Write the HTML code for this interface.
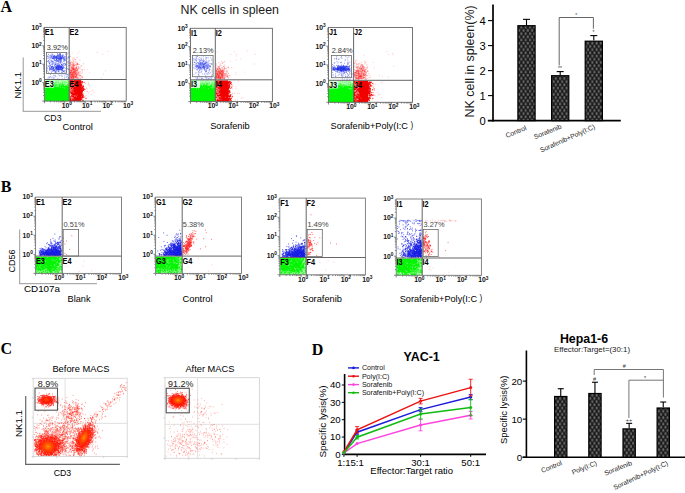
<!DOCTYPE html>
<html><head><meta charset="utf-8"><style>
html,body{margin:0;padding:0;background:#fff;width:685px;height:493px;overflow:hidden}
svg{display:block}
</style></head><body>
<svg width="685" height="493" viewBox="0 0 685 493">
<rect width="685" height="493" fill="#fff"/>
<defs><linearGradient id="gtop" x1="0" y1="0" x2="0" y2="1"><stop offset="0" stop-color="#fff" stop-opacity="0.6"/><stop offset="1" stop-color="#fff" stop-opacity="0"/></linearGradient></defs>
<text x="0.5" y="11.8" font-size="16" text-anchor="start" font-weight="bold" fill="#000" font-family='"Liberation Serif", serif' >A</text>
<text x="0.8" y="191.5" font-size="16" text-anchor="start" font-weight="bold" fill="#000" font-family='"Liberation Serif", serif' >B</text>
<text x="0.6" y="354.1" font-size="16" text-anchor="start" font-weight="bold" fill="#000" font-family='"Liberation Serif", serif' >C</text>
<text x="311.7" y="354.7" font-size="16" text-anchor="start" font-weight="bold" fill="#000" font-family='"Liberation Serif", serif' >D</text>
<text x="180.6" y="14.1" font-size="12.4" text-anchor="start" font-weight="normal" fill="#1a1a1a" font-family='"Liberation Sans", sans-serif' textLength="98.3" lengthAdjust="spacingAndGlyphs" >NK cells in spleen</text>
<line x1="42.2" y1="101.1" x2="44.4" y2="101.1" stroke="#555" stroke-width="0.7" />
<line x1="43.1" y1="95.6" x2="44.4" y2="95.6" stroke="#555" stroke-width="0.7" />
<line x1="43.1" y1="92.3" x2="44.4" y2="92.3" stroke="#555" stroke-width="0.7" />
<line x1="43.1" y1="90" x2="44.4" y2="90" stroke="#555" stroke-width="0.7" />
<line x1="43.1" y1="88.2" x2="44.4" y2="88.2" stroke="#555" stroke-width="0.7" />
<line x1="43.1" y1="86.8" x2="44.4" y2="86.8" stroke="#555" stroke-width="0.7" />
<line x1="43.1" y1="85.5" x2="44.4" y2="85.5" stroke="#555" stroke-width="0.7" />
<line x1="43.1" y1="84.5" x2="44.4" y2="84.5" stroke="#555" stroke-width="0.7" />
<line x1="43.1" y1="83.5" x2="44.4" y2="83.5" stroke="#555" stroke-width="0.7" />
<line x1="42.2" y1="82.7" x2="44.4" y2="82.7" stroke="#555" stroke-width="0.7" />
<line x1="43.1" y1="77.1" x2="44.4" y2="77.1" stroke="#555" stroke-width="0.7" />
<line x1="43.1" y1="73.9" x2="44.4" y2="73.9" stroke="#555" stroke-width="0.7" />
<line x1="43.1" y1="71.6" x2="44.4" y2="71.6" stroke="#555" stroke-width="0.7" />
<line x1="43.1" y1="69.8" x2="44.4" y2="69.8" stroke="#555" stroke-width="0.7" />
<line x1="43.1" y1="68.3" x2="44.4" y2="68.3" stroke="#555" stroke-width="0.7" />
<line x1="43.1" y1="67.1" x2="44.4" y2="67.1" stroke="#555" stroke-width="0.7" />
<line x1="43.1" y1="66" x2="44.4" y2="66" stroke="#555" stroke-width="0.7" />
<line x1="43.1" y1="65.1" x2="44.4" y2="65.1" stroke="#555" stroke-width="0.7" />
<line x1="42.2" y1="64.2" x2="44.4" y2="64.2" stroke="#555" stroke-width="0.7" />
<line x1="43.1" y1="58.7" x2="44.4" y2="58.7" stroke="#555" stroke-width="0.7" />
<line x1="43.1" y1="55.5" x2="44.4" y2="55.5" stroke="#555" stroke-width="0.7" />
<line x1="43.1" y1="53.2" x2="44.4" y2="53.2" stroke="#555" stroke-width="0.7" />
<line x1="43.1" y1="51.4" x2="44.4" y2="51.4" stroke="#555" stroke-width="0.7" />
<line x1="43.1" y1="49.9" x2="44.4" y2="49.9" stroke="#555" stroke-width="0.7" />
<line x1="43.1" y1="48.7" x2="44.4" y2="48.7" stroke="#555" stroke-width="0.7" />
<line x1="43.1" y1="47.6" x2="44.4" y2="47.6" stroke="#555" stroke-width="0.7" />
<line x1="43.1" y1="46.7" x2="44.4" y2="46.7" stroke="#555" stroke-width="0.7" />
<line x1="42.2" y1="45.8" x2="44.4" y2="45.8" stroke="#555" stroke-width="0.7" />
<line x1="43.1" y1="40.3" x2="44.4" y2="40.3" stroke="#555" stroke-width="0.7" />
<line x1="43.1" y1="37" x2="44.4" y2="37" stroke="#555" stroke-width="0.7" />
<line x1="43.1" y1="34.7" x2="44.4" y2="34.7" stroke="#555" stroke-width="0.7" />
<line x1="43.1" y1="32.9" x2="44.4" y2="32.9" stroke="#555" stroke-width="0.7" />
<line x1="43.1" y1="31.5" x2="44.4" y2="31.5" stroke="#555" stroke-width="0.7" />
<line x1="43.1" y1="30.3" x2="44.4" y2="30.3" stroke="#555" stroke-width="0.7" />
<line x1="43.1" y1="29.2" x2="44.4" y2="29.2" stroke="#555" stroke-width="0.7" />
<line x1="43.1" y1="28.2" x2="44.4" y2="28.2" stroke="#555" stroke-width="0.7" />
<line x1="44.4" y1="101.1" x2="44.4" y2="103.3" stroke="#555" stroke-width="0.7" />
<line x1="50.6" y1="101.1" x2="50.6" y2="102.4" stroke="#555" stroke-width="0.7" />
<line x1="54.2" y1="101.1" x2="54.2" y2="102.4" stroke="#555" stroke-width="0.7" />
<line x1="56.7" y1="101.1" x2="56.7" y2="102.4" stroke="#555" stroke-width="0.7" />
<line x1="58.7" y1="101.1" x2="58.7" y2="102.4" stroke="#555" stroke-width="0.7" />
<line x1="60.3" y1="101.1" x2="60.3" y2="102.4" stroke="#555" stroke-width="0.7" />
<line x1="61.7" y1="101.1" x2="61.7" y2="102.4" stroke="#555" stroke-width="0.7" />
<line x1="62.9" y1="101.1" x2="62.9" y2="102.4" stroke="#555" stroke-width="0.7" />
<line x1="63.9" y1="101.1" x2="63.9" y2="102.4" stroke="#555" stroke-width="0.7" />
<line x1="64.8" y1="101.1" x2="64.8" y2="103.3" stroke="#555" stroke-width="0.7" />
<line x1="71" y1="101.1" x2="71" y2="102.4" stroke="#555" stroke-width="0.7" />
<line x1="74.6" y1="101.1" x2="74.6" y2="102.4" stroke="#555" stroke-width="0.7" />
<line x1="77.2" y1="101.1" x2="77.2" y2="102.4" stroke="#555" stroke-width="0.7" />
<line x1="79.1" y1="101.1" x2="79.1" y2="102.4" stroke="#555" stroke-width="0.7" />
<line x1="80.8" y1="101.1" x2="80.8" y2="102.4" stroke="#555" stroke-width="0.7" />
<line x1="82.1" y1="101.1" x2="82.1" y2="102.4" stroke="#555" stroke-width="0.7" />
<line x1="83.3" y1="101.1" x2="83.3" y2="102.4" stroke="#555" stroke-width="0.7" />
<line x1="84.4" y1="101.1" x2="84.4" y2="102.4" stroke="#555" stroke-width="0.7" />
<line x1="85.3" y1="101.1" x2="85.3" y2="103.3" stroke="#555" stroke-width="0.7" />
<line x1="91.5" y1="101.1" x2="91.5" y2="102.4" stroke="#555" stroke-width="0.7" />
<line x1="95.1" y1="101.1" x2="95.1" y2="102.4" stroke="#555" stroke-width="0.7" />
<line x1="97.6" y1="101.1" x2="97.6" y2="102.4" stroke="#555" stroke-width="0.7" />
<line x1="99.6" y1="101.1" x2="99.6" y2="102.4" stroke="#555" stroke-width="0.7" />
<line x1="101.2" y1="101.1" x2="101.2" y2="102.4" stroke="#555" stroke-width="0.7" />
<line x1="102.6" y1="101.1" x2="102.6" y2="102.4" stroke="#555" stroke-width="0.7" />
<line x1="103.8" y1="101.1" x2="103.8" y2="102.4" stroke="#555" stroke-width="0.7" />
<line x1="104.8" y1="101.1" x2="104.8" y2="102.4" stroke="#555" stroke-width="0.7" />
<line x1="105.8" y1="101.1" x2="105.8" y2="103.3" stroke="#555" stroke-width="0.7" />
<line x1="111.9" y1="101.1" x2="111.9" y2="102.4" stroke="#555" stroke-width="0.7" />
<line x1="115.5" y1="101.1" x2="115.5" y2="102.4" stroke="#555" stroke-width="0.7" />
<line x1="118.1" y1="101.1" x2="118.1" y2="102.4" stroke="#555" stroke-width="0.7" />
<line x1="120" y1="101.1" x2="120" y2="102.4" stroke="#555" stroke-width="0.7" />
<line x1="121.7" y1="101.1" x2="121.7" y2="102.4" stroke="#555" stroke-width="0.7" />
<line x1="123" y1="101.1" x2="123" y2="102.4" stroke="#555" stroke-width="0.7" />
<line x1="124.2" y1="101.1" x2="124.2" y2="102.4" stroke="#555" stroke-width="0.7" />
<line x1="125.3" y1="101.1" x2="125.3" y2="102.4" stroke="#555" stroke-width="0.7" />
<text x="41.6" y="84.975" font-size="6.8" text-anchor="end" font-weight="bold" fill="#111" font-family='"Liberation Sans", sans-serif'>10<tspan font-size="4.76" dy="-2.6">0</tspan></text>
<text x="61.64999999999999" y="107.89999999999999" font-size="6.8" font-weight="bold" fill="#111" font-family='"Liberation Sans", sans-serif'>10<tspan font-size="4.76" dy="-2.6">0</tspan></text>
<text x="41.6" y="66.55" font-size="6.8" text-anchor="end" font-weight="bold" fill="#111" font-family='"Liberation Sans", sans-serif'>10<tspan font-size="4.76" dy="-2.6">1</tspan></text>
<text x="82.10000000000001" y="107.89999999999999" font-size="6.8" font-weight="bold" fill="#111" font-family='"Liberation Sans", sans-serif'>10<tspan font-size="4.76" dy="-2.6">1</tspan></text>
<text x="41.6" y="48.125" font-size="6.8" text-anchor="end" font-weight="bold" fill="#111" font-family='"Liberation Sans", sans-serif'>10<tspan font-size="4.76" dy="-2.6">2</tspan></text>
<text x="102.55" y="107.89999999999999" font-size="6.8" font-weight="bold" fill="#111" font-family='"Liberation Sans", sans-serif'>10<tspan font-size="4.76" dy="-2.6">2</tspan></text>
<text x="41.6" y="29.700000000000006" font-size="6.8" text-anchor="end" font-weight="bold" fill="#111" font-family='"Liberation Sans", sans-serif'>10<tspan font-size="4.76" dy="-2.6">3</tspan></text>
<text x="123.00000000000001" y="107.89999999999999" font-size="6.8" font-weight="bold" fill="#111" font-family='"Liberation Sans", sans-serif'>10<tspan font-size="4.76" dy="-2.6">3</tspan></text>
<rect x="44.8" y="80.1" width="24.400000000000006" height="20.999999999999993" fill="#00f800"/>
<rect x="44.8" y="80.1" width="24.400000000000006" height="6" fill="url(#gtop)"/>
<path stroke="#ffffff" stroke-opacity="0.5" stroke-width="0.9" d="M59.6 81.2h.9M66.0 80.9h.9M63.1 82.6h.9M50.2 81.0h.9M52.0 87.5h.9M65.4 84.5h.9M45.0 81.8h.9M64.2 88.0h.9M63.6 83.5h.9M55.9 86.7h.9M52.0 83.2h.9M51.4 83.5h.9M50.9 83.3h.9M55.4 81.0h.9M56.8 85.9h.9M57.9 84.9h.9M63.5 80.8h.9M59.5 81.5h.9M50.0 84.0h.9M48.7 84.4h.9M59.3 82.5h.9M45.9 80.7h.9M45.7 83.3h.9M57.0 82.7h.9M55.9 85.0h.9M66.5 84.9h.9M59.7 81.1h.9M57.0 83.9h.9M56.6 80.6h.9M50.7 83.0h.9M45.2 81.7h.9M49.4 82.5h.9M61.2 80.6h.9M49.6 81.9h.9M53.6 81.6h.9M45.0 85.4h.9M64.4 83.4h.9M48.5 86.3h.9M51.2 82.9h.9M65.6 84.2h.9M56.9 81.7h.9M64.8 85.5h.9M59.9 85.6h.9M62.3 81.3h.9M47.1 82.8h.9M57.6 86.7h.9M56.8 83.1h.9M65.4 80.6h.9M53.4 80.8h.9M59.0 83.2h.9M46.3 82.1h.9M54.0 82.4h.9M52.5 81.1h.9M48.4 84.4h.9M64.1 84.8h.9M53.8 85.2h.9M58.8 81.6h.9M59.1 80.7h.9M59.9 82.1h.9M60.8 82.3h.9M48.4 82.8h.9M55.2 81.6h.9M50.5 81.1h.9M54.4 80.6h.9M47.2 84.7h.9M67.6 82.9h.9M50.0 81.9h.9M60.7 82.5h.9M52.0 85.4h.9M65.4 83.9h.9M60.5 83.9h.9M48.0 81.0h.9M64.8 82.4h.9M67.1 83.3h.9M66.1 83.5h.9M58.3 83.8h.9M48.3 82.1h.9M49.4 85.9h.9M66.7 84.9h.9M57.9 83.6h.9M49.1 82.3h.9M65.7 83.6h.9M60.0 87.1h.9M58.3 85.7h.9M53.7 84.6h.9M54.6 86.5h.9M50.5 83.4h.9M45.8 84.1h.9M65.5 80.6h.9M55.9 83.5h.9M57.8 86.3h.9M52.5 87.9h.9M62.6 81.5h.9M45.5 80.7h.9M53.6 81.4h.9M45.6 80.7h.9M47.8 83.6h.9M67.6 85.8h.9M60.4 81.1h.9M55.0 84.0h.9M57.2 86.3h.9M65.4 82.3h.9M53.0 80.8h.9M58.8 82.0h.9M61.0 84.0h.9M53.3 82.9h.9M57.1 84.0h.9M62.9 83.7h.9M66.3 81.2h.9M48.4 83.3h.9M66.8 81.8h.9M45.0 81.7h.9M62.6 87.6h.9M63.9 85.4h.9M48.1 83.7h.9M54.7 80.9h.9M64.1 80.6h.9"/>
<rect x="44.9" y="80.7" width="9" height="7" fill="#fff" opacity="0.75"/>
<rect x="69.7" y="80.7" width="9" height="7" fill="#fff" opacity="0.2"/>
<rect x="69.60000000000001" y="80.1" width="11.4" height="21.0" fill="#f20000"/>
<path stroke="#f20000" stroke-opacity="1.0" stroke-width="1.0" d="M82.3 100.0h1M80.6 85.1h1M81.1 90.9h1M79.9 90.7h1M79.9 98.9h1M80.3 81.8h1M81.8 87.2h1M79.8 92.8h1M83.6 82.3h1M81.0 85.6h1M83.2 90.1h1M85.5 98.3h1M80.7 95.9h1M82.1 97.2h1M79.9 95.9h1M81.8 94.9h1M81.4 97.7h1M81.8 94.4h1M80.1 95.4h1M79.9 86.9h1M79.9 84.3h1M79.9 95.8h1M81.2 84.3h1M80.8 99.0h1M80.2 92.7h1M81.6 87.5h1M80.7 99.4h1M81.0 84.0h1M81.7 91.1h1M82.0 82.8h1M80.0 99.9h1M79.8 92.3h1M82.1 96.8h1M82.8 86.5h1M82.3 96.7h1M80.6 94.8h1M81.1 93.6h1M80.5 99.6h1M84.3 89.5h1M80.2 89.1h1M79.9 94.6h1M79.9 97.4h1M81.7 87.6h1M80.3 94.1h1M80.1 85.1h1M81.9 91.8h1M80.4 96.1h1M79.8 82.3h1M82.5 95.3h1M80.8 81.3h1M80.5 99.8h1M83.0 90.2h1M82.5 89.0h1M81.5 95.1h1M81.4 91.3h1M81.0 95.3h1M80.0 82.7h1M80.2 92.0h1M80.2 91.9h1M80.2 99.3h1M79.9 81.8h1M82.4 89.9h1M80.8 93.4h1M79.9 91.8h1M80.8 82.5h1M80.9 92.6h1M82.6 85.4h1M80.7 84.8h1M79.9 98.2h1M80.4 84.9h1M81.7 89.9h1M79.9 95.7h1M81.3 94.9h1M80.5 91.8h1M80.2 96.8h1M80.2 90.1h1M80.0 93.2h1M82.6 97.1h1M80.2 94.3h1M81.3 93.6h1M81.3 89.0h1M81.1 91.9h1M80.8 88.8h1M82.5 95.6h1M80.3 88.5h1M80.8 90.1h1M80.1 95.8h1M79.8 90.9h1M81.5 87.6h1M80.6 97.2h1M83.3 88.5h1M80.2 97.6h1M80.2 96.4h1M81.6 89.8h1M80.4 95.0h1M82.0 81.7h1M81.7 88.6h1M82.0 97.9h1M81.4 92.4h1M81.7 91.9h1M82.5 94.0h1M80.3 94.3h1M80.8 92.4h1M83.2 89.2h1M80.1 84.6h1M80.8 86.7h1M82.2 86.7h1M79.9 89.4h1M82.4 100.6h1M81.5 87.9h1M81.4 89.8h1M81.3 88.3h1M80.7 92.4h1M80.3 99.6h1M80.2 98.4h1M80.2 88.4h1M80.3 86.2h1M80.3 98.3h1M79.9 90.7h1M80.2 94.4h1M79.9 82.4h1M80.7 98.0h1M83.1 87.1h1M80.8 90.7h1M79.9 84.9h1M82.7 89.2h1M80.5 97.2h1M83.2 97.2h1M82.3 90.3h1"/>
<path stroke="#fff" stroke-opacity="0.5" stroke-width="0.8" d="M70.6 91.0h.8M73.2 81.3h.8M76.7 95.1h.8M71.0 94.5h.8M72.4 89.2h.8M72.3 97.6h.8M72.4 95.7h.8M70.4 87.5h.8M73.5 82.4h.8M72.1 83.5h.8M73.2 84.5h.8M71.8 86.9h.8M70.7 89.7h.8M71.9 99.1h.8M74.4 86.4h.8M70.7 98.5h.8M69.8 94.2h.8M69.9 97.6h.8M69.9 88.8h.8M72.5 81.0h.8M69.9 96.3h.8M69.8 85.7h.8M72.9 83.7h.8M74.4 96.6h.8M70.0 94.4h.8M71.6 85.1h.8M69.9 86.1h.8M71.2 99.3h.8M71.6 86.2h.8M69.8 94.7h.8M72.3 83.4h.8M71.2 96.9h.8M70.0 83.2h.8M70.3 91.0h.8M70.2 81.6h.8M71.5 91.7h.8M72.1 97.5h.8M70.3 82.6h.8M71.1 86.3h.8M70.3 95.9h.8M69.7 92.8h.8M73.1 87.0h.8M69.9 93.2h.8M73.1 89.8h.8M71.2 97.8h.8M70.4 86.6h.8M74.9 95.8h.8M69.9 93.4h.8M70.1 95.4h.8M70.1 88.3h.8M70.8 95.1h.8M70.6 94.6h.8M72.1 88.5h.8M70.4 81.4h.8M71.1 99.8h.8M69.9 94.9h.8M72.7 84.9h.8M70.3 95.2h.8M70.1 86.4h.8M70.1 90.1h.8M70.8 97.8h.8M71.1 89.7h.8M73.9 86.5h.8M70.9 86.9h.8M70.3 82.4h.8M70.4 85.2h.8M70.7 86.2h.8M71.3 84.3h.8M70.3 82.1h.8M71.3 90.0h.8M70.8 85.1h.8M70.2 95.4h.8M73.5 99.0h.8M71.0 86.3h.8M72.6 92.1h.8M72.2 90.8h.8M70.3 82.4h.8M73.6 83.3h.8M72.1 98.2h.8M70.1 90.2h.8M76.0 96.7h.8M70.6 82.2h.8M73.4 92.6h.8M72.9 97.9h.8M71.3 97.9h.8M72.9 81.0h.8M70.6 91.1h.8M70.4 88.1h.8M74.1 95.8h.8M73.7 82.3h.8"/>
<path stroke="#f44" stroke-opacity="0.5" stroke-width="0.8" d="M84.4 96.6h.8M86.4 91.7h.8M88.7 84.8h.8M93.6 92.3h.8M92.3 90.5h.8M87.7 84.2h.8M88.3 93.0h.8M84.5 96.9h.8M85.0 83.5h.8M87.4 91.6h.8M85.7 95.3h.8M86.7 88.8h.8M89.0 86.2h.8M85.9 88.2h.8M89.8 91.5h.8M90.5 94.4h.8M83.9 91.9h.8M88.1 83.0h.8"/>
<path stroke="#f22" stroke-opacity="0.42" stroke-width="0.9" d="M79.4 60.1h.9M75.4 72.9h.9M75.8 68.7h.9M75.6 74.3h.9M72.7 67.5h.9M74.9 69.1h.9M75.8 77.7h.9M72.2 75.0h.9M72.2 64.2h.9M71.3 74.8h.9M77.7 74.3h.9M74.3 71.7h.9M77.3 69.7h.9M80.3 71.7h.9M73.5 69.6h.9M70.3 70.6h.9M71.6 65.7h.9M73.7 72.7h.9M74.6 71.9h.9M74.4 75.1h.9M73.0 76.0h.9M72.3 75.1h.9M73.1 73.3h.9M71.5 72.2h.9M71.3 71.1h.9M73.3 66.4h.9M80.3 73.2h.9M78.0 68.5h.9M75.9 70.0h.9M71.0 68.9h.9M78.4 73.9h.9M73.2 68.6h.9M72.4 68.3h.9M73.7 59.3h.9M71.9 68.6h.9M73.1 60.9h.9M69.6 72.7h.9M81.4 76.8h.9M73.2 64.9h.9M72.6 68.4h.9M75.9 74.9h.9M69.5 73.0h.9M73.8 73.8h.9M78.8 75.1h.9M71.0 76.7h.9M73.7 69.3h.9M71.6 66.6h.9M78.6 73.3h.9M71.1 72.6h.9M71.5 73.5h.9M75.5 67.8h.9M78.3 72.2h.9M76.0 75.6h.9M71.1 70.0h.9M75.3 68.0h.9M70.2 63.1h.9M72.1 76.2h.9M71.1 66.9h.9M74.7 70.7h.9M74.5 73.1h.9M79.0 76.0h.9M72.7 69.4h.9M70.8 62.0h.9M70.2 66.0h.9M74.9 59.8h.9M71.1 70.9h.9M75.8 70.7h.9M73.0 68.1h.9M74.6 72.6h.9M73.8 72.9h.9M75.6 72.5h.9M73.5 61.7h.9M77.7 72.1h.9M74.9 67.8h.9M74.8 69.7h.9M74.8 74.3h.9M72.8 78.3h.9M72.5 70.0h.9M74.1 78.5h.9M72.4 77.9h.9M73.1 64.8h.9M70.9 74.2h.9M73.7 69.8h.9M71.2 70.7h.9M75.3 62.5h.9M70.9 67.6h.9M73.3 72.8h.9M76.8 78.3h.9M69.9 72.5h.9M71.8 71.8h.9M70.5 68.0h.9M76.1 75.4h.9M71.7 76.6h.9M70.0 72.8h.9M70.0 64.0h.9M71.7 67.8h.9M73.9 74.3h.9M72.7 63.8h.9M76.2 70.8h.9M75.3 68.9h.9M73.1 70.9h.9M70.3 74.7h.9M75.6 76.8h.9M74.2 76.9h.9M77.5 63.8h.9M71.7 72.2h.9M76.7 74.8h.9M71.3 70.7h.9M72.8 78.4h.9M82.1 70.8h.9M76.1 67.4h.9M73.1 76.9h.9M74.5 74.3h.9M77.6 78.5h.9M72.4 58.2h.9M73.5 68.9h.9M73.8 70.2h.9M78.0 67.0h.9M74.5 74.1h.9M69.5 70.0h.9M76.4 66.1h.9M76.1 70.2h.9M74.3 65.6h.9M73.9 74.4h.9M79.7 75.5h.9M70.2 68.7h.9M73.0 77.7h.9M75.0 70.0h.9M76.0 67.4h.9M71.9 74.0h.9M74.5 77.6h.9M72.4 69.1h.9M73.8 74.9h.9M72.9 72.4h.9M73.3 68.7h.9M70.0 72.6h.9M72.6 72.2h.9M75.7 77.3h.9M69.7 78.3h.9M69.7 74.9h.9M77.4 69.3h.9M81.5 69.7h.9M80.5 76.0h.9M72.6 76.4h.9M73.8 75.5h.9M77.1 64.0h.9M73.2 65.9h.9M78.3 64.3h.9M71.0 67.9h.9M76.0 76.5h.9M71.6 72.3h.9M76.6 73.5h.9M75.8 74.0h.9M73.9 69.8h.9M73.6 72.8h.9M71.8 62.7h.9M70.9 74.5h.9M72.7 67.5h.9M77.6 74.1h.9M77.6 72.6h.9M71.2 77.6h.9M69.5 63.4h.9M73.1 69.3h.9M72.1 74.0h.9M76.7 57.4h.9M77.6 68.4h.9M71.9 74.3h.9M75.9 74.7h.9M71.1 74.5h.9M74.6 64.5h.9M71.7 73.1h.9M73.6 71.6h.9M73.5 63.2h.9M71.4 78.2h.9M77.3 77.3h.9M76.5 76.2h.9M77.6 67.0h.9M81.3 65.5h.9M70.5 71.7h.9M76.2 74.6h.9M72.3 78.2h.9M79.9 75.4h.9M79.4 75.3h.9M70.0 65.2h.9M75.7 73.3h.9M76.2 68.7h.9M76.0 65.1h.9M73.2 65.4h.9M75.0 70.0h.9M75.7 61.8h.9M73.1 64.9h.9M77.0 63.1h.9M75.6 75.4h.9M76.8 64.0h.9M72.6 68.9h.9M70.3 78.4h.9M74.7 71.6h.9M70.2 71.0h.9M73.3 66.0h.9M75.1 65.0h.9M77.0 75.0h.9M72.9 74.8h.9M77.1 64.7h.9M73.5 67.0h.9M73.1 76.2h.9M75.4 76.4h.9M77.1 69.1h.9M72.2 76.7h.9M72.5 76.4h.9M72.8 62.3h.9M73.7 71.1h.9M70.2 75.4h.9M77.0 69.5h.9M72.0 60.1h.9M75.0 71.3h.9M70.5 77.5h.9M74.8 59.8h.9M80.5 66.2h.9M71.1 73.8h.9M72.1 66.0h.9M74.9 76.7h.9M73.6 68.7h.9M73.6 57.8h.9M72.6 72.8h.9M74.4 65.7h.9M69.7 62.7h.9M70.0 67.0h.9M79.0 72.0h.9M69.7 72.3h.9M74.4 72.7h.9M73.2 68.3h.9M75.4 70.9h.9M79.5 78.4h.9M74.1 65.5h.9M73.8 71.3h.9M70.0 65.0h.9M75.4 73.7h.9M76.3 68.4h.9M73.2 74.3h.9M79.5 67.6h.9M72.4 65.5h.9M70.6 75.8h.9M72.5 68.7h.9M73.8 70.9h.9M81.9 77.8h.9M77.4 74.7h.9M69.5 74.6h.9M70.3 76.6h.9M72.0 69.5h.9M76.9 70.5h.9M70.5 62.6h.9M71.0 70.3h.9M76.5 64.4h.9M76.4 72.1h.9M72.1 67.2h.9M71.0 64.4h.9M76.0 67.3h.9M71.2 77.4h.9M79.9 78.1h.9M77.5 70.9h.9M76.4 63.9h.9M70.8 69.0h.9M70.1 56.3h.9M78.5 66.8h.9M69.5 71.7h.9M72.5 73.6h.9M72.6 64.1h.9M74.0 68.9h.9M74.4 75.8h.9M72.7 74.3h.9M69.9 73.0h.9M72.8 78.1h.9M70.7 64.8h.9M78.2 78.1h.9M75.2 77.3h.9M75.5 76.1h.9M73.8 67.2h.9M71.9 76.7h.9M71.1 70.9h.9M71.8 74.7h.9M71.7 70.4h.9M72.9 77.7h.9M72.5 69.7h.9M72.1 74.2h.9M73.6 75.6h.9M70.8 71.4h.9M70.0 76.5h.9M74.2 77.2h.9M81.6 77.7h.9M73.3 71.6h.9M69.7 63.0h.9M70.3 73.2h.9M73.4 71.9h.9M73.6 71.3h.9M74.1 73.0h.9M71.3 73.1h.9M71.4 77.1h.9M72.9 72.8h.9M71.3 78.4h.9M70.4 76.4h.9M75.0 74.0h.9M77.0 78.4h.9M71.8 67.3h.9M77.6 77.0h.9M73.1 74.6h.9M70.6 72.6h.9M72.8 77.4h.9M81.8 73.0h.9M75.1 73.3h.9M74.9 77.8h.9M77.2 71.2h.9M71.4 75.7h.9M73.0 78.0h.9M75.3 71.8h.9M72.5 73.3h.9M71.4 75.6h.9M73.5 63.7h.9M72.6 76.4h.9M72.4 75.5h.9M70.2 75.3h.9M70.2 78.2h.9M71.6 74.6h.9M76.1 78.0h.9M78.7 64.5h.9M74.9 77.8h.9M72.9 68.9h.9M71.2 77.4h.9M69.9 75.0h.9M72.1 69.0h.9M71.4 78.4h.9M73.0 77.6h.9M83.1 63.8h.9M78.1 73.0h.9M74.1 76.6h.9M71.2 76.2h.9M70.0 77.5h.9M75.9 77.7h.9M75.0 76.4h.9M70.3 70.2h.9M76.3 72.6h.9M70.4 77.3h.9M71.5 78.3h.9M70.0 76.6h.9M71.6 75.2h.9M76.7 73.3h.9M73.6 70.8h.9M75.4 71.7h.9M72.6 68.4h.9M70.0 73.3h.9M81.6 76.1h.9M69.5 73.7h.9M74.5 68.8h.9M71.6 66.9h.9M76.7 70.1h.9M74.7 76.4h.9M74.5 77.0h.9M76.2 75.6h.9M76.7 64.0h.9M71.0 75.8h.9M73.6 69.1h.9M69.8 74.6h.9M75.3 76.4h.9M73.9 71.0h.9M69.5 69.5h.9M69.7 72.1h.9M72.2 75.1h.9M78.5 75.3h.9M69.5 72.2h.9M74.8 73.7h.9M71.7 72.7h.9M72.9 76.1h.9M72.5 64.7h.9M70.1 70.4h.9M72.6 75.9h.9M69.6 73.7h.9M77.3 76.9h.9M75.6 71.9h.9M73.2 76.9h.9M71.7 71.8h.9M71.3 78.4h.9M75.2 70.5h.9M72.5 70.4h.9M79.5 69.0h.9M72.6 78.2h.9M72.9 72.7h.9M71.4 77.3h.9"/>
<path stroke="#f66" stroke-opacity="0.5" stroke-width="0.8" d="M102.3 54.5h.8M78.5 52.0h.8M70.5 61.3h.8M87.3 69.3h.8M71.7 52.9h.8M107.6 51.6h.8M69.5 69.5h.8M82.2 77.3h.8M77.3 53.9h.8M69.7 60.0h.8M89.2 72.9h.8M72.2 62.9h.8M105.2 70.7h.8M96.7 52.3h.8M84.0 69.6h.8M102.9 74.0h.8M101.1 78.6h.8M82.3 69.6h.8"/>
<line x1="188.3" y1="101.6" x2="190.5" y2="101.6" stroke="#555" stroke-width="0.7" />
<line x1="189.2" y1="96.1" x2="190.5" y2="96.1" stroke="#555" stroke-width="0.7" />
<line x1="189.2" y1="92.9" x2="190.5" y2="92.9" stroke="#555" stroke-width="0.7" />
<line x1="189.2" y1="90.6" x2="190.5" y2="90.6" stroke="#555" stroke-width="0.7" />
<line x1="189.2" y1="88.8" x2="190.5" y2="88.8" stroke="#555" stroke-width="0.7" />
<line x1="189.2" y1="87.3" x2="190.5" y2="87.3" stroke="#555" stroke-width="0.7" />
<line x1="189.2" y1="86.1" x2="190.5" y2="86.1" stroke="#555" stroke-width="0.7" />
<line x1="189.2" y1="85.1" x2="190.5" y2="85.1" stroke="#555" stroke-width="0.7" />
<line x1="189.2" y1="84.1" x2="190.5" y2="84.1" stroke="#555" stroke-width="0.7" />
<line x1="188.3" y1="83.3" x2="190.5" y2="83.3" stroke="#555" stroke-width="0.7" />
<line x1="189.2" y1="77.8" x2="190.5" y2="77.8" stroke="#555" stroke-width="0.7" />
<line x1="189.2" y1="74.5" x2="190.5" y2="74.5" stroke="#555" stroke-width="0.7" />
<line x1="189.2" y1="72.2" x2="190.5" y2="72.2" stroke="#555" stroke-width="0.7" />
<line x1="189.2" y1="70.5" x2="190.5" y2="70.5" stroke="#555" stroke-width="0.7" />
<line x1="189.2" y1="69" x2="190.5" y2="69" stroke="#555" stroke-width="0.7" />
<line x1="189.2" y1="67.8" x2="190.5" y2="67.8" stroke="#555" stroke-width="0.7" />
<line x1="189.2" y1="66.7" x2="190.5" y2="66.7" stroke="#555" stroke-width="0.7" />
<line x1="189.2" y1="65.8" x2="190.5" y2="65.8" stroke="#555" stroke-width="0.7" />
<line x1="188.3" y1="64.9" x2="190.5" y2="64.9" stroke="#555" stroke-width="0.7" />
<line x1="189.2" y1="59.4" x2="190.5" y2="59.4" stroke="#555" stroke-width="0.7" />
<line x1="189.2" y1="56.2" x2="190.5" y2="56.2" stroke="#555" stroke-width="0.7" />
<line x1="189.2" y1="53.9" x2="190.5" y2="53.9" stroke="#555" stroke-width="0.7" />
<line x1="189.2" y1="52.1" x2="190.5" y2="52.1" stroke="#555" stroke-width="0.7" />
<line x1="189.2" y1="50.7" x2="190.5" y2="50.7" stroke="#555" stroke-width="0.7" />
<line x1="189.2" y1="49.5" x2="190.5" y2="49.5" stroke="#555" stroke-width="0.7" />
<line x1="189.2" y1="48.4" x2="190.5" y2="48.4" stroke="#555" stroke-width="0.7" />
<line x1="189.2" y1="47.5" x2="190.5" y2="47.5" stroke="#555" stroke-width="0.7" />
<line x1="188.3" y1="46.6" x2="190.5" y2="46.6" stroke="#555" stroke-width="0.7" />
<line x1="189.2" y1="41.1" x2="190.5" y2="41.1" stroke="#555" stroke-width="0.7" />
<line x1="189.2" y1="37.9" x2="190.5" y2="37.9" stroke="#555" stroke-width="0.7" />
<line x1="189.2" y1="35.6" x2="190.5" y2="35.6" stroke="#555" stroke-width="0.7" />
<line x1="189.2" y1="33.8" x2="190.5" y2="33.8" stroke="#555" stroke-width="0.7" />
<line x1="189.2" y1="32.4" x2="190.5" y2="32.4" stroke="#555" stroke-width="0.7" />
<line x1="189.2" y1="31.1" x2="190.5" y2="31.1" stroke="#555" stroke-width="0.7" />
<line x1="189.2" y1="30.1" x2="190.5" y2="30.1" stroke="#555" stroke-width="0.7" />
<line x1="189.2" y1="29.1" x2="190.5" y2="29.1" stroke="#555" stroke-width="0.7" />
<line x1="190.5" y1="101.6" x2="190.5" y2="103.8" stroke="#555" stroke-width="0.7" />
<line x1="196.7" y1="101.6" x2="196.7" y2="102.9" stroke="#555" stroke-width="0.7" />
<line x1="200.3" y1="101.6" x2="200.3" y2="102.9" stroke="#555" stroke-width="0.7" />
<line x1="202.8" y1="101.6" x2="202.8" y2="102.9" stroke="#555" stroke-width="0.7" />
<line x1="204.8" y1="101.6" x2="204.8" y2="102.9" stroke="#555" stroke-width="0.7" />
<line x1="206.4" y1="101.6" x2="206.4" y2="102.9" stroke="#555" stroke-width="0.7" />
<line x1="207.8" y1="101.6" x2="207.8" y2="102.9" stroke="#555" stroke-width="0.7" />
<line x1="209" y1="101.6" x2="209" y2="102.9" stroke="#555" stroke-width="0.7" />
<line x1="210" y1="101.6" x2="210" y2="102.9" stroke="#555" stroke-width="0.7" />
<line x1="211" y1="101.6" x2="211" y2="103.8" stroke="#555" stroke-width="0.7" />
<line x1="217.1" y1="101.6" x2="217.1" y2="102.9" stroke="#555" stroke-width="0.7" />
<line x1="220.7" y1="101.6" x2="220.7" y2="102.9" stroke="#555" stroke-width="0.7" />
<line x1="223.3" y1="101.6" x2="223.3" y2="102.9" stroke="#555" stroke-width="0.7" />
<line x1="225.3" y1="101.6" x2="225.3" y2="102.9" stroke="#555" stroke-width="0.7" />
<line x1="226.9" y1="101.6" x2="226.9" y2="102.9" stroke="#555" stroke-width="0.7" />
<line x1="228.3" y1="101.6" x2="228.3" y2="102.9" stroke="#555" stroke-width="0.7" />
<line x1="229.5" y1="101.6" x2="229.5" y2="102.9" stroke="#555" stroke-width="0.7" />
<line x1="230.5" y1="101.6" x2="230.5" y2="102.9" stroke="#555" stroke-width="0.7" />
<line x1="231.4" y1="101.6" x2="231.4" y2="103.8" stroke="#555" stroke-width="0.7" />
<line x1="237.6" y1="101.6" x2="237.6" y2="102.9" stroke="#555" stroke-width="0.7" />
<line x1="241.2" y1="101.6" x2="241.2" y2="102.9" stroke="#555" stroke-width="0.7" />
<line x1="243.8" y1="101.6" x2="243.8" y2="102.9" stroke="#555" stroke-width="0.7" />
<line x1="245.8" y1="101.6" x2="245.8" y2="102.9" stroke="#555" stroke-width="0.7" />
<line x1="247.4" y1="101.6" x2="247.4" y2="102.9" stroke="#555" stroke-width="0.7" />
<line x1="248.8" y1="101.6" x2="248.8" y2="102.9" stroke="#555" stroke-width="0.7" />
<line x1="249.9" y1="101.6" x2="249.9" y2="102.9" stroke="#555" stroke-width="0.7" />
<line x1="251" y1="101.6" x2="251" y2="102.9" stroke="#555" stroke-width="0.7" />
<line x1="251.9" y1="101.6" x2="251.9" y2="103.8" stroke="#555" stroke-width="0.7" />
<line x1="258.1" y1="101.6" x2="258.1" y2="102.9" stroke="#555" stroke-width="0.7" />
<line x1="261.7" y1="101.6" x2="261.7" y2="102.9" stroke="#555" stroke-width="0.7" />
<line x1="264.3" y1="101.6" x2="264.3" y2="102.9" stroke="#555" stroke-width="0.7" />
<line x1="266.2" y1="101.6" x2="266.2" y2="102.9" stroke="#555" stroke-width="0.7" />
<line x1="267.9" y1="101.6" x2="267.9" y2="102.9" stroke="#555" stroke-width="0.7" />
<line x1="269.2" y1="101.6" x2="269.2" y2="102.9" stroke="#555" stroke-width="0.7" />
<line x1="270.4" y1="101.6" x2="270.4" y2="102.9" stroke="#555" stroke-width="0.7" />
<line x1="271.5" y1="101.6" x2="271.5" y2="102.9" stroke="#555" stroke-width="0.7" />
<text x="187.7" y="85.57499999999999" font-size="6.8" text-anchor="end" font-weight="bold" fill="#111" font-family='"Liberation Sans", sans-serif'>10<tspan font-size="4.76" dy="-2.6">0</tspan></text>
<text x="207.775" y="108.39999999999999" font-size="6.8" font-weight="bold" fill="#111" font-family='"Liberation Sans", sans-serif'>10<tspan font-size="4.76" dy="-2.6">0</tspan></text>
<text x="187.7" y="67.24999999999999" font-size="6.8" text-anchor="end" font-weight="bold" fill="#111" font-family='"Liberation Sans", sans-serif'>10<tspan font-size="4.76" dy="-2.6">1</tspan></text>
<text x="228.25" y="108.39999999999999" font-size="6.8" font-weight="bold" fill="#111" font-family='"Liberation Sans", sans-serif'>10<tspan font-size="4.76" dy="-2.6">1</tspan></text>
<text x="187.7" y="48.925" font-size="6.8" text-anchor="end" font-weight="bold" fill="#111" font-family='"Liberation Sans", sans-serif'>10<tspan font-size="4.76" dy="-2.6">2</tspan></text>
<text x="248.725" y="108.39999999999999" font-size="6.8" font-weight="bold" fill="#111" font-family='"Liberation Sans", sans-serif'>10<tspan font-size="4.76" dy="-2.6">2</tspan></text>
<text x="187.7" y="30.599999999999998" font-size="6.8" text-anchor="end" font-weight="bold" fill="#111" font-family='"Liberation Sans", sans-serif'>10<tspan font-size="4.76" dy="-2.6">3</tspan></text>
<text x="269.2" y="108.39999999999999" font-size="6.8" font-weight="bold" fill="#111" font-family='"Liberation Sans", sans-serif'>10<tspan font-size="4.76" dy="-2.6">3</tspan></text>
<rect x="190.9" y="80.39999999999999" width="24.400000000000013" height="21.199999999999996" fill="#00f800"/>
<rect x="190.9" y="80.39999999999999" width="24.400000000000013" height="6" fill="url(#gtop)"/>
<path stroke="#ffffff" stroke-opacity="0.5" stroke-width="0.9" d="M196.1 88.4h.9M201.8 81.6h.9M191.2 84.4h.9M197.9 82.1h.9M210.3 83.2h.9M193.2 87.2h.9M212.8 83.3h.9M210.6 83.0h.9M194.4 81.9h.9M204.9 84.4h.9M204.1 80.9h.9M207.3 81.8h.9M198.2 89.0h.9M200.0 82.9h.9M196.7 82.7h.9M197.9 82.4h.9M195.1 85.5h.9M212.3 86.0h.9M211.9 81.8h.9M199.5 84.4h.9M207.3 85.8h.9M202.5 82.7h.9M197.6 83.7h.9M199.2 81.7h.9M213.7 81.1h.9M199.0 81.1h.9M204.6 80.9h.9M213.2 84.7h.9M198.0 81.3h.9M210.0 81.4h.9M193.7 81.8h.9M208.2 82.0h.9M210.0 84.0h.9M210.7 82.6h.9M207.7 82.8h.9M197.5 83.0h.9M203.3 87.9h.9M196.0 85.5h.9M193.0 82.4h.9M201.3 81.0h.9M207.9 88.5h.9M209.3 82.0h.9M191.4 81.2h.9M213.1 81.9h.9M196.8 81.9h.9M197.9 85.8h.9M210.6 80.9h.9M212.0 88.2h.9M208.3 83.9h.9M198.8 83.3h.9M201.9 84.4h.9M210.6 87.2h.9M199.4 82.0h.9M209.9 81.1h.9M209.4 84.1h.9M202.0 85.2h.9M212.1 84.7h.9M200.0 82.1h.9M208.6 85.7h.9M206.0 81.3h.9M198.8 81.2h.9M203.5 82.1h.9M205.2 83.2h.9M203.6 82.2h.9M193.6 83.5h.9M213.7 86.2h.9M191.9 87.6h.9M213.2 81.3h.9M203.5 82.3h.9M194.0 82.6h.9M210.3 84.2h.9M201.2 81.4h.9M207.8 84.5h.9M210.4 83.3h.9M203.6 81.2h.9M192.2 81.4h.9M210.3 82.1h.9M207.3 81.7h.9M212.4 86.3h.9M197.3 82.9h.9M209.5 81.9h.9M211.5 81.4h.9M199.3 84.3h.9M200.6 85.1h.9M198.8 84.7h.9M191.1 83.6h.9M196.4 86.3h.9M198.8 85.8h.9M193.5 83.4h.9M209.0 85.0h.9M201.0 83.1h.9M204.4 82.6h.9M197.7 86.4h.9M199.5 81.0h.9M208.7 85.3h.9M202.0 85.1h.9M205.0 84.1h.9M200.9 83.2h.9M204.1 81.1h.9M212.1 83.1h.9M197.3 83.7h.9M203.2 82.0h.9M207.1 81.0h.9M193.0 83.7h.9M213.6 87.0h.9M202.7 83.1h.9M196.8 84.7h.9M208.9 80.9h.9M210.2 83.3h.9M205.8 82.5h.9M212.5 87.3h.9M193.1 85.7h.9M203.4 82.7h.9M208.5 81.2h.9M212.5 85.3h.9"/>
<rect x="191.0" y="81.0" width="9" height="7" fill="#fff" opacity="0.75"/>
<rect x="215.8" y="81.0" width="9" height="7" fill="#fff" opacity="0.2"/>
<rect x="215.70000000000002" y="80.39999999999999" width="12.3" height="21.2" fill="#f20000"/>
<path stroke="#f20000" stroke-opacity="1.0" stroke-width="1.0" d="M227.3 86.1h1M227.1 92.7h1M231.8 96.4h1M227.0 84.2h1M230.7 100.3h1M228.1 88.1h1M227.0 101.0h1M229.1 96.2h1M228.4 90.9h1M227.5 88.5h1M227.4 83.2h1M227.1 83.0h1M228.5 93.8h1M228.3 96.6h1M227.8 99.3h1M227.7 88.5h1M229.4 99.9h1M228.3 87.2h1M228.0 99.9h1M229.8 99.5h1M226.9 84.4h1M228.1 98.3h1M227.5 95.2h1M227.2 95.2h1M228.9 97.9h1M229.2 91.9h1M228.8 91.3h1M227.2 88.6h1M230.1 98.4h1M228.7 99.1h1M228.6 84.5h1M230.0 96.6h1M227.4 86.8h1M229.1 84.9h1M227.9 85.2h1M227.2 92.7h1M226.8 86.8h1M227.6 86.1h1M229.6 83.3h1M228.5 87.7h1M229.3 96.6h1M228.9 81.7h1M229.3 90.9h1M227.5 93.2h1M228.0 82.3h1M231.2 87.1h1M228.3 99.2h1M227.1 101.0h1M227.7 98.1h1M230.7 84.7h1M227.1 96.4h1M228.2 90.2h1M227.0 84.7h1M228.7 90.8h1M228.2 99.6h1M227.5 98.7h1M227.8 89.1h1M227.6 82.6h1M229.9 99.1h1M228.4 100.8h1M228.3 91.4h1M227.8 85.8h1M227.7 92.1h1M229.5 95.1h1M226.8 90.8h1M230.3 88.3h1M228.6 86.2h1M227.3 87.2h1M229.4 82.3h1M227.4 86.4h1M227.8 100.2h1M229.5 81.5h1M228.0 95.7h1M226.8 96.9h1M227.5 89.3h1M228.2 93.1h1M229.0 85.7h1M226.9 94.5h1M230.0 95.3h1M227.0 95.8h1M226.8 91.0h1M228.0 100.5h1M228.7 98.5h1M229.4 92.6h1M230.3 94.8h1M229.3 86.7h1M229.7 100.0h1M227.9 94.1h1M227.5 99.0h1M229.0 87.0h1M228.7 100.8h1M230.0 83.4h1M228.5 91.8h1M227.4 83.5h1M228.8 85.1h1M227.4 96.4h1M230.5 82.6h1M227.9 88.9h1M227.8 85.1h1M229.1 98.1h1M230.7 82.9h1M228.2 88.0h1M230.9 98.3h1M227.0 94.9h1M227.1 95.2h1M230.4 100.9h1M227.4 81.8h1M226.8 94.5h1M227.9 96.1h1M229.8 96.1h1M226.9 95.4h1M228.7 82.7h1M227.8 83.0h1M227.4 96.6h1M226.9 93.4h1M226.9 86.5h1M228.5 81.5h1M229.1 91.9h1M229.4 83.1h1M229.0 96.1h1M228.6 88.0h1M227.0 97.3h1M228.2 83.2h1M227.2 91.1h1M227.7 83.3h1M228.2 96.8h1M227.3 92.4h1M228.6 85.9h1M227.8 100.4h1M227.2 94.8h1"/>
<path stroke="#fff" stroke-opacity="0.5" stroke-width="0.8" d="M219.4 96.6h.8M219.3 99.7h.8M216.0 100.9h.8M217.4 87.1h.8M217.7 94.2h.8M219.7 88.9h.8M218.4 90.4h.8M218.8 90.3h.8M216.7 86.7h.8M217.7 81.6h.8M216.1 96.4h.8M216.3 95.0h.8M218.3 97.8h.8M219.8 84.2h.8M218.2 85.9h.8M219.4 93.0h.8M220.7 99.7h.8M217.4 90.5h.8M218.8 85.2h.8M217.1 93.0h.8M216.0 100.2h.8M216.5 98.4h.8M218.5 99.0h.8M218.3 89.3h.8M216.0 86.4h.8M216.6 98.4h.8M218.5 96.8h.8M216.8 98.1h.8M216.5 88.9h.8M218.4 86.9h.8M215.8 86.0h.8M216.6 98.4h.8M216.1 99.4h.8M216.2 88.5h.8M217.5 98.5h.8M216.8 88.8h.8M217.7 90.1h.8M217.4 92.4h.8M219.0 85.6h.8M220.0 86.5h.8M216.8 86.5h.8M216.8 86.3h.8M216.2 91.4h.8M216.9 83.2h.8M217.1 96.7h.8M217.8 84.7h.8M216.2 90.0h.8M218.7 93.9h.8M219.1 83.9h.8M218.3 89.3h.8M217.2 92.4h.8M217.9 92.1h.8M217.6 98.9h.8M218.6 96.7h.8M216.3 83.6h.8M217.8 97.7h.8M216.7 92.1h.8M217.7 94.6h.8M216.3 84.4h.8M216.2 90.5h.8M215.9 95.1h.8M217.2 97.0h.8M225.0 97.2h.8M216.0 85.5h.8M220.5 97.7h.8M216.4 92.5h.8M218.6 94.4h.8M216.5 98.1h.8M216.8 89.2h.8M216.2 99.4h.8M216.1 98.6h.8M217.2 97.2h.8M217.3 88.7h.8M218.1 91.7h.8M218.8 84.6h.8M215.8 96.2h.8M218.2 98.8h.8M216.4 84.4h.8M216.0 95.9h.8M216.2 94.9h.8M217.0 81.9h.8M217.9 99.4h.8M216.4 90.7h.8M217.5 86.5h.8M217.7 81.8h.8M219.9 96.7h.8M216.5 87.9h.8M216.5 91.4h.8M219.5 85.1h.8M218.5 93.2h.8"/>
<path stroke="#f44" stroke-opacity="0.5" stroke-width="0.8" d="M232.3 89.0h.8M235.5 86.8h.8M232.1 93.8h.8M231.8 97.3h.8M234.2 93.4h.8M231.1 94.3h.8M238.9 93.4h.8M232.2 86.3h.8M235.5 88.7h.8M242.6 97.9h.8M235.0 99.9h.8M232.4 84.8h.8M237.9 81.4h.8M236.9 100.2h.8M240.8 98.2h.8M237.3 93.2h.8M231.5 97.4h.8M232.4 93.0h.8"/>
<path stroke="#f22" stroke-opacity="0.42" stroke-width="0.9" d="M223.5 70.9h.9M217.5 69.5h.9M218.0 77.9h.9M217.1 77.5h.9M219.7 69.3h.9M216.3 76.5h.9M219.8 68.5h.9M221.5 75.3h.9M217.3 66.9h.9M218.1 71.0h.9M218.0 72.1h.9M223.5 70.9h.9M219.9 78.2h.9M220.2 78.8h.9M220.1 78.8h.9M222.6 70.6h.9M218.4 74.0h.9M221.8 71.2h.9M220.7 70.8h.9M220.3 78.1h.9M223.8 69.0h.9M223.5 62.3h.9M221.5 67.6h.9M223.3 69.6h.9M220.5 73.6h.9M224.6 77.1h.9M220.0 73.6h.9M224.9 75.0h.9M220.5 69.8h.9M215.9 74.0h.9M219.4 71.3h.9M227.7 78.0h.9M221.9 70.4h.9M222.1 72.2h.9M218.7 66.7h.9M227.0 70.9h.9M216.3 70.9h.9M220.3 72.3h.9M218.8 70.6h.9M218.6 68.1h.9M221.6 73.9h.9M226.1 73.3h.9M224.3 71.4h.9M228.6 75.4h.9M221.7 74.2h.9M219.4 65.0h.9M224.1 68.3h.9M222.0 77.7h.9M222.7 75.2h.9M218.3 77.8h.9M227.4 72.5h.9M218.8 71.2h.9M217.9 78.7h.9M221.3 75.8h.9M218.3 76.8h.9M218.2 75.7h.9M220.4 70.4h.9M218.4 75.4h.9M221.9 74.3h.9M220.9 73.8h.9M216.7 76.7h.9M223.9 69.3h.9M221.7 71.3h.9M220.2 63.9h.9M220.5 65.5h.9M217.3 77.4h.9M222.6 70.4h.9M219.7 69.7h.9M217.2 73.4h.9M223.4 75.5h.9M222.7 77.1h.9M224.3 75.9h.9M219.0 78.3h.9M219.0 71.5h.9M220.5 77.5h.9M217.4 75.0h.9M218.5 72.1h.9M219.5 73.8h.9M225.6 74.0h.9M225.5 75.1h.9M219.2 76.1h.9M225.9 71.9h.9M219.9 70.8h.9M221.5 77.7h.9M223.3 66.4h.9M221.2 71.4h.9M221.0 61.8h.9M215.8 71.1h.9M224.8 77.4h.9M218.6 66.7h.9M223.0 78.5h.9M223.6 73.2h.9M226.2 75.9h.9M219.9 70.1h.9M223.5 78.0h.9M217.4 69.1h.9M218.8 73.0h.9M223.9 78.8h.9M221.5 69.1h.9M221.4 75.0h.9M219.4 68.1h.9M221.7 75.8h.9M218.6 67.3h.9M216.1 70.7h.9M226.5 71.2h.9M220.9 71.0h.9M222.3 78.7h.9M222.4 71.0h.9M215.7 78.8h.9M218.9 74.0h.9M220.6 78.2h.9M223.0 71.8h.9M217.8 71.9h.9M215.9 68.9h.9M223.7 76.9h.9M224.1 78.6h.9M221.6 75.4h.9M220.5 73.3h.9M223.1 76.0h.9M215.6 74.1h.9M219.5 78.6h.9M216.1 70.4h.9M220.9 71.1h.9M218.6 75.7h.9M221.5 73.2h.9M219.9 72.5h.9M221.7 73.0h.9M221.1 72.1h.9M224.0 65.2h.9M215.8 78.2h.9M221.0 71.6h.9M221.7 70.8h.9M227.7 77.6h.9M222.3 73.9h.9M217.0 74.3h.9M223.0 66.5h.9M217.1 73.8h.9M229.5 75.7h.9M221.3 75.9h.9M222.7 74.2h.9M226.6 76.7h.9M221.1 77.0h.9M224.5 74.9h.9M216.4 73.4h.9M225.4 68.3h.9M220.9 76.6h.9M220.7 78.7h.9M217.6 76.4h.9M225.6 68.5h.9M222.5 68.9h.9M221.5 75.4h.9M223.9 67.7h.9M221.9 75.9h.9M222.8 72.6h.9M215.9 65.8h.9M221.9 63.7h.9M228.0 66.9h.9M218.2 75.5h.9M219.6 74.0h.9M223.3 73.1h.9M223.5 75.6h.9M222.3 77.0h.9M221.9 72.9h.9M215.8 70.4h.9M217.1 68.6h.9M222.1 71.7h.9M219.0 73.7h.9M223.0 73.0h.9M231.4 67.6h.9M222.9 72.0h.9M216.9 69.4h.9M217.8 66.5h.9M216.3 75.5h.9M218.2 77.0h.9M216.2 76.4h.9M217.7 69.1h.9M219.3 78.8h.9M216.5 70.6h.9M221.7 73.7h.9M220.3 77.5h.9M223.8 77.1h.9M223.9 74.1h.9M218.9 78.5h.9M222.5 74.6h.9M228.3 67.8h.9M224.4 67.0h.9M219.3 77.8h.9M215.9 67.9h.9M221.5 72.9h.9M217.3 72.0h.9M222.8 72.2h.9M218.3 62.6h.9M223.5 78.3h.9M221.1 74.4h.9M218.3 74.2h.9M217.0 77.6h.9M216.5 68.8h.9M226.9 74.7h.9M218.0 73.4h.9M227.3 76.8h.9M216.2 75.0h.9M222.3 77.3h.9M215.8 72.3h.9M220.7 71.2h.9M222.5 71.2h.9M224.4 73.6h.9M217.2 68.9h.9M221.5 73.6h.9M222.2 67.9h.9M225.9 70.8h.9M222.1 76.6h.9M218.6 74.2h.9M216.4 75.4h.9M222.1 74.4h.9M216.0 64.0h.9M218.2 74.6h.9M225.7 76.3h.9M218.9 69.4h.9M218.0 67.9h.9M221.8 72.5h.9M217.9 76.7h.9M215.9 76.4h.9M218.4 77.2h.9M221.4 76.3h.9M222.1 74.9h.9M220.9 75.1h.9M216.5 78.0h.9M218.2 71.3h.9M216.7 75.8h.9M217.8 71.4h.9M219.1 72.5h.9M215.6 69.9h.9M216.1 73.0h.9M219.7 76.2h.9M220.5 78.8h.9M217.7 74.3h.9M219.3 73.9h.9M226.9 76.5h.9M217.7 72.0h.9M224.3 61.3h.9M225.1 73.5h.9M225.5 75.1h.9M227.4 67.9h.9M219.2 73.1h.9M219.3 77.6h.9M222.3 62.6h.9M220.3 74.9h.9M219.5 72.7h.9M218.8 77.4h.9M216.0 77.0h.9M220.0 70.9h.9M218.9 76.2h.9M218.4 77.7h.9M220.3 72.8h.9M220.8 74.7h.9M215.7 77.1h.9M222.0 77.8h.9M222.1 69.9h.9M221.9 76.8h.9M216.1 74.9h.9M217.6 77.8h.9M215.7 73.9h.9M217.2 78.2h.9M218.9 68.3h.9M216.7 76.1h.9M218.4 78.7h.9M221.7 74.4h.9M219.0 72.6h.9M219.0 75.8h.9M219.1 72.9h.9M216.6 73.7h.9M217.0 74.2h.9M220.8 73.2h.9M221.7 78.5h.9M217.3 73.1h.9M227.2 76.0h.9M219.1 74.7h.9M216.2 78.7h.9M219.7 69.9h.9M222.1 76.1h.9M220.0 78.8h.9M216.1 77.1h.9M217.2 74.5h.9M216.0 71.6h.9M220.3 76.1h.9M220.2 73.3h.9M217.1 74.0h.9M215.7 77.1h.9M216.8 73.0h.9M218.2 77.9h.9M219.9 71.3h.9M215.9 77.0h.9M217.7 77.2h.9M217.1 75.3h.9M222.2 75.4h.9M220.3 74.5h.9M219.2 71.6h.9M217.7 78.2h.9M219.6 77.4h.9M221.8 71.7h.9M220.3 77.3h.9M218.4 75.7h.9M216.5 72.8h.9M216.2 71.8h.9M220.2 77.8h.9M217.8 70.0h.9M220.4 76.3h.9M217.9 76.3h.9M217.0 71.1h.9M216.5 72.1h.9M216.7 75.9h.9M218.9 76.2h.9M217.6 72.3h.9M223.4 74.0h.9M218.4 76.1h.9M218.1 71.9h.9M216.6 73.5h.9M222.2 76.3h.9M216.0 74.0h.9M219.6 73.0h.9M220.1 72.3h.9M215.7 78.1h.9M223.4 73.9h.9M219.5 75.9h.9M216.7 71.6h.9M216.6 77.9h.9M218.7 76.9h.9M219.9 77.4h.9M218.9 68.5h.9M217.9 75.4h.9M227.9 73.5h.9M216.0 77.6h.9M218.8 75.2h.9M222.4 77.5h.9M221.2 71.0h.9M215.9 74.4h.9M217.0 74.6h.9M224.2 78.4h.9M227.3 75.8h.9M219.8 77.3h.9M220.5 76.7h.9M218.5 70.1h.9"/>
<path stroke="#f66" stroke-opacity="0.5" stroke-width="0.8" d="M254.9 54.3h.8M235.4 74.7h.8M230.4 54.6h.8M244.6 72.1h.8M254.0 64.0h.8M240.5 59.0h.8M216.3 75.8h.8M216.8 51.8h.8M233.9 51.5h.8M246.8 51.1h.8M230.3 60.9h.8M236.0 60.1h.8M235.8 53.8h.8M219.1 74.2h.8M215.3 76.5h.8M236.2 55.9h.8M235.5 72.3h.8"/>
<line x1="326.3" y1="102.3" x2="328.5" y2="102.3" stroke="#555" stroke-width="0.7" />
<line x1="327.2" y1="96.7" x2="328.5" y2="96.7" stroke="#555" stroke-width="0.7" />
<line x1="327.2" y1="93.4" x2="328.5" y2="93.4" stroke="#555" stroke-width="0.7" />
<line x1="327.2" y1="91" x2="328.5" y2="91" stroke="#555" stroke-width="0.7" />
<line x1="327.2" y1="89.2" x2="328.5" y2="89.2" stroke="#555" stroke-width="0.7" />
<line x1="327.2" y1="87.7" x2="328.5" y2="87.7" stroke="#555" stroke-width="0.7" />
<line x1="327.2" y1="86.5" x2="328.5" y2="86.5" stroke="#555" stroke-width="0.7" />
<line x1="327.2" y1="85.4" x2="328.5" y2="85.4" stroke="#555" stroke-width="0.7" />
<line x1="327.2" y1="84.5" x2="328.5" y2="84.5" stroke="#555" stroke-width="0.7" />
<line x1="326.3" y1="83.6" x2="328.5" y2="83.6" stroke="#555" stroke-width="0.7" />
<line x1="327.2" y1="78" x2="328.5" y2="78" stroke="#555" stroke-width="0.7" />
<line x1="327.2" y1="74.7" x2="328.5" y2="74.7" stroke="#555" stroke-width="0.7" />
<line x1="327.2" y1="72.3" x2="328.5" y2="72.3" stroke="#555" stroke-width="0.7" />
<line x1="327.2" y1="70.5" x2="328.5" y2="70.5" stroke="#555" stroke-width="0.7" />
<line x1="327.2" y1="69" x2="328.5" y2="69" stroke="#555" stroke-width="0.7" />
<line x1="327.2" y1="67.8" x2="328.5" y2="67.8" stroke="#555" stroke-width="0.7" />
<line x1="327.2" y1="66.7" x2="328.5" y2="66.7" stroke="#555" stroke-width="0.7" />
<line x1="327.2" y1="65.8" x2="328.5" y2="65.8" stroke="#555" stroke-width="0.7" />
<line x1="326.3" y1="64.9" x2="328.5" y2="64.9" stroke="#555" stroke-width="0.7" />
<line x1="327.2" y1="59.3" x2="328.5" y2="59.3" stroke="#555" stroke-width="0.7" />
<line x1="327.2" y1="56" x2="328.5" y2="56" stroke="#555" stroke-width="0.7" />
<line x1="327.2" y1="53.6" x2="328.5" y2="53.6" stroke="#555" stroke-width="0.7" />
<line x1="327.2" y1="51.8" x2="328.5" y2="51.8" stroke="#555" stroke-width="0.7" />
<line x1="327.2" y1="50.3" x2="328.5" y2="50.3" stroke="#555" stroke-width="0.7" />
<line x1="327.2" y1="49.1" x2="328.5" y2="49.1" stroke="#555" stroke-width="0.7" />
<line x1="327.2" y1="48" x2="328.5" y2="48" stroke="#555" stroke-width="0.7" />
<line x1="327.2" y1="47.1" x2="328.5" y2="47.1" stroke="#555" stroke-width="0.7" />
<line x1="326.3" y1="46.2" x2="328.5" y2="46.2" stroke="#555" stroke-width="0.7" />
<line x1="327.2" y1="40.6" x2="328.5" y2="40.6" stroke="#555" stroke-width="0.7" />
<line x1="327.2" y1="37.3" x2="328.5" y2="37.3" stroke="#555" stroke-width="0.7" />
<line x1="327.2" y1="34.9" x2="328.5" y2="34.9" stroke="#555" stroke-width="0.7" />
<line x1="327.2" y1="33.1" x2="328.5" y2="33.1" stroke="#555" stroke-width="0.7" />
<line x1="327.2" y1="31.6" x2="328.5" y2="31.6" stroke="#555" stroke-width="0.7" />
<line x1="327.2" y1="30.4" x2="328.5" y2="30.4" stroke="#555" stroke-width="0.7" />
<line x1="327.2" y1="29.3" x2="328.5" y2="29.3" stroke="#555" stroke-width="0.7" />
<line x1="327.2" y1="28.4" x2="328.5" y2="28.4" stroke="#555" stroke-width="0.7" />
<line x1="328.5" y1="102.3" x2="328.5" y2="104.5" stroke="#555" stroke-width="0.7" />
<line x1="334.8" y1="102.3" x2="334.8" y2="103.6" stroke="#555" stroke-width="0.7" />
<line x1="338.5" y1="102.3" x2="338.5" y2="103.6" stroke="#555" stroke-width="0.7" />
<line x1="341.1" y1="102.3" x2="341.1" y2="103.6" stroke="#555" stroke-width="0.7" />
<line x1="343.2" y1="102.3" x2="343.2" y2="103.6" stroke="#555" stroke-width="0.7" />
<line x1="344.8" y1="102.3" x2="344.8" y2="103.6" stroke="#555" stroke-width="0.7" />
<line x1="346.2" y1="102.3" x2="346.2" y2="103.6" stroke="#555" stroke-width="0.7" />
<line x1="347.5" y1="102.3" x2="347.5" y2="103.6" stroke="#555" stroke-width="0.7" />
<line x1="348.5" y1="102.3" x2="348.5" y2="103.6" stroke="#555" stroke-width="0.7" />
<line x1="349.5" y1="102.3" x2="349.5" y2="104.5" stroke="#555" stroke-width="0.7" />
<line x1="355.8" y1="102.3" x2="355.8" y2="103.6" stroke="#555" stroke-width="0.7" />
<line x1="359.5" y1="102.3" x2="359.5" y2="103.6" stroke="#555" stroke-width="0.7" />
<line x1="362.1" y1="102.3" x2="362.1" y2="103.6" stroke="#555" stroke-width="0.7" />
<line x1="364.2" y1="102.3" x2="364.2" y2="103.6" stroke="#555" stroke-width="0.7" />
<line x1="365.8" y1="102.3" x2="365.8" y2="103.6" stroke="#555" stroke-width="0.7" />
<line x1="367.2" y1="102.3" x2="367.2" y2="103.6" stroke="#555" stroke-width="0.7" />
<line x1="368.5" y1="102.3" x2="368.5" y2="103.6" stroke="#555" stroke-width="0.7" />
<line x1="369.5" y1="102.3" x2="369.5" y2="103.6" stroke="#555" stroke-width="0.7" />
<line x1="370.5" y1="102.3" x2="370.5" y2="104.5" stroke="#555" stroke-width="0.7" />
<line x1="376.8" y1="102.3" x2="376.8" y2="103.6" stroke="#555" stroke-width="0.7" />
<line x1="380.5" y1="102.3" x2="380.5" y2="103.6" stroke="#555" stroke-width="0.7" />
<line x1="383.1" y1="102.3" x2="383.1" y2="103.6" stroke="#555" stroke-width="0.7" />
<line x1="385.2" y1="102.3" x2="385.2" y2="103.6" stroke="#555" stroke-width="0.7" />
<line x1="386.8" y1="102.3" x2="386.8" y2="103.6" stroke="#555" stroke-width="0.7" />
<line x1="388.2" y1="102.3" x2="388.2" y2="103.6" stroke="#555" stroke-width="0.7" />
<line x1="389.5" y1="102.3" x2="389.5" y2="103.6" stroke="#555" stroke-width="0.7" />
<line x1="390.5" y1="102.3" x2="390.5" y2="103.6" stroke="#555" stroke-width="0.7" />
<line x1="391.5" y1="102.3" x2="391.5" y2="104.5" stroke="#555" stroke-width="0.7" />
<line x1="397.8" y1="102.3" x2="397.8" y2="103.6" stroke="#555" stroke-width="0.7" />
<line x1="401.5" y1="102.3" x2="401.5" y2="103.6" stroke="#555" stroke-width="0.7" />
<line x1="404.1" y1="102.3" x2="404.1" y2="103.6" stroke="#555" stroke-width="0.7" />
<line x1="406.2" y1="102.3" x2="406.2" y2="103.6" stroke="#555" stroke-width="0.7" />
<line x1="407.8" y1="102.3" x2="407.8" y2="103.6" stroke="#555" stroke-width="0.7" />
<line x1="409.2" y1="102.3" x2="409.2" y2="103.6" stroke="#555" stroke-width="0.7" />
<line x1="410.5" y1="102.3" x2="410.5" y2="103.6" stroke="#555" stroke-width="0.7" />
<line x1="411.5" y1="102.3" x2="411.5" y2="103.6" stroke="#555" stroke-width="0.7" />
<text x="325.7" y="85.89999999999999" font-size="6.8" text-anchor="end" font-weight="bold" fill="#111" font-family='"Liberation Sans", sans-serif'>10<tspan font-size="4.76" dy="-2.6">0</tspan></text>
<text x="346.3" y="109.1" font-size="6.8" font-weight="bold" fill="#111" font-family='"Liberation Sans", sans-serif'>10<tspan font-size="4.76" dy="-2.6">0</tspan></text>
<text x="325.7" y="67.2" font-size="6.8" text-anchor="end" font-weight="bold" fill="#111" font-family='"Liberation Sans", sans-serif'>10<tspan font-size="4.76" dy="-2.6">1</tspan></text>
<text x="367.3" y="109.1" font-size="6.8" font-weight="bold" fill="#111" font-family='"Liberation Sans", sans-serif'>10<tspan font-size="4.76" dy="-2.6">1</tspan></text>
<text x="325.7" y="48.5" font-size="6.8" text-anchor="end" font-weight="bold" fill="#111" font-family='"Liberation Sans", sans-serif'>10<tspan font-size="4.76" dy="-2.6">2</tspan></text>
<text x="388.3" y="109.1" font-size="6.8" font-weight="bold" fill="#111" font-family='"Liberation Sans", sans-serif'>10<tspan font-size="4.76" dy="-2.6">2</tspan></text>
<text x="325.7" y="29.8" font-size="6.8" text-anchor="end" font-weight="bold" fill="#111" font-family='"Liberation Sans", sans-serif'>10<tspan font-size="4.76" dy="-2.6">3</tspan></text>
<text x="409.3" y="109.1" font-size="6.8" font-weight="bold" fill="#111" font-family='"Liberation Sans", sans-serif'>10<tspan font-size="4.76" dy="-2.6">3</tspan></text>
<rect x="328.9" y="80.89999999999999" width="24.700000000000024" height="21.4" fill="#00f800"/>
<rect x="328.9" y="80.89999999999999" width="24.700000000000024" height="6" fill="url(#gtop)"/>
<path stroke="#ffffff" stroke-opacity="0.5" stroke-width="0.9" d="M330.6 82.7h.9M331.2 81.7h.9M344.4 83.2h.9M341.8 82.8h.9M346.8 85.2h.9M348.2 83.1h.9M329.1 87.6h.9M351.2 86.1h.9M349.9 81.5h.9M351.2 82.8h.9M347.3 84.4h.9M338.1 83.2h.9M334.9 81.7h.9M350.7 86.5h.9M339.0 87.8h.9M340.6 82.6h.9M345.6 84.0h.9M345.4 84.2h.9M345.5 85.9h.9M343.8 85.0h.9M341.1 83.2h.9M347.3 82.7h.9M338.4 82.8h.9M335.2 84.2h.9M350.6 83.4h.9M349.1 88.6h.9M346.1 84.6h.9M333.0 87.7h.9M330.1 82.9h.9M351.0 81.6h.9M351.4 84.5h.9M335.5 82.6h.9M344.0 83.6h.9M329.4 82.6h.9M338.4 82.7h.9M345.8 83.5h.9M337.6 82.5h.9M348.2 84.8h.9M350.7 81.4h.9M332.3 81.5h.9M345.4 82.4h.9M337.9 84.5h.9M333.2 87.3h.9M337.3 82.6h.9M340.5 82.6h.9M350.3 89.2h.9M347.2 81.8h.9M329.1 82.9h.9M330.3 88.9h.9M342.2 83.4h.9M343.5 83.9h.9M337.4 82.7h.9M348.8 84.7h.9M342.3 84.0h.9M343.1 86.7h.9M334.9 82.4h.9M347.5 88.2h.9M334.1 81.5h.9M332.3 83.0h.9M343.2 81.9h.9M348.8 85.5h.9M336.0 81.5h.9M336.2 82.8h.9M332.6 84.9h.9M343.4 82.5h.9M347.3 85.7h.9M332.0 85.1h.9M341.7 86.9h.9M341.8 84.8h.9M331.5 87.0h.9M341.6 85.1h.9M335.5 83.5h.9M333.7 83.8h.9M331.2 85.4h.9M337.2 81.6h.9M343.7 81.7h.9M338.6 84.3h.9M329.4 81.8h.9M349.6 83.6h.9M334.7 82.1h.9M338.8 85.0h.9M350.6 88.7h.9M352.1 82.3h.9M350.8 81.9h.9M338.8 82.3h.9M346.7 82.8h.9M349.2 83.8h.9M333.7 83.9h.9M352.1 81.5h.9M331.4 81.8h.9M344.7 84.8h.9M334.7 83.5h.9M334.1 81.9h.9M332.3 84.9h.9M351.4 85.8h.9M332.1 82.5h.9M350.7 85.6h.9M332.9 82.0h.9M336.8 86.5h.9M334.0 81.8h.9M331.2 86.2h.9M349.5 83.4h.9M336.2 86.4h.9M351.7 82.5h.9M346.9 83.9h.9M335.3 83.8h.9M341.1 81.4h.9M332.8 82.1h.9M338.7 81.8h.9M329.6 83.7h.9M345.2 83.0h.9M343.1 83.1h.9M335.5 81.9h.9M329.3 84.0h.9M351.3 82.3h.9M332.0 84.6h.9M336.8 84.9h.9"/>
<rect x="329.0" y="81.5" width="9" height="7" fill="#fff" opacity="0.75"/>
<rect x="354.1" y="81.5" width="9" height="7" fill="#fff" opacity="0.2"/>
<rect x="354.0" y="80.89999999999999" width="14.0" height="21.4" fill="#f20000"/>
<path stroke="#f20000" stroke-opacity="1.0" stroke-width="1.0" d="M371.3 85.8h1M367.3 93.4h1M372.0 89.8h1M367.5 97.1h1M369.3 91.1h1M366.8 99.4h1M369.6 97.0h1M367.1 91.7h1M368.1 89.0h1M367.0 86.1h1M367.6 87.6h1M373.6 88.9h1M367.0 89.0h1M368.0 85.4h1M367.9 91.3h1M367.6 84.0h1M367.7 99.2h1M368.5 92.8h1M367.1 83.7h1M369.9 88.4h1M367.9 86.9h1M367.5 84.9h1M367.4 91.4h1M370.0 85.5h1M368.0 84.8h1M368.4 95.8h1M366.9 90.4h1M369.9 95.2h1M366.9 91.2h1M367.1 91.9h1M369.2 88.0h1M368.1 90.3h1M368.7 91.4h1M368.8 88.6h1M372.3 98.3h1M367.5 86.7h1M370.4 86.2h1M367.7 88.7h1M368.6 97.5h1M368.2 98.8h1M367.1 93.1h1M368.6 89.0h1M371.0 94.8h1M368.8 98.3h1M369.2 86.7h1M369.7 95.2h1M369.2 96.0h1M369.1 89.6h1M367.2 84.7h1M367.4 93.9h1M367.5 86.0h1M369.5 89.2h1M368.5 92.7h1M366.8 101.1h1M367.8 84.7h1M368.2 83.3h1M367.9 92.6h1M368.3 100.7h1M368.9 82.7h1M369.2 94.6h1M368.8 82.3h1M367.9 92.8h1M368.2 84.2h1M372.6 95.0h1M368.6 89.0h1M367.4 94.9h1M367.0 87.0h1M367.4 83.3h1M369.8 85.4h1M368.0 87.3h1M368.2 85.1h1M369.9 85.8h1M368.1 92.7h1M368.8 90.6h1M369.9 98.3h1M368.7 91.8h1M371.3 92.6h1M366.9 96.0h1M368.7 98.9h1M368.9 93.5h1M370.5 82.5h1M369.9 91.0h1M370.2 82.4h1M367.4 93.9h1M370.0 83.1h1M367.6 92.6h1M370.2 84.8h1M367.9 98.9h1M368.8 83.7h1M371.3 95.0h1M370.5 95.9h1M368.3 87.3h1M367.3 93.7h1M367.9 88.4h1M367.4 87.0h1M368.6 87.0h1M367.4 82.1h1M372.3 95.3h1M367.2 83.2h1M366.9 85.7h1M372.3 83.5h1M368.4 97.9h1M367.8 92.4h1M368.0 91.1h1M369.4 93.5h1M368.1 98.0h1M370.8 94.3h1M369.9 92.1h1M368.1 88.1h1M369.3 92.1h1M366.9 101.5h1M368.9 93.2h1M367.9 91.3h1M367.6 99.6h1M368.7 82.9h1M368.2 83.1h1M367.0 97.6h1M368.8 100.6h1M368.6 82.8h1M369.2 82.3h1M369.3 82.0h1M368.8 93.3h1M369.1 84.6h1M367.3 93.0h1M368.7 95.1h1M370.6 82.1h1M368.3 99.2h1M368.5 86.9h1M368.8 92.9h1M368.3 88.9h1M368.2 88.7h1M370.1 89.9h1"/>
<path stroke="#fff" stroke-opacity="0.5" stroke-width="0.8" d="M354.2 83.9h.8M355.6 86.1h.8M354.5 97.1h.8M355.6 87.0h.8M356.1 92.8h.8M356.4 98.4h.8M356.6 93.9h.8M358.5 96.8h.8M356.6 101.2h.8M358.3 87.7h.8M357.5 99.2h.8M356.9 92.7h.8M354.6 85.7h.8M354.6 84.3h.8M357.0 88.3h.8M357.2 84.5h.8M355.4 97.1h.8M357.4 92.8h.8M355.1 82.6h.8M354.1 99.3h.8M355.2 93.6h.8M357.7 90.6h.8M356.1 84.5h.8M354.4 91.1h.8M355.6 100.0h.8M355.0 93.4h.8M354.4 90.9h.8M356.5 93.9h.8M357.6 92.7h.8M356.0 94.2h.8M357.3 85.7h.8M355.1 84.7h.8M354.9 82.0h.8M354.9 98.3h.8M354.9 81.8h.8M355.4 86.8h.8M358.2 93.4h.8M354.6 91.7h.8M356.5 99.7h.8M355.3 86.0h.8M358.7 84.0h.8M354.3 84.9h.8M357.2 91.7h.8M355.2 87.5h.8M355.3 90.8h.8M355.8 95.5h.8M354.5 88.1h.8M358.7 95.0h.8M357.0 82.1h.8M358.2 92.6h.8M356.6 99.8h.8M354.7 100.4h.8M356.2 93.1h.8M355.7 101.4h.8M354.8 86.4h.8M358.2 87.7h.8M355.0 90.7h.8M356.7 91.9h.8M360.5 98.1h.8M354.6 90.6h.8M354.6 82.7h.8M357.0 95.7h.8M355.3 86.2h.8M357.3 99.3h.8M356.6 85.9h.8M354.8 87.6h.8M355.5 84.4h.8M355.8 87.8h.8M355.4 93.7h.8M357.3 87.0h.8M356.5 82.7h.8M358.6 93.4h.8M355.1 96.4h.8M357.0 83.9h.8M355.2 90.2h.8M356.4 83.1h.8M356.1 82.0h.8M356.3 89.2h.8M355.8 87.4h.8M357.8 99.2h.8M357.4 82.0h.8M355.3 94.6h.8M354.6 96.4h.8M356.2 90.0h.8M354.6 91.7h.8M357.0 86.6h.8M357.7 86.7h.8M356.4 82.8h.8M357.4 99.8h.8M356.2 82.3h.8"/>
<path stroke="#f44" stroke-opacity="0.5" stroke-width="0.8" d="M372.7 92.6h.8M381.5 97.5h.8M381.0 82.7h.8M373.4 92.6h.8M374.4 90.5h.8M373.8 89.8h.8M377.0 92.5h.8M379.4 94.2h.8M374.6 95.8h.8M371.7 99.7h.8M377.8 94.8h.8M377.3 101.7h.8M374.4 95.0h.8M373.2 87.1h.8M372.9 84.6h.8M371.6 83.1h.8M372.5 87.1h.8M375.4 84.1h.8"/>
<path stroke="#f22" stroke-opacity="0.42" stroke-width="0.9" d="M363.8 70.8h.9M362.6 70.2h.9M360.5 76.6h.9M363.9 74.0h.9M359.5 76.5h.9M358.4 77.0h.9M360.5 66.7h.9M363.7 72.6h.9M361.4 67.6h.9M362.8 73.6h.9M364.9 79.2h.9M369.5 75.4h.9M365.4 69.3h.9M358.8 72.9h.9M356.7 67.4h.9M361.2 73.2h.9M356.2 75.5h.9M363.0 74.2h.9M358.0 64.1h.9M363.9 71.5h.9M365.5 75.3h.9M361.3 78.3h.9M357.3 67.1h.9M354.5 75.4h.9M357.6 70.0h.9M359.2 73.9h.9M364.2 74.9h.9M354.0 76.1h.9M364.3 70.3h.9M368.2 73.8h.9M362.5 67.6h.9M362.3 66.5h.9M360.0 75.5h.9M355.4 72.7h.9M362.2 65.5h.9M361.6 69.1h.9M363.0 73.1h.9M363.0 77.8h.9M361.8 76.7h.9M366.3 64.8h.9M354.7 72.5h.9M355.5 75.2h.9M358.6 74.8h.9M357.5 74.9h.9M362.9 71.9h.9M366.2 72.6h.9M363.2 68.5h.9M362.6 70.4h.9M363.3 78.5h.9M361.5 68.6h.9M362.9 74.3h.9M361.0 71.4h.9M366.4 75.3h.9M365.0 74.5h.9M360.6 75.7h.9M356.8 72.9h.9M362.4 78.2h.9M356.6 71.7h.9M363.8 71.3h.9M364.0 69.2h.9M359.5 70.7h.9M354.3 73.2h.9M367.2 68.1h.9M359.4 63.3h.9M365.6 77.8h.9M361.8 69.4h.9M362.8 70.5h.9M367.4 71.3h.9M361.5 68.5h.9M365.7 68.0h.9M354.2 73.7h.9M359.1 76.4h.9M359.6 76.4h.9M360.1 66.1h.9M361.5 72.9h.9M366.7 67.5h.9M360.3 71.9h.9M357.2 73.2h.9M364.8 72.6h.9M358.4 70.3h.9M361.9 66.0h.9M358.5 75.6h.9M362.8 66.6h.9M364.2 67.5h.9M358.5 71.6h.9M360.3 69.7h.9M354.4 74.2h.9M361.3 77.6h.9M363.5 74.1h.9M357.9 73.9h.9M364.6 73.1h.9M354.5 74.7h.9M358.2 68.7h.9M360.2 67.3h.9M359.8 73.0h.9M359.8 71.2h.9M363.0 75.7h.9M358.2 78.0h.9M355.0 62.3h.9M355.1 72.6h.9M365.9 73.4h.9M362.0 66.4h.9M356.8 67.8h.9M360.1 76.3h.9M363.6 77.4h.9M364.9 69.6h.9M356.5 71.7h.9M363.1 74.2h.9M361.1 64.9h.9M364.5 71.4h.9M354.3 72.5h.9M367.2 70.6h.9M362.8 69.3h.9M361.0 62.7h.9M369.7 77.4h.9M355.9 71.3h.9M357.8 74.5h.9M360.3 73.8h.9M360.5 64.7h.9M356.4 71.3h.9M358.0 72.2h.9M362.0 77.2h.9M358.3 77.5h.9M361.8 70.2h.9M355.8 73.4h.9M358.7 74.8h.9M364.3 77.4h.9M359.4 73.5h.9M362.2 71.9h.9M358.7 70.2h.9M364.0 61.3h.9M360.8 69.3h.9M364.0 77.6h.9M356.6 63.7h.9M364.3 71.7h.9M362.4 75.4h.9M360.0 76.2h.9M360.6 69.4h.9M363.1 77.2h.9M361.7 71.0h.9M360.7 76.4h.9M358.6 64.0h.9M365.5 75.8h.9M358.5 73.2h.9M359.5 73.9h.9M357.7 70.3h.9M358.2 71.7h.9M364.6 76.7h.9M356.0 72.0h.9M357.8 78.9h.9M363.3 73.8h.9M363.5 75.4h.9M361.9 64.5h.9M357.0 70.3h.9M363.0 69.9h.9M355.3 74.6h.9M354.3 69.6h.9M363.6 68.1h.9M354.8 70.9h.9M355.5 74.1h.9M356.3 67.3h.9M360.9 75.6h.9M358.7 75.9h.9M363.5 71.7h.9M354.9 73.4h.9M358.1 74.3h.9M360.2 68.6h.9M356.4 65.3h.9M361.2 70.1h.9M367.3 71.5h.9M357.7 70.9h.9M360.2 76.6h.9M365.5 62.0h.9M357.5 67.8h.9M356.7 64.6h.9M355.7 79.2h.9M361.6 70.4h.9M362.1 70.6h.9M359.4 67.9h.9M360.2 77.2h.9M365.1 71.1h.9M363.5 74.0h.9M354.4 63.7h.9M360.0 78.4h.9M360.4 74.8h.9M362.9 75.6h.9M359.1 78.7h.9M357.4 72.1h.9M358.2 72.2h.9M359.9 75.0h.9M357.6 71.9h.9M361.9 73.2h.9M355.9 70.7h.9M358.2 76.3h.9M356.1 77.3h.9M355.7 73.0h.9M358.1 65.9h.9M361.7 72.0h.9M360.3 71.1h.9M357.9 75.5h.9M362.3 67.5h.9M360.7 76.6h.9M359.2 68.3h.9M363.3 66.9h.9M360.7 72.3h.9M362.1 70.8h.9M363.0 68.0h.9M359.7 71.3h.9M358.8 68.4h.9M361.2 73.3h.9M358.3 72.9h.9M361.5 76.5h.9M364.4 70.9h.9M363.3 66.9h.9M358.4 66.9h.9M354.8 71.9h.9M359.4 76.9h.9M364.3 70.1h.9M358.4 77.4h.9M359.1 67.7h.9M362.9 77.7h.9M358.0 71.3h.9M359.3 76.6h.9M366.8 75.9h.9M365.9 71.8h.9M362.4 74.5h.9M361.0 68.1h.9M356.0 72.7h.9M362.1 78.0h.9M360.8 76.3h.9M357.8 73.4h.9M359.9 68.4h.9M359.2 77.9h.9M361.2 65.4h.9M365.6 69.3h.9M361.4 74.7h.9M356.7 70.4h.9M362.1 70.5h.9M361.5 67.0h.9M357.5 66.6h.9M361.0 75.1h.9M356.9 75.9h.9M354.2 74.7h.9M354.3 74.3h.9M356.5 70.5h.9M365.6 74.7h.9M354.6 66.2h.9M364.9 73.1h.9M359.2 79.1h.9M359.7 70.9h.9M357.5 71.5h.9M359.9 66.1h.9M363.9 71.1h.9M364.6 74.1h.9M361.3 78.7h.9M361.2 69.2h.9M359.7 76.0h.9M361.3 71.7h.9M361.5 75.0h.9M360.7 72.4h.9M356.5 71.5h.9M368.5 77.9h.9M356.0 76.2h.9M356.4 68.0h.9M361.0 74.0h.9M356.7 69.6h.9M356.0 66.9h.9M359.4 69.9h.9M361.2 68.5h.9M364.3 75.5h.9M363.1 76.7h.9M364.6 71.9h.9M362.2 67.9h.9M358.0 76.8h.9M364.3 63.7h.9M364.2 75.3h.9M357.5 77.9h.9M357.1 78.0h.9M358.8 76.1h.9M360.7 77.5h.9M356.8 68.3h.9M356.6 78.8h.9M358.1 79.1h.9M357.8 74.0h.9M361.4 75.9h.9M360.2 76.7h.9M358.1 77.2h.9M360.2 76.2h.9M359.8 76.5h.9M357.1 70.6h.9M356.5 78.1h.9M360.2 78.6h.9M355.0 75.4h.9M360.7 76.4h.9M355.9 75.6h.9M358.4 70.3h.9M360.2 76.2h.9M358.2 73.6h.9M356.2 74.9h.9M357.0 75.9h.9M356.4 73.5h.9M354.7 67.1h.9M359.5 78.8h.9M357.8 78.8h.9M354.8 60.7h.9M354.4 72.4h.9M359.2 76.7h.9M358.7 76.9h.9M362.4 73.9h.9M358.9 73.1h.9M355.2 77.8h.9M354.8 72.3h.9M356.5 70.5h.9M356.2 77.6h.9M360.0 74.7h.9M356.2 72.1h.9M355.3 79.2h.9M355.4 78.0h.9M358.6 77.2h.9M358.9 74.2h.9M355.9 75.9h.9M357.8 73.4h.9M354.0 76.9h.9M354.8 75.8h.9M365.7 79.3h.9M363.6 75.3h.9M359.1 77.9h.9M356.0 64.0h.9M357.8 78.8h.9M354.9 76.9h.9M356.7 73.8h.9M354.0 76.0h.9M362.0 78.9h.9M360.5 77.8h.9M356.1 75.5h.9M361.5 75.9h.9M355.8 78.5h.9M360.1 77.8h.9M356.7 75.5h.9M359.4 75.9h.9M354.0 63.1h.9M358.4 75.2h.9M357.2 75.9h.9M357.4 78.9h.9M364.7 79.2h.9M364.5 75.1h.9M355.1 76.7h.9M355.3 70.4h.9M364.8 76.8h.9M361.1 78.5h.9M358.7 71.5h.9M361.2 78.2h.9M359.9 68.9h.9M357.8 78.1h.9M355.7 78.0h.9M358.6 74.3h.9M356.8 77.6h.9M357.6 78.7h.9M354.5 75.2h.9M363.4 77.7h.9M366.6 78.5h.9M355.8 78.8h.9M355.2 78.3h.9M355.7 77.6h.9M358.3 74.9h.9M361.5 73.2h.9M357.5 73.0h.9M357.5 78.8h.9"/>
<path stroke="#f66" stroke-opacity="0.5" stroke-width="0.8" d="M373.7 68.0h.8M393.4 66.1h.8M356.6 60.0h.8M386.5 51.6h.8M372.9 62.3h.8M392.8 54.9h.8M388.0 76.8h.8M356.2 60.9h.8M379.3 75.5h.8M388.0 54.6h.8M364.8 62.8h.8M381.8 76.6h.8M363.8 55.2h.8M361.8 65.0h.8M366.9 66.1h.8M365.3 78.3h.8M392.1 53.5h.8M363.0 65.3h.8"/>
<path stroke="#2030e8" stroke-opacity="0.6" stroke-width="0.9" d="M64.6 57.2h.9M62.7 57.7h.9M54.1 58.9h.9M54.8 60.5h.9M61.8 57.9h.9M60.2 59.0h.9M56.3 59.7h.9M56.5 59.1h.9M53.2 58.0h.9M59.4 56.0h.9M55.6 56.6h.9M60.8 56.2h.9M59.5 61.1h.9M59.1 54.2h.9M58.1 60.1h.9M56.2 60.2h.9M60.3 58.7h.9M56.4 56.6h.9M56.4 57.9h.9M59.9 58.7h.9M56.2 57.9h.9M59.3 54.2h.9M54.1 56.0h.9M56.6 57.2h.9M56.4 55.9h.9M60.6 58.4h.9M50.2 57.8h.9M52.5 61.5h.9M55.5 56.9h.9M57.9 57.3h.9M57.3 61.2h.9M58.6 59.6h.9M62.6 55.6h.9M65.2 59.3h.9M61.9 55.9h.9M61.3 58.7h.9M55.2 62.8h.9M60.1 57.3h.9M58.5 59.8h.9M62.7 59.1h.9M63.1 61.0h.9M52.0 56.7h.9M53.4 58.0h.9M64.1 59.2h.9M52.9 57.1h.9M62.2 56.6h.9M57.2 58.5h.9M49.4 59.5h.9M59.1 59.0h.9M53.2 56.1h.9M54.9 58.3h.9M57.9 58.1h.9M54.4 56.4h.9M63.8 61.3h.9M55.1 57.2h.9M58.0 55.9h.9M53.2 56.9h.9M61.4 56.8h.9M56.7 56.8h.9M51.4 61.1h.9M47.0 56.4h.9M60.1 54.7h.9M60.3 60.5h.9M53.7 58.3h.9M52.6 58.9h.9M58.0 58.3h.9M63.7 58.8h.9M63.6 59.2h.9M52.2 58.4h.9M59.8 54.6h.9M63.6 57.9h.9M59.2 55.8h.9M57.9 58.5h.9M56.1 58.0h.9M48.0 60.8h.9M53.3 56.0h.9M60.0 55.8h.9M58.9 55.7h.9M60.6 55.7h.9M60.2 59.3h.9M50.4 55.3h.9M52.3 54.5h.9M54.3 55.7h.9M51.1 58.0h.9M60.0 54.9h.9M55.1 57.8h.9M56.5 56.2h.9M61.2 59.6h.9M60.6 57.3h.9M55.7 57.5h.9M62.9 56.0h.9M59.3 57.9h.9M54.4 57.3h.9M50.5 56.6h.9M48.6 62.8h.9M64.3 60.5h.9M58.9 60.0h.9M63.3 60.0h.9M61.7 55.8h.9M59.5 56.6h.9M52.2 55.3h.9M59.5 60.1h.9M51.4 61.6h.9M64.1 56.9h.9M55.4 57.6h.9M61.9 56.9h.9M52.5 58.5h.9M48.2 58.1h.9M62.7 58.4h.9M61.0 58.8h.9M60.8 58.1h.9M53.8 57.3h.9M57.2 60.5h.9M64.8 58.7h.9M54.1 56.1h.9M56.7 60.8h.9M59.0 57.6h.9M54.1 59.7h.9M58.8 57.6h.9M58.0 61.5h.9M56.8 61.5h.9M63.1 57.9h.9M61.5 57.5h.9M53.8 57.2h.9M53.4 58.9h.9M57.6 59.0h.9M58.9 53.8h.9M58.2 55.8h.9M58.0 60.8h.9M49.8 58.2h.9M57.1 53.6h.9M60.4 57.8h.9M55.2 56.2h.9M49.4 55.7h.9M55.9 56.9h.9M57.1 55.4h.9M59.9 56.7h.9M51.4 56.0h.9M55.8 59.6h.9M59.7 57.0h.9M57.6 58.2h.9M59.6 59.3h.9M53.2 58.2h.9M58.2 56.7h.9M60.1 60.0h.9M62.6 57.3h.9M58.4 62.9h.9M52.5 58.2h.9M61.5 58.1h.9M60.5 58.1h.9M60.9 60.6h.9M56.5 58.2h.9M57.3 56.9h.9M57.4 55.3h.9M60.9 61.5h.9M65.2 60.6h.9M53.2 61.1h.9M54.3 57.6h.9M61.3 58.4h.9M56.8 55.8h.9M59.4 67.1h.9M62.2 70.5h.9M51.3 67.0h.9M56.1 65.7h.9M52.5 68.2h.9M56.6 64.7h.9M55.1 69.1h.9M52.1 66.2h.9M64.6 70.7h.9M50.2 65.3h.9M59.2 65.7h.9M56.4 67.1h.9M60.0 63.0h.9M47.6 65.6h.9M62.1 67.7h.9M49.8 69.0h.9M60.7 67.6h.9M56.0 68.9h.9M62.9 68.4h.9M59.9 68.0h.9M55.8 66.2h.9M58.7 67.4h.9M56.4 69.9h.9M59.7 69.8h.9M50.4 69.2h.9M54.8 66.4h.9M53.7 70.5h.9M61.2 66.6h.9M52.4 68.1h.9M55.4 71.4h.9M50.9 64.4h.9M56.3 68.1h.9M58.1 69.6h.9M55.1 64.5h.9M58.6 69.8h.9M56.3 70.4h.9M57.6 71.1h.9M59.0 65.9h.9M54.6 65.0h.9M49.7 68.6h.9M61.4 72.0h.9M57.3 67.6h.9M52.5 70.0h.9M59.3 66.9h.9M60.6 69.2h.9M49.1 69.5h.9M58.1 67.3h.9M55.6 71.5h.9M64.4 71.7h.9M52.3 66.7h.9M61.6 65.6h.9M54.3 64.4h.9M59.6 68.5h.9M55.6 67.3h.9M60.3 66.6h.9M63.0 67.1h.9M53.6 70.6h.9M56.9 69.2h.9M55.6 63.5h.9M60.0 65.4h.9M62.4 64.9h.9M49.1 68.7h.9M59.4 68.3h.9M52.0 69.8h.9M50.9 67.1h.9M54.0 67.3h.9M61.3 66.8h.9M60.0 69.4h.9M49.8 65.7h.9M55.8 66.9h.9M58.9 64.2h.9M60.7 69.5h.9M56.7 65.3h.9M57.5 67.0h.9M60.0 67.9h.9M60.8 67.2h.9M64.0 63.4h.9M52.9 69.0h.9M50.7 69.5h.9M52.0 68.2h.9M53.4 67.2h.9M58.3 67.8h.9M55.8 72.4h.9M57.5 66.1h.9M61.7 69.7h.9M63.0 71.6h.9M53.3 70.2h.9M62.6 68.1h.9M58.6 62.0h.9M54.9 71.6h.9M49.5 67.0h.9M58.8 69.2h.9M64.8 64.5h.9M57.7 69.8h.9M51.6 68.0h.9M59.9 62.8h.9M56.9 68.8h.9M56.1 67.9h.9M53.1 68.5h.9M56.1 67.4h.9M57.1 69.6h.9M58.6 65.6h.9M56.9 69.0h.9M55.4 70.3h.9M61.0 66.1h.9M58.9 72.0h.9M64.5 67.9h.9M61.5 66.7h.9M51.0 69.2h.9M58.6 69.1h.9M57.4 68.7h.9M55.2 69.0h.9M61.2 67.9h.9M61.2 64.5h.9M54.0 70.9h.9M57.0 65.5h.9M59.1 69.6h.9M50.8 69.2h.9M59.7 68.9h.9M52.4 69.1h.9M50.8 71.0h.9M58.1 65.7h.9M63.6 70.4h.9M54.6 72.5h.9M53.0 68.7h.9M62.8 63.5h.9M62.0 67.9h.9M57.4 65.9h.9M59.0 65.8h.9M53.1 67.2h.9M52.0 71.2h.9M51.5 66.5h.9M56.1 68.1h.9M61.1 69.7h.9M56.1 67.3h.9M57.7 69.7h.9M60.6 67.0h.9M48.2 72.3h.9M61.8 68.6h.9M59.0 67.0h.9M53.0 67.4h.9M56.5 66.8h.9M50.9 67.4h.9M60.1 67.1h.9M57.6 63.9h.9M56.6 67.8h.9M52.0 64.6h.9M59.4 66.4h.9M59.7 67.2h.9M60.3 67.4h.9M50.7 67.9h.9M56.0 69.4h.9M55.5 67.3h.9M61.4 70.4h.9M60.9 70.1h.9M59.5 69.6h.9M61.5 68.9h.9M57.8 68.3h.9M56.4 67.3h.9M57.3 68.5h.9M52.4 64.1h.9M58.8 64.8h.9M58.7 68.3h.9M62.7 71.4h.9M59.2 66.9h.9M52.2 66.5h.9M57.7 63.9h.9M57.8 68.0h.9M60.4 67.4h.9M58.0 66.6h.9M55.4 64.5h.9M58.1 71.1h.9M58.2 68.8h.9M53.1 70.9h.9M54.0 69.7h.9M58.0 66.1h.9M62.1 68.1h.9M58.3 69.0h.9M57.4 67.3h.9M59.6 67.2h.9M57.8 66.7h.9M50.8 66.7h.9M55.3 68.1h.9M62.8 64.7h.9M61.8 68.3h.9M58.4 54.8h.9M54.8 66.3h.9M49.5 65.0h.9M58.7 68.9h.9M53.0 56.7h.9M53.5 62.5h.9M60.0 68.3h.9M47.3 58.2h.9M57.4 54.6h.9M49.9 68.7h.9M60.0 56.3h.9M49.3 70.6h.9M56.1 59.9h.9M60.9 67.0h.9M61.8 62.8h.9M51.8 63.6h.9M47.4 56.0h.9M49.1 67.5h.9M60.7 58.4h.9M52.9 69.1h.9M54.5 60.5h.9M65.2 64.5h.9M57.4 65.8h.9M47.8 61.6h.9M62.2 66.7h.9M64.2 59.8h.9M56.2 58.2h.9M50.6 55.3h.9M50.8 56.8h.9M55.5 61.8h.9M61.7 69.2h.9M57.4 66.8h.9M56.0 59.7h.9M56.7 66.3h.9M48.3 66.4h.9M48.8 66.1h.9M63.4 67.6h.9M49.3 62.1h.9M50.8 66.9h.9M60.7 68.4h.9M53.9 65.6h.9M51.0 72.3h.9M65.1 54.1h.9M57.9 68.0h.9M51.5 54.1h.9M47.0 67.8h.9M47.2 61.3h.9M62.4 54.5h.9M60.6 62.2h.9M54.5 63.3h.9M53.8 70.9h.9M59.9 61.3h.9M49.3 63.7h.9M48.3 60.7h.9M56.1 61.7h.9M49.2 57.2h.9M57.3 68.1h.9M60.8 67.1h.9M60.0 53.6h.9M51.2 60.3h.9M51.9 61.3h.9M54.7 60.3h.9M47.2 71.0h.9M52.3 62.6h.9M64.6 65.6h.9M60.4 67.7h.9M49.1 63.7h.9M64.8 56.1h.9M48.0 54.5h.9M48.3 56.8h.9M61.9 65.6h.9M61.1 64.7h.9M53.8 69.4h.9M50.3 60.8h.9M55.0 67.3h.9M61.7 65.0h.9M58.7 59.2h.9M58.4 70.6h.9M55.5 68.7h.9M56.8 63.9h.9M58.7 56.3h.9M51.2 57.0h.9M57.3 67.0h.9M60.7 57.7h.9M53.4 56.4h.9M59.6 62.0h.9M52.3 58.0h.9M51.2 68.0h.9M64.6 56.8h.9M63.6 65.4h.9M64.5 72.7h.9M55.2 72.6h.9M50.5 62.5h.9M55.6 58.4h.9M56.3 68.7h.9M49.1 63.2h.9M57.1 57.4h.9M59.4 58.6h.9M58.0 65.1h.9M61.5 72.4h.9M64.9 63.6h.9M52.1 58.4h.9M62.2 68.9h.9M62.3 70.4h.9M57.9 71.7h.9M59.7 66.3h.9M63.2 66.7h.9M61.8 72.3h.9M54.6 68.7h.9M52.8 63.3h.9M65.3 68.8h.9M63.4 71.4h.9M58.8 58.4h.9M47.3 68.9h.9M61.7 68.3h.9M58.2 66.8h.9M60.9 64.2h.9M59.7 58.0h.9"/>
<path stroke="#3344e8" stroke-opacity="0.5" stroke-width="0.8" d="M58.8 79.4h.8M60.8 75.1h.8M59.5 75.1h.8M52.7 78.7h.8M49.8 76.9h.8M61.4 75.3h.8M49.5 74.0h.8M64.5 75.2h.8M51.0 77.8h.8M64.0 78.2h.8M54.8 76.0h.8M66.8 79.2h.8M52.0 76.9h.8M50.5 76.9h.8M61.9 76.2h.8M64.0 76.2h.8M54.7 76.0h.8M57.4 78.7h.8M61.6 76.5h.8M53.5 75.2h.8M55.6 76.4h.8M59.5 79.3h.8M53.7 77.6h.8M50.2 74.5h.8M67.0 76.3h.8M49.7 76.6h.8M68.7 74.0h.8M65.6 79.5h.8M56.8 79.2h.8M65.9 74.5h.8M48.4 77.1h.8M59.4 75.7h.8M54.8 75.1h.8M53.6 75.5h.8M66.7 74.2h.8M47.8 77.9h.8M66.0 76.0h.8M48.7 78.0h.8M61.9 78.6h.8M53.3 77.2h.8M58.6 75.9h.8M67.4 74.7h.8M64.5 77.7h.8M49.2 77.8h.8M53.7 78.4h.8M57.7 74.7h.8M62.8 74.2h.8M47.1 79.0h.8M66.0 77.4h.8M65.5 74.4h.8M68.3 61.2h.8M66.6 68.8h.8M68.1 52.7h.8M67.9 63.6h.8M68.3 74.3h.8M66.7 57.9h.8M68.8 69.9h.8M68.9 71.9h.8M69.0 56.6h.8M68.4 75.6h.8M67.3 59.0h.8M68.9 78.4h.8M68.0 61.7h.8M68.3 68.9h.8M68.2 78.0h.8M67.0 74.5h.8M68.6 65.5h.8M68.1 57.7h.8M67.1 69.0h.8M67.4 68.3h.8M66.9 54.1h.8M67.6 62.7h.8M69.0 77.3h.8M67.5 66.6h.8M67.5 57.3h.8M68.5 69.8h.8M66.7 64.7h.8M66.8 77.1h.8M68.4 65.6h.8M66.8 53.1h.8M68.0 56.8h.8M68.5 57.1h.8M67.9 78.1h.8M66.7 62.1h.8M67.0 61.8h.8M67.9 78.8h.8M68.9 58.0h.8M68.1 69.2h.8M68.2 78.0h.8M68.0 77.0h.8"/>
<path stroke="#3040e8" stroke-opacity="0.55" stroke-width="0.8" d="M201.2 72.3h.8M202.4 62.4h.8M198.2 63.2h.8M203.3 66.1h.8M206.9 66.7h.8M203.3 67.2h.8M202.2 67.1h.8M206.1 68.6h.8M200.5 60.5h.8M199.4 67.0h.8M204.7 64.3h.8M198.1 71.7h.8M208.6 65.3h.8M208.3 70.3h.8M198.0 74.7h.8M198.8 65.2h.8M198.1 66.3h.8M197.2 66.1h.8M207.3 66.8h.8M201.6 71.0h.8M199.0 69.2h.8M201.5 66.8h.8M202.9 66.5h.8M202.5 63.6h.8M200.3 67.5h.8M202.3 62.3h.8M199.7 63.8h.8M202.5 66.6h.8M203.1 63.9h.8M202.8 61.7h.8M195.7 63.0h.8M197.6 68.0h.8M197.6 66.9h.8M200.6 62.0h.8M196.0 67.5h.8M204.2 68.5h.8M210.3 66.9h.8M203.8 65.6h.8M203.0 64.8h.8M198.8 72.3h.8M194.8 66.8h.8M204.4 66.4h.8M198.5 65.3h.8M200.6 62.5h.8M202.4 64.6h.8M200.2 68.1h.8M198.1 67.3h.8M200.0 67.3h.8M202.8 66.7h.8M198.4 63.4h.8M198.9 66.5h.8M205.6 69.3h.8M200.4 66.2h.8M195.7 58.8h.8M198.8 63.8h.8M196.0 60.2h.8M204.7 63.3h.8M195.4 73.3h.8M203.2 64.8h.8M205.3 63.4h.8M209.1 60.9h.8M196.9 65.4h.8M199.2 70.3h.8M195.7 63.5h.8M203.4 67.6h.8M206.6 66.9h.8M211.6 64.3h.8M203.1 68.5h.8M201.0 64.9h.8M200.4 63.7h.8M197.6 64.0h.8M195.9 67.0h.8M195.7 72.4h.8M209.5 69.3h.8M201.4 63.9h.8M207.4 66.3h.8M204.7 63.5h.8M206.8 63.2h.8M202.8 60.2h.8M199.6 67.3h.8M200.4 64.3h.8M205.6 65.5h.8M207.5 58.0h.8M204.7 67.4h.8M195.8 61.6h.8M206.0 62.3h.8M199.6 67.6h.8M200.9 67.3h.8M198.7 66.7h.8M206.8 66.8h.8M193.1 67.8h.8M202.5 62.8h.8M208.1 60.2h.8M210.1 63.7h.8M208.9 65.6h.8M196.7 66.0h.8M203.7 67.5h.8M206.7 62.9h.8M204.3 68.1h.8M201.1 62.7h.8M198.3 68.1h.8M205.6 63.1h.8M196.7 69.7h.8M195.8 66.2h.8M198.9 60.1h.8M202.8 65.1h.8M208.3 73.0h.8M201.5 69.0h.8M206.6 64.1h.8M198.6 70.9h.8M200.7 65.6h.8M201.0 65.3h.8M199.7 68.1h.8M207.5 64.5h.8M196.5 65.9h.8M196.0 63.7h.8M207.4 73.1h.8M203.8 62.3h.8M205.5 58.6h.8M199.4 70.6h.8M205.4 61.3h.8M195.3 68.4h.8M202.1 63.8h.8M204.0 63.9h.8M194.2 68.3h.8M199.6 62.5h.8M196.7 66.5h.8M198.9 67.7h.8M201.1 69.2h.8M200.7 63.6h.8M194.0 62.2h.8M205.3 75.4h.8M197.0 62.4h.8M203.7 67.2h.8M199.4 66.0h.8M195.5 64.8h.8M206.0 70.9h.8M201.6 64.9h.8M204.2 69.2h.8M204.3 63.3h.8M203.8 68.8h.8M199.3 61.5h.8M204.4 66.9h.8M206.3 66.0h.8M199.6 64.3h.8M198.0 62.7h.8M199.9 64.2h.8M206.9 61.8h.8M202.1 63.9h.8M208.5 66.6h.8M200.7 68.3h.8M202.6 64.2h.8M208.7 68.0h.8M209.5 69.4h.8M205.5 66.2h.8M197.8 68.0h.8M202.6 67.9h.8M202.3 63.6h.8M198.1 68.0h.8M207.7 64.8h.8M204.2 70.2h.8M198.8 64.7h.8M197.6 69.5h.8M203.4 64.3h.8M195.4 65.2h.8M206.5 64.8h.8M200.6 67.8h.8M197.2 65.9h.8M204.8 63.3h.8M198.9 66.6h.8M201.9 65.0h.8M203.2 66.5h.8M198.5 63.7h.8M204.2 69.3h.8M208.0 63.1h.8M206.9 68.2h.8M202.2 67.3h.8M205.8 71.5h.8M198.0 67.7h.8M201.8 65.1h.8M207.1 68.4h.8M198.1 64.9h.8M203.3 61.3h.8M206.0 65.6h.8M203.0 66.9h.8M209.9 65.9h.8M200.9 71.3h.8M200.3 64.1h.8M196.6 69.2h.8M203.5 67.3h.8M203.1 65.4h.8M199.1 63.3h.8M204.2 66.2h.8M209.2 63.4h.8M200.4 62.6h.8M208.1 61.9h.8M205.6 70.4h.8M201.8 68.1h.8M193.5 64.6h.8M195.5 66.4h.8M202.4 63.4h.8M206.3 66.9h.8M200.2 64.2h.8M196.3 65.2h.8M211.2 63.6h.8M204.1 64.1h.8M205.7 67.2h.8M201.4 60.2h.8M200.3 69.6h.8M201.4 67.8h.8M200.4 59.9h.8M204.2 66.8h.8M200.0 64.6h.8M203.6 63.9h.8M203.8 65.2h.8M199.9 63.2h.8M204.1 64.3h.8M204.6 69.3h.8M203.0 60.9h.8M199.4 68.7h.8M201.3 63.3h.8M202.0 67.4h.8M203.5 67.9h.8M199.0 65.0h.8M201.4 65.8h.8M193.7 65.1h.8M196.8 70.2h.8M208.9 71.2h.8M205.8 64.3h.8M206.4 65.2h.8M205.0 63.0h.8M200.0 67.3h.8M209.8 65.8h.8M211.8 74.6h.8M197.1 65.8h.8M198.5 65.4h.8M200.2 65.6h.8M206.4 68.8h.8M203.5 65.9h.8M202.9 66.3h.8M204.8 65.9h.8M204.5 61.7h.8M205.7 71.4h.8M203.2 61.4h.8M208.0 64.8h.8M205.0 67.1h.8M207.6 67.8h.8M203.0 59.6h.8M197.8 66.4h.8M205.3 62.6h.8M199.9 67.3h.8M194.5 59.7h.8M201.5 66.7h.8M200.5 58.6h.8M202.5 61.7h.8M205.2 65.5h.8M203.2 67.4h.8M196.2 58.6h.8M207.8 57.3h.8M211.5 60.0h.8M207.2 65.4h.8M205.1 71.8h.8M198.7 73.2h.8M207.9 68.2h.8M204.3 64.1h.8M197.6 67.7h.8M211.2 75.3h.8M204.4 64.3h.8M207.7 67.7h.8M209.3 73.4h.8M205.8 60.7h.8M205.4 72.0h.8M201.3 59.7h.8M199.8 72.3h.8M197.0 56.4h.8M210.2 72.7h.8M207.4 67.6h.8M205.8 71.6h.8M199.4 60.4h.8M206.7 68.6h.8M201.1 58.7h.8M193.1 59.1h.8M195.1 59.5h.8M206.4 62.4h.8M193.7 74.5h.8M195.8 65.2h.8M207.9 72.3h.8M195.8 57.9h.8M205.7 67.2h.8M197.8 59.6h.8M199.8 62.1h.8M199.9 63.4h.8M207.9 65.7h.8M209.8 66.5h.8M198.6 75.2h.8M205.8 73.6h.8M205.5 63.9h.8M197.8 58.2h.8M193.5 60.2h.8M199.0 67.1h.8M200.8 57.1h.8M195.7 56.6h.8M193.6 62.3h.8M205.6 59.4h.8M205.1 57.2h.8M196.4 66.7h.8M207.5 74.5h.8M194.7 66.6h.8M202.4 60.7h.8M204.1 67.8h.8M198.8 59.7h.8M197.3 62.8h.8M199.4 66.2h.8M196.1 60.7h.8M197.1 67.9h.8M198.8 61.9h.8M203.3 56.5h.8M210.1 57.3h.8M196.2 57.1h.8M202.5 69.2h.8M200.4 60.7h.8M206.6 68.3h.8M199.7 68.9h.8M209.6 66.8h.8M200.6 68.9h.8M202.9 58.2h.8M210.9 58.8h.8M207.7 65.1h.8M208.5 67.0h.8M209.2 65.9h.8M197.7 72.1h.8M209.4 66.6h.8M211.4 70.8h.8M211.5 60.2h.8M211.7 72.0h.8M211.7 63.4h.8M203.9 74.6h.8M206.2 62.2h.8M198.6 75.7h.8M206.2 57.3h.8M198.0 67.7h.8M196.6 65.8h.8M206.2 57.9h.8M197.9 74.3h.8M193.6 58.5h.8M209.2 70.1h.8M202.2 73.9h.8M197.0 56.3h.8M209.0 69.3h.8M199.5 68.1h.8M194.4 62.6h.8M204.2 73.6h.8M199.1 57.5h.8M194.6 62.5h.8M205.3 70.7h.8M206.7 74.2h.8M206.4 70.0h.8M204.7 69.9h.8M196.4 69.4h.8M195.3 60.4h.8M211.3 64.5h.8M204.1 60.6h.8"/>
<path stroke="#3344e0" stroke-opacity="0.5" stroke-width="0.8" d="M205.2 77.4h.8M195.5 77.0h.8M206.6 77.8h.8M214.1 77.9h.8M208.7 79.2h.8M208.3 79.0h.8M206.1 79.2h.8M201.4 78.1h.8M210.5 78.2h.8M202.8 79.8h.8M201.7 77.0h.8M205.9 77.0h.8M214.5 77.0h.8M209.7 79.4h.8M208.5 78.5h.8M197.6 79.1h.8M211.2 78.9h.8M203.5 79.4h.8M207.6 78.5h.8M206.2 77.9h.8M210.7 77.2h.8M195.6 78.2h.8M197.0 77.5h.8M200.6 79.8h.8M199.0 79.3h.8M208.6 77.8h.8M197.3 78.5h.8M196.8 78.4h.8M205.6 78.8h.8M196.3 79.8h.8M210.9 77.8h.8M201.6 78.8h.8M201.0 78.5h.8M206.9 79.9h.8M214.5 77.6h.8M200.7 78.9h.8M199.5 77.2h.8M202.4 78.6h.8M210.6 79.9h.8M213.7 79.1h.8"/>
<path stroke="#2030e8" stroke-opacity="0.7" stroke-width="0.8" d="M341.5 72.6h.8M340.2 66.9h.8M344.9 69.2h.8M335.8 68.4h.8M344.5 69.4h.8M347.6 66.5h.8M339.2 68.6h.8M346.6 69.6h.8M341.0 67.2h.8M346.8 70.3h.8M340.5 67.8h.8M340.8 67.5h.8M340.5 68.8h.8M340.9 69.9h.8M342.5 68.9h.8M349.4 69.3h.8M343.5 68.8h.8M343.1 69.8h.8M339.3 70.6h.8M349.8 70.7h.8M340.7 66.4h.8M340.9 69.1h.8M346.5 68.6h.8M341.5 71.2h.8M339.9 70.5h.8M346.9 66.8h.8M344.1 68.0h.8M338.7 66.0h.8M336.0 69.5h.8M341.2 69.3h.8M338.2 68.4h.8M341.7 66.4h.8M335.5 69.5h.8M343.5 67.4h.8M342.4 69.9h.8M345.6 72.2h.8M343.2 71.2h.8M342.8 65.9h.8M346.3 70.5h.8M348.2 70.7h.8M342.7 67.7h.8M340.8 68.8h.8M344.7 68.1h.8M343.1 70.2h.8M344.3 72.5h.8M340.4 66.8h.8M337.7 69.7h.8M338.5 67.2h.8M341.7 70.1h.8M341.3 68.3h.8M346.9 69.6h.8M344.9 70.3h.8M338.4 69.2h.8M340.1 70.5h.8M346.5 67.2h.8M348.8 67.0h.8M348.0 69.2h.8M339.0 67.1h.8M341.5 68.8h.8M339.7 69.7h.8M336.7 68.8h.8M342.9 65.9h.8M344.2 66.9h.8M331.8 67.9h.8M341.9 70.3h.8M340.7 71.2h.8M349.2 70.6h.8M348.7 69.4h.8M340.4 69.9h.8M347.2 69.2h.8M341.8 66.4h.8M345.9 69.4h.8M337.1 69.0h.8M346.1 68.7h.8M346.3 70.0h.8M336.3 68.4h.8M345.0 70.3h.8M349.1 65.8h.8M342.6 70.0h.8M348.3 71.5h.8M338.7 68.3h.8M338.2 70.1h.8M337.0 70.7h.8M347.0 69.6h.8M333.2 67.8h.8M346.2 66.6h.8M341.8 68.7h.8M346.8 69.3h.8M344.1 68.2h.8M342.9 68.6h.8M346.1 68.6h.8M347.5 66.2h.8M348.2 68.6h.8M347.9 69.0h.8M346.7 71.2h.8M340.4 69.0h.8M342.1 69.2h.8M335.7 68.6h.8M341.7 67.6h.8M342.0 66.4h.8M349.1 69.6h.8M337.7 69.3h.8M335.4 69.2h.8M339.7 68.3h.8M344.0 68.9h.8M337.1 70.4h.8M336.9 69.0h.8M337.3 67.5h.8M348.7 68.0h.8M340.0 68.0h.8M341.4 71.1h.8M337.6 66.9h.8M345.4 66.3h.8M341.2 70.6h.8M342.8 68.1h.8M339.7 67.4h.8M340.2 69.1h.8M348.3 70.4h.8M340.3 67.7h.8M345.9 66.0h.8M340.8 68.3h.8M337.9 67.3h.8M344.3 66.2h.8M338.7 67.8h.8M343.1 66.7h.8M347.6 68.3h.8M341.6 68.2h.8M339.8 67.3h.8M347.8 69.1h.8M342.2 70.4h.8M339.6 69.8h.8M342.8 67.4h.8M346.1 66.4h.8M345.6 67.4h.8M344.5 71.0h.8M345.2 67.8h.8M342.6 68.2h.8M337.5 67.0h.8M342.9 69.6h.8M334.8 68.7h.8M344.9 68.9h.8M338.2 70.4h.8M337.3 69.8h.8M349.7 65.6h.8M343.8 69.3h.8M343.6 67.6h.8M341.2 66.6h.8M343.2 69.6h.8M339.7 67.3h.8M340.5 68.7h.8M342.9 68.6h.8M342.9 66.7h.8M348.9 66.5h.8M339.6 69.2h.8M346.8 69.8h.8M348.2 68.7h.8M344.4 69.4h.8M340.7 70.6h.8M345.3 70.3h.8M340.8 70.4h.8M337.9 69.4h.8M345.8 68.0h.8M343.3 66.2h.8M349.4 69.7h.8M342.4 69.4h.8M344.0 71.0h.8M343.5 66.4h.8M341.4 70.8h.8M345.1 68.1h.8M345.2 68.9h.8M345.2 66.3h.8M338.6 69.8h.8M341.6 69.3h.8M343.6 67.9h.8M339.8 68.6h.8M336.2 65.4h.8M348.6 68.6h.8M347.5 68.9h.8M343.2 69.8h.8M345.7 66.9h.8M347.9 67.2h.8M343.4 72.7h.8M342.9 71.3h.8M341.0 69.7h.8M342.8 69.4h.8M338.8 67.3h.8M344.0 66.3h.8M338.8 69.7h.8M339.9 67.4h.8M337.7 69.0h.8M341.0 69.0h.8M341.7 71.6h.8M340.6 65.7h.8M343.1 68.7h.8M343.2 66.2h.8M347.5 68.7h.8M342.4 66.3h.8M344.6 68.6h.8M348.5 68.1h.8M337.1 68.9h.8M338.6 69.4h.8M337.8 68.5h.8M341.6 68.7h.8M340.3 67.5h.8M342.3 67.8h.8M343.2 68.3h.8M332.7 68.6h.8M348.6 69.2h.8M345.2 69.5h.8M340.5 66.7h.8M346.1 70.4h.8M345.0 69.4h.8M344.3 68.7h.8M343.8 68.8h.8M344.0 67.3h.8M339.8 69.6h.8M341.1 65.0h.8M343.1 65.2h.8M345.5 67.7h.8M337.7 68.4h.8M342.7 67.6h.8M343.3 69.8h.8M345.2 67.2h.8M333.2 68.8h.8M339.7 69.4h.8M349.7 71.3h.8M343.8 70.5h.8M349.7 68.8h.8M343.8 70.1h.8M342.4 68.0h.8M339.4 68.8h.8M339.9 70.0h.8M341.2 71.0h.8M347.8 66.9h.8M347.3 68.2h.8M348.5 69.6h.8M342.4 69.8h.8M340.2 69.3h.8M344.3 68.6h.8M344.3 67.3h.8M345.1 66.9h.8M345.3 69.5h.8M345.7 67.9h.8M343.3 67.6h.8M348.8 68.1h.8M347.0 67.4h.8M344.0 68.2h.8M341.1 68.4h.8M332.6 69.4h.8M340.4 66.3h.8M340.3 68.3h.8M332.4 69.2h.8M339.7 68.1h.8M335.9 69.9h.8M340.3 68.8h.8M333.1 67.6h.8M334.0 69.7h.8M339.5 69.2h.8M343.4 68.4h.8M335.0 68.3h.8M345.8 66.1h.8M338.2 69.4h.8M337.1 71.9h.8M342.4 69.9h.8M332.6 69.5h.8M335.1 68.9h.8M337.8 68.2h.8M339.8 71.0h.8M341.8 69.2h.8M342.0 68.6h.8M334.7 69.7h.8M333.1 69.9h.8M331.8 67.7h.8M337.0 67.0h.8M336.9 69.6h.8M334.3 69.6h.8M337.9 68.3h.8M334.5 66.6h.8M333.7 67.9h.8M344.7 70.2h.8M338.0 68.4h.8M339.1 69.9h.8M334.3 68.5h.8M337.7 67.6h.8M337.8 68.8h.8M333.8 67.8h.8M338.4 70.0h.8M338.5 67.8h.8M340.5 69.1h.8M339.8 70.4h.8M332.8 68.7h.8M334.2 67.7h.8M346.4 70.1h.8M334.4 70.4h.8M337.4 68.7h.8M337.7 69.4h.8M337.1 68.6h.8M336.3 69.6h.8M336.4 68.3h.8M340.4 67.2h.8M335.3 67.8h.8M339.5 68.3h.8M337.2 69.4h.8M333.5 68.6h.8M336.5 70.0h.8M340.4 71.2h.8M337.8 68.3h.8M334.7 69.8h.8M344.5 69.3h.8M334.3 69.3h.8M338.2 68.9h.8M333.5 65.6h.8M334.5 70.3h.8M338.0 66.0h.8M337.0 66.5h.8M346.3 69.1h.8M333.3 69.6h.8M337.1 67.4h.8M340.1 67.1h.8M343.3 69.0h.8M332.2 66.5h.8M344.5 70.8h.8M337.8 68.6h.8M336.6 68.5h.8M343.7 69.1h.8M341.1 67.5h.8M335.3 67.7h.8M337.2 69.4h.8M338.1 68.1h.8M333.3 70.0h.8M336.5 71.8h.8M333.2 69.9h.8M337.2 67.9h.8M343.4 69.1h.8M332.8 68.5h.8M341.8 67.3h.8M343.4 69.8h.8M340.9 75.5h.8M338.7 66.4h.8M332.2 64.5h.8M338.6 58.9h.8M347.8 62.2h.8M334.3 58.7h.8M332.3 72.4h.8M342.0 67.5h.8M339.1 66.4h.8M345.0 76.2h.8M348.3 75.2h.8M335.3 76.5h.8M347.6 63.3h.8M347.3 76.7h.8M346.1 72.1h.8M347.9 75.1h.8M346.8 57.9h.8M335.8 58.8h.8M340.7 57.6h.8M342.4 76.1h.8M344.9 59.3h.8M348.4 56.9h.8M333.8 63.2h.8M331.9 70.4h.8M335.7 71.7h.8M337.8 75.2h.8M345.5 56.4h.8M337.5 71.7h.8M332.7 74.6h.8M349.3 72.5h.8M347.4 69.0h.8M347.3 66.3h.8M339.6 71.3h.8M340.7 62.9h.8M336.9 65.6h.8M339.1 72.4h.8M346.9 73.4h.8M348.0 64.0h.8M338.9 74.2h.8M335.3 71.3h.8M341.9 70.5h.8M345.2 70.6h.8M336.3 56.7h.8M341.5 70.4h.8M333.5 66.1h.8M343.1 71.2h.8M336.0 58.2h.8M335.2 73.9h.8M347.4 60.1h.8M347.2 64.4h.8M338.2 59.7h.8M343.2 69.4h.8M341.6 58.3h.8M347.1 63.0h.8M336.9 70.0h.8M335.3 75.8h.8M344.2 73.2h.8M338.3 65.4h.8M336.6 61.6h.8M339.8 73.1h.8M341.5 74.1h.8M333.9 62.4h.8M332.5 75.8h.8M333.0 67.9h.8M344.7 60.6h.8M336.4 59.2h.8M344.3 67.3h.8M343.4 69.5h.8M337.8 72.3h.8M341.0 56.4h.8M349.4 62.2h.8M347.6 69.3h.8M346.1 72.1h.8M349.2 74.1h.8M344.2 63.2h.8M341.3 62.2h.8M338.3 66.1h.8M339.9 62.4h.8M337.6 62.9h.8"/>
<path stroke="#3344e0" stroke-opacity="0.5" stroke-width="0.8" d="M342.5 71.2h.8M347.6 77.6h.8M341.2 77.0h.8M343.2 73.8h.8M342.2 80.2h.8M349.2 70.8h.8M343.6 73.1h.8M341.3 73.8h.8M350.7 76.8h.8M345.7 76.3h.8M350.5 77.5h.8M344.2 79.0h.8M344.5 70.6h.8M347.3 76.0h.8M340.9 74.4h.8M352.7 77.3h.8M341.7 75.7h.8M351.9 73.9h.8M348.6 70.5h.8M349.9 73.5h.8M342.7 74.9h.8M351.6 73.8h.8M347.0 74.2h.8M345.4 76.9h.8M342.5 73.8h.8M342.2 78.9h.8M351.2 74.0h.8M352.6 74.7h.8M345.4 74.7h.8M349.4 79.4h.8M349.1 76.4h.8M346.4 80.0h.8M346.2 70.4h.8M347.2 80.0h.8M344.5 72.3h.8M349.7 79.4h.8M345.4 70.8h.8M346.6 79.0h.8M342.4 76.7h.8M352.7 77.3h.8"/>
<rect x="44.4" y="27.4" width="81.80000000000001" height="73.69999999999999" fill="none" stroke="#666" stroke-width="0.9"/>
<line x1="69.2" y1="27.4" x2="69.2" y2="101.1" stroke="#555" stroke-width="0.9" />
<line x1="44.4" y1="79.5" x2="126.2" y2="79.5" stroke="#555" stroke-width="0.9" />
<text x="44.8" y="34.9" font-size="8.4" text-anchor="start" font-weight="bold" fill="#000" font-family='"Liberation Sans", sans-serif' textLength="8.93" lengthAdjust="spacingAndGlyphs" >E1</text>
<text x="69.60000000000001" y="34.9" font-size="8.4" text-anchor="start" font-weight="bold" fill="#000" font-family='"Liberation Sans", sans-serif' textLength="8.93" lengthAdjust="spacingAndGlyphs" >E2</text>
<text x="44.8" y="86.9" font-size="8.4" text-anchor="start" font-weight="bold" fill="#000" font-family='"Liberation Sans", sans-serif' textLength="8.93" lengthAdjust="spacingAndGlyphs" >E3</text>
<text x="69.60000000000001" y="86.9" font-size="8.4" text-anchor="start" font-weight="bold" fill="#000" font-family='"Liberation Sans", sans-serif' textLength="8.93" lengthAdjust="spacingAndGlyphs" >E4</text>
<rect x="46.5" y="52.5" width="19.900000000000006" height="20.900000000000006" fill="none" stroke="#6a6a6a" stroke-width="0.8"/>
<text x="46.8" y="50.2" font-size="7.4" text-anchor="start" font-weight="normal" fill="#333" font-family='"Liberation Sans", sans-serif' >3.92%</text>
<rect x="190.5" y="28.3" width="81.89999999999998" height="73.3" fill="none" stroke="#666" stroke-width="0.9"/>
<line x1="215.3" y1="28.3" x2="215.3" y2="101.6" stroke="#555" stroke-width="0.9" />
<line x1="190.5" y1="79.8" x2="272.4" y2="79.8" stroke="#555" stroke-width="0.9" />
<text x="190.9" y="35.8" font-size="8.4" text-anchor="start" font-weight="bold" fill="#000" font-family='"Liberation Sans", sans-serif' textLength="6.09" lengthAdjust="spacingAndGlyphs" >I1</text>
<text x="215.70000000000002" y="35.8" font-size="8.4" text-anchor="start" font-weight="bold" fill="#000" font-family='"Liberation Sans", sans-serif' textLength="6.09" lengthAdjust="spacingAndGlyphs" >I2</text>
<text x="190.9" y="87.2" font-size="8.4" text-anchor="start" font-weight="bold" fill="#000" font-family='"Liberation Sans", sans-serif' textLength="6.09" lengthAdjust="spacingAndGlyphs" >I3</text>
<text x="215.70000000000002" y="87.2" font-size="8.4" text-anchor="start" font-weight="bold" fill="#000" font-family='"Liberation Sans", sans-serif' textLength="6.09" lengthAdjust="spacingAndGlyphs" >I4</text>
<rect x="192.4" y="55.4" width="20.69999999999999" height="21.300000000000004" fill="none" stroke="#6a6a6a" stroke-width="0.8"/>
<text x="192.70000000000002" y="53.1" font-size="7.4" text-anchor="start" font-weight="normal" fill="#333" font-family='"Liberation Sans", sans-serif' >2.13%</text>
<rect x="328.5" y="27.5" width="84.0" height="74.8" fill="none" stroke="#666" stroke-width="0.9"/>
<line x1="353.6" y1="27.5" x2="353.6" y2="102.3" stroke="#555" stroke-width="0.9" />
<line x1="328.5" y1="80.3" x2="412.5" y2="80.3" stroke="#555" stroke-width="0.9" />
<text x="328.9" y="35.0" font-size="8.4" text-anchor="start" font-weight="bold" fill="#000" font-family='"Liberation Sans", sans-serif' textLength="8.12" lengthAdjust="spacingAndGlyphs" >J1</text>
<text x="354.0" y="35.0" font-size="8.4" text-anchor="start" font-weight="bold" fill="#000" font-family='"Liberation Sans", sans-serif' textLength="8.12" lengthAdjust="spacingAndGlyphs" >J2</text>
<text x="328.9" y="87.7" font-size="8.4" text-anchor="start" font-weight="bold" fill="#000" font-family='"Liberation Sans", sans-serif' textLength="8.12" lengthAdjust="spacingAndGlyphs" >J3</text>
<text x="354.0" y="87.7" font-size="8.4" text-anchor="start" font-weight="bold" fill="#000" font-family='"Liberation Sans", sans-serif' textLength="8.12" lengthAdjust="spacingAndGlyphs" >J4</text>
<rect x="331.4" y="55.4" width="20.0" height="22.300000000000004" fill="none" stroke="#6a6a6a" stroke-width="0.8"/>
<text x="331.7" y="53.1" font-size="7.4" text-anchor="start" font-weight="normal" fill="#333" font-family='"Liberation Sans", sans-serif' >2.84%</text>
<line x1="23.2" y1="57.4" x2="23.2" y2="111.3" stroke="#999" stroke-width="1" />
<line x1="22.7" y1="111.3" x2="101" y2="111.3" stroke="#999" stroke-width="1" />
<text x="0" y="0" font-size="9.6" text-anchor="start" font-weight="normal" fill="#000" font-family='"Liberation Sans", sans-serif' textLength="26.6" lengthAdjust="spacingAndGlyphs" transform="translate(21.2,98.6) rotate(-90)">NK1.1</text>
<text x="44" y="121.2" font-size="9.2" text-anchor="start" font-weight="normal" fill="#000" font-family='"Liberation Sans", sans-serif' textLength="17.5" lengthAdjust="spacingAndGlyphs" >CD3</text>
<text x="62.4" y="130.4" font-size="9.4" text-anchor="start" font-weight="normal" fill="#000" font-family='"Liberation Sans", sans-serif' textLength="30.5" lengthAdjust="spacingAndGlyphs" >Control</text>
<text x="210.2" y="129.0" font-size="9.3" text-anchor="start" font-weight="normal" fill="#000" font-family='"Liberation Sans", sans-serif' textLength="39.5" lengthAdjust="spacingAndGlyphs" >Sorafenib</text>
<text x="330.6" y="128.8" font-size="9.2" text-anchor="start" font-weight="normal" fill="#000" font-family='"Liberation Sans", sans-serif' >Sorafenib+Poly(I:C<tspan dx="2.4" dy="-0.9" font-size="8.4" fill="#222">)</tspan></text>
<defs><filter id="bl" x="0" y="0" width="1" height="1"><feGaussianBlur stdDeviation="0.35"/></filter><pattern id="hatch" width="4.3" height="6.4" patternUnits="userSpaceOnUse"><rect width="4.3" height="6.4" fill="#1a1a1a"/><g fill="#6a6a6a"><rect x="0.1" y="0.15" width="1.95" height="2.9" rx="0.8"/><rect x="2.25" y="3.35" width="1.95" height="2.9" rx="0.8"/></g></pattern></defs>
<line x1="493" y1="4.5" x2="493" y2="121.4" stroke="#000" stroke-width="1.7" />
<line x1="487.8" y1="120.6" x2="620.8" y2="120.6" stroke="#000" stroke-width="1.6" />
<line x1="488" y1="120.6" x2="493" y2="120.6" stroke="#000" stroke-width="1.1" />
<text x="485.7" y="125.19999999999999" font-size="11.2" text-anchor="end" font-weight="normal" fill="#000" font-family='"Liberation Sans", sans-serif' >0</text>
<line x1="488" y1="95.6" x2="493" y2="95.6" stroke="#000" stroke-width="1.1" />
<text x="485.7" y="100.19999999999999" font-size="11.2" text-anchor="end" font-weight="normal" fill="#000" font-family='"Liberation Sans", sans-serif' >1</text>
<line x1="488" y1="70.6" x2="493" y2="70.6" stroke="#000" stroke-width="1.1" />
<text x="485.7" y="75.19999999999999" font-size="11.2" text-anchor="end" font-weight="normal" fill="#000" font-family='"Liberation Sans", sans-serif' >2</text>
<line x1="488" y1="45.6" x2="493" y2="45.6" stroke="#000" stroke-width="1.1" />
<text x="485.7" y="50.199999999999996" font-size="11.2" text-anchor="end" font-weight="normal" fill="#000" font-family='"Liberation Sans", sans-serif' >3</text>
<line x1="488" y1="20.6" x2="493" y2="20.6" stroke="#000" stroke-width="1.1" />
<text x="485.7" y="25.199999999999996" font-size="11.2" text-anchor="end" font-weight="normal" fill="#000" font-family='"Liberation Sans", sans-serif' >4</text>
<text x="0" y="0" font-size="12.0" text-anchor="start" font-weight="normal" fill="#1a1a1a" font-family='"Liberation Sans", sans-serif' textLength="112" lengthAdjust="spacingAndGlyphs" transform="translate(473.9,117.4) rotate(-90)">NK cell in spleen(%)</text>
<rect x="517.9" y="25.699999999999996" width="17.2" height="94.9" fill="url(#hatch)" stroke="#000" stroke-width="1.2"/>
<line x1="526.5" y1="25.1" x2="526.5" y2="19.35" stroke="#000" stroke-width="1.1" />
<line x1="523" y1="19.35" x2="530" y2="19.35" stroke="#000" stroke-width="1.1" />
<rect x="551.6" y="75.69999999999999" width="17.2" height="44.9" fill="url(#hatch)" stroke="#000" stroke-width="1.2"/>
<line x1="560.2" y1="75.1" x2="560.2" y2="71.6" stroke="#000" stroke-width="1.1" />
<line x1="556.7" y1="71.6" x2="563.7" y2="71.6" stroke="#000" stroke-width="1.1" />
<rect x="585.2" y="41.199999999999996" width="17.2" height="79.4" fill="url(#hatch)" stroke="#000" stroke-width="1.2"/>
<line x1="593.8" y1="40.6" x2="593.8" y2="35.6" stroke="#000" stroke-width="1.1" />
<line x1="590.3" y1="35.6" x2="597.3" y2="35.6" stroke="#000" stroke-width="1.1" />
<polyline points="559.2,65.4 559.2,17.5 593.4,17.5 593.4,28.7" fill="none" stroke="#555" stroke-width="0.9"/>
<text x="576.2" y="16.5" font-size="5" text-anchor="middle" font-weight="normal" fill="#333" font-family='"Liberation Sans", sans-serif' >*</text>
<text x="560" y="69.5" font-size="5" text-anchor="middle" font-weight="normal" fill="#333" font-family='"Liberation Sans", sans-serif' >**</text>
<text x="593.6" y="34.2" font-size="5" text-anchor="middle" font-weight="normal" fill="#333" font-family='"Liberation Sans", sans-serif' >*</text>
<text x="0" y="0" font-size="6.8" text-anchor="end" font-weight="normal" fill="#222" font-family='"Liberation Sans", sans-serif' transform="translate(527,129.8) rotate(-22)">Control</text>
<text x="0" y="0" font-size="6.8" text-anchor="end" font-weight="normal" fill="#222" font-family='"Liberation Sans", sans-serif' transform="translate(562,128.4) rotate(-22)">Sorafenib</text>
<text x="0" y="0" font-size="6.8" text-anchor="end" font-weight="normal" fill="#222" font-family='"Liberation Sans", sans-serif' transform="translate(595.6,128.4) rotate(-24)">Sorafenib+Poly(I:C)</text>
<line x1="33.4" y1="273.4" x2="35.6" y2="273.4" stroke="#555" stroke-width="0.7" />
<line x1="34.3" y1="267.7" x2="35.6" y2="267.7" stroke="#555" stroke-width="0.7" />
<line x1="34.3" y1="264.3" x2="35.6" y2="264.3" stroke="#555" stroke-width="0.7" />
<line x1="34.3" y1="261.9" x2="35.6" y2="261.9" stroke="#555" stroke-width="0.7" />
<line x1="34.3" y1="260.1" x2="35.6" y2="260.1" stroke="#555" stroke-width="0.7" />
<line x1="34.3" y1="258.6" x2="35.6" y2="258.6" stroke="#555" stroke-width="0.7" />
<line x1="34.3" y1="257.3" x2="35.6" y2="257.3" stroke="#555" stroke-width="0.7" />
<line x1="34.3" y1="256.2" x2="35.6" y2="256.2" stroke="#555" stroke-width="0.7" />
<line x1="34.3" y1="255.2" x2="35.6" y2="255.2" stroke="#555" stroke-width="0.7" />
<line x1="33.4" y1="254.3" x2="35.6" y2="254.3" stroke="#555" stroke-width="0.7" />
<line x1="34.3" y1="248.6" x2="35.6" y2="248.6" stroke="#555" stroke-width="0.7" />
<line x1="34.3" y1="245.2" x2="35.6" y2="245.2" stroke="#555" stroke-width="0.7" />
<line x1="34.3" y1="242.8" x2="35.6" y2="242.8" stroke="#555" stroke-width="0.7" />
<line x1="34.3" y1="241" x2="35.6" y2="241" stroke="#555" stroke-width="0.7" />
<line x1="34.3" y1="239.5" x2="35.6" y2="239.5" stroke="#555" stroke-width="0.7" />
<line x1="34.3" y1="238.2" x2="35.6" y2="238.2" stroke="#555" stroke-width="0.7" />
<line x1="34.3" y1="237.1" x2="35.6" y2="237.1" stroke="#555" stroke-width="0.7" />
<line x1="34.3" y1="236.1" x2="35.6" y2="236.1" stroke="#555" stroke-width="0.7" />
<line x1="33.4" y1="235.2" x2="35.6" y2="235.2" stroke="#555" stroke-width="0.7" />
<line x1="34.3" y1="229.5" x2="35.6" y2="229.5" stroke="#555" stroke-width="0.7" />
<line x1="34.3" y1="226.1" x2="35.6" y2="226.1" stroke="#555" stroke-width="0.7" />
<line x1="34.3" y1="223.8" x2="35.6" y2="223.8" stroke="#555" stroke-width="0.7" />
<line x1="34.3" y1="221.9" x2="35.6" y2="221.9" stroke="#555" stroke-width="0.7" />
<line x1="34.3" y1="220.4" x2="35.6" y2="220.4" stroke="#555" stroke-width="0.7" />
<line x1="34.3" y1="219.1" x2="35.6" y2="219.1" stroke="#555" stroke-width="0.7" />
<line x1="34.3" y1="218" x2="35.6" y2="218" stroke="#555" stroke-width="0.7" />
<line x1="34.3" y1="217" x2="35.6" y2="217" stroke="#555" stroke-width="0.7" />
<line x1="33.4" y1="216.2" x2="35.6" y2="216.2" stroke="#555" stroke-width="0.7" />
<line x1="34.3" y1="210.4" x2="35.6" y2="210.4" stroke="#555" stroke-width="0.7" />
<line x1="34.3" y1="207.1" x2="35.6" y2="207.1" stroke="#555" stroke-width="0.7" />
<line x1="34.3" y1="204.7" x2="35.6" y2="204.7" stroke="#555" stroke-width="0.7" />
<line x1="34.3" y1="202.8" x2="35.6" y2="202.8" stroke="#555" stroke-width="0.7" />
<line x1="34.3" y1="201.3" x2="35.6" y2="201.3" stroke="#555" stroke-width="0.7" />
<line x1="34.3" y1="200.1" x2="35.6" y2="200.1" stroke="#555" stroke-width="0.7" />
<line x1="34.3" y1="198.9" x2="35.6" y2="198.9" stroke="#555" stroke-width="0.7" />
<line x1="34.3" y1="198" x2="35.6" y2="198" stroke="#555" stroke-width="0.7" />
<line x1="35.6" y1="273.4" x2="35.6" y2="275.6" stroke="#555" stroke-width="0.7" />
<line x1="42.1" y1="273.4" x2="42.1" y2="274.7" stroke="#555" stroke-width="0.7" />
<line x1="45.8" y1="273.4" x2="45.8" y2="274.7" stroke="#555" stroke-width="0.7" />
<line x1="48.5" y1="273.4" x2="48.5" y2="274.7" stroke="#555" stroke-width="0.7" />
<line x1="50.6" y1="273.4" x2="50.6" y2="274.7" stroke="#555" stroke-width="0.7" />
<line x1="52.3" y1="273.4" x2="52.3" y2="274.7" stroke="#555" stroke-width="0.7" />
<line x1="53.7" y1="273.4" x2="53.7" y2="274.7" stroke="#555" stroke-width="0.7" />
<line x1="55" y1="273.4" x2="55" y2="274.7" stroke="#555" stroke-width="0.7" />
<line x1="56.1" y1="273.4" x2="56.1" y2="274.7" stroke="#555" stroke-width="0.7" />
<line x1="57.1" y1="273.4" x2="57.1" y2="275.6" stroke="#555" stroke-width="0.7" />
<line x1="63.5" y1="273.4" x2="63.5" y2="274.7" stroke="#555" stroke-width="0.7" />
<line x1="67.3" y1="273.4" x2="67.3" y2="274.7" stroke="#555" stroke-width="0.7" />
<line x1="70" y1="273.4" x2="70" y2="274.7" stroke="#555" stroke-width="0.7" />
<line x1="72.1" y1="273.4" x2="72.1" y2="274.7" stroke="#555" stroke-width="0.7" />
<line x1="73.8" y1="273.4" x2="73.8" y2="274.7" stroke="#555" stroke-width="0.7" />
<line x1="75.2" y1="273.4" x2="75.2" y2="274.7" stroke="#555" stroke-width="0.7" />
<line x1="76.5" y1="273.4" x2="76.5" y2="274.7" stroke="#555" stroke-width="0.7" />
<line x1="77.6" y1="273.4" x2="77.6" y2="274.7" stroke="#555" stroke-width="0.7" />
<line x1="78.6" y1="273.4" x2="78.6" y2="275.6" stroke="#555" stroke-width="0.7" />
<line x1="85" y1="273.4" x2="85" y2="274.7" stroke="#555" stroke-width="0.7" />
<line x1="88.8" y1="273.4" x2="88.8" y2="274.7" stroke="#555" stroke-width="0.7" />
<line x1="91.5" y1="273.4" x2="91.5" y2="274.7" stroke="#555" stroke-width="0.7" />
<line x1="93.6" y1="273.4" x2="93.6" y2="274.7" stroke="#555" stroke-width="0.7" />
<line x1="95.3" y1="273.4" x2="95.3" y2="274.7" stroke="#555" stroke-width="0.7" />
<line x1="96.7" y1="273.4" x2="96.7" y2="274.7" stroke="#555" stroke-width="0.7" />
<line x1="97.9" y1="273.4" x2="97.9" y2="274.7" stroke="#555" stroke-width="0.7" />
<line x1="99" y1="273.4" x2="99" y2="274.7" stroke="#555" stroke-width="0.7" />
<line x1="100" y1="273.4" x2="100" y2="275.6" stroke="#555" stroke-width="0.7" />
<line x1="106.5" y1="273.4" x2="106.5" y2="274.7" stroke="#555" stroke-width="0.7" />
<line x1="110.3" y1="273.4" x2="110.3" y2="274.7" stroke="#555" stroke-width="0.7" />
<line x1="113" y1="273.4" x2="113" y2="274.7" stroke="#555" stroke-width="0.7" />
<line x1="115" y1="273.4" x2="115" y2="274.7" stroke="#555" stroke-width="0.7" />
<line x1="116.7" y1="273.4" x2="116.7" y2="274.7" stroke="#555" stroke-width="0.7" />
<line x1="118.2" y1="273.4" x2="118.2" y2="274.7" stroke="#555" stroke-width="0.7" />
<line x1="119.4" y1="273.4" x2="119.4" y2="274.7" stroke="#555" stroke-width="0.7" />
<line x1="120.5" y1="273.4" x2="120.5" y2="274.7" stroke="#555" stroke-width="0.7" />
<text x="32.800000000000004" y="256.625" font-size="6.8" text-anchor="end" font-weight="bold" fill="#111" font-family='"Liberation Sans", sans-serif'>10<tspan font-size="4.76" dy="-2.6">0</tspan></text>
<text x="53.875" y="280.2" font-size="6.8" font-weight="bold" fill="#111" font-family='"Liberation Sans", sans-serif'>10<tspan font-size="4.76" dy="-2.6">0</tspan></text>
<text x="32.800000000000004" y="237.55" font-size="6.8" text-anchor="end" font-weight="bold" fill="#111" font-family='"Liberation Sans", sans-serif'>10<tspan font-size="4.76" dy="-2.6">1</tspan></text>
<text x="75.35000000000001" y="280.2" font-size="6.8" font-weight="bold" fill="#111" font-family='"Liberation Sans", sans-serif'>10<tspan font-size="4.76" dy="-2.6">1</tspan></text>
<text x="32.800000000000004" y="218.475" font-size="6.8" text-anchor="end" font-weight="bold" fill="#111" font-family='"Liberation Sans", sans-serif'>10<tspan font-size="4.76" dy="-2.6">2</tspan></text>
<text x="96.825" y="280.2" font-size="6.8" font-weight="bold" fill="#111" font-family='"Liberation Sans", sans-serif'>10<tspan font-size="4.76" dy="-2.6">2</tspan></text>
<text x="32.800000000000004" y="199.4" font-size="6.8" text-anchor="end" font-weight="bold" fill="#111" font-family='"Liberation Sans", sans-serif'>10<tspan font-size="4.76" dy="-2.6">3</tspan></text>
<text x="118.3" y="280.2" font-size="6.8" font-weight="bold" fill="#111" font-family='"Liberation Sans", sans-serif'>10<tspan font-size="4.76" dy="-2.6">3</tspan></text>
<rect x="36.0" y="256.70000000000005" width="26.200000000000003" height="16.699999999999953" fill="#04f404"/>
<path stroke="#ffffff" stroke-opacity="0.4" stroke-width="0.9" d="M46.0 268.7h.9M45.9 265.9h.9M40.1 272.2h.9M39.7 265.6h.9M51.9 260.0h.9M44.8 269.5h.9M36.8 272.3h.9M40.4 258.1h.9M40.4 265.2h.9M41.0 260.7h.9M47.6 271.5h.9M59.1 258.7h.9M50.8 270.0h.9M54.8 260.4h.9M38.8 267.3h.9M53.6 268.2h.9M58.0 269.2h.9M61.3 258.0h.9M54.1 264.8h.9M51.5 259.1h.9M60.4 259.2h.9M39.4 259.7h.9M56.2 259.5h.9M54.3 272.0h.9M54.5 266.1h.9M45.1 261.2h.9M38.1 264.9h.9M39.7 258.0h.9M53.2 260.6h.9M44.0 267.1h.9M60.1 268.2h.9M39.2 266.9h.9M56.7 272.8h.9M48.2 272.7h.9M43.5 270.4h.9M42.5 264.6h.9M45.0 269.2h.9M45.4 261.1h.9M41.8 270.9h.9M41.6 261.0h.9M60.7 272.9h.9M46.8 257.4h.9M51.9 269.8h.9M53.9 265.1h.9M44.5 270.1h.9M59.8 265.4h.9M43.5 270.4h.9M41.0 268.4h.9M37.2 267.3h.9M42.8 272.3h.9M37.7 259.0h.9M52.0 271.9h.9M50.7 265.4h.9M36.7 268.4h.9M60.1 267.8h.9"/>
<path stroke="#ffffff" stroke-opacity="0.5" stroke-width="0.9" d="M60.3 265.2h.9M59.7 271.3h.9M57.0 257.4h.9M56.4 262.3h.9M59.5 264.8h.9M60.8 258.3h.9M58.1 267.4h.9M60.0 270.6h.9M60.9 271.6h.9M59.5 259.4h.9M59.3 265.2h.9M61.0 272.8h.9M61.2 258.3h.9M56.5 268.4h.9M60.5 261.7h.9M60.1 271.6h.9M57.3 266.8h.9M60.1 271.4h.9M60.6 258.0h.9M56.4 266.8h.9M60.5 263.8h.9M59.1 258.9h.9M58.8 263.7h.9M57.1 268.9h.9M58.1 266.4h.9M57.3 266.6h.9M61.1 261.6h.9M61.0 265.2h.9M60.5 264.2h.9M60.3 271.6h.9M60.4 271.1h.9M55.6 264.1h.9M59.9 265.2h.9M61.0 261.8h.9M59.0 266.2h.9M61.1 259.2h.9M55.5 272.5h.9M60.2 263.7h.9M60.3 257.3h.9M56.9 261.9h.9M59.3 272.2h.9M60.9 262.1h.9M59.9 263.3h.9M60.7 272.6h.9M59.3 269.6h.9M59.7 262.9h.9M59.5 259.8h.9M61.0 263.4h.9M60.9 263.1h.9M60.3 271.4h.9M61.2 265.7h.9M59.5 271.9h.9M59.5 272.8h.9M61.0 271.0h.9M58.8 263.6h.9M60.1 263.4h.9M60.8 265.9h.9M59.0 268.0h.9M59.8 270.6h.9M60.1 270.1h.9"/>
<path stroke="#ffffff" stroke-opacity="0.5" stroke-width="0.9" d="M44.0 271.9h.9M54.7 270.1h.9M45.6 272.1h.9M55.7 271.4h.9M36.4 271.9h.9M57.6 271.1h.9M53.8 272.8h.9M39.8 267.8h.9M42.4 272.0h.9M44.0 270.9h.9M49.1 272.7h.9M59.0 272.5h.9M60.7 270.7h.9M51.4 272.8h.9M38.9 270.9h.9M60.9 268.6h.9M60.4 271.4h.9M38.3 271.0h.9M52.9 271.9h.9M53.0 272.3h.9M52.8 272.3h.9M54.4 272.7h.9M36.2 270.7h.9M43.9 269.8h.9M44.6 272.4h.9M52.5 271.5h.9M38.5 271.3h.9M43.1 272.7h.9M40.5 271.6h.9M37.3 272.0h.9M48.1 271.1h.9M41.3 270.0h.9M48.3 271.8h.9M41.3 271.5h.9M56.1 272.3h.9M38.9 271.7h.9M55.6 270.1h.9M52.7 268.8h.9M40.1 272.1h.9M45.7 269.4h.9M45.8 271.4h.9M47.6 271.9h.9M53.2 271.8h.9M36.5 271.1h.9M40.3 272.1h.9M53.8 271.7h.9M38.5 272.1h.9M57.5 270.5h.9M45.5 272.7h.9M37.0 272.7h.9M55.5 270.6h.9M42.3 270.6h.9M61.4 271.9h.9M59.4 271.5h.9M58.5 272.0h.9M58.5 271.3h.9M38.0 272.4h.9M36.8 270.4h.9M46.2 271.3h.9M46.7 270.1h.9"/>
<path stroke="#1a22e6" stroke-opacity="0.8" stroke-width="0.9" d="M55.4 252.7h.9M49.5 252.4h.9M40.9 252.5h.9M56.9 252.6h.9M41.0 254.2h.9M56.8 250.3h.9M46.6 252.9h.9M50.4 255.2h.9M48.9 255.1h.9M41.8 251.5h.9M52.1 245.9h.9M54.0 254.4h.9M54.6 250.0h.9M49.8 250.9h.9M53.5 250.6h.9M57.4 254.6h.9M56.0 252.1h.9M48.0 249.3h.9M48.0 250.0h.9M51.4 253.7h.9M54.9 253.0h.9M58.8 253.5h.9M59.8 251.5h.9M46.1 253.6h.9M51.1 249.1h.9M60.7 249.2h.9M57.7 252.5h.9M60.3 242.0h.9M44.3 255.3h.9M46.1 251.3h.9M51.8 253.0h.9M51.6 254.5h.9M55.8 248.8h.9M45.2 251.2h.9M46.0 254.8h.9M43.3 253.2h.9M54.7 254.9h.9M52.1 252.4h.9M54.9 251.5h.9M50.8 253.9h.9M51.1 253.9h.9M57.7 244.0h.9M49.5 252.7h.9M45.8 254.1h.9M52.4 250.1h.9M59.1 247.0h.9M58.1 246.7h.9M55.9 253.8h.9M51.4 251.2h.9M40.1 251.5h.9M59.1 249.0h.9M43.2 254.6h.9M55.5 250.8h.9M53.8 244.7h.9M59.6 254.1h.9M44.3 254.9h.9M58.2 254.9h.9M60.4 254.4h.9M51.4 253.1h.9M59.4 244.9h.9M57.7 246.4h.9M48.0 251.7h.9M51.1 247.3h.9M54.7 251.3h.9M51.7 247.5h.9M54.7 244.3h.9M52.0 254.1h.9M51.1 248.7h.9M53.5 247.8h.9M47.7 253.4h.9M44.5 253.7h.9M50.0 252.4h.9M39.3 254.2h.9M56.2 251.7h.9M46.6 250.5h.9M46.5 252.7h.9M48.2 248.2h.9M43.5 253.4h.9M48.5 251.8h.9M52.5 249.1h.9M50.0 253.9h.9M54.5 249.9h.9M40.7 249.7h.9M54.4 252.7h.9M39.7 250.3h.9M38.7 250.9h.9M46.8 253.9h.9M56.1 254.1h.9M51.4 243.6h.9M49.4 249.5h.9M58.1 254.0h.9M47.4 254.3h.9M57.5 242.0h.9M44.2 255.2h.9M52.9 249.9h.9M46.5 254.5h.9M42.7 251.3h.9M45.6 250.4h.9M46.7 252.6h.9M42.9 253.5h.9M40.4 253.8h.9M42.9 253.8h.9M48.0 248.8h.9M54.4 249.0h.9M55.7 250.1h.9M52.8 254.1h.9M40.7 254.9h.9M52.9 255.1h.9M45.9 251.0h.9M53.1 251.5h.9M43.9 254.6h.9M59.5 251.6h.9M55.4 248.8h.9M51.0 251.9h.9M51.5 252.7h.9M50.3 253.3h.9M50.2 249.8h.9M60.7 254.2h.9M56.2 243.6h.9M48.4 250.9h.9M47.4 249.9h.9M54.6 254.6h.9M44.6 251.7h.9M56.7 249.9h.9M58.5 252.0h.9M47.6 254.8h.9M47.8 250.7h.9M54.5 248.0h.9M48.5 254.6h.9M55.5 251.7h.9M55.5 253.8h.9M46.8 250.9h.9M49.5 254.4h.9M54.5 253.8h.9M54.2 255.0h.9M54.5 250.0h.9M57.8 252.7h.9M58.7 248.5h.9M53.5 254.7h.9M47.6 249.6h.9M56.5 248.9h.9M55.1 248.0h.9M50.1 252.1h.9M52.1 252.5h.9M42.2 253.8h.9M44.6 252.3h.9M56.5 249.4h.9M57.5 255.3h.9M44.1 249.5h.9M51.4 254.6h.9M59.4 246.5h.9M49.8 249.7h.9M57.2 250.7h.9M44.7 252.0h.9M49.3 251.7h.9M54.4 241.4h.9M53.4 250.0h.9M59.2 242.3h.9M45.8 250.4h.9M52.6 251.4h.9M57.5 252.5h.9M55.7 254.7h.9M42.0 253.2h.9M43.0 252.9h.9M52.7 251.6h.9M48.7 254.2h.9M49.9 253.7h.9M53.5 247.9h.9M56.3 253.0h.9M49.3 254.0h.9M47.2 253.2h.9M52.2 254.8h.9M40.1 255.3h.9M58.7 251.7h.9M47.0 255.0h.9M59.0 247.4h.9M42.8 249.2h.9M55.1 247.5h.9M51.7 255.1h.9M43.9 250.4h.9M52.0 253.8h.9M57.8 244.5h.9M51.6 249.4h.9M50.8 248.4h.9M55.4 252.5h.9M59.8 248.2h.9M49.5 253.8h.9M53.6 250.9h.9M59.6 254.2h.9M51.7 246.1h.9M54.7 250.4h.9M56.3 254.6h.9M60.7 240.5h.9M45.8 251.0h.9M50.8 252.3h.9M55.3 254.8h.9M44.7 255.2h.9M46.7 252.5h.9M53.6 247.5h.9M57.7 254.1h.9M55.5 254.1h.9M56.7 250.5h.9M53.0 253.1h.9M47.0 253.2h.9M47.2 252.1h.9M46.1 254.9h.9M57.3 253.2h.9M55.2 250.5h.9M57.5 250.7h.9M47.2 253.3h.9M47.0 242.8h.9M60.9 251.1h.9M48.5 250.7h.9M54.4 253.4h.9M60.2 248.9h.9M55.1 241.9h.9M57.9 247.2h.9M48.6 248.0h.9M48.3 254.6h.9M54.9 243.1h.9M56.4 250.8h.9M57.9 253.1h.9M54.6 251.8h.9M57.0 255.2h.9M41.4 249.9h.9M46.0 252.9h.9M56.6 251.3h.9M55.6 253.9h.9M51.0 254.4h.9M55.7 253.3h.9M39.1 252.6h.9M44.1 254.1h.9M42.3 248.9h.9M59.9 253.6h.9M45.3 250.1h.9M59.8 252.2h.9M52.1 255.2h.9M47.2 253.7h.9M53.4 252.5h.9M48.4 249.0h.9M58.8 253.5h.9M47.5 252.0h.9M58.7 252.5h.9M50.0 254.2h.9M54.3 253.1h.9M53.0 251.7h.9M46.5 252.4h.9M40.2 254.6h.9M48.8 250.2h.9M46.2 254.1h.9M51.5 254.1h.9M59.5 252.0h.9M52.6 246.6h.9M53.1 250.7h.9M59.4 253.7h.9M55.3 254.7h.9M53.0 249.9h.9M45.2 250.5h.9M51.6 251.3h.9M60.8 245.4h.9M51.5 250.1h.9M50.1 246.0h.9M51.5 251.7h.9M53.5 247.8h.9M60.3 251.6h.9M54.9 251.3h.9M52.2 252.8h.9M56.2 250.4h.9M59.2 252.0h.9M58.1 243.0h.9M58.0 254.1h.9M41.8 249.7h.9M56.2 253.0h.9M57.1 253.6h.9M52.0 253.2h.9M49.6 253.6h.9M53.8 251.5h.9M47.6 248.2h.9M49.6 250.3h.9M58.9 251.0h.9M45.6 247.8h.9M57.6 249.4h.9M51.6 253.6h.9M48.0 255.1h.9M59.5 253.9h.9M58.7 251.2h.9M46.1 252.3h.9M45.9 252.7h.9M47.3 252.7h.9M51.9 250.6h.9M53.8 245.9h.9M56.0 252.6h.9M58.1 254.6h.9M50.4 243.5h.9M60.8 254.5h.9M41.2 252.5h.9M41.4 253.1h.9M51.2 245.1h.9M57.1 255.3h.9M52.3 252.5h.9M59.7 254.8h.9M51.6 251.6h.9M52.8 250.6h.9M39.9 253.6h.9M46.6 249.8h.9M53.5 254.4h.9M50.2 253.3h.9M51.6 252.6h.9M54.9 250.7h.9M51.2 247.7h.9M53.2 254.7h.9M55.9 247.7h.9M56.2 249.9h.9M41.6 255.2h.9M55.0 249.6h.9M46.6 255.1h.9M57.7 252.8h.9M46.0 251.6h.9M42.1 254.6h.9M57.3 244.3h.9M54.1 253.6h.9M56.1 249.8h.9M52.3 251.9h.9M55.4 254.9h.9M57.1 252.1h.9M55.1 253.9h.9M40.2 250.6h.9M43.6 252.9h.9M48.2 249.1h.9M49.0 252.5h.9M48.8 254.1h.9M47.7 252.9h.9M59.8 255.3h.9M57.2 252.0h.9M50.5 254.7h.9M53.7 252.6h.9M51.5 247.1h.9M49.1 250.5h.9M55.4 246.9h.9M57.3 252.3h.9M57.5 251.7h.9M53.5 248.5h.9M55.9 251.0h.9M52.7 255.0h.9M51.6 249.7h.9M57.5 254.0h.9M49.0 252.0h.9M57.5 250.4h.9M47.8 253.8h.9M40.3 252.7h.9M52.3 254.9h.9M42.1 251.7h.9M48.4 254.3h.9M51.3 254.4h.9M60.5 252.7h.9M45.7 253.1h.9M55.3 249.6h.9M40.3 253.7h.9M40.2 252.8h.9M43.5 252.8h.9M44.3 253.2h.9M54.1 249.4h.9M59.8 250.8h.9M57.3 250.3h.9M47.3 253.2h.9M57.9 249.2h.9M52.1 250.6h.9M57.8 252.9h.9M60.0 242.4h.9M43.3 255.1h.9M49.3 244.7h.9M49.6 252.8h.9M56.6 252.4h.9M47.3 254.0h.9M47.7 248.4h.9M45.8 251.1h.9M55.4 247.3h.9M54.6 245.0h.9M59.0 236.9h.9M48.8 253.1h.9M56.2 253.8h.9M50.3 241.1h.9M42.9 253.5h.9M56.6 247.2h.9M60.9 250.5h.9M47.5 255.0h.9M56.2 253.6h.9M47.2 254.4h.9M55.3 250.6h.9M46.6 251.7h.9M38.9 252.2h.9M59.8 248.3h.9M52.8 252.2h.9M58.6 254.5h.9M56.3 249.0h.9M54.7 255.3h.9M54.6 252.5h.9M57.8 250.8h.9M47.7 253.2h.9M60.3 252.7h.9M60.1 249.9h.9M44.9 253.1h.9M49.5 252.2h.9M54.1 253.8h.9M56.7 250.5h.9M50.9 249.3h.9M55.8 254.1h.9M40.0 254.3h.9M49.9 252.0h.9M47.1 252.3h.9M54.5 252.0h.9M44.0 254.6h.9M50.1 254.1h.9M46.8 254.1h.9M48.2 247.4h.9M48.1 254.5h.9M54.4 245.9h.9M49.4 250.6h.9M58.5 239.2h.9M41.1 251.5h.9M43.5 254.4h.9M52.5 253.9h.9M60.0 253.9h.9M47.3 254.1h.9M49.4 249.6h.9M55.0 254.1h.9M53.8 254.7h.9M48.7 254.9h.9M53.7 249.6h.9M42.3 254.0h.9M46.2 251.3h.9M57.8 250.5h.9M56.6 254.7h.9M59.6 242.1h.9M40.3 250.4h.9M44.5 252.4h.9M59.3 253.9h.9M59.6 247.4h.9M46.7 252.9h.9M59.1 252.1h.9M56.0 246.3h.9M46.3 250.6h.9M56.2 254.8h.9M60.0 255.2h.9M53.7 253.3h.9M45.1 254.7h.9M54.7 254.9h.9M56.4 252.3h.9M39.6 248.5h.9M52.8 251.5h.9M56.7 252.8h.9M57.2 255.3h.9M55.6 246.0h.9M53.3 249.0h.9M54.7 240.0h.9M59.4 245.5h.9M52.6 253.3h.9M54.8 247.2h.9M56.3 254.2h.9M48.8 252.6h.9M43.3 251.9h.9M58.8 251.8h.9M48.9 245.6h.9M47.0 249.5h.9M53.5 253.7h.9M52.8 251.5h.9M54.6 254.7h.9M52.9 254.8h.9M50.3 251.6h.9M54.0 249.1h.9M51.6 245.5h.9M50.3 255.1h.9M40.9 255.0h.9M54.5 246.9h.9M53.0 246.7h.9M52.9 253.3h.9M52.2 254.5h.9M50.7 251.0h.9M48.2 254.9h.9M43.2 252.1h.9M42.5 253.0h.9M58.6 251.7h.9M51.0 250.0h.9M48.0 251.3h.9M55.9 251.4h.9M54.4 255.3h.9M59.1 242.9h.9M55.6 252.0h.9M41.2 251.8h.9M51.1 251.6h.9M52.8 247.5h.9M56.3 251.7h.9M58.1 244.0h.9M60.2 250.5h.9M43.9 255.2h.9M55.3 250.4h.9M52.9 247.9h.9M52.4 252.2h.9M47.2 250.7h.9M48.1 252.7h.9M59.4 254.2h.9M58.9 252.0h.9M47.1 251.2h.9M49.3 250.9h.9M58.7 238.1h.9M49.9 254.1h.9M51.3 252.9h.9M44.5 253.2h.9M51.6 255.1h.9M48.5 253.7h.9M55.5 251.4h.9M45.4 253.7h.9M55.6 248.2h.9M51.3 250.8h.9M55.9 243.0h.9M56.5 255.0h.9M52.7 250.9h.9M50.3 254.7h.9M43.8 254.7h.9M48.9 250.3h.9M57.5 250.4h.9M47.4 254.9h.9M55.0 249.8h.9M40.9 248.2h.9M57.0 243.2h.9M58.3 251.5h.9M56.4 254.9h.9M43.4 253.8h.9M49.8 253.5h.9M59.7 246.0h.9M48.6 248.7h.9M56.2 246.1h.9M51.2 252.5h.9M54.0 245.3h.9M52.5 252.1h.9M44.5 252.7h.9M51.9 252.9h.9M45.9 254.8h.9M47.0 252.5h.9M55.0 248.9h.9M58.7 251.3h.9M45.9 252.2h.9M47.1 254.3h.9M51.9 252.2h.9M54.0 252.2h.9M48.5 254.0h.9M55.4 253.4h.9M58.7 248.8h.9M53.2 246.1h.9M46.9 255.0h.9M55.2 253.1h.9M44.2 253.1h.9M48.8 252.8h.9M56.8 250.4h.9M45.5 254.8h.9M49.4 246.8h.9M40.6 251.7h.9M43.8 252.2h.9M52.7 251.3h.9M57.4 247.8h.9M46.8 250.1h.9M57.7 254.8h.9M57.0 252.7h.9M42.7 253.1h.9M57.7 253.5h.9M53.4 252.2h.9M53.8 252.8h.9M42.6 251.4h.9M58.6 255.2h.9M45.3 253.9h.9M41.9 248.7h.9M60.5 243.9h.9M45.3 252.5h.9M56.7 254.7h.9M58.4 255.2h.9M48.3 255.2h.9M42.4 248.9h.9M58.4 251.9h.9M57.9 252.4h.9M47.0 253.9h.9M52.1 251.9h.9M57.3 251.8h.9M54.1 252.3h.9M58.9 252.1h.9M41.9 250.8h.9M55.9 251.2h.9M51.9 251.8h.9M45.0 253.2h.9M50.8 254.8h.9M52.2 253.6h.9M53.4 240.9h.9M44.1 254.2h.9M57.0 248.4h.9M41.4 254.4h.9M52.8 253.4h.9M39.9 254.1h.9M55.8 253.6h.9M47.7 254.7h.9M48.9 254.0h.9M48.1 251.1h.9M44.6 251.4h.9M47.6 251.9h.9M50.1 251.4h.9M40.1 255.3h.9M57.2 244.7h.9M55.9 253.3h.9M52.2 249.3h.9M41.6 251.0h.9M55.1 255.2h.9M51.9 253.4h.9M53.5 249.1h.9M57.0 254.9h.9M57.3 247.5h.9M59.9 248.6h.9M59.1 255.2h.9M52.5 254.5h.9M58.1 255.0h.9M49.6 252.4h.9M51.9 252.4h.9M52.2 254.2h.9M60.3 248.1h.9M56.8 254.9h.9M59.2 253.7h.9M50.1 252.9h.9M56.5 245.7h.9M56.7 255.2h.9M50.3 255.2h.9M48.7 254.0h.9M41.5 250.8h.9M58.6 248.2h.9M51.5 250.9h.9M50.0 253.0h.9M46.8 251.5h.9M53.1 254.4h.9M52.5 245.5h.9M51.1 252.8h.9M55.0 248.3h.9M46.2 255.3h.9M52.8 248.4h.9M51.4 252.2h.9M55.3 249.8h.9M50.6 255.3h.9M54.8 253.8h.9M54.3 251.5h.9M44.6 249.3h.9M59.1 254.9h.9M51.5 251.5h.9M58.0 251.0h.9M60.5 251.3h.9M50.7 253.6h.9M57.0 252.2h.9M55.2 255.3h.9M52.4 255.0h.9M52.2 248.6h.9M60.3 253.4h.9M48.5 253.0h.9M45.6 251.5h.9M59.7 250.0h.9M48.0 253.3h.9M41.1 254.9h.9M49.8 254.6h.9M57.1 253.0h.9M42.2 254.8h.9M54.9 251.1h.9M59.5 255.3h.9M55.3 245.6h.9M43.6 254.1h.9M52.0 253.9h.9M50.3 252.4h.9M51.1 253.5h.9M44.6 252.3h.9M49.8 252.5h.9M50.5 242.1h.9M54.1 249.9h.9M60.4 255.1h.9M49.8 254.8h.9M51.0 252.7h.9M43.3 252.4h.9M57.1 251.5h.9M38.7 255.3h.9M42.2 252.9h.9M54.9 249.5h.9M56.0 246.8h.9M46.3 251.4h.9M56.2 251.3h.9M55.1 250.1h.9M47.6 251.6h.9M53.7 254.8h.9M54.6 255.0h.9M49.3 254.2h.9M53.7 255.2h.9M51.4 251.1h.9M47.8 254.0h.9M55.8 252.7h.9M46.5 254.1h.9M45.1 253.9h.9M58.5 254.5h.9M54.7 253.4h.9M60.1 247.0h.9M60.4 254.3h.9M54.2 249.3h.9M49.6 253.3h.9M55.2 255.3h.9M55.1 252.6h.9M50.2 254.0h.9M50.7 248.9h.9M52.2 253.9h.9M56.0 254.8h.9M58.7 254.5h.9M56.3 254.5h.9M60.1 252.0h.9M48.6 255.2h.9M49.3 255.3h.9M48.4 254.3h.9M48.3 254.6h.9M54.1 248.0h.9M42.6 252.1h.9M59.0 252.3h.9M57.4 253.2h.9M57.6 248.9h.9M53.4 252.9h.9M58.3 252.9h.9M52.7 252.5h.9M57.0 242.5h.9M49.2 253.0h.9M46.9 254.5h.9M54.8 253.2h.9M55.4 251.6h.9M53.5 254.9h.9M54.6 248.1h.9M60.0 249.1h.9M59.1 251.3h.9M47.7 254.1h.9M52.5 254.0h.9M55.9 252.0h.9M58.5 252.3h.9M45.6 252.4h.9M57.1 242.8h.9M54.6 255.0h.9M49.0 253.7h.9M52.7 254.8h.9M53.6 247.9h.9M48.5 244.6h.9M57.0 252.6h.9M56.5 252.8h.9M41.1 254.9h.9M49.3 254.5h.9M57.5 254.8h.9M51.0 249.6h.9M49.1 250.4h.9M54.6 249.8h.9M58.7 253.4h.9M58.5 252.3h.9M57.8 247.5h.9M57.3 254.8h.9M58.7 250.8h.9M51.1 251.4h.9M53.7 244.9h.9M51.4 253.5h.9M51.1 250.9h.9M53.3 253.1h.9M51.2 251.1h.9M50.9 250.3h.9M52.6 251.6h.9M57.4 252.4h.9M44.2 252.7h.9M54.5 252.9h.9M47.7 252.6h.9M46.4 254.7h.9M48.4 255.2h.9M44.5 254.2h.9M57.9 242.7h.9M48.4 254.1h.9M40.9 254.2h.9M53.2 248.0h.9M44.6 254.2h.9M39.8 254.5h.9M58.2 250.4h.9M46.4 253.3h.9M55.1 243.8h.9M50.6 242.5h.9M51.3 243.8h.9M41.7 252.8h.9M51.1 251.9h.9M49.6 248.8h.9M48.7 253.4h.9M40.9 252.5h.9M60.0 236.7h.9M56.5 251.6h.9M43.2 250.4h.9M45.5 252.5h.9M45.9 254.1h.9M50.2 254.1h.9M55.6 255.2h.9M45.3 253.7h.9M42.9 249.4h.9M49.4 255.0h.9M48.3 249.4h.9M48.8 253.1h.9M58.1 254.7h.9M55.4 253.1h.9M55.0 249.6h.9M42.9 250.5h.9M51.1 251.7h.9M44.9 253.1h.9M38.8 253.7h.9M53.8 253.6h.9M52.9 253.8h.9M51.7 252.3h.9M57.7 248.7h.9M58.7 246.7h.9M45.3 254.2h.9M42.0 255.0h.9M48.5 253.2h.9M39.1 251.9h.9M54.2 247.8h.9M50.6 250.4h.9M51.4 253.6h.9M56.0 249.6h.9M57.3 250.9h.9M48.6 252.3h.9M50.3 250.1h.9M48.6 255.2h.9M55.1 252.1h.9M59.7 246.4h.9M42.2 253.4h.9M51.2 249.0h.9M52.4 250.7h.9M50.4 249.4h.9M53.2 249.7h.9M52.6 254.1h.9M55.6 254.8h.9M53.5 253.7h.9M51.8 250.9h.9M51.2 246.7h.9M52.8 253.0h.9M58.6 254.3h.9M60.1 254.2h.9M55.6 254.1h.9M60.1 254.3h.9M44.5 246.3h.9M46.2 243.7h.9M59.5 251.0h.9M41.9 253.2h.9M52.2 252.6h.9M58.3 253.6h.9M51.4 246.0h.9M58.6 244.9h.9M47.4 250.7h.9M57.3 243.0h.9M56.1 247.2h.9M52.5 238.4h.9M50.0 239.7h.9M52.4 247.4h.9M55.2 246.5h.9M50.0 245.4h.9M54.4 234.1h.9M48.1 244.5h.9"/>
<path stroke="#f22" stroke-opacity="0.75" stroke-width="0.9" d="M66.0 241.0h.9M63.2 241.4h.9M66.3 254.5h.9M64.5 244.0h.9M64.5 253.3h.9M69.3 249.3h.9M63.1 238.1h.9M71.4 235.7h.9"/>
<path stroke="#f66" stroke-opacity="0.5" stroke-width="0.8" d="M82.6 266.1h.8M83.5 260.9h.8M91.0 270.9h.8M78.8 271.5h.8M67.1 266.0h.8M64.7 266.6h.8"/>
<line x1="153.4" y1="273.4" x2="155.6" y2="273.4" stroke="#555" stroke-width="0.7" />
<line x1="154.3" y1="267.7" x2="155.6" y2="267.7" stroke="#555" stroke-width="0.7" />
<line x1="154.3" y1="264.3" x2="155.6" y2="264.3" stroke="#555" stroke-width="0.7" />
<line x1="154.3" y1="261.9" x2="155.6" y2="261.9" stroke="#555" stroke-width="0.7" />
<line x1="154.3" y1="260.1" x2="155.6" y2="260.1" stroke="#555" stroke-width="0.7" />
<line x1="154.3" y1="258.6" x2="155.6" y2="258.6" stroke="#555" stroke-width="0.7" />
<line x1="154.3" y1="257.3" x2="155.6" y2="257.3" stroke="#555" stroke-width="0.7" />
<line x1="154.3" y1="256.2" x2="155.6" y2="256.2" stroke="#555" stroke-width="0.7" />
<line x1="154.3" y1="255.2" x2="155.6" y2="255.2" stroke="#555" stroke-width="0.7" />
<line x1="153.4" y1="254.3" x2="155.6" y2="254.3" stroke="#555" stroke-width="0.7" />
<line x1="154.3" y1="248.6" x2="155.6" y2="248.6" stroke="#555" stroke-width="0.7" />
<line x1="154.3" y1="245.2" x2="155.6" y2="245.2" stroke="#555" stroke-width="0.7" />
<line x1="154.3" y1="242.8" x2="155.6" y2="242.8" stroke="#555" stroke-width="0.7" />
<line x1="154.3" y1="241" x2="155.6" y2="241" stroke="#555" stroke-width="0.7" />
<line x1="154.3" y1="239.5" x2="155.6" y2="239.5" stroke="#555" stroke-width="0.7" />
<line x1="154.3" y1="238.2" x2="155.6" y2="238.2" stroke="#555" stroke-width="0.7" />
<line x1="154.3" y1="237.1" x2="155.6" y2="237.1" stroke="#555" stroke-width="0.7" />
<line x1="154.3" y1="236.1" x2="155.6" y2="236.1" stroke="#555" stroke-width="0.7" />
<line x1="153.4" y1="235.2" x2="155.6" y2="235.2" stroke="#555" stroke-width="0.7" />
<line x1="154.3" y1="229.5" x2="155.6" y2="229.5" stroke="#555" stroke-width="0.7" />
<line x1="154.3" y1="226.1" x2="155.6" y2="226.1" stroke="#555" stroke-width="0.7" />
<line x1="154.3" y1="223.8" x2="155.6" y2="223.8" stroke="#555" stroke-width="0.7" />
<line x1="154.3" y1="221.9" x2="155.6" y2="221.9" stroke="#555" stroke-width="0.7" />
<line x1="154.3" y1="220.4" x2="155.6" y2="220.4" stroke="#555" stroke-width="0.7" />
<line x1="154.3" y1="219.1" x2="155.6" y2="219.1" stroke="#555" stroke-width="0.7" />
<line x1="154.3" y1="218" x2="155.6" y2="218" stroke="#555" stroke-width="0.7" />
<line x1="154.3" y1="217" x2="155.6" y2="217" stroke="#555" stroke-width="0.7" />
<line x1="153.4" y1="216.2" x2="155.6" y2="216.2" stroke="#555" stroke-width="0.7" />
<line x1="154.3" y1="210.4" x2="155.6" y2="210.4" stroke="#555" stroke-width="0.7" />
<line x1="154.3" y1="207.1" x2="155.6" y2="207.1" stroke="#555" stroke-width="0.7" />
<line x1="154.3" y1="204.7" x2="155.6" y2="204.7" stroke="#555" stroke-width="0.7" />
<line x1="154.3" y1="202.8" x2="155.6" y2="202.8" stroke="#555" stroke-width="0.7" />
<line x1="154.3" y1="201.3" x2="155.6" y2="201.3" stroke="#555" stroke-width="0.7" />
<line x1="154.3" y1="200.1" x2="155.6" y2="200.1" stroke="#555" stroke-width="0.7" />
<line x1="154.3" y1="198.9" x2="155.6" y2="198.9" stroke="#555" stroke-width="0.7" />
<line x1="154.3" y1="198" x2="155.6" y2="198" stroke="#555" stroke-width="0.7" />
<line x1="155.6" y1="273.4" x2="155.6" y2="275.6" stroke="#555" stroke-width="0.7" />
<line x1="162.1" y1="273.4" x2="162.1" y2="274.7" stroke="#555" stroke-width="0.7" />
<line x1="165.8" y1="273.4" x2="165.8" y2="274.7" stroke="#555" stroke-width="0.7" />
<line x1="168.5" y1="273.4" x2="168.5" y2="274.7" stroke="#555" stroke-width="0.7" />
<line x1="170.6" y1="273.4" x2="170.6" y2="274.7" stroke="#555" stroke-width="0.7" />
<line x1="172.3" y1="273.4" x2="172.3" y2="274.7" stroke="#555" stroke-width="0.7" />
<line x1="173.7" y1="273.4" x2="173.7" y2="274.7" stroke="#555" stroke-width="0.7" />
<line x1="175" y1="273.4" x2="175" y2="274.7" stroke="#555" stroke-width="0.7" />
<line x1="176.1" y1="273.4" x2="176.1" y2="274.7" stroke="#555" stroke-width="0.7" />
<line x1="177.1" y1="273.4" x2="177.1" y2="275.6" stroke="#555" stroke-width="0.7" />
<line x1="183.5" y1="273.4" x2="183.5" y2="274.7" stroke="#555" stroke-width="0.7" />
<line x1="187.3" y1="273.4" x2="187.3" y2="274.7" stroke="#555" stroke-width="0.7" />
<line x1="190" y1="273.4" x2="190" y2="274.7" stroke="#555" stroke-width="0.7" />
<line x1="192.1" y1="273.4" x2="192.1" y2="274.7" stroke="#555" stroke-width="0.7" />
<line x1="193.8" y1="273.4" x2="193.8" y2="274.7" stroke="#555" stroke-width="0.7" />
<line x1="195.2" y1="273.4" x2="195.2" y2="274.7" stroke="#555" stroke-width="0.7" />
<line x1="196.5" y1="273.4" x2="196.5" y2="274.7" stroke="#555" stroke-width="0.7" />
<line x1="197.6" y1="273.4" x2="197.6" y2="274.7" stroke="#555" stroke-width="0.7" />
<line x1="198.6" y1="273.4" x2="198.6" y2="275.6" stroke="#555" stroke-width="0.7" />
<line x1="205" y1="273.4" x2="205" y2="274.7" stroke="#555" stroke-width="0.7" />
<line x1="208.8" y1="273.4" x2="208.8" y2="274.7" stroke="#555" stroke-width="0.7" />
<line x1="211.5" y1="273.4" x2="211.5" y2="274.7" stroke="#555" stroke-width="0.7" />
<line x1="213.6" y1="273.4" x2="213.6" y2="274.7" stroke="#555" stroke-width="0.7" />
<line x1="215.3" y1="273.4" x2="215.3" y2="274.7" stroke="#555" stroke-width="0.7" />
<line x1="216.7" y1="273.4" x2="216.7" y2="274.7" stroke="#555" stroke-width="0.7" />
<line x1="217.9" y1="273.4" x2="217.9" y2="274.7" stroke="#555" stroke-width="0.7" />
<line x1="219" y1="273.4" x2="219" y2="274.7" stroke="#555" stroke-width="0.7" />
<line x1="220" y1="273.4" x2="220" y2="275.6" stroke="#555" stroke-width="0.7" />
<line x1="226.5" y1="273.4" x2="226.5" y2="274.7" stroke="#555" stroke-width="0.7" />
<line x1="230.3" y1="273.4" x2="230.3" y2="274.7" stroke="#555" stroke-width="0.7" />
<line x1="233" y1="273.4" x2="233" y2="274.7" stroke="#555" stroke-width="0.7" />
<line x1="235" y1="273.4" x2="235" y2="274.7" stroke="#555" stroke-width="0.7" />
<line x1="236.7" y1="273.4" x2="236.7" y2="274.7" stroke="#555" stroke-width="0.7" />
<line x1="238.2" y1="273.4" x2="238.2" y2="274.7" stroke="#555" stroke-width="0.7" />
<line x1="239.4" y1="273.4" x2="239.4" y2="274.7" stroke="#555" stroke-width="0.7" />
<line x1="240.5" y1="273.4" x2="240.5" y2="274.7" stroke="#555" stroke-width="0.7" />
<text x="152.79999999999998" y="256.625" font-size="6.8" text-anchor="end" font-weight="bold" fill="#111" font-family='"Liberation Sans", sans-serif'>10<tspan font-size="4.76" dy="-2.6">0</tspan></text>
<text x="173.875" y="280.2" font-size="6.8" font-weight="bold" fill="#111" font-family='"Liberation Sans", sans-serif'>10<tspan font-size="4.76" dy="-2.6">0</tspan></text>
<text x="152.79999999999998" y="237.55" font-size="6.8" text-anchor="end" font-weight="bold" fill="#111" font-family='"Liberation Sans", sans-serif'>10<tspan font-size="4.76" dy="-2.6">1</tspan></text>
<text x="195.35000000000002" y="280.2" font-size="6.8" font-weight="bold" fill="#111" font-family='"Liberation Sans", sans-serif'>10<tspan font-size="4.76" dy="-2.6">1</tspan></text>
<text x="152.79999999999998" y="218.475" font-size="6.8" text-anchor="end" font-weight="bold" fill="#111" font-family='"Liberation Sans", sans-serif'>10<tspan font-size="4.76" dy="-2.6">2</tspan></text>
<text x="216.82500000000002" y="280.2" font-size="6.8" font-weight="bold" fill="#111" font-family='"Liberation Sans", sans-serif'>10<tspan font-size="4.76" dy="-2.6">2</tspan></text>
<text x="152.79999999999998" y="199.4" font-size="6.8" text-anchor="end" font-weight="bold" fill="#111" font-family='"Liberation Sans", sans-serif'>10<tspan font-size="4.76" dy="-2.6">3</tspan></text>
<text x="238.3" y="280.2" font-size="6.8" font-weight="bold" fill="#111" font-family='"Liberation Sans", sans-serif'>10<tspan font-size="4.76" dy="-2.6">3</tspan></text>
<rect x="156.0" y="256.70000000000005" width="26.199999999999996" height="16.699999999999953" fill="#04f404"/>
<path stroke="#ffffff" stroke-opacity="0.4" stroke-width="0.9" d="M159.4 259.9h.9M176.6 259.0h.9M166.9 262.4h.9M175.2 257.8h.9M166.9 260.1h.9M176.4 260.1h.9M159.2 265.8h.9M180.7 263.9h.9M173.4 258.9h.9M164.8 273.0h.9M166.5 269.1h.9M161.5 268.0h.9M169.0 267.4h.9M178.7 268.7h.9M168.2 260.3h.9M164.5 268.8h.9M167.8 263.0h.9M166.6 260.4h.9M166.8 261.8h.9M169.2 270.3h.9M174.3 263.7h.9M174.2 271.1h.9M156.8 273.0h.9M179.9 272.1h.9M165.0 264.8h.9M167.2 266.2h.9M169.2 266.8h.9M179.1 258.6h.9M157.1 269.2h.9M177.4 269.9h.9M173.2 260.4h.9M169.7 262.6h.9M166.3 267.3h.9M169.7 272.4h.9M173.8 262.9h.9M167.5 271.1h.9M179.5 258.3h.9M170.5 265.9h.9M167.7 261.9h.9M179.1 270.9h.9M156.8 260.1h.9M178.9 258.7h.9M168.4 263.2h.9M159.6 269.2h.9M173.7 268.9h.9M162.5 262.6h.9M168.2 268.7h.9M169.7 259.5h.9M180.6 264.3h.9M173.3 271.1h.9M167.6 259.8h.9M172.6 261.0h.9M172.7 262.9h.9M159.9 260.6h.9M165.8 265.6h.9"/>
<path stroke="#ffffff" stroke-opacity="0.5" stroke-width="0.9" d="M179.0 264.0h.9M177.6 261.2h.9M180.8 272.6h.9M178.7 260.6h.9M180.3 261.2h.9M177.5 272.2h.9M179.0 269.2h.9M179.8 270.7h.9M178.6 272.1h.9M181.0 272.4h.9M178.8 263.4h.9M180.1 261.1h.9M178.1 266.1h.9M176.2 263.2h.9M174.6 262.5h.9M180.3 266.3h.9M180.7 271.4h.9M178.3 265.8h.9M178.5 262.5h.9M180.7 260.2h.9M177.8 270.4h.9M180.0 267.3h.9M180.6 260.6h.9M180.2 270.1h.9M179.6 258.4h.9M177.5 258.6h.9M179.2 261.8h.9M178.2 269.6h.9M180.4 265.5h.9M178.2 268.1h.9M179.1 271.6h.9M181.0 272.8h.9M180.1 270.5h.9M180.6 264.1h.9M179.3 265.8h.9M176.3 257.2h.9M179.4 258.4h.9M179.5 264.1h.9M181.2 262.3h.9M181.0 265.5h.9M180.7 257.2h.9M179.5 272.2h.9M181.1 264.8h.9M179.2 259.7h.9M180.8 267.3h.9M178.9 266.3h.9M180.3 268.4h.9M181.1 272.9h.9M180.7 264.1h.9M180.0 257.2h.9M180.1 260.3h.9M176.7 263.6h.9M180.8 261.2h.9M178.8 264.9h.9M180.3 267.2h.9M179.0 265.5h.9M179.0 258.0h.9M180.8 257.6h.9M180.9 257.6h.9M180.1 268.0h.9"/>
<path stroke="#ffffff" stroke-opacity="0.5" stroke-width="0.9" d="M166.4 271.8h.9M170.0 269.9h.9M166.2 270.9h.9M173.6 271.2h.9M181.2 270.9h.9M171.6 271.2h.9M161.3 269.3h.9M174.5 271.0h.9M161.5 272.4h.9M173.5 270.9h.9M170.6 271.4h.9M156.4 272.8h.9M160.9 271.9h.9M161.8 269.5h.9M165.7 271.5h.9M178.5 272.7h.9M174.1 269.3h.9M168.2 270.3h.9M166.4 271.5h.9M156.9 272.2h.9M161.6 272.1h.9M178.4 270.2h.9M165.7 269.2h.9M163.0 270.0h.9M179.9 270.5h.9M161.7 271.9h.9M176.4 269.8h.9M165.8 270.8h.9M165.3 272.8h.9M164.6 272.3h.9M162.9 270.4h.9M162.8 272.8h.9M163.2 272.4h.9M167.9 271.1h.9M167.3 272.3h.9M156.6 271.1h.9M166.1 272.8h.9M176.8 271.2h.9M175.1 271.6h.9M159.3 271.3h.9M161.3 271.0h.9M172.0 269.2h.9M172.0 272.6h.9M157.4 269.4h.9M164.0 271.7h.9M169.0 272.4h.9M173.3 272.4h.9M170.3 270.6h.9M172.4 272.1h.9M178.5 272.0h.9M178.3 269.9h.9M161.2 272.0h.9M178.1 272.4h.9M161.4 272.7h.9M156.2 269.3h.9M175.9 271.9h.9M179.0 271.0h.9M158.7 269.1h.9M175.1 272.5h.9M158.1 268.5h.9"/>
<path stroke="#1a22e6" stroke-opacity="0.8" stroke-width="0.9" d="M179.6 244.0h.9M172.6 255.3h.9M172.9 251.6h.9M178.1 247.0h.9M178.6 255.1h.9M176.9 254.9h.9M177.1 249.3h.9M177.6 253.0h.9M177.1 237.6h.9M171.1 252.9h.9M166.5 252.8h.9M175.4 238.1h.9M173.0 254.1h.9M175.9 247.2h.9M180.0 252.1h.9M178.9 245.9h.9M179.7 243.3h.9M173.7 246.9h.9M174.8 250.9h.9M179.0 239.1h.9M178.2 252.5h.9M166.5 253.8h.9M177.9 250.3h.9M180.0 251.0h.9M180.0 247.5h.9M170.1 243.4h.9M173.0 249.6h.9M166.3 249.4h.9M170.9 254.5h.9M175.7 239.3h.9M174.4 255.1h.9M169.5 254.9h.9M175.6 243.9h.9M178.5 250.6h.9M173.7 249.5h.9M172.8 252.6h.9M170.6 252.7h.9M179.7 246.1h.9M175.6 247.9h.9M177.7 253.9h.9M176.4 248.3h.9M173.0 247.5h.9M180.3 246.6h.9M159.0 255.3h.9M179.1 253.5h.9M180.5 250.2h.9M180.7 254.7h.9M171.7 254.8h.9M180.2 244.1h.9M179.5 255.2h.9M177.9 253.4h.9M174.0 244.4h.9M176.5 253.7h.9M174.7 252.9h.9M177.9 243.3h.9M176.8 253.1h.9M172.6 251.2h.9M180.5 254.9h.9M171.1 249.1h.9M173.0 246.1h.9M180.5 254.2h.9M176.8 247.5h.9M174.9 249.0h.9M174.2 251.4h.9M171.4 246.8h.9M178.4 251.7h.9M178.2 253.8h.9M177.3 250.1h.9M168.9 251.0h.9M159.3 253.5h.9M162.9 253.8h.9M176.2 250.3h.9M173.1 244.2h.9M172.4 253.2h.9M172.3 248.0h.9M170.0 251.2h.9M177.0 255.2h.9M178.6 246.9h.9M176.2 250.6h.9M166.2 250.0h.9M179.4 252.1h.9M175.1 255.3h.9M170.6 254.7h.9M170.3 251.5h.9M159.9 250.3h.9M176.9 248.3h.9M177.3 246.7h.9M173.6 248.8h.9M171.1 251.1h.9M168.4 251.9h.9M177.1 252.9h.9M176.6 255.1h.9M180.5 252.8h.9M173.0 252.2h.9M178.7 242.9h.9M168.0 254.9h.9M174.9 254.8h.9M165.1 253.3h.9M179.7 249.0h.9M179.8 249.8h.9M179.9 245.5h.9M166.0 254.1h.9M177.9 249.1h.9M178.9 251.2h.9M177.3 250.3h.9M177.0 247.0h.9M180.2 247.7h.9M180.1 246.2h.9M172.1 244.8h.9M178.4 249.8h.9M180.2 245.3h.9M177.7 254.4h.9M179.0 255.3h.9M166.5 249.0h.9M177.7 254.7h.9M174.1 247.7h.9M177.0 243.8h.9M180.9 251.5h.9M179.7 245.9h.9M172.5 247.4h.9M174.8 248.8h.9M172.7 247.1h.9M174.2 246.9h.9M173.7 254.0h.9M177.1 250.1h.9M170.9 252.3h.9M177.4 251.7h.9M164.0 255.1h.9M176.5 255.0h.9M172.4 250.6h.9M170.9 244.7h.9M176.9 247.4h.9M177.1 251.4h.9M166.1 248.9h.9M170.0 249.4h.9M179.6 249.2h.9M179.2 249.7h.9M178.1 253.5h.9M166.4 252.5h.9M177.8 249.0h.9M180.8 252.2h.9M178.4 249.5h.9M168.6 248.0h.9M167.6 251.5h.9M179.9 249.2h.9M176.4 252.9h.9M176.1 249.0h.9M177.7 246.1h.9M179.0 240.8h.9M168.7 252.4h.9M177.6 241.6h.9M174.1 247.5h.9M162.5 254.1h.9M176.6 241.3h.9M174.0 255.2h.9M168.9 249.7h.9M177.4 244.2h.9M177.6 253.0h.9M179.0 254.3h.9M177.9 255.0h.9M177.0 253.1h.9M174.5 253.4h.9M176.4 253.9h.9M169.7 252.3h.9M175.8 255.2h.9M173.6 254.1h.9M170.0 252.3h.9M175.0 241.8h.9M179.9 245.6h.9M179.4 249.6h.9M178.3 254.6h.9M174.4 247.5h.9M180.4 240.7h.9M161.5 252.3h.9M176.8 254.7h.9M180.0 241.0h.9M176.8 250.2h.9M175.2 254.6h.9M180.1 251.2h.9M173.7 254.0h.9M175.0 253.3h.9M179.9 238.0h.9M180.6 247.3h.9M179.3 252.4h.9M165.0 252.2h.9M179.7 245.9h.9M170.7 254.4h.9M177.5 254.9h.9M172.7 244.8h.9M173.4 241.2h.9M179.1 250.1h.9M174.0 250.7h.9M170.4 250.4h.9M180.6 253.9h.9M173.8 249.6h.9M171.7 254.7h.9M169.3 253.7h.9M174.0 244.9h.9M180.2 253.9h.9M165.8 254.0h.9M179.2 251.9h.9M180.5 249.1h.9M180.3 251.9h.9M174.1 250.4h.9M180.7 254.1h.9M170.9 255.2h.9M177.6 245.2h.9M177.0 252.2h.9M173.2 248.8h.9M177.2 251.4h.9M178.6 238.7h.9M180.6 244.2h.9M174.6 253.4h.9M172.6 247.9h.9M168.8 254.6h.9M164.3 250.8h.9M179.3 246.6h.9M176.4 254.8h.9M168.7 249.3h.9M179.5 248.5h.9M164.0 255.0h.9M174.6 239.9h.9M177.1 251.5h.9M172.0 254.5h.9M179.9 254.2h.9M179.5 252.4h.9M176.9 255.3h.9M162.9 255.0h.9M168.0 252.1h.9M171.1 246.5h.9M172.8 247.3h.9M176.7 253.6h.9M166.3 253.3h.9M178.9 250.1h.9M176.7 247.7h.9M176.6 251.4h.9M170.3 251.1h.9M166.1 252.4h.9M173.4 255.0h.9M164.5 250.0h.9M175.8 242.7h.9M169.1 251.9h.9M169.8 253.2h.9M180.2 253.1h.9M167.9 246.3h.9M174.7 251.3h.9M174.6 253.1h.9M175.3 249.1h.9M178.4 245.9h.9M170.7 252.6h.9M167.7 253.7h.9M179.6 252.3h.9M169.4 253.2h.9M180.2 250.5h.9M178.1 251.0h.9M178.4 251.9h.9M176.6 249.1h.9M179.4 250.4h.9M177.0 251.3h.9M179.9 251.8h.9M173.1 245.0h.9M173.5 247.4h.9M178.7 249.0h.9M178.2 246.2h.9M172.6 252.8h.9M179.9 255.2h.9M176.7 251.5h.9M178.0 250.3h.9M171.1 252.4h.9M172.1 250.9h.9M177.4 244.0h.9M168.3 253.1h.9M179.0 254.7h.9M172.0 253.9h.9M173.3 249.3h.9M170.0 254.8h.9M179.8 254.8h.9M178.1 252.5h.9M180.8 253.2h.9M174.2 254.9h.9M169.1 252.9h.9M171.0 252.6h.9M177.7 250.9h.9M180.1 246.2h.9M168.9 254.3h.9M179.2 248.6h.9M169.3 252.8h.9M166.4 248.4h.9M176.4 245.9h.9M172.0 245.9h.9M159.6 254.5h.9M179.6 250.0h.9M171.0 253.8h.9M170.1 248.1h.9M175.7 254.0h.9M170.7 252.8h.9M165.0 252.9h.9M167.4 255.1h.9M167.3 253.7h.9M167.8 253.5h.9M174.8 236.3h.9M179.7 254.3h.9M167.4 250.2h.9M174.6 248.0h.9M177.4 252.7h.9M172.3 251.8h.9M171.4 251.2h.9M180.4 245.9h.9M175.4 252.3h.9M180.3 253.8h.9M172.7 252.4h.9M174.4 253.4h.9M175.5 252.8h.9M169.2 247.8h.9M166.1 247.8h.9M168.7 254.8h.9M160.9 246.8h.9M176.6 248.5h.9M176.3 249.3h.9M165.7 254.9h.9M176.9 234.9h.9M168.4 252.4h.9M174.2 253.8h.9M179.6 244.2h.9M173.4 254.4h.9M172.6 252.7h.9M177.6 252.7h.9M174.7 252.6h.9M166.5 252.4h.9M178.1 250.5h.9M171.5 245.5h.9M176.3 249.7h.9M172.7 250.8h.9M179.5 251.5h.9M174.6 253.1h.9M178.1 248.8h.9M169.2 252.8h.9M178.6 249.5h.9M177.9 252.4h.9M180.8 251.0h.9M169.2 255.2h.9M179.1 249.0h.9M179.2 240.3h.9M178.0 252.2h.9M170.5 253.5h.9M178.0 251.1h.9M169.1 253.3h.9M177.6 248.4h.9M172.8 254.1h.9M168.5 251.1h.9M169.2 252.9h.9M166.3 251.4h.9M174.6 250.8h.9M179.2 252.8h.9M171.4 243.3h.9M177.3 250.9h.9M176.8 254.8h.9M172.8 244.1h.9M168.9 252.7h.9M171.6 254.5h.9M165.6 252.6h.9M174.3 250.2h.9M172.6 252.5h.9M180.8 254.9h.9M179.6 254.6h.9M179.1 246.0h.9M174.6 253.6h.9M174.6 250.1h.9M173.0 252.2h.9M174.9 248.6h.9M178.9 253.1h.9M180.1 234.0h.9M180.2 245.8h.9M180.1 239.3h.9M175.7 253.1h.9M177.9 248.4h.9M177.2 255.0h.9M172.7 252.4h.9M176.0 249.6h.9M173.1 254.0h.9M174.5 247.3h.9M160.8 254.8h.9M176.0 251.0h.9M164.2 245.6h.9M165.5 254.7h.9M173.5 252.3h.9M175.9 255.1h.9M170.2 245.8h.9M167.9 254.6h.9M178.4 248.7h.9M177.4 243.3h.9M175.9 253.4h.9M179.8 246.1h.9M179.1 253.1h.9M169.2 250.1h.9M178.2 245.4h.9M172.3 254.0h.9M170.7 251.6h.9M177.8 249.6h.9M179.9 241.1h.9M177.0 253.6h.9M165.5 255.1h.9M173.5 254.0h.9M180.5 248.8h.9M176.9 244.0h.9M179.9 252.3h.9M165.4 249.0h.9M177.5 243.6h.9M179.6 253.7h.9M180.6 253.2h.9M177.8 252.2h.9M173.0 245.6h.9M162.5 249.4h.9M175.0 251.0h.9M178.6 252.8h.9M178.4 254.4h.9M179.6 246.4h.9M173.7 253.8h.9M178.6 247.9h.9M166.9 252.4h.9M174.0 251.1h.9M159.0 254.6h.9M174.2 253.7h.9M175.9 254.7h.9M177.4 246.6h.9M175.2 245.5h.9M167.2 251.7h.9M180.0 243.7h.9M177.0 244.9h.9M167.3 251.9h.9M179.3 243.4h.9M171.4 246.2h.9M179.6 250.0h.9M176.4 243.0h.9M175.2 247.3h.9M179.2 251.3h.9M180.8 248.1h.9M175.9 255.1h.9M179.9 254.7h.9M176.2 255.1h.9M169.2 250.5h.9M180.2 243.1h.9M177.7 255.3h.9M178.6 253.7h.9M176.1 253.0h.9M180.8 255.2h.9M174.6 249.8h.9M176.1 249.3h.9M175.9 253.8h.9M172.3 250.7h.9M177.4 249.6h.9M179.2 248.0h.9M175.6 249.6h.9M174.3 254.2h.9M172.1 247.9h.9M169.8 251.0h.9M175.9 253.9h.9M171.2 250.3h.9M173.9 253.7h.9M179.6 249.0h.9M180.0 247.7h.9M164.9 251.3h.9M177.9 251.1h.9M179.9 246.9h.9M174.7 251.4h.9M165.0 253.6h.9M168.9 251.7h.9M172.8 244.9h.9M170.4 247.4h.9M172.5 254.9h.9M179.7 247.7h.9M179.1 254.3h.9M165.0 248.4h.9M170.7 249.4h.9M174.7 253.1h.9M175.1 255.3h.9M166.9 250.4h.9M171.9 251.2h.9M169.0 251.9h.9M176.0 253.3h.9M174.0 250.9h.9M179.3 250.5h.9M171.2 252.8h.9M178.1 245.9h.9M178.6 252.0h.9M165.5 254.7h.9M169.8 251.0h.9M171.3 254.5h.9M171.8 240.7h.9M177.5 240.3h.9M173.8 253.4h.9M176.5 249.6h.9M175.6 254.5h.9M179.6 255.2h.9M170.3 245.0h.9M173.2 254.8h.9M163.4 252.5h.9M176.7 251.6h.9M180.6 253.4h.9M179.7 248.9h.9M180.2 245.5h.9M175.7 248.3h.9M174.7 245.4h.9M169.9 248.0h.9M178.8 251.7h.9M175.8 250.7h.9M169.1 248.5h.9M165.7 254.1h.9M179.0 247.1h.9M176.2 253.9h.9M178.5 249.0h.9M179.9 254.9h.9M171.4 254.1h.9M165.6 254.2h.9M171.1 252.5h.9M180.9 254.3h.9M174.9 253.8h.9M180.2 233.3h.9M175.1 254.0h.9M171.4 251.0h.9M175.9 249.9h.9M174.1 237.3h.9M177.7 240.3h.9M172.5 253.8h.9M167.8 247.6h.9M174.5 253.0h.9M175.0 252.5h.9M179.5 252.5h.9M163.9 246.8h.9M178.3 249.4h.9M177.6 253.7h.9M174.2 255.0h.9M159.1 254.0h.9M180.2 253.6h.9M174.1 247.3h.9M177.6 249.4h.9M180.8 252.1h.9M169.1 250.4h.9M170.1 252.2h.9M171.3 254.3h.9M179.9 252.8h.9M176.3 246.9h.9M179.0 255.0h.9M173.5 242.8h.9M175.7 247.0h.9M180.2 251.8h.9M174.1 250.0h.9M174.6 243.5h.9M179.8 242.8h.9M175.9 249.2h.9M178.8 249.9h.9M167.6 247.6h.9M169.2 250.2h.9M178.6 255.2h.9M173.5 252.6h.9M180.3 253.5h.9M178.8 253.5h.9M165.9 254.7h.9M177.6 246.8h.9M167.0 253.3h.9M177.3 244.5h.9M180.4 242.8h.9M174.0 246.0h.9M169.3 255.1h.9M177.3 239.8h.9M178.3 249.6h.9M169.5 250.6h.9M168.2 252.2h.9M177.4 241.6h.9M176.9 253.2h.9M168.8 247.2h.9M166.5 255.2h.9M166.7 254.7h.9M166.5 249.8h.9M169.5 247.9h.9M179.0 253.5h.9M172.5 254.9h.9M172.0 243.4h.9M175.4 254.3h.9M180.2 251.2h.9M172.9 255.0h.9M179.7 249.1h.9M165.3 253.2h.9M167.5 254.1h.9M164.3 253.2h.9M180.0 250.6h.9M179.0 247.9h.9M175.9 253.5h.9M177.0 254.5h.9M179.7 253.0h.9M180.0 251.5h.9M175.0 249.3h.9M170.4 254.6h.9M174.1 244.4h.9M169.8 249.1h.9M167.2 249.0h.9M175.5 248.7h.9M175.3 254.3h.9M177.5 247.9h.9M178.6 253.0h.9M175.0 253.1h.9M168.7 249.1h.9M173.8 252.4h.9M180.0 254.1h.9M169.8 252.9h.9M178.0 242.7h.9M180.8 249.9h.9M171.8 254.8h.9M167.0 250.5h.9M168.2 251.0h.9M170.0 250.1h.9M167.9 249.3h.9M170.7 251.3h.9M166.1 253.1h.9M173.5 245.3h.9M166.6 253.2h.9M175.2 247.2h.9M174.5 249.8h.9M163.1 254.6h.9M166.4 254.9h.9M178.4 255.1h.9M164.7 251.2h.9M179.0 249.3h.9M173.2 252.4h.9M180.8 254.1h.9M170.5 247.9h.9M171.5 252.0h.9M180.0 254.2h.9M177.1 241.6h.9M173.7 251.4h.9M177.5 244.4h.9M164.6 251.9h.9M172.7 245.1h.9M178.6 249.1h.9M171.4 254.0h.9M174.7 249.0h.9M177.3 248.7h.9M172.8 252.6h.9M176.9 252.1h.9M171.0 254.1h.9M174.0 244.9h.9M170.3 255.1h.9M177.4 253.8h.9M173.9 245.7h.9M180.8 254.8h.9M177.1 254.1h.9M174.2 244.9h.9M177.4 249.2h.9M176.2 249.1h.9M179.0 250.6h.9M170.9 248.5h.9M180.3 248.2h.9M177.6 250.9h.9M179.1 244.7h.9M176.5 247.6h.9M164.0 252.4h.9M176.4 248.6h.9M175.6 252.6h.9M180.2 242.7h.9M167.5 252.2h.9M164.9 255.2h.9M174.1 252.7h.9M180.9 254.2h.9M167.5 254.2h.9M176.6 254.9h.9M179.8 244.8h.9M178.3 252.7h.9M170.9 244.2h.9M172.6 252.6h.9M179.4 252.3h.9M173.1 246.3h.9M178.5 254.5h.9M179.9 248.7h.9M177.9 244.3h.9M176.1 252.9h.9M179.3 254.1h.9M174.9 254.6h.9M177.9 252.0h.9M171.7 255.1h.9M169.2 250.5h.9M167.8 255.3h.9M170.8 249.2h.9M176.2 246.7h.9M176.9 254.7h.9M179.8 248.4h.9M175.2 254.4h.9M175.7 251.8h.9M177.8 248.9h.9M177.8 250.6h.9M168.5 249.9h.9M173.4 245.7h.9M169.2 249.9h.9M176.8 246.0h.9M164.3 255.2h.9M176.1 255.2h.9M169.4 251.1h.9M177.5 251.7h.9M178.4 254.9h.9M174.4 253.3h.9M176.9 251.7h.9M177.8 252.8h.9M180.1 246.0h.9M180.1 249.7h.9M175.0 252.9h.9M178.1 242.6h.9M180.9 242.5h.9M180.5 236.7h.9M167.1 252.7h.9M179.3 248.7h.9M177.6 251.2h.9M168.6 251.0h.9M176.4 251.0h.9M179.1 252.2h.9M170.7 255.2h.9M173.3 251.6h.9M175.7 251.3h.9M169.5 251.1h.9M174.1 246.3h.9M163.4 253.4h.9M174.5 250.4h.9M172.8 253.4h.9M169.4 249.4h.9M177.1 253.7h.9M177.3 247.2h.9M174.0 252.5h.9M176.8 249.8h.9M172.9 244.8h.9M164.0 254.5h.9M170.7 246.2h.9M179.2 249.6h.9M175.0 249.8h.9M172.5 241.6h.9M173.1 250.7h.9M173.8 246.3h.9M168.1 249.6h.9M163.8 254.6h.9M180.4 253.7h.9M178.1 243.7h.9M174.0 254.2h.9M172.8 252.7h.9M179.7 247.5h.9M175.1 255.3h.9M179.4 251.4h.9M175.2 245.9h.9M178.0 234.0h.9M178.1 253.7h.9M175.0 244.1h.9M177.5 246.0h.9M172.5 247.8h.9M179.3 253.5h.9M177.6 251.5h.9M176.8 254.7h.9M179.2 246.6h.9M165.0 245.4h.9M174.1 246.8h.9M173.2 254.1h.9M164.9 249.8h.9M166.5 254.7h.9M164.9 255.3h.9M176.9 240.7h.9M165.6 253.1h.9M169.3 248.5h.9M161.4 249.6h.9M176.0 250.1h.9M174.6 250.6h.9M166.3 252.8h.9M173.2 253.3h.9M158.5 253.6h.9M178.6 247.5h.9M176.5 247.5h.9M179.2 248.5h.9M173.5 248.5h.9M172.8 252.5h.9M175.5 251.2h.9M171.1 245.5h.9M169.0 252.6h.9M170.2 253.9h.9M175.9 252.3h.9M173.7 246.3h.9M174.8 251.1h.9M176.4 250.0h.9M171.7 254.3h.9M180.8 249.8h.9M177.1 254.6h.9M178.6 253.9h.9M178.4 248.1h.9M179.5 249.2h.9M178.5 243.0h.9M175.2 247.9h.9M174.4 253.1h.9M179.0 241.0h.9M172.7 253.2h.9M175.2 254.2h.9M179.1 253.7h.9M172.2 250.2h.9M175.4 254.3h.9M172.6 249.4h.9M168.9 251.1h.9M177.1 249.2h.9M179.8 240.1h.9M172.6 251.0h.9M179.8 250.4h.9M176.4 237.8h.9M178.2 245.5h.9M169.8 245.1h.9M176.6 246.9h.9M177.1 252.2h.9M164.7 252.4h.9M176.3 233.7h.9M177.7 252.9h.9M164.2 251.3h.9M170.4 254.6h.9M170.7 243.0h.9M167.8 254.9h.9M175.2 253.6h.9M179.8 248.2h.9M176.5 254.2h.9M168.0 246.4h.9M174.8 240.9h.9M171.2 245.3h.9M176.5 247.5h.9M175.3 246.5h.9M169.3 254.5h.9M163.0 250.6h.9M179.9 249.8h.9M171.5 247.6h.9M180.8 254.0h.9M168.7 250.4h.9M175.9 248.5h.9M176.2 252.0h.9M170.5 250.3h.9M178.4 240.6h.9M178.4 252.8h.9M180.6 251.9h.9M176.9 255.0h.9M178.3 254.7h.9M161.0 254.6h.9M177.6 247.1h.9M178.3 236.3h.9M180.4 246.7h.9M180.2 248.6h.9M179.9 246.8h.9M173.5 249.6h.9M170.9 248.5h.9M176.2 248.7h.9M179.3 255.1h.9M172.4 251.9h.9M168.5 244.7h.9M165.7 249.8h.9M176.2 242.3h.9M170.8 251.4h.9M178.7 245.8h.9M170.7 253.1h.9M168.1 254.5h.9M178.7 247.3h.9M177.2 250.8h.9M180.4 253.9h.9M173.5 249.2h.9M173.3 251.9h.9M164.4 255.1h.9M169.8 253.0h.9M176.7 254.4h.9M173.0 253.7h.9M180.1 249.2h.9M172.2 254.1h.9M173.6 244.1h.9M178.4 248.5h.9M177.5 248.6h.9M171.0 252.6h.9M163.5 254.6h.9M179.9 249.0h.9M170.8 254.0h.9M177.0 246.8h.9M172.8 251.7h.9M179.3 247.8h.9M180.7 251.5h.9M174.9 250.0h.9M177.3 243.5h.9M176.4 248.4h.9M177.9 249.0h.9M172.6 251.9h.9M179.3 230.3h.9M170.8 253.1h.9M180.7 244.9h.9M178.7 254.9h.9M173.8 244.8h.9M176.7 248.6h.9M175.0 246.5h.9M180.7 241.3h.9M169.0 247.9h.9M175.4 250.2h.9M174.4 255.2h.9M175.8 248.1h.9M175.9 250.4h.9M180.7 252.8h.9M166.1 249.9h.9M166.7 235.3h.9M173.0 248.4h.9M166.9 242.5h.9M158.3 237.4h.9M174.2 249.8h.9M175.8 240.0h.9M163.2 232.9h.9M177.4 249.9h.9M173.7 246.0h.9M174.7 247.1h.9M172.9 249.0h.9M174.3 248.2h.9M175.7 234.8h.9M167.7 245.8h.9M171.5 250.8h.9M166.6 251.4h.9M176.8 246.8h.9M169.4 244.5h.9M157.3 251.0h.9M163.5 241.4h.9"/>
<path stroke="#f22" stroke-opacity="0.75" stroke-width="0.9" d="M186.5 251.7h.9M192.5 230.8h.9M186.7 248.7h.9M187.1 243.2h.9M190.1 246.7h.9M188.5 238.9h.9M186.6 243.3h.9M186.5 250.5h.9M186.1 246.4h.9M190.6 244.8h.9M189.5 243.7h.9M190.4 245.7h.9M189.6 249.6h.9M189.7 235.0h.9M187.2 248.1h.9M189.2 245.2h.9M183.3 246.6h.9M191.3 242.3h.9M183.1 246.2h.9M186.6 241.5h.9M188.9 240.3h.9M189.0 244.7h.9M185.2 245.4h.9M187.4 238.4h.9M190.2 236.1h.9M186.8 248.4h.9M189.5 242.9h.9M189.1 243.2h.9M189.5 246.5h.9M188.7 246.7h.9M191.0 238.8h.9M188.3 246.7h.9M189.8 242.8h.9M186.0 250.4h.9M191.3 235.3h.9M187.5 243.9h.9M186.3 238.1h.9M192.6 235.9h.9M187.4 246.5h.9M191.2 238.5h.9M191.4 241.9h.9M189.3 244.5h.9M192.4 236.6h.9M187.2 249.2h.9M192.4 232.6h.9M189.5 242.5h.9M189.2 239.3h.9M190.9 246.5h.9M188.3 240.3h.9M189.8 240.3h.9M188.9 234.6h.9M189.5 245.0h.9M182.9 251.8h.9M188.9 242.1h.9M187.3 246.9h.9M191.0 234.2h.9M188.6 242.2h.9M190.4 240.1h.9M190.6 243.4h.9M185.5 241.6h.9M188.3 249.8h.9M190.0 238.4h.9M195.1 233.5h.9M188.0 236.4h.9M183.0 252.4h.9M184.2 252.9h.9M185.5 251.6h.9M186.0 245.7h.9M190.1 241.4h.9M187.3 243.8h.9M184.1 243.7h.9M191.0 245.4h.9M186.9 241.8h.9M184.1 246.8h.9M187.3 245.1h.9M187.9 245.3h.9M191.5 239.3h.9M186.0 252.3h.9M185.6 251.1h.9M190.7 245.6h.9M187.1 245.4h.9M188.3 247.1h.9M187.9 242.9h.9M193.4 241.6h.9M194.4 236.5h.9M186.0 247.9h.9M185.1 242.6h.9M189.6 233.7h.9M186.5 241.6h.9M189.3 244.7h.9M187.5 241.1h.9M187.5 249.3h.9M187.6 245.3h.9M185.8 237.4h.9M190.4 244.3h.9M193.4 234.9h.9M187.3 249.8h.9M191.4 233.4h.9M185.5 248.9h.9M183.1 245.7h.9M186.7 248.8h.9M186.5 248.0h.9M196.3 239.1h.9M188.2 239.0h.9M190.2 239.0h.9M190.1 243.6h.9M187.4 239.3h.9M185.1 251.7h.9M193.0 242.3h.9M188.5 241.1h.9M185.1 247.1h.9M186.3 248.1h.9M185.6 249.3h.9M186.5 246.3h.9M186.9 247.6h.9M183.1 242.7h.9M188.4 243.4h.9M186.3 248.5h.9M186.0 249.0h.9M186.5 250.5h.9M186.0 241.7h.9M186.9 249.5h.9M188.9 242.6h.9M183.5 250.9h.9M188.5 244.2h.9M186.1 244.3h.9M186.1 245.8h.9M182.7 250.8h.9M182.9 248.5h.9M190.1 242.7h.9M188.5 239.2h.9M186.0 249.5h.9M185.8 247.4h.9M184.0 245.5h.9M188.4 236.5h.9M184.8 254.7h.9M186.5 252.1h.9M189.0 243.2h.9M184.1 246.1h.9M184.6 251.9h.9M185.2 244.6h.9M183.1 250.9h.9M188.1 245.6h.9M189.2 239.4h.9M192.4 237.2h.9M189.8 235.7h.9M190.8 242.4h.9M190.1 243.3h.9M189.9 244.8h.9M185.5 247.0h.9M190.6 241.3h.9M186.1 253.6h.9M192.3 238.9h.9M187.8 250.1h.9M190.4 242.7h.9M186.6 244.9h.9M184.7 248.5h.9M188.5 239.2h.9M186.5 248.7h.9M183.4 244.9h.9M185.2 248.4h.9M192.8 236.2h.9M183.1 249.9h.9M186.7 247.7h.9M186.2 249.8h.9M184.4 253.3h.9M186.1 236.1h.9M187.9 245.3h.9M188.8 242.4h.9M187.8 245.5h.9M187.9 244.4h.9M193.3 236.7h.9M188.8 239.2h.9M188.0 248.5h.9M186.5 251.7h.9M187.6 254.3h.9M189.8 237.4h.9M182.9 246.1h.9M189.4 246.1h.9M188.6 241.3h.9M193.7 233.6h.9M188.1 242.4h.9M193.4 243.6h.9M185.9 241.1h.9M191.3 245.1h.9M189.7 237.7h.9M185.9 241.8h.9M187.7 240.6h.9M185.2 247.6h.9M188.5 250.3h.9M190.8 236.3h.9M190.6 245.7h.9M186.0 246.3h.9M187.9 251.0h.9M187.9 244.0h.9M184.9 246.7h.9M188.6 238.9h.9M183.3 246.7h.9M183.8 250.9h.9M183.7 246.6h.9M185.7 248.4h.9M184.5 245.6h.9M187.5 246.9h.9M187.5 245.1h.9M188.6 245.4h.9M183.0 252.4h.9M188.5 242.8h.9M184.2 250.9h.9M185.7 249.0h.9M183.5 253.2h.9M195.4 231.6h.9M190.6 238.0h.9M192.1 236.2h.9M189.4 245.5h.9M186.7 252.9h.9M190.0 240.0h.9M186.5 246.3h.9M187.0 242.2h.9M187.8 239.9h.9M190.3 237.1h.9M184.6 250.1h.9M184.8 250.3h.9M188.2 244.9h.9M188.4 248.2h.9M182.7 254.6h.9M186.1 247.9h.9M189.0 247.6h.9M185.8 244.4h.9M193.9 230.8h.9M188.5 246.7h.9M185.5 248.3h.9M187.6 239.2h.9M187.8 248.4h.9M191.9 234.7h.9M188.9 246.5h.9M190.9 240.3h.9M186.0 235.7h.9M189.3 246.9h.9M182.9 249.1h.9M188.3 243.1h.9M189.0 241.4h.9M191.8 238.4h.9M187.4 243.3h.9M203.0 238.7h.9M205.8 232.8h.9M199.9 248.8h.9M204.9 230.1h.9M187.7 244.5h.9M211.1 239.4h.9M205.2 246.7h.9"/>
<path stroke="#f66" stroke-opacity="0.5" stroke-width="0.8" d="M208.0 271.1h.8M187.5 267.3h.8M186.6 262.9h.8M185.1 270.2h.8M198.1 258.8h.8M211.4 265.0h.8"/>
<line x1="277.6" y1="274.8" x2="279.8" y2="274.8" stroke="#555" stroke-width="0.7" />
<line x1="278.5" y1="269" x2="279.8" y2="269" stroke="#555" stroke-width="0.7" />
<line x1="278.5" y1="265.7" x2="279.8" y2="265.7" stroke="#555" stroke-width="0.7" />
<line x1="278.5" y1="263.3" x2="279.8" y2="263.3" stroke="#555" stroke-width="0.7" />
<line x1="278.5" y1="261.4" x2="279.8" y2="261.4" stroke="#555" stroke-width="0.7" />
<line x1="278.5" y1="259.9" x2="279.8" y2="259.9" stroke="#555" stroke-width="0.7" />
<line x1="278.5" y1="258.6" x2="279.8" y2="258.6" stroke="#555" stroke-width="0.7" />
<line x1="278.5" y1="257.5" x2="279.8" y2="257.5" stroke="#555" stroke-width="0.7" />
<line x1="278.5" y1="256.5" x2="279.8" y2="256.5" stroke="#555" stroke-width="0.7" />
<line x1="277.6" y1="255.6" x2="279.8" y2="255.6" stroke="#555" stroke-width="0.7" />
<line x1="278.5" y1="249.9" x2="279.8" y2="249.9" stroke="#555" stroke-width="0.7" />
<line x1="278.5" y1="246.5" x2="279.8" y2="246.5" stroke="#555" stroke-width="0.7" />
<line x1="278.5" y1="244.1" x2="279.8" y2="244.1" stroke="#555" stroke-width="0.7" />
<line x1="278.5" y1="242.2" x2="279.8" y2="242.2" stroke="#555" stroke-width="0.7" />
<line x1="278.5" y1="240.7" x2="279.8" y2="240.7" stroke="#555" stroke-width="0.7" />
<line x1="278.5" y1="239.4" x2="279.8" y2="239.4" stroke="#555" stroke-width="0.7" />
<line x1="278.5" y1="238.3" x2="279.8" y2="238.3" stroke="#555" stroke-width="0.7" />
<line x1="278.5" y1="237.3" x2="279.8" y2="237.3" stroke="#555" stroke-width="0.7" />
<line x1="277.6" y1="236.4" x2="279.8" y2="236.4" stroke="#555" stroke-width="0.7" />
<line x1="278.5" y1="230.7" x2="279.8" y2="230.7" stroke="#555" stroke-width="0.7" />
<line x1="278.5" y1="227.3" x2="279.8" y2="227.3" stroke="#555" stroke-width="0.7" />
<line x1="278.5" y1="224.9" x2="279.8" y2="224.9" stroke="#555" stroke-width="0.7" />
<line x1="278.5" y1="223" x2="279.8" y2="223" stroke="#555" stroke-width="0.7" />
<line x1="278.5" y1="221.5" x2="279.8" y2="221.5" stroke="#555" stroke-width="0.7" />
<line x1="278.5" y1="220.2" x2="279.8" y2="220.2" stroke="#555" stroke-width="0.7" />
<line x1="278.5" y1="219.1" x2="279.8" y2="219.1" stroke="#555" stroke-width="0.7" />
<line x1="278.5" y1="218.2" x2="279.8" y2="218.2" stroke="#555" stroke-width="0.7" />
<line x1="277.6" y1="217.3" x2="279.8" y2="217.3" stroke="#555" stroke-width="0.7" />
<line x1="278.5" y1="211.5" x2="279.8" y2="211.5" stroke="#555" stroke-width="0.7" />
<line x1="278.5" y1="208.1" x2="279.8" y2="208.1" stroke="#555" stroke-width="0.7" />
<line x1="278.5" y1="205.7" x2="279.8" y2="205.7" stroke="#555" stroke-width="0.7" />
<line x1="278.5" y1="203.9" x2="279.8" y2="203.9" stroke="#555" stroke-width="0.7" />
<line x1="278.5" y1="202.4" x2="279.8" y2="202.4" stroke="#555" stroke-width="0.7" />
<line x1="278.5" y1="201.1" x2="279.8" y2="201.1" stroke="#555" stroke-width="0.7" />
<line x1="278.5" y1="200" x2="279.8" y2="200" stroke="#555" stroke-width="0.7" />
<line x1="278.5" y1="199" x2="279.8" y2="199" stroke="#555" stroke-width="0.7" />
<line x1="279.8" y1="274.8" x2="279.8" y2="277" stroke="#555" stroke-width="0.7" />
<line x1="286.2" y1="274.8" x2="286.2" y2="276.1" stroke="#555" stroke-width="0.7" />
<line x1="290" y1="274.8" x2="290" y2="276.1" stroke="#555" stroke-width="0.7" />
<line x1="292.7" y1="274.8" x2="292.7" y2="276.1" stroke="#555" stroke-width="0.7" />
<line x1="294.8" y1="274.8" x2="294.8" y2="276.1" stroke="#555" stroke-width="0.7" />
<line x1="296.5" y1="274.8" x2="296.5" y2="276.1" stroke="#555" stroke-width="0.7" />
<line x1="297.9" y1="274.8" x2="297.9" y2="276.1" stroke="#555" stroke-width="0.7" />
<line x1="299.1" y1="274.8" x2="299.1" y2="276.1" stroke="#555" stroke-width="0.7" />
<line x1="300.2" y1="274.8" x2="300.2" y2="276.1" stroke="#555" stroke-width="0.7" />
<line x1="301.2" y1="274.8" x2="301.2" y2="277" stroke="#555" stroke-width="0.7" />
<line x1="307.6" y1="274.8" x2="307.6" y2="276.1" stroke="#555" stroke-width="0.7" />
<line x1="311.4" y1="274.8" x2="311.4" y2="276.1" stroke="#555" stroke-width="0.7" />
<line x1="314.1" y1="274.8" x2="314.1" y2="276.1" stroke="#555" stroke-width="0.7" />
<line x1="316.2" y1="274.8" x2="316.2" y2="276.1" stroke="#555" stroke-width="0.7" />
<line x1="317.9" y1="274.8" x2="317.9" y2="276.1" stroke="#555" stroke-width="0.7" />
<line x1="319.3" y1="274.8" x2="319.3" y2="276.1" stroke="#555" stroke-width="0.7" />
<line x1="320.5" y1="274.8" x2="320.5" y2="276.1" stroke="#555" stroke-width="0.7" />
<line x1="321.6" y1="274.8" x2="321.6" y2="276.1" stroke="#555" stroke-width="0.7" />
<line x1="322.6" y1="274.8" x2="322.6" y2="277" stroke="#555" stroke-width="0.7" />
<line x1="329" y1="274.8" x2="329" y2="276.1" stroke="#555" stroke-width="0.7" />
<line x1="332.8" y1="274.8" x2="332.8" y2="276.1" stroke="#555" stroke-width="0.7" />
<line x1="335.5" y1="274.8" x2="335.5" y2="276.1" stroke="#555" stroke-width="0.7" />
<line x1="337.6" y1="274.8" x2="337.6" y2="276.1" stroke="#555" stroke-width="0.7" />
<line x1="339.3" y1="274.8" x2="339.3" y2="276.1" stroke="#555" stroke-width="0.7" />
<line x1="340.7" y1="274.8" x2="340.7" y2="276.1" stroke="#555" stroke-width="0.7" />
<line x1="341.9" y1="274.8" x2="341.9" y2="276.1" stroke="#555" stroke-width="0.7" />
<line x1="343" y1="274.8" x2="343" y2="276.1" stroke="#555" stroke-width="0.7" />
<line x1="344" y1="274.8" x2="344" y2="277" stroke="#555" stroke-width="0.7" />
<line x1="350.4" y1="274.8" x2="350.4" y2="276.1" stroke="#555" stroke-width="0.7" />
<line x1="354.2" y1="274.8" x2="354.2" y2="276.1" stroke="#555" stroke-width="0.7" />
<line x1="356.9" y1="274.8" x2="356.9" y2="276.1" stroke="#555" stroke-width="0.7" />
<line x1="359" y1="274.8" x2="359" y2="276.1" stroke="#555" stroke-width="0.7" />
<line x1="360.7" y1="274.8" x2="360.7" y2="276.1" stroke="#555" stroke-width="0.7" />
<line x1="362.1" y1="274.8" x2="362.1" y2="276.1" stroke="#555" stroke-width="0.7" />
<line x1="363.3" y1="274.8" x2="363.3" y2="276.1" stroke="#555" stroke-width="0.7" />
<line x1="364.4" y1="274.8" x2="364.4" y2="276.1" stroke="#555" stroke-width="0.7" />
<text x="277.0" y="257.925" font-size="6.8" text-anchor="end" font-weight="bold" fill="#111" font-family='"Liberation Sans", sans-serif'>10<tspan font-size="4.76" dy="-2.6">0</tspan></text>
<text x="298.0" y="281.6" font-size="6.8" font-weight="bold" fill="#111" font-family='"Liberation Sans", sans-serif'>10<tspan font-size="4.76" dy="-2.6">0</tspan></text>
<text x="277.0" y="238.75" font-size="6.8" text-anchor="end" font-weight="bold" fill="#111" font-family='"Liberation Sans", sans-serif'>10<tspan font-size="4.76" dy="-2.6">1</tspan></text>
<text x="319.40000000000003" y="281.6" font-size="6.8" font-weight="bold" fill="#111" font-family='"Liberation Sans", sans-serif'>10<tspan font-size="4.76" dy="-2.6">1</tspan></text>
<text x="277.0" y="219.57500000000002" font-size="6.8" text-anchor="end" font-weight="bold" fill="#111" font-family='"Liberation Sans", sans-serif'>10<tspan font-size="4.76" dy="-2.6">2</tspan></text>
<text x="340.8" y="281.6" font-size="6.8" font-weight="bold" fill="#111" font-family='"Liberation Sans", sans-serif'>10<tspan font-size="4.76" dy="-2.6">2</tspan></text>
<text x="277.0" y="200.4" font-size="6.8" text-anchor="end" font-weight="bold" fill="#111" font-family='"Liberation Sans", sans-serif'>10<tspan font-size="4.76" dy="-2.6">3</tspan></text>
<text x="362.2" y="281.6" font-size="6.8" font-weight="bold" fill="#111" font-family='"Liberation Sans", sans-serif'>10<tspan font-size="4.76" dy="-2.6">3</tspan></text>
<rect x="280.2" y="258.1" width="25.99999999999998" height="16.70000000000001" fill="#04f404"/>
<path stroke="#ffffff" stroke-opacity="0.4" stroke-width="0.9" d="M294.9 269.2h.9M305.2 274.4h.9M288.9 264.6h.9M305.0 272.0h.9M290.0 269.5h.9M304.2 270.9h.9M295.0 269.4h.9M288.4 259.3h.9M294.0 273.4h.9M295.7 268.2h.9M290.3 274.0h.9M283.7 273.4h.9M280.9 259.3h.9M293.6 262.8h.9M304.2 266.0h.9M283.2 272.0h.9M287.1 260.9h.9M294.2 268.1h.9M285.2 262.0h.9M291.5 264.9h.9M302.2 263.4h.9M291.2 260.5h.9M300.9 272.6h.9M303.7 269.2h.9M302.9 273.2h.9M289.9 261.4h.9M298.4 268.8h.9M289.5 267.4h.9M299.8 272.7h.9M296.5 261.6h.9M297.4 262.2h.9M286.9 264.9h.9M288.3 274.3h.9M303.4 261.9h.9M300.4 266.6h.9M288.8 263.0h.9M298.2 259.2h.9M282.4 271.9h.9M287.9 265.5h.9M290.7 264.4h.9M294.4 272.7h.9M297.5 268.8h.9M282.2 273.7h.9M291.2 261.2h.9M285.5 270.8h.9M304.7 260.7h.9M281.5 270.8h.9M288.3 265.7h.9M286.8 272.8h.9M283.5 264.3h.9M287.1 271.4h.9M285.2 264.1h.9M295.5 259.8h.9M294.3 268.3h.9"/>
<path stroke="#ffffff" stroke-opacity="0.5" stroke-width="0.9" d="M302.8 269.2h.9M304.7 262.4h.9M303.9 265.0h.9M305.1 265.9h.9M303.9 260.7h.9M301.5 268.5h.9M302.7 262.0h.9M302.9 262.2h.9M304.7 268.9h.9M302.0 264.3h.9M299.8 271.7h.9M304.1 258.7h.9M300.9 273.7h.9M304.9 269.6h.9M305.0 263.5h.9M300.8 265.1h.9M302.1 272.6h.9M303.7 273.6h.9M302.2 263.2h.9M302.6 269.1h.9M304.6 266.1h.9M303.1 270.0h.9M300.8 270.6h.9M305.0 265.3h.9M303.3 260.9h.9M299.6 260.6h.9M303.2 271.7h.9M304.2 265.8h.9M304.6 271.8h.9M303.2 271.8h.9M303.8 270.1h.9M302.4 261.3h.9M302.0 274.3h.9M303.9 265.2h.9M304.2 274.0h.9M301.7 258.8h.9M301.9 270.7h.9M304.2 272.6h.9M302.9 271.8h.9M304.6 268.9h.9M303.3 274.4h.9M304.9 262.4h.9M304.6 265.7h.9M302.9 262.2h.9M303.6 271.4h.9M304.4 267.4h.9M303.9 271.0h.9M304.9 259.7h.9M304.0 259.3h.9M304.5 259.9h.9M302.2 272.2h.9M304.6 267.0h.9M304.0 259.5h.9M300.9 259.4h.9M303.3 270.2h.9M304.4 261.4h.9M303.6 269.2h.9M303.9 261.6h.9M301.7 272.9h.9M304.2 263.9h.9"/>
<path stroke="#ffffff" stroke-opacity="0.5" stroke-width="0.9" d="M299.5 270.7h.9M288.0 271.7h.9M280.5 274.1h.9M284.3 271.5h.9M300.4 272.9h.9M289.0 271.6h.9M297.9 274.2h.9M285.0 273.4h.9M291.4 271.3h.9M294.1 273.3h.9M299.4 271.8h.9M303.7 271.6h.9M289.5 272.2h.9M287.7 270.1h.9M285.7 272.1h.9M297.7 274.0h.9M297.2 272.7h.9M287.1 273.7h.9M285.4 273.9h.9M282.8 272.3h.9M283.3 273.4h.9M299.5 273.6h.9M300.3 272.2h.9M292.1 273.4h.9M299.6 273.5h.9M293.6 274.0h.9M295.4 271.9h.9M302.2 269.6h.9M291.9 272.5h.9M293.6 272.5h.9M305.2 273.4h.9M305.1 273.0h.9M295.7 271.3h.9M292.8 272.7h.9M280.7 271.4h.9M291.8 273.8h.9M287.5 272.0h.9M291.5 273.4h.9M286.2 272.3h.9M305.1 273.8h.9M286.2 273.3h.9M296.9 273.9h.9M281.0 270.6h.9M290.5 274.0h.9M305.3 273.8h.9M289.9 273.2h.9M282.6 272.3h.9M297.3 272.9h.9M301.8 274.2h.9M281.4 274.2h.9M295.8 273.3h.9M282.4 273.1h.9M300.2 273.5h.9M295.6 273.1h.9M301.0 273.8h.9M304.1 273.4h.9M299.0 273.4h.9M300.4 272.2h.9M291.1 273.6h.9M288.2 273.3h.9"/>
<path stroke="#1a22e6" stroke-opacity="0.8" stroke-width="0.9" d="M301.1 251.5h.9M292.7 252.7h.9M302.2 256.0h.9M301.5 255.7h.9M303.4 253.4h.9M293.0 254.4h.9M302.0 253.3h.9M283.4 253.0h.9M299.7 252.3h.9M296.0 245.9h.9M294.3 254.5h.9M296.5 250.3h.9M283.3 253.2h.9M293.0 246.2h.9M299.0 252.3h.9M289.0 256.1h.9M291.8 252.8h.9M295.9 251.7h.9M288.3 254.7h.9M303.4 250.7h.9M302.7 252.3h.9M289.8 251.0h.9M303.0 254.4h.9M294.7 256.2h.9M304.6 248.2h.9M304.1 252.0h.9M294.6 249.7h.9M288.1 244.0h.9M286.2 254.0h.9M300.6 255.7h.9M284.3 251.9h.9M292.3 254.9h.9M290.9 251.8h.9M290.7 251.7h.9M287.1 252.9h.9M303.3 254.4h.9M291.3 254.7h.9M296.7 255.6h.9M299.0 250.3h.9M299.8 256.1h.9M294.7 249.9h.9M299.8 253.1h.9M284.2 256.3h.9M295.0 252.6h.9M288.8 254.6h.9M293.8 249.8h.9M292.1 251.6h.9M298.6 252.2h.9M298.4 254.5h.9M298.4 249.9h.9M301.7 251.8h.9M287.5 253.8h.9M290.7 254.9h.9M298.2 256.6h.9M301.8 251.1h.9M292.9 251.9h.9M301.6 254.5h.9M297.3 246.2h.9M296.7 255.8h.9M290.9 256.7h.9M296.5 255.4h.9M302.1 243.4h.9M304.3 251.0h.9M293.8 248.7h.9M287.2 254.9h.9M293.8 253.6h.9M300.2 256.0h.9M302.8 251.7h.9M302.7 256.1h.9M289.1 248.9h.9M288.6 253.4h.9M295.6 242.2h.9M295.4 249.4h.9M294.8 246.1h.9M298.5 256.4h.9M296.0 253.2h.9M299.2 253.6h.9M297.2 255.8h.9M282.5 253.7h.9M301.9 252.8h.9M292.9 253.1h.9M300.7 254.0h.9M286.4 249.6h.9M300.9 247.9h.9M300.4 256.6h.9M297.7 251.8h.9M285.6 249.7h.9M300.3 251.5h.9M295.1 256.7h.9M291.9 254.4h.9M302.0 251.5h.9M298.8 256.5h.9M296.5 254.1h.9M296.3 255.9h.9M291.5 256.0h.9M294.6 248.1h.9M289.6 255.5h.9M300.0 250.3h.9M293.6 249.9h.9M293.3 254.8h.9M302.4 250.5h.9M295.1 251.0h.9M295.9 256.2h.9M289.7 255.1h.9M291.1 249.9h.9M293.0 254.6h.9M302.2 251.7h.9M300.6 247.9h.9M292.1 248.4h.9M300.5 255.7h.9M302.8 255.7h.9M297.5 256.1h.9M294.4 248.4h.9M289.5 254.0h.9M291.4 254.4h.9M292.6 252.9h.9M301.8 245.9h.9M295.0 254.0h.9M296.5 256.5h.9M293.5 254.6h.9M298.4 254.6h.9M303.0 246.5h.9M297.8 247.3h.9M288.2 253.3h.9M299.5 252.6h.9M302.1 254.8h.9M304.3 244.9h.9M285.9 252.2h.9M302.0 252.7h.9M292.9 246.9h.9M293.3 255.4h.9M291.4 253.6h.9M299.9 247.3h.9M294.8 252.0h.9M289.6 252.2h.9M295.6 256.3h.9M300.0 247.5h.9M294.2 253.4h.9M304.0 251.2h.9M302.6 247.7h.9M292.4 255.2h.9M304.1 254.4h.9M299.5 248.0h.9M282.6 252.0h.9M304.5 249.3h.9M293.6 255.1h.9M302.0 250.0h.9M292.1 253.9h.9M290.4 252.2h.9M296.6 251.4h.9M300.8 256.6h.9M294.6 254.9h.9M295.1 248.9h.9M296.8 256.3h.9M297.5 252.5h.9M292.9 247.2h.9M294.5 251.9h.9M301.5 256.1h.9M293.9 250.9h.9M298.1 254.7h.9M300.3 256.2h.9M297.9 251.0h.9M304.8 251.0h.9M290.1 254.9h.9M304.7 256.7h.9M299.2 245.5h.9M299.7 250.2h.9M303.5 254.0h.9M291.9 254.5h.9M300.3 253.3h.9M291.8 251.1h.9M291.9 256.3h.9M300.5 253.4h.9M296.4 252.9h.9M293.0 256.4h.9M303.5 247.6h.9M296.5 256.0h.9M297.5 253.0h.9M287.2 251.4h.9M303.2 246.2h.9M284.8 253.7h.9M295.5 253.9h.9M299.9 246.3h.9M295.6 253.3h.9M298.4 248.3h.9M302.8 250.0h.9M291.7 254.3h.9M300.4 252.9h.9M289.1 252.9h.9M288.3 254.1h.9M297.0 253.3h.9M293.6 251.9h.9M286.5 256.3h.9M294.6 254.1h.9M291.3 253.9h.9M295.9 254.3h.9M287.8 256.6h.9M293.6 253.5h.9M293.3 252.3h.9M300.2 256.7h.9M301.2 243.5h.9M298.1 248.3h.9M290.3 247.8h.9M287.7 253.5h.9M292.4 256.0h.9M293.0 251.8h.9M299.1 251.1h.9M296.8 249.4h.9M296.4 254.9h.9M300.8 255.2h.9M286.2 250.9h.9M301.2 254.5h.9M295.5 249.4h.9M297.8 250.8h.9M301.6 253.2h.9M298.6 254.7h.9M297.0 253.4h.9M299.0 252.3h.9M290.1 255.6h.9M293.4 256.5h.9M293.0 255.1h.9M295.1 255.5h.9M283.3 254.0h.9M296.2 253.2h.9M304.7 246.4h.9M294.8 251.5h.9M297.2 250.2h.9M304.5 254.1h.9M289.6 255.3h.9M296.7 251.5h.9M294.0 254.3h.9M297.8 255.3h.9M300.4 251.8h.9M293.5 254.5h.9M291.9 255.1h.9M298.5 252.5h.9M285.6 256.7h.9M300.2 251.3h.9M287.5 253.9h.9M301.3 253.0h.9M304.1 256.1h.9M291.9 253.6h.9M286.6 254.3h.9M301.3 252.4h.9M290.7 249.3h.9M295.3 255.6h.9M288.5 252.6h.9M295.8 255.2h.9M299.5 254.1h.9M295.4 253.0h.9M297.7 255.7h.9M301.2 255.9h.9M295.6 252.0h.9M298.0 246.2h.9M292.5 256.4h.9M289.8 254.7h.9M289.9 255.9h.9M293.4 250.8h.9M302.3 255.4h.9M300.7 250.0h.9M282.7 251.0h.9M293.8 255.0h.9M298.8 255.0h.9M302.2 255.3h.9M296.1 248.2h.9M299.4 249.5h.9M293.8 253.7h.9M295.8 253.3h.9M291.0 254.1h.9M303.0 255.0h.9M295.4 249.6h.9M299.4 253.4h.9M301.7 253.7h.9M298.1 254.5h.9M304.5 254.0h.9M303.3 251.2h.9M296.5 254.3h.9M285.3 252.6h.9M291.0 256.7h.9M299.7 247.6h.9M294.3 251.6h.9M302.1 255.7h.9M293.4 253.9h.9M294.5 254.9h.9M295.9 253.6h.9M297.0 251.8h.9M292.1 255.9h.9M302.9 252.0h.9M302.7 255.2h.9M290.1 254.3h.9M296.7 250.0h.9M303.2 254.2h.9M299.1 255.0h.9M300.3 252.4h.9M290.6 253.4h.9M297.3 252.6h.9M296.5 256.4h.9M301.1 256.4h.9M286.7 255.2h.9M287.2 252.7h.9M303.0 255.8h.9M300.9 255.0h.9M303.7 249.6h.9M302.5 247.6h.9M289.0 250.3h.9M301.7 246.1h.9M302.3 256.4h.9M304.3 254.0h.9M299.7 247.4h.9M299.5 256.1h.9M294.3 248.9h.9M302.7 254.8h.9M286.0 251.6h.9M295.4 251.5h.9M296.5 255.1h.9M296.4 254.3h.9M301.0 251.2h.9M289.8 256.4h.9M304.1 242.7h.9M288.7 252.6h.9M300.8 253.8h.9M298.9 248.1h.9M295.1 254.2h.9M299.8 250.4h.9M299.2 253.1h.9M293.1 254.9h.9M298.2 245.8h.9M296.3 255.6h.9M292.2 249.0h.9M304.1 254.4h.9M301.4 256.3h.9M294.5 256.2h.9M290.4 255.3h.9M302.0 254.0h.9M298.2 250.8h.9M301.1 249.4h.9M296.0 254.2h.9M296.8 252.7h.9M303.5 248.7h.9M296.5 253.5h.9M303.4 248.5h.9M298.6 249.7h.9M299.9 247.9h.9M293.4 256.6h.9M303.0 250.3h.9M300.1 252.5h.9M299.7 252.1h.9M295.3 254.2h.9M297.1 251.5h.9M284.4 255.8h.9M300.6 253.7h.9M294.3 250.3h.9M303.2 256.1h.9M292.0 253.7h.9M297.8 248.7h.9M294.8 254.4h.9M304.3 246.2h.9M288.6 254.0h.9M299.9 246.6h.9M297.2 251.8h.9M293.3 253.7h.9M282.0 254.8h.9M297.6 253.2h.9M290.3 253.9h.9M298.4 256.0h.9M296.4 253.5h.9M289.0 251.5h.9M302.4 256.5h.9M303.8 247.1h.9M298.1 252.3h.9M292.1 249.5h.9M297.6 249.3h.9M295.0 251.4h.9M304.4 255.0h.9M295.1 255.8h.9M300.3 250.8h.9M299.3 250.3h.9M286.8 256.6h.9M300.5 253.1h.9M297.6 247.6h.9M298.8 249.2h.9M288.2 255.5h.9M299.2 252.7h.9M298.3 254.0h.9M301.2 251.5h.9M283.2 256.7h.9M302.7 256.1h.9M304.4 239.6h.9M299.5 249.4h.9M300.5 253.4h.9M287.7 254.6h.9M298.9 256.4h.9M301.1 252.6h.9M300.0 256.6h.9M296.2 253.5h.9M294.0 250.4h.9M298.2 254.3h.9M303.8 256.1h.9M294.7 251.4h.9M300.6 254.8h.9M302.1 255.7h.9M288.7 253.9h.9M294.7 247.3h.9M300.7 253.9h.9M293.7 255.0h.9M289.6 254.7h.9M302.0 253.4h.9M301.6 247.5h.9M301.6 251.5h.9M302.8 255.4h.9M293.6 253.9h.9M297.0 255.7h.9M289.9 255.1h.9M297.4 254.9h.9M294.5 256.5h.9M286.4 254.7h.9M303.1 250.8h.9M304.2 242.3h.9M282.9 255.6h.9M298.7 251.1h.9M302.3 250.8h.9M291.5 252.8h.9M302.7 251.6h.9M294.4 255.8h.9M284.5 256.5h.9M294.7 248.6h.9M297.9 256.5h.9M296.0 255.0h.9M290.8 254.0h.9M297.2 254.3h.9M294.8 256.5h.9M288.4 246.4h.9M297.5 253.8h.9M291.7 247.9h.9M300.4 251.6h.9M300.2 251.5h.9M297.9 256.4h.9M299.9 251.3h.9M296.7 250.3h.9M294.7 253.9h.9M283.4 256.7h.9M293.6 254.9h.9M286.9 253.0h.9M301.3 244.0h.9M291.1 247.4h.9M302.9 255.8h.9M298.1 255.9h.9M291.6 253.4h.9M296.9 251.5h.9M299.0 246.5h.9M301.2 255.1h.9M297.6 249.9h.9M297.7 253.2h.9M296.6 253.0h.9M287.9 255.2h.9M285.4 250.4h.9M300.9 254.4h.9M293.5 249.6h.9M295.3 256.1h.9M302.9 252.9h.9M297.0 255.6h.9M294.1 256.5h.9M291.4 251.6h.9M299.4 253.0h.9M295.8 253.3h.9M303.7 252.7h.9M296.4 255.4h.9M301.7 254.0h.9M287.6 254.1h.9M299.6 252.3h.9M294.2 254.2h.9M300.5 252.4h.9M281.6 254.1h.9M300.3 256.5h.9M293.0 254.1h.9M297.2 254.6h.9M299.7 253.5h.9M291.6 255.8h.9M299.7 253.2h.9M293.5 254.6h.9M298.5 249.8h.9M292.2 243.2h.9M297.7 251.6h.9M285.4 253.9h.9M292.6 248.2h.9M297.8 253.3h.9M288.5 247.7h.9M297.6 250.7h.9M282.9 253.7h.9M299.5 251.0h.9M304.2 256.5h.9M301.8 251.8h.9M297.9 243.2h.9M294.5 252.1h.9M303.0 250.1h.9M289.6 254.4h.9M283.6 255.6h.9M301.9 254.5h.9M300.4 252.7h.9M303.3 253.0h.9M289.8 255.9h.9M300.9 247.2h.9M296.6 253.2h.9M295.9 256.4h.9M301.3 252.6h.9M299.0 251.4h.9M296.2 254.0h.9M289.9 254.7h.9M295.5 253.0h.9M301.3 253.5h.9M303.1 253.0h.9M293.8 253.5h.9M302.0 255.7h.9M300.9 247.9h.9M288.9 251.9h.9M295.7 255.8h.9M291.2 252.8h.9M292.0 254.6h.9M295.0 254.8h.9M302.8 249.3h.9M291.1 249.9h.9M297.8 253.8h.9M300.0 255.9h.9M286.7 255.5h.9M299.7 254.8h.9M287.8 252.7h.9M290.7 248.9h.9M300.8 256.2h.9M303.2 253.0h.9M302.0 252.3h.9M286.5 255.6h.9M291.3 250.0h.9M300.4 249.2h.9M301.7 244.4h.9M301.1 248.1h.9M285.6 252.1h.9M287.6 256.5h.9M288.9 254.4h.9M288.0 252.2h.9M294.8 253.6h.9M294.8 254.8h.9M287.3 254.9h.9M289.2 252.9h.9M298.7 252.1h.9M294.5 255.7h.9M301.4 252.1h.9M302.9 256.0h.9M295.0 252.3h.9M302.7 254.4h.9M300.0 255.5h.9M302.4 250.8h.9M297.6 250.1h.9M298.1 256.0h.9M303.2 253.9h.9M303.0 240.2h.9M299.6 247.5h.9M294.0 249.6h.9M291.5 256.1h.9M286.3 256.1h.9M297.2 254.2h.9M298.6 244.3h.9M295.1 252.0h.9M300.6 255.4h.9M295.1 246.2h.9M302.3 246.9h.9M303.4 250.1h.9M304.4 249.9h.9M286.5 256.6h.9M295.1 254.8h.9M295.1 246.7h.9M300.3 247.4h.9M300.7 252.5h.9M303.4 256.0h.9M286.5 254.3h.9M301.4 250.0h.9M291.0 247.3h.9M292.9 255.2h.9M296.4 248.8h.9M301.4 248.7h.9M282.2 251.1h.9M292.2 256.4h.9M290.8 255.9h.9M293.8 252.1h.9M296.0 250.9h.9M293.4 254.9h.9M297.0 253.9h.9M284.6 255.6h.9M282.1 256.6h.9M285.9 254.8h.9M297.4 250.3h.9M295.4 255.9h.9M304.6 255.9h.9M297.2 253.1h.9M294.6 252.3h.9M285.9 251.6h.9M296.7 256.7h.9M288.9 254.8h.9M284.8 253.2h.9M301.5 246.5h.9M294.4 255.7h.9M295.7 254.1h.9M302.2 256.6h.9M296.7 251.0h.9M300.3 249.5h.9M304.1 255.6h.9M296.2 255.3h.9M288.9 251.1h.9M286.2 249.7h.9M301.5 243.2h.9M302.9 253.4h.9M296.9 251.2h.9M302.0 250.3h.9M297.3 254.4h.9M304.5 245.1h.9M299.5 254.5h.9M300.2 255.9h.9M294.8 251.1h.9M301.6 255.8h.9M300.8 252.8h.9M304.4 254.0h.9M293.3 255.2h.9M303.4 246.7h.9M299.9 249.1h.9M298.7 247.5h.9M304.3 240.4h.9M301.3 255.1h.9M289.9 250.0h.9M302.8 254.4h.9M290.7 251.9h.9M293.7 255.5h.9M288.8 255.3h.9M304.2 248.0h.9M296.5 256.4h.9M299.7 249.7h.9M282.7 255.4h.9M290.2 255.9h.9M293.9 254.0h.9M291.6 255.2h.9M292.6 252.9h.9M285.4 255.6h.9M298.1 248.2h.9M292.4 255.3h.9M296.1 252.0h.9M299.0 256.4h.9M286.1 252.9h.9M293.6 252.7h.9M291.7 256.0h.9M292.0 254.7h.9M287.5 253.1h.9M290.0 250.9h.9M281.7 256.3h.9M290.1 255.1h.9M293.1 255.7h.9M304.0 253.5h.9M297.1 247.2h.9M300.1 255.9h.9M300.2 248.5h.9M292.5 251.0h.9M302.7 252.4h.9M299.8 250.0h.9M286.8 255.6h.9M303.8 253.4h.9M295.4 254.9h.9M299.7 256.4h.9M303.4 251.2h.9M290.4 251.7h.9M303.7 256.3h.9M281.9 254.8h.9M303.9 247.0h.9M300.5 255.4h.9M295.0 254.1h.9M286.1 251.8h.9M296.1 252.4h.9M303.4 251.3h.9M292.8 256.4h.9M295.2 256.1h.9M295.0 249.4h.9M295.3 253.1h.9M297.3 249.0h.9M292.2 255.5h.9M301.8 256.1h.9M293.9 255.8h.9M284.9 252.8h.9M301.8 255.1h.9M302.2 246.6h.9M302.8 249.6h.9M296.6 254.4h.9M292.2 253.1h.9M291.6 254.7h.9M295.2 244.8h.9M289.9 253.9h.9M289.0 255.1h.9M295.6 251.7h.9M302.6 240.8h.9M292.5 255.5h.9M303.3 254.3h.9M302.8 247.7h.9M288.6 250.2h.9M298.2 252.4h.9M301.5 255.2h.9M296.8 253.3h.9M296.7 253.3h.9M296.9 255.3h.9M301.1 252.4h.9M292.9 245.2h.9M301.8 252.3h.9M297.6 254.1h.9M301.1 246.8h.9M303.9 255.8h.9M294.1 250.1h.9M298.5 250.1h.9M300.0 256.6h.9M298.6 256.4h.9M288.4 255.5h.9M301.0 253.3h.9M295.3 252.1h.9M294.2 256.6h.9M288.7 254.5h.9M296.6 254.2h.9M297.9 250.6h.9M295.6 253.5h.9M298.8 253.5h.9M288.6 253.6h.9M297.0 253.9h.9M296.6 249.3h.9M295.8 250.9h.9M300.1 252.7h.9M292.9 255.0h.9M302.8 256.7h.9M288.0 253.9h.9M301.7 250.9h.9M299.7 255.6h.9M300.7 254.1h.9M290.0 248.6h.9M294.8 252.4h.9M304.8 254.7h.9M302.1 251.5h.9M282.4 254.6h.9M292.7 247.0h.9M297.5 249.5h.9M296.7 248.8h.9M285.0 252.9h.9M299.3 256.3h.9M294.7 252.8h.9M291.7 251.1h.9M295.8 255.0h.9M300.3 247.5h.9M289.2 253.4h.9M299.4 254.7h.9M297.9 255.0h.9M293.4 250.5h.9M300.6 253.6h.9M304.5 248.5h.9M286.7 254.6h.9M299.9 250.4h.9M298.8 252.7h.9M292.6 249.7h.9M301.1 247.2h.9M298.3 255.9h.9M301.2 250.6h.9M301.4 251.1h.9M299.8 244.2h.9M301.8 253.6h.9M304.1 254.8h.9M286.7 256.6h.9M296.3 250.5h.9M302.6 253.2h.9M294.6 250.8h.9M292.1 252.1h.9M301.3 252.8h.9M300.5 255.4h.9M297.5 255.6h.9M303.5 253.5h.9M288.8 250.0h.9M285.3 256.1h.9M293.1 255.6h.9M303.4 245.6h.9M297.6 255.5h.9M297.6 255.8h.9M304.6 242.6h.9M285.6 254.8h.9M299.7 250.0h.9M301.9 253.2h.9M293.0 254.6h.9M298.7 253.2h.9M289.8 253.9h.9M296.5 245.2h.9M294.3 251.8h.9M298.1 244.3h.9M299.7 256.1h.9M287.8 251.8h.9M291.3 256.5h.9M291.8 252.2h.9M288.4 252.7h.9M293.1 255.3h.9M301.6 253.2h.9M297.7 252.7h.9M296.2 253.7h.9M302.8 249.5h.9M297.7 251.8h.9M294.0 252.3h.9M293.6 252.7h.9M284.4 256.0h.9M298.7 251.6h.9M293.2 256.0h.9M296.0 252.6h.9M301.0 256.0h.9M285.0 249.5h.9M296.0 250.8h.9M300.6 247.7h.9M291.8 248.8h.9M301.5 255.4h.9M291.4 252.6h.9M288.9 252.1h.9M297.0 253.7h.9M296.3 254.7h.9M302.8 254.5h.9M302.8 253.9h.9M298.2 252.8h.9M282.3 249.5h.9M299.7 249.2h.9M300.8 244.2h.9M301.3 254.4h.9M296.9 256.1h.9M289.9 253.3h.9M297.5 255.7h.9M286.4 256.2h.9M285.1 254.4h.9M304.5 256.5h.9M292.0 253.8h.9M290.0 256.0h.9M298.1 256.5h.9M303.8 252.9h.9M304.9 252.6h.9M295.3 252.5h.9M285.7 253.5h.9M304.0 243.0h.9M301.8 248.6h.9M300.4 249.0h.9M286.4 246.5h.9M295.9 236.0h.9M295.8 247.2h.9M297.2 251.5h.9M304.2 246.7h.9M292.9 240.5h.9M296.2 236.1h.9M288.2 249.5h.9M296.7 245.2h.9M302.1 252.4h.9M288.8 250.6h.9M291.1 238.6h.9M300.3 237.9h.9M288.0 252.3h.9"/>
<path stroke="#f22" stroke-opacity="0.75" stroke-width="0.9" d="M311.4 245.2h.9M307.0 247.7h.9M310.2 234.7h.9M309.8 241.9h.9M309.7 243.3h.9M310.0 245.8h.9M310.3 249.5h.9M311.7 246.9h.9M311.8 250.4h.9M308.3 239.7h.9M311.7 249.4h.9M311.5 245.6h.9M311.2 249.0h.9M309.1 243.2h.9M308.2 241.0h.9M314.3 243.4h.9M308.7 242.8h.9M307.9 244.8h.9M306.8 238.7h.9M307.9 240.7h.9M308.1 240.6h.9M308.0 239.6h.9M308.1 242.1h.9M312.9 250.8h.9M308.0 235.0h.9M311.5 244.4h.9M309.9 252.5h.9M309.6 254.1h.9M309.1 245.0h.9M309.1 244.2h.9M309.5 240.5h.9M307.8 241.9h.9M310.4 252.6h.9M309.5 242.6h.9M311.6 248.4h.9M310.7 243.7h.9M308.4 247.9h.9M308.9 252.6h.9M307.5 246.8h.9M309.3 237.5h.9M308.5 237.3h.9M308.5 242.7h.9M314.4 237.3h.9M310.5 241.3h.9M309.9 242.2h.9M307.6 254.4h.9M311.4 232.5h.9M308.9 242.1h.9M310.2 244.9h.9M310.1 256.7h.9M308.3 253.2h.9M313.5 224.5h.9M308.8 253.9h.9M309.9 240.3h.9M312.0 250.7h.9M308.9 246.0h.9M306.9 248.3h.9M309.6 238.1h.9M308.6 254.4h.9M312.3 234.3h.9M310.2 242.5h.9M308.2 246.3h.9M312.2 248.4h.9M307.4 245.0h.9M310.1 252.3h.9M309.1 245.6h.9M309.7 249.1h.9M309.9 244.7h.9M307.1 246.5h.9M313.2 240.6h.9M309.3 244.3h.9M310.5 214.8h.9M309.6 250.0h.9M307.5 229.9h.9M309.9 243.2h.9M307.7 254.5h.9M306.6 240.4h.9M308.4 246.7h.9M309.4 234.4h.9M306.9 256.6h.9M309.4 244.7h.9M308.6 246.7h.9M307.8 252.4h.9M311.0 244.6h.9M311.1 243.6h.9M316.2 255.6h.9M319.4 237.8h.9M336.1 244.0h.9M307.8 242.8h.9M330.0 242.9h.9M316.0 244.4h.9M317.4 242.7h.9"/>
<path stroke="#f66" stroke-opacity="0.5" stroke-width="0.8" d="M308.9 266.3h.8M333.1 262.2h.8M327.8 260.6h.8M319.6 262.6h.8M325.2 270.1h.8M314.9 264.2h.8"/>
<line x1="394" y1="275.3" x2="396.2" y2="275.3" stroke="#555" stroke-width="0.7" />
<line x1="394.9" y1="269.6" x2="396.2" y2="269.6" stroke="#555" stroke-width="0.7" />
<line x1="394.9" y1="266.2" x2="396.2" y2="266.2" stroke="#555" stroke-width="0.7" />
<line x1="394.9" y1="263.8" x2="396.2" y2="263.8" stroke="#555" stroke-width="0.7" />
<line x1="394.9" y1="262" x2="396.2" y2="262" stroke="#555" stroke-width="0.7" />
<line x1="394.9" y1="260.5" x2="396.2" y2="260.5" stroke="#555" stroke-width="0.7" />
<line x1="394.9" y1="259.2" x2="396.2" y2="259.2" stroke="#555" stroke-width="0.7" />
<line x1="394.9" y1="258.1" x2="396.2" y2="258.1" stroke="#555" stroke-width="0.7" />
<line x1="394.9" y1="257.1" x2="396.2" y2="257.1" stroke="#555" stroke-width="0.7" />
<line x1="394" y1="256.2" x2="396.2" y2="256.2" stroke="#555" stroke-width="0.7" />
<line x1="394.9" y1="250.5" x2="396.2" y2="250.5" stroke="#555" stroke-width="0.7" />
<line x1="394.9" y1="247.1" x2="396.2" y2="247.1" stroke="#555" stroke-width="0.7" />
<line x1="394.9" y1="244.7" x2="396.2" y2="244.7" stroke="#555" stroke-width="0.7" />
<line x1="394.9" y1="242.9" x2="396.2" y2="242.9" stroke="#555" stroke-width="0.7" />
<line x1="394.9" y1="241.4" x2="396.2" y2="241.4" stroke="#555" stroke-width="0.7" />
<line x1="394.9" y1="240.1" x2="396.2" y2="240.1" stroke="#555" stroke-width="0.7" />
<line x1="394.9" y1="239" x2="396.2" y2="239" stroke="#555" stroke-width="0.7" />
<line x1="394.9" y1="238" x2="396.2" y2="238" stroke="#555" stroke-width="0.7" />
<line x1="394" y1="237.2" x2="396.2" y2="237.2" stroke="#555" stroke-width="0.7" />
<line x1="394.9" y1="231.4" x2="396.2" y2="231.4" stroke="#555" stroke-width="0.7" />
<line x1="394.9" y1="228" x2="396.2" y2="228" stroke="#555" stroke-width="0.7" />
<line x1="394.9" y1="225.7" x2="396.2" y2="225.7" stroke="#555" stroke-width="0.7" />
<line x1="394.9" y1="223.8" x2="396.2" y2="223.8" stroke="#555" stroke-width="0.7" />
<line x1="394.9" y1="222.3" x2="396.2" y2="222.3" stroke="#555" stroke-width="0.7" />
<line x1="394.9" y1="221" x2="396.2" y2="221" stroke="#555" stroke-width="0.7" />
<line x1="394.9" y1="219.9" x2="396.2" y2="219.9" stroke="#555" stroke-width="0.7" />
<line x1="394.9" y1="218.9" x2="396.2" y2="218.9" stroke="#555" stroke-width="0.7" />
<line x1="394" y1="218.1" x2="396.2" y2="218.1" stroke="#555" stroke-width="0.7" />
<line x1="394.9" y1="212.3" x2="396.2" y2="212.3" stroke="#555" stroke-width="0.7" />
<line x1="394.9" y1="209" x2="396.2" y2="209" stroke="#555" stroke-width="0.7" />
<line x1="394.9" y1="206.6" x2="396.2" y2="206.6" stroke="#555" stroke-width="0.7" />
<line x1="394.9" y1="204.7" x2="396.2" y2="204.7" stroke="#555" stroke-width="0.7" />
<line x1="394.9" y1="203.2" x2="396.2" y2="203.2" stroke="#555" stroke-width="0.7" />
<line x1="394.9" y1="202" x2="396.2" y2="202" stroke="#555" stroke-width="0.7" />
<line x1="394.9" y1="200.8" x2="396.2" y2="200.8" stroke="#555" stroke-width="0.7" />
<line x1="394.9" y1="199.9" x2="396.2" y2="199.9" stroke="#555" stroke-width="0.7" />
<line x1="396.2" y1="275.3" x2="396.2" y2="277.5" stroke="#555" stroke-width="0.7" />
<line x1="402.6" y1="275.3" x2="402.6" y2="276.6" stroke="#555" stroke-width="0.7" />
<line x1="406.4" y1="275.3" x2="406.4" y2="276.6" stroke="#555" stroke-width="0.7" />
<line x1="409" y1="275.3" x2="409" y2="276.6" stroke="#555" stroke-width="0.7" />
<line x1="411.1" y1="275.3" x2="411.1" y2="276.6" stroke="#555" stroke-width="0.7" />
<line x1="412.8" y1="275.3" x2="412.8" y2="276.6" stroke="#555" stroke-width="0.7" />
<line x1="414.2" y1="275.3" x2="414.2" y2="276.6" stroke="#555" stroke-width="0.7" />
<line x1="415.4" y1="275.3" x2="415.4" y2="276.6" stroke="#555" stroke-width="0.7" />
<line x1="416.5" y1="275.3" x2="416.5" y2="276.6" stroke="#555" stroke-width="0.7" />
<line x1="417.5" y1="275.3" x2="417.5" y2="277.5" stroke="#555" stroke-width="0.7" />
<line x1="423.9" y1="275.3" x2="423.9" y2="276.6" stroke="#555" stroke-width="0.7" />
<line x1="427.7" y1="275.3" x2="427.7" y2="276.6" stroke="#555" stroke-width="0.7" />
<line x1="430.3" y1="275.3" x2="430.3" y2="276.6" stroke="#555" stroke-width="0.7" />
<line x1="432.4" y1="275.3" x2="432.4" y2="276.6" stroke="#555" stroke-width="0.7" />
<line x1="434.1" y1="275.3" x2="434.1" y2="276.6" stroke="#555" stroke-width="0.7" />
<line x1="435.5" y1="275.3" x2="435.5" y2="276.6" stroke="#555" stroke-width="0.7" />
<line x1="436.7" y1="275.3" x2="436.7" y2="276.6" stroke="#555" stroke-width="0.7" />
<line x1="437.8" y1="275.3" x2="437.8" y2="276.6" stroke="#555" stroke-width="0.7" />
<line x1="438.8" y1="275.3" x2="438.8" y2="277.5" stroke="#555" stroke-width="0.7" />
<line x1="445.2" y1="275.3" x2="445.2" y2="276.6" stroke="#555" stroke-width="0.7" />
<line x1="449" y1="275.3" x2="449" y2="276.6" stroke="#555" stroke-width="0.7" />
<line x1="451.6" y1="275.3" x2="451.6" y2="276.6" stroke="#555" stroke-width="0.7" />
<line x1="453.7" y1="275.3" x2="453.7" y2="276.6" stroke="#555" stroke-width="0.7" />
<line x1="455.4" y1="275.3" x2="455.4" y2="276.6" stroke="#555" stroke-width="0.7" />
<line x1="456.8" y1="275.3" x2="456.8" y2="276.6" stroke="#555" stroke-width="0.7" />
<line x1="458" y1="275.3" x2="458" y2="276.6" stroke="#555" stroke-width="0.7" />
<line x1="459.1" y1="275.3" x2="459.1" y2="276.6" stroke="#555" stroke-width="0.7" />
<line x1="460.1" y1="275.3" x2="460.1" y2="277.5" stroke="#555" stroke-width="0.7" />
<line x1="466.5" y1="275.3" x2="466.5" y2="276.6" stroke="#555" stroke-width="0.7" />
<line x1="470.3" y1="275.3" x2="470.3" y2="276.6" stroke="#555" stroke-width="0.7" />
<line x1="472.9" y1="275.3" x2="472.9" y2="276.6" stroke="#555" stroke-width="0.7" />
<line x1="475" y1="275.3" x2="475" y2="276.6" stroke="#555" stroke-width="0.7" />
<line x1="476.7" y1="275.3" x2="476.7" y2="276.6" stroke="#555" stroke-width="0.7" />
<line x1="478.1" y1="275.3" x2="478.1" y2="276.6" stroke="#555" stroke-width="0.7" />
<line x1="479.3" y1="275.3" x2="479.3" y2="276.6" stroke="#555" stroke-width="0.7" />
<line x1="480.4" y1="275.3" x2="480.4" y2="276.6" stroke="#555" stroke-width="0.7" />
<text x="393.4" y="258.52500000000003" font-size="6.8" text-anchor="end" font-weight="bold" fill="#111" font-family='"Liberation Sans", sans-serif'>10<tspan font-size="4.76" dy="-2.6">0</tspan></text>
<text x="414.3" y="282.1" font-size="6.8" font-weight="bold" fill="#111" font-family='"Liberation Sans", sans-serif'>10<tspan font-size="4.76" dy="-2.6">0</tspan></text>
<text x="393.4" y="239.45000000000002" font-size="6.8" text-anchor="end" font-weight="bold" fill="#111" font-family='"Liberation Sans", sans-serif'>10<tspan font-size="4.76" dy="-2.6">1</tspan></text>
<text x="435.59999999999997" y="282.1" font-size="6.8" font-weight="bold" fill="#111" font-family='"Liberation Sans", sans-serif'>10<tspan font-size="4.76" dy="-2.6">1</tspan></text>
<text x="393.4" y="220.375" font-size="6.8" text-anchor="end" font-weight="bold" fill="#111" font-family='"Liberation Sans", sans-serif'>10<tspan font-size="4.76" dy="-2.6">2</tspan></text>
<text x="456.9" y="282.1" font-size="6.8" font-weight="bold" fill="#111" font-family='"Liberation Sans", sans-serif'>10<tspan font-size="4.76" dy="-2.6">2</tspan></text>
<text x="393.4" y="201.3" font-size="6.8" text-anchor="end" font-weight="bold" fill="#111" font-family='"Liberation Sans", sans-serif'>10<tspan font-size="4.76" dy="-2.6">3</tspan></text>
<text x="478.2" y="282.1" font-size="6.8" font-weight="bold" fill="#111" font-family='"Liberation Sans", sans-serif'>10<tspan font-size="4.76" dy="-2.6">3</tspan></text>
<rect x="396.59999999999997" y="258.6" width="25.6" height="16.70000000000001" fill="#04f404"/>
<path stroke="#ffffff" stroke-opacity="0.4" stroke-width="0.9" d="M413.7 264.8h.9M418.9 260.5h.9M400.5 272.9h.9M414.5 264.0h.9M407.6 273.1h.9M412.5 264.3h.9M419.4 262.2h.9M416.1 274.4h.9M417.1 259.3h.9M400.8 266.3h.9M417.0 269.1h.9M420.7 274.1h.9M419.9 267.9h.9M416.4 266.4h.9M417.4 263.1h.9M410.6 263.7h.9M419.9 263.4h.9M415.1 266.7h.9M399.1 260.2h.9M405.7 272.1h.9M399.5 273.4h.9M419.5 265.2h.9M396.8 269.5h.9M409.1 274.4h.9M414.1 271.7h.9M407.0 266.8h.9M419.3 260.3h.9M405.2 265.4h.9M406.1 263.1h.9M402.5 260.2h.9M417.9 260.8h.9M412.1 267.1h.9M414.9 270.5h.9M411.5 259.7h.9M407.1 263.1h.9M397.0 260.3h.9M415.5 270.2h.9M420.3 269.9h.9M401.9 262.2h.9M412.7 270.4h.9M412.3 266.5h.9M397.9 273.0h.9M410.3 272.8h.9M413.2 272.5h.9M417.0 270.6h.9M409.9 274.9h.9M396.8 268.8h.9M409.7 269.8h.9M420.1 260.0h.9M409.9 267.1h.9M412.7 270.8h.9M397.0 272.4h.9M417.1 261.1h.9"/>
<path stroke="#ffffff" stroke-opacity="0.5" stroke-width="0.9" d="M419.8 274.7h.9M419.9 268.2h.9M419.0 261.3h.9M420.2 261.6h.9M418.7 271.5h.9M418.8 268.1h.9M420.6 273.7h.9M420.1 273.1h.9M420.6 269.8h.9M418.6 272.4h.9M420.6 267.2h.9M420.8 273.7h.9M418.6 266.9h.9M418.5 268.5h.9M417.3 274.8h.9M416.5 271.8h.9M419.9 268.3h.9M420.7 261.6h.9M418.0 261.3h.9M417.1 273.2h.9M420.0 259.2h.9M416.2 269.0h.9M419.2 269.6h.9M420.0 264.6h.9M417.5 262.6h.9M421.1 268.5h.9M417.0 274.5h.9M420.3 267.2h.9M418.5 269.1h.9M420.0 265.8h.9M418.9 262.8h.9M421.0 269.0h.9M419.4 270.7h.9M420.8 267.6h.9M418.0 272.9h.9M420.1 274.8h.9M421.0 261.2h.9M419.2 263.4h.9M418.4 270.2h.9M418.3 268.0h.9M417.1 260.3h.9M419.1 264.9h.9M420.4 264.6h.9M419.8 274.3h.9M420.7 260.9h.9M417.4 273.2h.9M418.7 274.0h.9M420.8 264.4h.9M417.5 267.8h.9M418.7 268.2h.9M420.9 274.1h.9M416.7 263.3h.9M414.7 267.5h.9M420.7 266.2h.9M419.6 273.4h.9M420.6 274.3h.9M420.9 262.0h.9M419.2 268.7h.9M420.3 268.0h.9M420.7 261.3h.9"/>
<path stroke="#ffffff" stroke-opacity="0.5" stroke-width="0.9" d="M408.7 273.9h.9M400.6 274.6h.9M403.3 273.7h.9M407.7 273.8h.9M399.2 274.4h.9M403.5 273.9h.9M405.4 270.5h.9M397.5 273.2h.9M419.1 273.5h.9M420.5 274.1h.9M413.4 273.6h.9M415.7 273.1h.9M401.1 274.4h.9M408.9 273.3h.9M397.8 274.0h.9M402.5 272.9h.9M398.6 273.9h.9M416.6 272.0h.9M418.4 271.8h.9M400.6 273.7h.9M399.1 273.1h.9M399.8 273.5h.9M419.8 274.0h.9M403.3 273.5h.9M407.1 273.9h.9M418.5 274.4h.9M396.9 273.3h.9M411.3 273.8h.9M409.5 274.3h.9M400.9 274.4h.9M412.0 268.8h.9M417.9 274.4h.9M400.4 273.9h.9M400.4 273.2h.9M410.8 272.1h.9M414.7 273.4h.9M416.7 273.5h.9M420.6 271.6h.9M417.7 273.3h.9M409.4 274.6h.9M409.0 274.5h.9M410.4 270.2h.9M406.5 271.6h.9M416.8 274.0h.9M399.8 272.0h.9M415.1 272.3h.9M400.1 272.5h.9M403.4 273.4h.9M408.8 274.2h.9M419.4 269.4h.9M420.3 274.7h.9M416.9 272.0h.9M410.1 273.8h.9M413.4 272.4h.9M400.8 274.2h.9M412.3 272.4h.9M418.4 273.6h.9M412.2 272.8h.9M408.8 273.7h.9M405.5 274.7h.9"/>
<path stroke="#1a22e6" stroke-opacity="0.8" stroke-width="0.9" d="M419.8 247.4h.9M420.3 245.6h.9M418.9 254.2h.9M409.2 252.5h.9M409.0 243.7h.9M403.3 257.2h.9M420.3 240.7h.9M410.9 256.3h.9M414.0 248.2h.9M416.6 251.2h.9M408.0 250.8h.9M416.9 249.1h.9M413.0 255.2h.9M404.9 256.5h.9M418.2 248.1h.9M418.6 254.3h.9M414.0 256.4h.9M417.7 254.2h.9M414.8 254.5h.9M413.6 249.2h.9M414.7 244.8h.9M414.3 250.3h.9M405.4 249.1h.9M409.2 252.6h.9M418.1 255.1h.9M417.1 242.2h.9M411.6 245.8h.9M417.4 242.2h.9M420.8 253.0h.9M410.7 255.1h.9M419.3 254.7h.9M414.7 247.6h.9M417.9 253.1h.9M415.3 256.7h.9M418.3 256.5h.9M416.6 252.5h.9M419.1 242.8h.9M408.4 253.4h.9M420.6 255.3h.9M414.6 256.3h.9M415.4 253.1h.9M415.8 246.7h.9M415.8 252.2h.9M419.6 255.5h.9M404.5 255.6h.9M415.3 255.9h.9M412.6 249.8h.9M403.0 251.9h.9M414.9 246.9h.9M417.7 252.0h.9M415.4 246.4h.9M409.8 251.2h.9M416.0 244.6h.9M419.1 252.8h.9M417.0 251.5h.9M411.7 254.9h.9M413.1 254.3h.9M420.4 256.2h.9M414.6 252.8h.9M415.9 245.4h.9M416.1 255.1h.9M410.6 251.9h.9M419.3 240.1h.9M413.7 247.5h.9M416.9 246.4h.9M415.5 250.9h.9M411.4 251.0h.9M420.6 242.9h.9M419.9 254.1h.9M407.2 256.4h.9M412.3 252.5h.9M405.8 248.5h.9M407.3 254.1h.9M411.7 256.8h.9M410.7 245.9h.9M407.8 255.0h.9M418.3 255.7h.9M418.4 243.1h.9M417.2 254.6h.9M420.7 243.7h.9M401.9 251.7h.9M413.4 250.4h.9M419.7 254.2h.9M419.1 252.0h.9M420.1 242.8h.9M418.2 240.3h.9M404.6 250.1h.9M420.0 247.4h.9M420.2 251.4h.9M416.4 236.5h.9M415.3 252.3h.9M407.9 256.0h.9M417.9 252.0h.9M405.4 253.8h.9M418.0 253.4h.9M416.3 241.7h.9M419.7 253.5h.9M420.7 256.5h.9M419.5 256.3h.9M412.1 242.4h.9M410.4 250.8h.9M419.1 250.4h.9M416.5 239.1h.9M417.3 253.2h.9M417.9 252.1h.9M418.9 254.9h.9M412.2 253.5h.9M402.4 255.0h.9M403.0 252.4h.9M415.1 257.1h.9M420.8 246.5h.9M408.1 253.6h.9M417.7 255.6h.9M405.2 248.5h.9M418.4 249.5h.9M409.4 246.8h.9M403.6 253.8h.9M416.3 253.5h.9M412.3 254.8h.9M420.1 253.9h.9M414.4 244.8h.9M419.4 255.9h.9M415.9 255.7h.9M419.4 233.3h.9M420.4 256.0h.9M412.9 256.3h.9M416.1 250.3h.9M417.2 250.4h.9M413.5 254.5h.9M415.3 255.8h.9M412.4 255.7h.9M419.9 255.4h.9M413.7 238.8h.9M416.0 249.4h.9M414.0 253.5h.9M414.8 253.2h.9M417.0 253.6h.9M409.7 250.0h.9M416.6 255.3h.9M419.8 252.6h.9M419.9 255.2h.9M411.8 256.5h.9M420.3 241.4h.9M413.7 255.4h.9M411.1 244.7h.9M413.9 251.8h.9M413.7 252.5h.9M419.3 251.4h.9M414.1 254.2h.9M408.0 255.0h.9M415.7 248.4h.9M419.6 240.7h.9M407.1 249.2h.9M405.0 249.4h.9M410.9 255.5h.9M419.6 245.9h.9M418.9 252.9h.9M416.0 251.5h.9M418.3 247.7h.9M419.7 250.8h.9M405.5 251.3h.9M400.9 256.9h.9M412.3 253.9h.9M409.6 243.1h.9M409.6 254.5h.9M418.3 253.3h.9M401.9 251.0h.9M415.0 249.5h.9M415.9 246.3h.9M420.7 246.8h.9M406.9 254.7h.9M411.9 252.8h.9M414.1 251.9h.9M419.0 250.8h.9M412.4 249.9h.9M416.1 248.3h.9M419.5 248.1h.9M419.8 250.4h.9M410.2 254.1h.9M403.0 254.8h.9M411.0 250.1h.9M415.8 244.6h.9M414.5 256.7h.9M419.8 241.7h.9M413.5 256.7h.9M418.4 253.3h.9M413.1 251.7h.9M419.7 247.8h.9M410.0 245.3h.9M411.3 241.8h.9M418.9 245.4h.9M401.1 252.2h.9M418.0 248.0h.9M418.2 249.0h.9M412.6 251.5h.9M414.1 252.2h.9M406.8 243.7h.9M408.9 256.5h.9M402.5 257.2h.9M414.0 247.1h.9M417.1 251.5h.9M406.7 256.3h.9M404.1 255.5h.9M420.1 241.5h.9M418.2 251.7h.9M405.0 251.3h.9M413.8 252.7h.9M413.0 247.0h.9M419.1 245.7h.9M403.5 253.7h.9M418.5 255.9h.9M420.1 254.0h.9M417.3 255.0h.9M412.6 256.8h.9M413.1 250.8h.9M419.3 250.6h.9M409.5 256.3h.9M412.5 254.9h.9M415.4 257.0h.9M410.7 257.0h.9M409.9 249.4h.9M413.3 252.9h.9M419.1 246.1h.9M412.6 235.5h.9M417.4 245.8h.9M405.2 244.6h.9M417.0 256.6h.9M418.9 251.2h.9M420.6 255.7h.9M409.8 250.8h.9M410.3 252.6h.9M415.0 251.6h.9M414.2 248.1h.9M414.4 256.3h.9M411.6 251.7h.9M407.8 247.8h.9M416.4 253.1h.9M415.6 230.4h.9M407.7 257.1h.9M410.2 250.2h.9M418.3 255.7h.9M417.8 250.3h.9M416.7 249.8h.9M407.3 250.1h.9M409.5 256.9h.9M420.3 251.8h.9M414.5 247.9h.9M412.9 248.9h.9M419.0 254.5h.9M417.3 247.3h.9M420.3 251.4h.9M419.2 254.9h.9M414.1 248.2h.9M420.8 256.5h.9M420.2 251.3h.9M416.0 250.8h.9M420.2 248.6h.9M420.4 242.7h.9M413.6 252.1h.9M420.3 244.1h.9M405.2 249.6h.9M419.2 252.5h.9M420.4 243.1h.9M418.0 250.0h.9M410.4 254.6h.9M408.2 255.3h.9M402.3 255.7h.9M409.5 251.7h.9M416.9 248.3h.9M417.9 249.7h.9M414.3 255.6h.9M410.2 255.6h.9M416.9 239.9h.9M417.0 250.4h.9M410.2 257.2h.9M410.2 255.5h.9M419.6 256.2h.9M412.7 255.6h.9M419.7 242.2h.9M402.9 245.9h.9M420.0 241.4h.9M416.7 250.0h.9M412.3 248.5h.9M407.4 247.7h.9M415.4 249.6h.9M412.3 254.0h.9M420.2 257.0h.9M415.9 249.1h.9M409.5 254.8h.9M420.6 253.4h.9M411.6 253.3h.9M410.9 251.4h.9M415.8 251.6h.9M417.3 241.1h.9M420.3 244.5h.9M418.1 251.3h.9M412.8 256.1h.9M413.6 246.0h.9M412.6 243.1h.9M418.7 252.5h.9M411.4 253.0h.9M403.7 254.4h.9M415.9 253.9h.9M407.3 243.7h.9M402.5 253.0h.9M414.4 246.2h.9M409.6 249.6h.9M415.6 248.4h.9M420.5 244.7h.9M420.8 245.0h.9M420.6 245.6h.9M417.4 253.5h.9M417.9 249.7h.9M419.3 250.2h.9M416.0 253.7h.9M406.9 251.9h.9M415.7 244.4h.9M408.5 254.5h.9M417.6 255.2h.9M420.3 251.6h.9M409.8 245.5h.9M417.9 252.0h.9M407.3 255.8h.9M404.5 256.4h.9M417.3 251.0h.9M407.3 251.7h.9M420.5 253.6h.9M417.9 256.2h.9M411.1 257.2h.9M419.8 254.6h.9M420.0 251.2h.9M420.5 251.8h.9M413.9 255.6h.9M409.5 253.9h.9M418.6 253.5h.9M416.6 246.1h.9M413.9 252.1h.9M418.4 254.0h.9M418.9 242.0h.9M420.5 256.3h.9M419.2 246.2h.9M416.1 251.3h.9M415.3 249.0h.9M414.0 255.7h.9M414.1 248.3h.9M420.6 249.8h.9M406.7 256.4h.9M416.9 247.3h.9M418.0 255.0h.9M419.1 251.3h.9M418.6 240.2h.9M417.9 248.0h.9M415.9 239.4h.9M416.0 251.0h.9M419.3 247.4h.9M411.2 250.3h.9M418.8 250.3h.9M412.8 251.9h.9M417.9 240.4h.9M418.6 246.3h.9M411.7 256.8h.9M414.1 252.0h.9M406.5 256.0h.9M417.0 252.3h.9M415.7 254.9h.9M416.7 252.6h.9M408.0 246.4h.9M418.2 247.1h.9M416.0 236.2h.9M420.0 253.7h.9M414.0 243.5h.9M420.5 234.5h.9M409.5 254.2h.9M420.2 253.6h.9M410.0 250.7h.9M409.4 253.2h.9M416.7 250.8h.9M418.4 251.6h.9M416.2 249.3h.9M419.8 251.5h.9M414.1 254.5h.9M411.6 250.4h.9M411.8 255.0h.9M412.1 254.9h.9M405.5 246.3h.9M415.1 245.3h.9M417.2 251.8h.9M418.1 246.2h.9M413.3 254.6h.9M412.8 250.6h.9M410.1 250.6h.9M415.5 247.4h.9M419.1 241.7h.9M420.3 254.1h.9M414.1 251.7h.9M419.0 255.4h.9M414.7 253.5h.9M412.0 249.9h.9M415.4 248.6h.9M418.3 251.6h.9M411.9 248.0h.9M419.6 246.6h.9M417.3 246.7h.9M414.5 246.7h.9M413.0 253.0h.9M416.1 244.6h.9M416.0 239.2h.9M411.4 256.7h.9M413.3 244.6h.9M419.1 253.5h.9M418.5 254.7h.9M418.7 252.6h.9M412.1 255.5h.9M419.9 252.4h.9M420.4 256.0h.9M418.0 247.8h.9M409.1 249.1h.9M416.8 249.7h.9M402.9 255.0h.9M418.6 243.3h.9M416.5 255.8h.9M412.3 248.0h.9M413.6 244.9h.9M415.4 246.1h.9M420.2 246.8h.9M417.3 256.1h.9M416.6 253.4h.9M411.0 244.3h.9M414.9 254.0h.9M409.2 256.5h.9M413.8 254.6h.9M420.4 251.1h.9M414.7 252.0h.9M419.4 251.9h.9M418.6 230.5h.9M414.6 252.9h.9M420.0 248.6h.9M404.1 254.0h.9M417.1 256.6h.9M420.5 243.9h.9M408.2 251.0h.9M408.5 253.0h.9M403.8 241.8h.9M420.4 250.8h.9M418.2 245.5h.9M417.4 245.3h.9M413.6 257.2h.9M411.0 255.5h.9M406.8 247.2h.9M418.5 246.4h.9M411.6 252.6h.9M419.4 255.0h.9M413.0 246.4h.9M403.1 254.2h.9M414.6 254.7h.9M410.2 237.1h.9M420.7 250.8h.9M420.1 244.0h.9M414.2 256.1h.9M419.8 251.2h.9M414.7 247.4h.9M419.8 250.9h.9M414.0 256.6h.9M403.9 253.1h.9M419.7 230.4h.9M415.8 239.4h.9M418.7 256.6h.9M420.9 249.1h.9M417.9 254.7h.9M419.1 246.1h.9M416.1 255.5h.9M412.9 257.0h.9M420.8 246.4h.9M415.8 252.2h.9M416.6 240.6h.9M419.2 252.6h.9M418.3 242.7h.9M417.2 241.6h.9M420.1 235.4h.9M413.9 256.4h.9M420.1 252.2h.9M420.0 240.5h.9M408.3 254.3h.9M416.9 248.9h.9M411.9 256.1h.9M413.4 256.4h.9M420.3 250.1h.9M418.4 247.2h.9M419.7 252.1h.9M418.1 253.6h.9M407.8 253.0h.9M419.8 253.9h.9M415.0 254.8h.9M416.2 249.4h.9M418.4 240.1h.9M414.2 254.3h.9M416.3 253.2h.9M399.9 255.4h.9M411.7 253.4h.9M420.1 248.1h.9M417.7 253.8h.9M410.9 254.9h.9M419.5 250.5h.9M408.3 242.6h.9M410.1 244.4h.9M415.4 255.8h.9M408.3 246.2h.9M418.0 256.2h.9M409.1 256.9h.9M412.7 249.6h.9M408.0 240.4h.9M420.6 250.4h.9M409.8 250.8h.9M408.2 245.5h.9M420.3 255.7h.9M409.6 248.1h.9M402.9 255.5h.9M420.4 252.5h.9M417.7 256.0h.9M410.0 251.5h.9M415.2 254.0h.9M420.7 250.0h.9M420.6 253.2h.9M414.6 252.6h.9M420.1 249.8h.9M417.5 255.5h.9M408.3 252.2h.9M416.4 252.6h.9M407.9 256.6h.9M419.0 249.9h.9M420.5 251.8h.9M408.4 252.3h.9M419.2 253.0h.9M420.4 256.2h.9M420.7 250.7h.9M418.4 251.5h.9M406.8 256.0h.9M419.5 240.2h.9M418.1 242.8h.9M420.6 255.0h.9M415.5 257.1h.9M414.6 255.7h.9M420.8 253.0h.9M413.5 248.8h.9M418.7 248.4h.9M416.2 252.2h.9M413.9 254.9h.9M413.2 254.6h.9M419.4 234.3h.9M415.2 248.9h.9M417.1 247.1h.9M419.8 251.2h.9M417.4 254.7h.9M408.5 251.1h.9M411.7 256.1h.9M410.1 247.1h.9M419.7 249.4h.9M420.4 246.2h.9M418.6 254.4h.9M418.1 249.3h.9M409.8 251.4h.9M413.0 253.1h.9M412.0 252.0h.9M420.9 255.1h.9M419.3 241.2h.9M406.6 254.7h.9M417.7 249.4h.9M420.2 251.9h.9M419.2 244.6h.9M408.4 254.2h.9M419.6 249.1h.9M416.8 255.3h.9M419.5 254.2h.9M415.1 254.2h.9M414.7 256.4h.9M405.6 255.9h.9M420.6 253.8h.9M416.6 244.3h.9M409.6 255.4h.9M420.1 251.1h.9M415.6 252.9h.9M411.8 235.6h.9M408.0 255.7h.9M415.8 256.3h.9M417.8 244.4h.9M416.6 249.6h.9M415.2 249.6h.9M416.2 250.3h.9M420.4 256.7h.9M417.6 252.6h.9M418.8 253.8h.9M417.8 251.7h.9M407.8 253.6h.9M418.1 257.1h.9M407.6 252.2h.9M416.4 257.2h.9M420.8 246.0h.9M418.2 242.9h.9M420.0 241.4h.9M417.1 249.5h.9M412.6 246.6h.9M403.6 252.7h.9M418.4 256.6h.9M409.0 255.2h.9M420.8 242.3h.9M414.7 245.4h.9M410.5 255.3h.9M410.6 250.0h.9M406.1 245.7h.9M416.8 248.5h.9M410.6 250.6h.9M401.1 254.7h.9M401.8 256.5h.9M416.0 251.9h.9M413.4 253.2h.9M419.9 253.8h.9M418.0 252.7h.9M417.6 255.8h.9M408.3 253.4h.9M413.8 250.7h.9M418.7 252.7h.9M404.4 254.4h.9M408.4 253.6h.9M417.9 253.0h.9M410.8 240.0h.9M410.6 252.1h.9M420.7 252.3h.9M413.1 253.5h.9M408.6 251.8h.9M419.3 254.8h.9M412.0 250.9h.9M410.0 253.7h.9M420.5 241.4h.9M420.5 245.1h.9M416.0 247.1h.9M408.2 247.8h.9M416.9 246.0h.9M412.1 253.5h.9M417.3 246.0h.9M415.0 245.9h.9M411.5 257.2h.9M407.8 255.3h.9M418.5 253.5h.9M419.5 249.0h.9M416.0 250.8h.9M415.4 247.6h.9M418.9 243.2h.9M409.2 251.8h.9M420.7 252.4h.9M416.2 251.1h.9M407.2 241.3h.9M411.7 256.4h.9M418.5 256.5h.9M418.9 252.0h.9M418.4 245.5h.9M415.5 252.8h.9M411.1 253.8h.9M420.8 250.5h.9M416.4 249.2h.9M411.4 256.4h.9M419.8 243.7h.9M414.4 249.1h.9M420.3 256.7h.9M417.6 256.8h.9M415.2 251.9h.9M408.2 255.3h.9M414.1 249.1h.9M420.4 246.6h.9M417.7 255.8h.9M405.1 254.6h.9M411.6 255.4h.9M415.2 255.8h.9M420.4 254.0h.9M419.2 245.5h.9M416.9 247.6h.9M415.3 252.2h.9M405.4 247.8h.9M416.6 244.8h.9M420.1 250.8h.9M420.2 253.0h.9M410.0 243.8h.9M414.1 251.9h.9M415.1 248.6h.9M414.5 249.8h.9M414.1 241.6h.9M419.1 235.0h.9M402.7 249.2h.9M416.3 249.4h.9M420.2 250.6h.9M415.9 255.4h.9M419.6 248.5h.9M408.7 255.5h.9M416.0 252.4h.9M414.0 256.1h.9M414.2 251.3h.9M420.7 245.1h.9M420.5 250.8h.9M415.8 254.8h.9M413.8 247.0h.9M412.7 240.5h.9M420.6 243.4h.9M408.3 254.2h.9M418.6 253.0h.9M410.6 244.8h.9M414.0 251.6h.9M408.7 246.6h.9M409.1 254.0h.9M418.9 247.8h.9M410.2 255.8h.9M414.0 253.2h.9M413.0 252.8h.9M417.5 240.5h.9M420.7 251.4h.9M419.9 245.6h.9M419.1 255.9h.9M417.7 254.9h.9M410.4 256.8h.9M408.4 253.2h.9M413.2 257.0h.9M410.0 251.6h.9M420.3 250.9h.9M420.7 250.0h.9M407.1 253.3h.9M420.1 236.9h.9M412.3 252.1h.9M410.1 249.1h.9M417.8 249.2h.9M417.3 253.5h.9M409.1 247.1h.9M405.4 255.3h.9M412.9 253.9h.9M417.1 250.0h.9M420.4 253.8h.9M415.8 253.2h.9M417.9 253.5h.9M402.9 254.8h.9M420.4 255.2h.9M400.6 253.3h.9M417.6 250.4h.9M418.4 255.8h.9M419.5 255.7h.9M415.5 256.3h.9M406.5 250.4h.9M419.4 250.2h.9M416.0 248.7h.9M407.9 251.9h.9M416.6 243.7h.9M418.8 251.7h.9M415.3 253.8h.9M411.5 252.3h.9M419.5 253.6h.9M417.6 245.9h.9M404.9 255.5h.9M415.1 252.5h.9M413.7 253.6h.9M418.6 250.9h.9M418.1 257.0h.9M410.1 251.8h.9M414.5 251.6h.9M409.4 254.3h.9M419.0 249.5h.9M411.5 245.1h.9M415.5 251.6h.9M414.7 243.2h.9M413.4 249.5h.9M409.0 249.8h.9M411.0 256.9h.9M405.6 253.1h.9M409.7 253.7h.9M418.7 247.7h.9M407.6 252.0h.9M409.2 253.9h.9M408.9 254.0h.9M399.3 253.3h.9M415.8 247.8h.9M417.7 247.6h.9M417.6 249.4h.9M413.1 237.6h.9M415.7 252.7h.9M415.8 254.9h.9M414.3 247.2h.9M411.0 250.4h.9M407.6 224.7h.9M409.9 226.8h.9M397.4 231.0h.9M399.0 224.0h.9M420.4 248.6h.9M413.7 239.9h.9M408.1 224.3h.9M406.6 251.1h.9M408.1 241.8h.9M403.8 238.3h.9M413.7 234.8h.9M409.7 234.5h.9M411.0 243.3h.9M413.5 251.0h.9M418.5 252.6h.9M415.6 241.3h.9M408.0 251.2h.9M405.1 236.5h.9M417.9 223.8h.9M415.1 229.1h.9M413.5 243.0h.9M418.4 252.8h.9M405.4 240.2h.9M420.0 246.2h.9M411.8 228.1h.9M404.9 241.3h.9M405.7 240.8h.9M416.5 247.5h.9M403.7 249.2h.9M404.9 251.8h.9M396.9 239.0h.9M417.9 246.9h.9M411.5 239.1h.9M411.5 229.3h.9M398.5 227.1h.9M397.6 248.8h.9M417.1 241.4h.9M405.7 222.2h.9M418.8 236.1h.9M419.3 223.5h.9M419.5 230.6h.9M413.4 251.1h.9M406.8 225.6h.9M400.7 236.2h.9M407.2 240.3h.9M418.9 252.7h.9M398.8 221.6h.9M401.9 246.4h.9M404.9 237.1h.9M397.2 226.3h.9M407.2 241.3h.9M417.3 223.4h.9M417.1 253.4h.9M404.9 239.4h.9M398.3 231.5h.9M404.8 227.8h.9M420.8 224.1h.9M414.4 233.7h.9M410.2 228.9h.9M420.6 230.1h.9M398.2 233.4h.9M404.8 222.9h.9M413.8 253.4h.9M419.1 237.7h.9M419.7 232.9h.9M412.7 250.6h.9M417.0 242.9h.9M407.4 247.2h.9M412.0 230.9h.9M402.1 236.5h.9M408.6 235.0h.9M407.1 228.8h.9M400.2 229.7h.9M418.3 242.7h.9M419.3 238.7h.9M402.6 237.2h.9M402.6 239.4h.9M415.1 231.8h.9M413.6 244.8h.9M410.0 241.7h.9M419.8 235.4h.9M401.2 243.9h.9M415.5 246.1h.9M415.3 246.6h.9M411.6 236.7h.9M402.5 250.7h.9M399.6 249.3h.9M404.8 226.3h.9M397.1 228.5h.9M403.3 234.9h.9M413.7 223.8h.9M405.8 237.0h.9M410.3 243.0h.9M417.3 242.6h.9M410.5 238.1h.9M411.3 233.7h.9M398.9 232.8h.9M414.0 242.1h.9M406.7 234.3h.9M419.4 221.7h.9M413.3 250.9h.9M411.9 223.1h.9M406.9 239.7h.9M420.2 244.7h.9M403.9 245.0h.9M407.2 232.2h.9M420.2 242.4h.9M416.1 245.5h.9M415.7 230.3h.9M401.2 232.7h.9M419.9 230.1h.9M408.7 248.7h.9M402.6 250.8h.9M402.4 246.9h.9M406.8 238.6h.9M412.8 238.8h.9M414.1 250.8h.9M420.8 249.4h.9M415.7 243.7h.9M409.2 229.5h.9M405.7 223.9h.9M407.2 248.5h.9M413.7 222.9h.9M409.0 233.7h.9M407.6 232.2h.9M410.0 250.6h.9M402.4 232.8h.9M408.4 240.5h.9M411.8 252.5h.9M401.7 243.9h.9M407.1 228.8h.9M404.4 229.4h.9M397.6 246.9h.9M419.8 225.6h.9M402.6 224.9h.9M420.6 233.7h.9M420.8 240.0h.9M418.8 242.5h.9M403.1 245.3h.9M419.3 237.9h.9M407.2 233.9h.9M405.8 226.9h.9M417.8 251.7h.9M404.9 249.3h.9M419.6 238.9h.9M402.8 245.1h.9M408.4 243.8h.9M401.2 233.8h.9M418.4 238.4h.9M406.8 222.4h.9M402.9 228.2h.9"/>
<path stroke="#3344e6" stroke-opacity="0.7" stroke-width="0.8" d="M419.6 220.6h.8M420.2 221.0h.8M414.2 220.8h.8M403.0 221.1h.8M416.7 220.7h.8M410.4 221.1h.8M421.2 220.3h.8M417.6 220.5h.8M415.5 219.5h.8M404.8 221.1h.8M406.7 221.1h.8M401.1 220.2h.8M418.0 220.4h.8M419.0 220.7h.8M412.7 220.3h.8M421.9 221.2h.8M416.0 221.3h.8M400.4 220.8h.8M419.7 220.8h.8M401.3 220.6h.8M409.3 220.2h.8M407.6 220.2h.8M408.6 220.4h.8M404.1 220.7h.8M408.5 221.1h.8M402.1 220.5h.8M408.2 220.9h.8M409.9 221.4h.8M415.3 221.4h.8M418.8 221.1h.8M404.8 221.0h.8M415.4 219.9h.8M419.3 220.5h.8M419.0 220.8h.8M403.2 220.7h.8M399.6 221.0h.8M404.6 221.1h.8M407.1 220.9h.8M399.6 220.3h.8M416.6 220.5h.8M406.9 220.4h.8M406.7 221.1h.8M421.2 220.8h.8M402.9 221.2h.8M402.4 220.8h.8"/>
<path stroke="#f55" stroke-opacity="0.5" stroke-width="0.8" d="M425.8 221.0h.8M446.5 221.8h.8M430.1 220.8h.8M427.0 220.9h.8M452.4 220.9h.8M436.8 221.5h.8M444.1 221.6h.8M450.6 220.8h.8M449.1 219.9h.8M450.4 220.7h.8M432.1 220.0h.8M443.1 220.1h.8M444.2 221.1h.8M425.3 220.6h.8M449.1 220.5h.8M441.4 220.9h.8M425.4 221.0h.8M441.6 220.4h.8M433.8 221.3h.8M448.8 220.3h.8M455.2 221.0h.8M443.8 220.6h.8M440.5 220.6h.8M455.7 220.6h.8M445.1 221.1h.8M435.2 221.0h.8M445.6 220.7h.8M450.3 221.2h.8M438.0 220.1h.8M454.5 220.9h.8"/>
<path stroke="#f22" stroke-opacity="0.75" stroke-width="0.9" d="M423.0 244.1h.9M423.7 251.1h.9M422.9 237.5h.9M424.1 244.2h.9M424.6 242.2h.9M425.8 249.2h.9M428.2 255.5h.9M424.6 248.0h.9M427.6 248.0h.9M430.8 254.5h.9M426.6 251.5h.9M425.8 242.7h.9M432.3 252.2h.9M424.0 251.2h.9M425.3 235.8h.9M423.6 243.2h.9M427.3 250.7h.9M425.9 235.0h.9M427.3 246.0h.9M431.5 251.3h.9M426.4 236.5h.9M427.3 237.6h.9M431.6 249.3h.9M428.7 248.7h.9M427.0 243.0h.9M424.5 250.9h.9M428.4 247.7h.9M427.2 250.6h.9M428.0 242.0h.9M423.6 242.0h.9M430.1 245.4h.9M422.9 238.3h.9M423.6 244.1h.9M422.7 236.8h.9M423.1 238.8h.9M429.0 253.8h.9M428.0 236.5h.9M426.5 247.8h.9M423.4 245.9h.9M423.9 238.7h.9M428.8 241.4h.9M428.9 240.7h.9M425.4 241.5h.9M423.1 237.9h.9M428.8 248.5h.9M425.0 235.2h.9M429.8 245.5h.9M422.8 242.9h.9M425.7 245.3h.9M428.0 246.7h.9M423.2 244.0h.9M427.7 243.5h.9M423.8 247.4h.9M426.4 246.3h.9M423.1 241.4h.9M427.5 252.7h.9M429.2 244.9h.9M426.2 245.7h.9M427.2 250.7h.9M423.3 250.0h.9M425.7 241.8h.9M424.7 242.5h.9M423.9 239.1h.9M428.5 254.4h.9M423.6 237.9h.9M429.8 245.8h.9M429.5 245.2h.9M425.8 231.4h.9M424.4 236.2h.9M423.6 241.0h.9M425.3 238.0h.9M423.7 245.0h.9M426.8 248.9h.9M423.3 241.7h.9M424.8 248.1h.9M424.7 237.0h.9M428.1 245.9h.9M423.5 240.8h.9M424.9 238.5h.9M423.1 245.2h.9M426.5 236.2h.9M425.3 252.9h.9M428.1 242.0h.9M424.0 244.3h.9M425.5 238.7h.9M424.3 240.6h.9M427.0 245.1h.9M423.6 243.5h.9M428.2 251.3h.9M423.8 238.7h.9M429.5 256.3h.9M431.1 251.5h.9M426.1 257.0h.9M427.3 245.4h.9M426.7 247.1h.9M422.9 251.5h.9M425.6 255.4h.9M425.0 239.5h.9M422.7 243.0h.9M429.0 242.7h.9M424.2 238.7h.9M428.5 241.0h.9M424.6 246.5h.9M423.6 242.8h.9M425.1 238.3h.9M427.5 246.1h.9M428.3 247.4h.9M427.7 242.1h.9M426.7 250.6h.9M430.9 251.3h.9M424.1 245.5h.9M428.6 241.3h.9M429.2 248.1h.9M424.4 252.0h.9M429.6 246.5h.9M427.7 251.5h.9M427.2 244.6h.9M429.4 252.7h.9M423.0 243.3h.9M425.0 245.9h.9M425.2 241.5h.9M425.9 243.0h.9M430.6 249.9h.9M425.7 244.6h.9M423.2 238.9h.9M428.5 249.7h.9M430.8 251.8h.9M424.3 251.4h.9M425.7 243.0h.9M425.0 249.0h.9M427.1 252.7h.9M426.6 249.2h.9M427.0 244.3h.9M428.1 254.8h.9M426.6 236.9h.9M426.9 234.7h.9M428.2 247.8h.9M423.7 237.7h.9M425.2 250.1h.9M423.8 244.5h.9M424.8 239.7h.9M426.6 250.6h.9M424.8 242.3h.9M445.2 250.6h.9M438.5 257.0h.9M425.0 232.7h.9M447.6 242.6h.9"/>
<path stroke="#f66" stroke-opacity="0.5" stroke-width="0.8" d="M428.9 268.9h.8M429.8 267.2h.8M432.6 268.0h.8M428.5 266.3h.8M430.4 269.9h.8M447.9 272.2h.8"/>
<rect x="35.6" y="197.1" width="85.9" height="76.29999999999998" fill="none" stroke="#777" stroke-width="0.9"/>
<line x1="62.2" y1="197.1" x2="62.2" y2="273.4" stroke="#555" stroke-width="0.9" />
<line x1="35.6" y1="256.1" x2="121.5" y2="256.1" stroke="#555" stroke-width="0.9" />
<text x="36.0" y="204.6" font-size="8.4" text-anchor="start" font-weight="bold" fill="#000" font-family='"Liberation Sans", sans-serif' textLength="8.93" lengthAdjust="spacingAndGlyphs" >E1</text>
<text x="62.6" y="204.6" font-size="8.4" text-anchor="start" font-weight="bold" fill="#000" font-family='"Liberation Sans", sans-serif' textLength="8.93" lengthAdjust="spacingAndGlyphs" >E2</text>
<text x="36.0" y="263.5" font-size="8.4" text-anchor="start" font-weight="bold" fill="#000" font-family='"Liberation Sans", sans-serif' textLength="8.93" lengthAdjust="spacingAndGlyphs" >E3</text>
<text x="62.6" y="263.5" font-size="8.4" text-anchor="start" font-weight="bold" fill="#000" font-family='"Liberation Sans", sans-serif' textLength="8.93" lengthAdjust="spacingAndGlyphs" >E4</text>
<rect x="63.2" y="229.5" width="15.399999999999991" height="26.600000000000023" fill="none" stroke="#6a6a6a" stroke-width="0.8"/>
<text x="63.5" y="227.2" font-size="7.4" text-anchor="start" font-weight="normal" fill="#444" font-family='"Liberation Sans", sans-serif' >0.51%</text>
<rect x="155.6" y="197.1" width="85.9" height="76.29999999999998" fill="none" stroke="#777" stroke-width="0.9"/>
<line x1="182.2" y1="197.1" x2="182.2" y2="273.4" stroke="#555" stroke-width="0.9" />
<line x1="155.6" y1="256.1" x2="241.5" y2="256.1" stroke="#555" stroke-width="0.9" />
<text x="156.0" y="204.6" font-size="8.4" text-anchor="start" font-weight="bold" fill="#000" font-family='"Liberation Sans", sans-serif' textLength="9.74" lengthAdjust="spacingAndGlyphs" >G1</text>
<text x="182.6" y="204.6" font-size="8.4" text-anchor="start" font-weight="bold" fill="#000" font-family='"Liberation Sans", sans-serif' textLength="9.74" lengthAdjust="spacingAndGlyphs" >G2</text>
<text x="156.0" y="263.5" font-size="8.4" text-anchor="start" font-weight="bold" fill="#000" font-family='"Liberation Sans", sans-serif' textLength="9.74" lengthAdjust="spacingAndGlyphs" >G3</text>
<text x="182.6" y="263.5" font-size="8.4" text-anchor="start" font-weight="bold" fill="#000" font-family='"Liberation Sans", sans-serif' textLength="9.74" lengthAdjust="spacingAndGlyphs" >G4</text>
<text x="182.79999999999998" y="227.0" font-size="7.4" text-anchor="start" font-weight="normal" fill="#444" font-family='"Liberation Sans", sans-serif' >5.38%</text>
<rect x="279.8" y="198.1" width="85.59999999999997" height="76.70000000000002" fill="none" stroke="#777" stroke-width="0.9"/>
<line x1="306.2" y1="198.1" x2="306.2" y2="274.8" stroke="#555" stroke-width="0.9" />
<line x1="279.8" y1="257.5" x2="365.4" y2="257.5" stroke="#555" stroke-width="0.9" />
<text x="280.2" y="205.6" font-size="8.4" text-anchor="start" font-weight="bold" fill="#000" font-family='"Liberation Sans", sans-serif' textLength="8.52" lengthAdjust="spacingAndGlyphs" >F1</text>
<text x="306.59999999999997" y="205.6" font-size="8.4" text-anchor="start" font-weight="bold" fill="#000" font-family='"Liberation Sans", sans-serif' textLength="8.52" lengthAdjust="spacingAndGlyphs" >F2</text>
<text x="280.2" y="264.9" font-size="8.4" text-anchor="start" font-weight="bold" fill="#000" font-family='"Liberation Sans", sans-serif' textLength="8.52" lengthAdjust="spacingAndGlyphs" >F3</text>
<text x="306.59999999999997" y="264.9" font-size="8.4" text-anchor="start" font-weight="bold" fill="#000" font-family='"Liberation Sans", sans-serif' textLength="8.52" lengthAdjust="spacingAndGlyphs" >F4</text>
<rect x="307.2" y="229.5" width="15.100000000000023" height="27.0" fill="none" stroke="#6a6a6a" stroke-width="0.8"/>
<text x="307.5" y="227.2" font-size="7.4" text-anchor="start" font-weight="normal" fill="#444" font-family='"Liberation Sans", sans-serif' >1.49%</text>
<rect x="396.2" y="199.0" width="85.19999999999999" height="76.30000000000001" fill="none" stroke="#777" stroke-width="0.9"/>
<line x1="422.2" y1="199" x2="422.2" y2="275.3" stroke="#555" stroke-width="0.9" />
<line x1="396.2" y1="258" x2="481.4" y2="258" stroke="#555" stroke-width="0.9" />
<text x="396.59999999999997" y="206.5" font-size="8.4" text-anchor="start" font-weight="bold" fill="#000" font-family='"Liberation Sans", sans-serif' textLength="6.09" lengthAdjust="spacingAndGlyphs" >I1</text>
<text x="422.59999999999997" y="206.5" font-size="8.4" text-anchor="start" font-weight="bold" fill="#000" font-family='"Liberation Sans", sans-serif' textLength="6.09" lengthAdjust="spacingAndGlyphs" >I2</text>
<text x="396.59999999999997" y="265.4" font-size="8.4" text-anchor="start" font-weight="bold" fill="#000" font-family='"Liberation Sans", sans-serif' textLength="6.09" lengthAdjust="spacingAndGlyphs" >I3</text>
<text x="422.59999999999997" y="265.4" font-size="8.4" text-anchor="start" font-weight="bold" fill="#000" font-family='"Liberation Sans", sans-serif' textLength="6.09" lengthAdjust="spacingAndGlyphs" >I4</text>
<rect x="423.2" y="229.5" width="15.0" height="27.0" fill="none" stroke="#6a6a6a" stroke-width="0.8"/>
<text x="423.5" y="227.2" font-size="7.4" text-anchor="start" font-weight="normal" fill="#444" font-family='"Liberation Sans", sans-serif' >3.27%</text>
<line x1="19.7" y1="229.5" x2="19.7" y2="283.8" stroke="#999" stroke-width="1" />
<line x1="19.2" y1="283.7" x2="97" y2="283.7" stroke="#999" stroke-width="1" />
<text x="0" y="0" font-size="9.4" text-anchor="start" font-weight="normal" fill="#000" font-family='"Liberation Sans", sans-serif' textLength="23" lengthAdjust="spacingAndGlyphs" transform="translate(15.4,272.4) rotate(-90)">CD56</text>
<text x="24" y="292.2" font-size="9.8" text-anchor="start" font-weight="normal" fill="#000" font-family='"Liberation Sans", sans-serif' textLength="36" lengthAdjust="spacingAndGlyphs" >CD107a</text>
<text x="67.5" y="302.3" font-size="9.2" text-anchor="start" font-weight="normal" fill="#000" font-family='"Liberation Sans", sans-serif' textLength="23" lengthAdjust="spacingAndGlyphs" >Blank</text>
<text x="182.5" y="302.3" font-size="9.3" text-anchor="start" font-weight="normal" fill="#000" font-family='"Liberation Sans", sans-serif' textLength="30" lengthAdjust="spacingAndGlyphs" >Control</text>
<text x="302.2" y="302.1" font-size="9.3" text-anchor="start" font-weight="normal" fill="#000" font-family='"Liberation Sans", sans-serif' textLength="39.8" lengthAdjust="spacingAndGlyphs" >Sorafenib</text>
<text x="399.7" y="301.6" font-size="9.2" text-anchor="start" font-weight="normal" fill="#000" font-family='"Liberation Sans", sans-serif' >Sorafenib+Poly(I:C<tspan dx="2.4" dy="-0.9" font-size="8.4" fill="#222">)</tspan></text>
<text x="52.4" y="372.0" font-size="9.4" text-anchor="start" font-weight="normal" fill="#000" font-family='"Liberation Sans", sans-serif' textLength="57" lengthAdjust="spacingAndGlyphs" >Before MACS</text>
<text x="185.4" y="371.8" font-size="9.4" text-anchor="start" font-weight="normal" fill="#000" font-family='"Liberation Sans", sans-serif' textLength="49" lengthAdjust="spacingAndGlyphs" >After MACS</text>
<rect x="33.2" y="378.3" width="94.0" height="78.19999999999999" fill="none" stroke="#d4d4d4" stroke-width="0.9"/>
<line x1="65.1" y1="378.3" x2="65.1" y2="456.5" stroke="#ddd" stroke-width="0.9" />
<line x1="33.2" y1="423.4" x2="127.2" y2="423.4" stroke="#ddd" stroke-width="0.9" />
<line x1="33.2" y1="456.5" x2="33.2" y2="458" stroke="#bbb" stroke-width="0.6" />
<line x1="31.7" y1="378.3" x2="33.2" y2="378.3" stroke="#bbb" stroke-width="0.6" />
<line x1="56.7" y1="456.5" x2="56.7" y2="458" stroke="#bbb" stroke-width="0.6" />
<line x1="31.7" y1="397.85" x2="33.2" y2="397.85" stroke="#bbb" stroke-width="0.6" />
<line x1="80.2" y1="456.5" x2="80.2" y2="458" stroke="#bbb" stroke-width="0.6" />
<line x1="31.7" y1="417.4" x2="33.2" y2="417.4" stroke="#bbb" stroke-width="0.6" />
<line x1="103.7" y1="456.5" x2="103.7" y2="458" stroke="#bbb" stroke-width="0.6" />
<line x1="31.7" y1="436.95" x2="33.2" y2="436.95" stroke="#bbb" stroke-width="0.6" />
<line x1="127.2" y1="456.5" x2="127.2" y2="458" stroke="#bbb" stroke-width="0.6" />
<line x1="31.7" y1="456.5" x2="33.2" y2="456.5" stroke="#bbb" stroke-width="0.6" />
<rect x="165" y="377.7" width="94.39999999999998" height="80.60000000000002" fill="none" stroke="#d4d4d4" stroke-width="0.9"/>
<line x1="197.6" y1="377.7" x2="197.6" y2="458.3" stroke="#ddd" stroke-width="0.9" />
<line x1="165" y1="424.3" x2="259.4" y2="424.3" stroke="#ddd" stroke-width="0.9" />
<line x1="165" y1="458.3" x2="165" y2="459.8" stroke="#bbb" stroke-width="0.6" />
<line x1="163.5" y1="377.7" x2="165" y2="377.7" stroke="#bbb" stroke-width="0.6" />
<line x1="188.6" y1="458.3" x2="188.6" y2="459.8" stroke="#bbb" stroke-width="0.6" />
<line x1="163.5" y1="397.85" x2="165" y2="397.85" stroke="#bbb" stroke-width="0.6" />
<line x1="212.2" y1="458.3" x2="212.2" y2="459.8" stroke="#bbb" stroke-width="0.6" />
<line x1="163.5" y1="418" x2="165" y2="418" stroke="#bbb" stroke-width="0.6" />
<line x1="235.8" y1="458.3" x2="235.8" y2="459.8" stroke="#bbb" stroke-width="0.6" />
<line x1="163.5" y1="438.15" x2="165" y2="438.15" stroke="#bbb" stroke-width="0.6" />
<line x1="259.4" y1="458.3" x2="259.4" y2="459.8" stroke="#bbb" stroke-width="0.6" />
<line x1="163.5" y1="458.3" x2="165" y2="458.3" stroke="#bbb" stroke-width="0.6" />
<path stroke="#ff1a0a" stroke-opacity="0.7" stroke-width="0.9" d="M47.2 400.2h.9M46.1 399.7h.9M46.8 401.8h.9M42.8 401.4h.9M51.2 396.9h.9M43.1 399.3h.9M41.9 399.0h.9M43.8 404.1h.9M47.7 403.9h.9M45.7 400.2h.9M45.8 399.7h.9M58.0 403.2h.9M47.2 395.2h.9M44.5 402.5h.9M47.9 399.5h.9M50.0 400.9h.9M43.2 400.7h.9M49.7 402.1h.9M45.8 398.9h.9M46.2 401.7h.9M47.8 403.0h.9M45.0 400.1h.9M45.7 401.2h.9M41.8 403.4h.9M45.3 403.7h.9M52.8 397.0h.9M47.6 401.6h.9M46.4 401.7h.9M42.8 402.6h.9M47.7 399.7h.9M35.7 402.2h.9M40.3 403.7h.9M51.1 397.1h.9M40.1 401.3h.9M52.1 400.8h.9M47.8 400.7h.9M53.8 401.6h.9M41.2 403.6h.9M51.0 400.2h.9M45.8 403.8h.9M49.2 399.8h.9M51.9 399.5h.9M45.7 396.1h.9M45.0 406.8h.9M39.6 397.1h.9M50.8 398.4h.9M50.6 404.4h.9M45.1 398.9h.9M51.3 401.7h.9M53.2 399.8h.9M48.6 398.8h.9M41.7 397.8h.9M42.3 404.2h.9M50.5 400.6h.9M46.1 399.9h.9M52.0 400.2h.9M39.2 399.9h.9M38.5 399.1h.9M42.9 395.9h.9M39.0 400.2h.9M48.7 401.4h.9M42.6 398.0h.9M47.0 402.5h.9M50.6 400.4h.9M42.3 401.8h.9M47.8 398.9h.9M41.8 398.9h.9M51.5 403.4h.9M45.0 400.7h.9M53.3 396.9h.9M44.3 399.7h.9M48.0 396.2h.9M48.3 396.6h.9M50.3 400.0h.9M44.3 402.3h.9M46.5 397.9h.9M50.3 399.5h.9M47.7 403.4h.9M40.2 401.9h.9M50.2 405.5h.9M38.4 402.1h.9M56.0 401.1h.9M46.6 399.4h.9M39.0 403.4h.9M40.9 395.7h.9M49.8 402.7h.9M50.1 402.2h.9M42.2 400.0h.9M44.8 398.1h.9M48.0 397.6h.9M45.6 403.7h.9M45.9 399.8h.9M49.8 397.2h.9M47.8 403.0h.9M48.9 398.3h.9M50.1 399.1h.9M49.8 397.8h.9M41.5 403.9h.9M45.5 399.7h.9M40.7 398.9h.9M52.7 401.4h.9M46.2 395.6h.9M49.9 401.2h.9M51.3 399.1h.9M48.6 398.7h.9M39.9 395.5h.9M49.4 399.2h.9M45.8 396.2h.9M53.5 398.7h.9M38.4 396.8h.9M43.5 402.4h.9M48.1 401.3h.9M43.2 402.1h.9M46.0 402.6h.9M42.7 398.5h.9M42.4 398.5h.9M42.5 401.3h.9M44.2 396.3h.9M44.1 398.4h.9M38.7 400.4h.9M46.7 400.0h.9M52.5 396.3h.9M48.9 400.7h.9M41.8 403.2h.9M41.0 400.5h.9M48.7 399.2h.9M43.2 402.2h.9M51.2 398.8h.9M51.8 400.9h.9M41.1 402.0h.9M45.7 399.0h.9M47.9 401.0h.9M42.9 398.8h.9M49.0 401.9h.9M53.9 400.0h.9M47.0 398.2h.9M54.9 400.8h.9M48.4 403.3h.9M49.5 398.3h.9M45.0 403.0h.9M47.8 399.0h.9M45.4 402.8h.9M41.2 399.8h.9M51.3 402.7h.9M41.9 399.9h.9M48.0 400.8h.9M45.4 398.8h.9M45.2 400.5h.9M46.5 404.2h.9M48.0 402.0h.9M49.1 399.5h.9M50.1 398.8h.9M51.0 401.8h.9M44.2 402.2h.9M44.6 402.2h.9M42.0 400.7h.9M52.2 398.9h.9M38.0 398.3h.9M48.6 400.0h.9M39.5 398.9h.9M44.3 395.3h.9M44.4 399.8h.9M44.3 399.0h.9M51.9 396.7h.9M43.9 402.9h.9M46.9 396.8h.9M48.1 394.2h.9M44.1 401.5h.9M40.5 401.8h.9M46.6 400.1h.9M57.5 402.0h.9M46.9 396.1h.9M39.6 399.1h.9M46.5 401.6h.9M42.1 399.0h.9M48.4 396.5h.9M45.9 402.4h.9M44.7 400.6h.9M46.8 401.2h.9M48.2 399.8h.9M44.6 399.4h.9M48.8 398.0h.9M52.1 394.0h.9M48.7 404.2h.9M46.9 401.7h.9M48.0 406.9h.9M50.5 403.8h.9M44.1 400.4h.9M44.5 399.4h.9M43.6 400.5h.9M42.6 402.2h.9M47.0 401.8h.9M43.5 401.3h.9M57.2 402.5h.9M49.2 402.4h.9M52.1 403.6h.9M44.4 399.4h.9M47.9 404.0h.9M50.6 399.3h.9M49.2 401.7h.9M45.0 398.9h.9M38.8 396.8h.9M42.4 404.4h.9M47.4 402.8h.9M47.7 399.9h.9M53.4 400.0h.9M50.1 401.0h.9M43.8 399.1h.9M49.2 399.4h.9M52.0 399.5h.9M49.4 400.4h.9M46.2 401.4h.9M45.3 398.7h.9M43.9 400.8h.9M47.4 403.1h.9M48.0 402.3h.9M50.5 399.9h.9M51.2 399.0h.9M38.7 393.1h.9M45.7 402.9h.9M44.7 389.4h.9M52.5 403.5h.9M43.0 401.2h.9M52.4 398.6h.9M43.5 401.0h.9M50.1 400.1h.9M48.3 401.1h.9M48.4 401.3h.9M42.6 395.7h.9M44.4 398.3h.9M37.6 403.5h.9M43.4 402.4h.9M43.1 400.9h.9M47.8 401.0h.9M45.7 399.6h.9M46.2 406.9h.9M52.3 398.4h.9M45.7 397.4h.9M53.7 402.2h.9M45.6 397.5h.9M42.2 399.2h.9M44.5 399.4h.9M45.5 397.3h.9M47.3 400.1h.9M49.2 397.0h.9M49.6 402.7h.9M47.9 398.2h.9M42.8 400.0h.9M47.8 401.4h.9M46.7 396.2h.9M45.1 400.1h.9M44.1 401.1h.9M51.1 397.4h.9M48.5 398.2h.9M42.4 399.5h.9M54.4 401.6h.9M45.4 403.0h.9M46.8 401.3h.9M41.9 397.7h.9M40.0 402.4h.9M40.3 403.5h.9M40.4 400.1h.9M47.2 397.3h.9M37.6 398.8h.9M53.2 403.5h.9M40.6 400.2h.9M45.3 402.9h.9M47.9 398.0h.9M56.1 402.1h.9M42.9 403.1h.9M50.0 403.2h.9M41.4 400.6h.9M43.5 399.8h.9M45.5 401.2h.9M42.1 402.7h.9M44.5 401.2h.9M46.0 400.9h.9M49.7 399.3h.9M50.2 399.2h.9M48.1 399.9h.9M43.4 394.8h.9M42.8 398.6h.9M44.3 403.3h.9M42.1 401.6h.9M57.8 398.0h.9M48.3 402.0h.9M46.6 400.6h.9M49.4 406.1h.9M43.4 401.5h.9M47.3 405.3h.9M53.1 405.0h.9M49.0 401.2h.9M46.7 399.4h.9M43.2 401.1h.9M49.9 401.0h.9M39.8 401.5h.9M58.4 400.1h.9M42.0 403.4h.9M42.2 400.6h.9M47.8 399.0h.9M42.5 401.0h.9M41.6 401.2h.9M48.6 397.6h.9M49.6 397.2h.9M47.5 398.5h.9M41.3 399.0h.9M47.2 402.0h.9M49.1 398.2h.9M46.0 393.9h.9M50.0 400.2h.9M45.8 399.6h.9M38.3 401.0h.9M47.1 400.0h.9M50.9 399.9h.9M44.2 403.0h.9M45.5 398.2h.9M37.0 399.1h.9M44.7 397.6h.9M48.4 396.3h.9M46.0 400.3h.9M50.7 400.2h.9M45.2 402.7h.9M52.4 400.8h.9M42.8 401.4h.9M41.5 403.3h.9M47.6 398.0h.9M54.4 396.8h.9M50.9 399.4h.9M44.3 396.6h.9M38.2 400.8h.9M42.2 402.7h.9M46.3 401.0h.9M54.7 396.2h.9M47.0 399.2h.9M49.4 399.8h.9M44.2 398.3h.9M45.5 396.8h.9M49.2 393.5h.9M48.6 401.4h.9M46.7 399.4h.9M50.4 402.0h.9M49.9 399.2h.9M48.3 400.0h.9M44.3 402.8h.9M40.6 399.6h.9M40.9 395.8h.9M51.7 401.8h.9M47.7 397.4h.9M46.3 401.9h.9M38.0 401.8h.9M48.1 404.5h.9M42.4 404.6h.9M46.8 401.1h.9M50.1 405.7h.9M50.8 404.7h.9M46.8 401.9h.9M50.3 397.1h.9M47.5 400.8h.9M49.0 404.1h.9M49.4 401.0h.9M47.0 400.4h.9M40.6 399.7h.9M42.7 397.0h.9M50.8 398.0h.9M42.1 396.3h.9M51.4 403.6h.9M48.2 399.5h.9M48.7 401.5h.9M46.9 400.9h.9M39.3 400.6h.9M44.6 399.7h.9M46.0 396.9h.9M47.6 401.7h.9M37.2 396.6h.9M52.6 396.6h.9M49.5 402.3h.9M54.4 399.5h.9M43.2 398.5h.9M43.2 396.2h.9M41.6 398.9h.9M44.4 402.0h.9M49.5 400.3h.9M38.6 401.5h.9M45.1 395.7h.9M44.0 398.3h.9M46.3 401.0h.9M53.3 398.5h.9M47.0 397.6h.9M43.9 397.0h.9M46.0 401.4h.9M44.9 403.5h.9M46.0 402.2h.9M45.1 400.1h.9M53.7 397.9h.9M49.2 396.2h.9M45.3 402.3h.9M55.7 402.2h.9M47.3 399.5h.9M44.9 400.4h.9M46.8 403.2h.9M42.8 398.1h.9M51.0 401.8h.9M44.6 399.7h.9M48.7 399.6h.9M43.4 400.5h.9M49.5 398.0h.9M44.5 401.6h.9M38.8 399.5h.9M50.2 398.1h.9M49.1 405.9h.9M49.3 397.9h.9M56.2 402.1h.9M50.9 401.1h.9M43.2 399.9h.9M45.5 404.5h.9M51.8 399.5h.9M47.6 401.6h.9M52.0 402.4h.9M41.6 403.1h.9M41.4 399.1h.9M40.0 399.3h.9M49.6 400.3h.9M51.0 402.6h.9M45.6 398.9h.9M52.1 401.9h.9M50.9 403.2h.9M45.2 398.6h.9M47.3 399.0h.9M43.6 398.1h.9M45.9 399.5h.9M48.3 401.6h.9M51.8 401.0h.9M47.4 401.4h.9M47.2 401.1h.9M44.1 400.6h.9M40.9 402.8h.9M47.3 401.4h.9M40.6 397.9h.9M43.8 395.4h.9M50.8 401.7h.9M46.5 402.8h.9M38.7 397.7h.9M51.0 402.0h.9M45.9 401.2h.9M46.9 399.1h.9M44.2 397.9h.9M46.2 399.7h.9M50.1 396.3h.9M46.2 399.1h.9M43.3 399.4h.9M52.8 404.4h.9M37.2 402.5h.9M39.4 397.5h.9M42.3 397.0h.9M51.1 404.0h.9M38.7 401.6h.9M48.0 399.0h.9M44.6 399.6h.9M44.8 397.8h.9M45.5 400.4h.9M46.8 397.4h.9M49.2 396.9h.9M43.3 397.2h.9M38.1 400.4h.9M42.7 403.1h.9M45.0 402.1h.9M42.4 398.6h.9M48.3 398.9h.9M42.2 400.2h.9M51.1 401.1h.9M48.4 405.8h.9M49.5 398.9h.9M47.0 397.3h.9M44.9 403.6h.9M48.4 397.4h.9M43.2 396.6h.9M56.0 399.0h.9M41.1 403.8h.9M46.7 397.7h.9M42.4 397.4h.9M45.4 399.7h.9M48.0 398.0h.9M43.8 401.1h.9M51.6 404.9h.9M51.3 397.2h.9M44.8 401.7h.9M42.4 397.0h.9M39.3 400.0h.9M43.2 399.1h.9M40.9 401.0h.9M42.8 397.1h.9M41.4 397.0h.9M48.4 401.8h.9M43.1 398.2h.9M55.0 402.0h.9M52.4 401.4h.9M46.8 400.7h.9M53.0 405.4h.9M48.0 400.5h.9M50.6 402.0h.9M45.9 398.7h.9M43.5 404.0h.9M44.8 399.5h.9M45.0 397.3h.9M48.7 400.1h.9M48.4 403.6h.9M45.7 400.5h.9M43.5 402.4h.9M48.4 402.8h.9M53.4 397.1h.9M53.3 397.3h.9M42.0 395.5h.9M53.1 399.0h.9M49.0 398.7h.9M53.7 397.2h.9M46.3 397.5h.9M45.3 403.6h.9M47.7 401.0h.9M49.8 399.0h.9M41.1 397.5h.9M44.3 403.1h.9M46.5 399.1h.9M46.8 398.5h.9M50.1 402.1h.9M43.1 404.3h.9M41.2 401.3h.9M45.1 402.2h.9M50.2 400.4h.9M47.7 396.9h.9M40.0 400.2h.9M47.7 398.9h.9M49.1 402.8h.9M39.0 401.1h.9M54.7 400.0h.9M46.3 400.3h.9M48.6 394.3h.9M48.4 399.3h.9M49.2 398.8h.9M46.1 401.0h.9M50.7 399.9h.9M48.1 397.8h.9M46.2 401.1h.9M54.7 398.2h.9M47.1 399.0h.9M49.0 398.3h.9M50.1 397.7h.9M53.7 400.4h.9M45.5 400.5h.9M47.6 401.1h.9M51.0 400.4h.9M43.8 396.9h.9M44.3 397.9h.9M50.5 397.6h.9M44.4 400.9h.9M52.8 396.5h.9M46.0 402.5h.9M39.6 402.0h.9M37.2 400.0h.9M42.4 399.2h.9M48.0 403.9h.9M43.0 404.1h.9M53.7 396.8h.9M46.8 401.7h.9M53.0 402.0h.9M44.8 399.1h.9M49.7 398.4h.9M47.7 400.4h.9M43.0 405.8h.9M47.2 405.4h.9M51.2 402.8h.9M43.9 399.0h.9M46.9 400.0h.9M41.4 405.6h.9M56.7 401.7h.9M47.3 399.6h.9M42.1 401.3h.9M46.4 401.7h.9M50.7 405.4h.9M46.4 400.8h.9M45.4 401.1h.9M42.2 404.1h.9M48.8 397.2h.9M46.6 403.1h.9M49.4 398.8h.9M49.3 401.1h.9M43.9 401.1h.9M41.6 399.3h.9M41.1 402.5h.9M50.9 399.2h.9M47.3 403.8h.9M39.8 400.1h.9M48.9 401.6h.9M44.5 395.5h.9M43.5 402.7h.9M43.9 400.7h.9M45.7 402.4h.9M43.6 401.0h.9M47.5 397.7h.9M47.8 402.6h.9M48.1 398.6h.9M43.8 397.0h.9M41.6 395.2h.9M47.9 400.2h.9M46.3 406.2h.9M46.6 402.0h.9M40.8 399.3h.9M43.7 400.6h.9M41.7 398.5h.9M43.4 400.8h.9M40.9 400.6h.9M48.5 400.4h.9M51.4 400.4h.9M47.2 400.7h.9M50.3 401.3h.9M46.6 401.9h.9M43.1 402.2h.9M41.3 403.4h.9M43.8 399.7h.9M45.4 401.4h.9M38.3 399.1h.9M49.2 401.1h.9M41.4 403.2h.9M54.5 398.1h.9M44.6 397.3h.9M43.7 399.7h.9M55.4 397.0h.9M54.4 400.1h.9M44.8 399.0h.9M49.0 399.3h.9M45.5 399.8h.9M46.6 400.8h.9M45.2 398.3h.9M49.1 400.5h.9M46.5 395.5h.9M46.1 398.3h.9M41.9 399.0h.9M42.4 395.5h.9M41.1 402.3h.9M45.4 398.1h.9M46.1 395.4h.9M52.5 402.7h.9M45.7 401.0h.9M43.5 399.0h.9M45.1 398.9h.9M48.5 397.4h.9M48.6 397.8h.9M46.9 403.1h.9M53.8 396.7h.9M49.0 403.6h.9M46.4 403.4h.9M42.5 446.3h.9M62.4 450.4h.9M53.9 445.4h.9M46.5 451.3h.9M48.4 455.4h.9M42.9 441.5h.9M50.7 438.3h.9M51.8 454.1h.9M59.6 439.7h.9M45.4 450.9h.9M45.1 448.8h.9M37.3 445.8h.9M51.8 442.8h.9M50.9 446.9h.9M45.9 441.1h.9M46.6 448.2h.9M46.4 450.0h.9M51.0 440.1h.9M48.2 452.1h.9M51.8 444.8h.9M39.3 447.1h.9M49.3 452.6h.9M47.4 446.5h.9M50.2 453.8h.9M44.8 452.1h.9M49.5 454.7h.9M45.0 450.5h.9M52.4 441.7h.9M48.1 445.3h.9M45.0 442.7h.9M39.0 448.6h.9M48.5 447.2h.9M47.2 448.2h.9M43.8 441.4h.9M50.5 448.3h.9M51.3 448.6h.9M40.2 440.2h.9M51.8 440.4h.9M54.3 450.5h.9M45.0 450.1h.9M49.1 446.5h.9M49.8 452.8h.9M52.3 437.1h.9M44.1 453.9h.9M62.1 440.6h.9M55.4 438.5h.9M56.0 445.2h.9M55.4 449.8h.9M43.0 441.2h.9M40.1 436.7h.9M48.6 444.5h.9M51.3 444.0h.9M52.1 448.8h.9M45.3 439.9h.9M35.7 450.1h.9M47.8 436.4h.9M42.9 444.4h.9M58.1 452.1h.9M46.7 450.2h.9M38.3 443.9h.9M45.4 439.1h.9M55.9 444.4h.9M56.3 437.7h.9M54.0 450.8h.9M41.2 448.1h.9M49.7 450.1h.9M45.3 441.5h.9M41.4 447.4h.9M44.1 446.4h.9M36.6 447.3h.9M56.6 448.2h.9M46.1 451.4h.9M34.8 443.6h.9M54.8 443.7h.9M35.9 440.9h.9M51.2 449.4h.9M49.1 451.6h.9M48.8 447.8h.9M54.6 436.6h.9M65.9 448.7h.9M62.7 447.6h.9M56.6 449.6h.9M51.1 447.3h.9M47.1 454.8h.9M38.9 436.5h.9M40.9 440.9h.9M42.4 445.9h.9M55.1 446.1h.9M50.1 437.8h.9M35.9 448.2h.9M50.3 442.8h.9M49.7 447.4h.9M52.3 443.4h.9M42.8 444.4h.9M44.6 450.8h.9M42.3 439.2h.9M43.2 438.6h.9M52.4 449.6h.9M51.1 444.7h.9M38.0 440.9h.9M53.9 438.7h.9M59.2 440.3h.9M45.4 441.7h.9M40.2 443.9h.9M46.7 445.0h.9M50.7 447.2h.9M56.5 444.2h.9M42.2 442.8h.9M47.3 452.8h.9M49.1 444.4h.9M49.2 439.9h.9M45.4 442.8h.9M41.3 449.7h.9M42.6 442.9h.9M40.7 448.1h.9M41.4 451.2h.9M51.5 451.3h.9M49.1 441.0h.9M62.1 447.7h.9M41.0 453.6h.9M47.7 442.7h.9M52.3 447.0h.9M52.1 446.4h.9M54.8 448.9h.9M45.8 446.7h.9M55.1 446.5h.9M43.6 447.4h.9M51.8 449.2h.9M39.6 440.5h.9M46.3 451.1h.9M49.5 455.0h.9M58.3 450.9h.9M49.3 445.7h.9M42.6 447.7h.9M41.0 451.4h.9M37.4 453.0h.9M46.9 442.6h.9M49.0 447.3h.9M48.5 439.6h.9M48.3 450.5h.9M41.8 447.2h.9M54.4 440.2h.9M51.2 449.3h.9M34.7 446.0h.9M48.0 444.9h.9M51.2 453.2h.9M52.8 453.0h.9M53.9 445.9h.9M44.1 439.9h.9M35.8 443.2h.9M50.0 445.7h.9M47.6 451.0h.9M54.0 445.2h.9M47.3 438.4h.9M55.1 445.5h.9M46.7 450.4h.9M48.1 449.1h.9M44.4 451.1h.9M40.8 445.7h.9M49.3 444.7h.9M53.7 448.6h.9M49.6 447.5h.9M51.1 449.7h.9M42.0 446.3h.9M46.3 444.7h.9M48.5 446.5h.9M39.7 445.1h.9M54.4 450.0h.9M36.0 443.3h.9M50.4 439.3h.9M49.0 454.8h.9M50.9 441.4h.9M50.2 436.8h.9M47.3 435.6h.9M44.5 436.0h.9M43.3 444.1h.9M54.5 448.5h.9M59.6 453.4h.9M48.4 450.0h.9M41.7 446.5h.9M44.9 441.0h.9M54.3 442.9h.9M50.2 444.7h.9M54.0 448.8h.9M38.0 448.3h.9M65.1 450.4h.9M55.2 449.6h.9M58.2 443.5h.9M43.9 444.2h.9M39.2 441.1h.9M55.4 442.9h.9M43.5 453.4h.9M51.6 443.8h.9M43.7 445.3h.9M48.6 452.3h.9M50.5 441.6h.9M46.9 439.1h.9M44.5 455.5h.9M39.6 443.8h.9M53.4 447.7h.9M46.3 442.4h.9M42.7 450.3h.9M47.3 448.3h.9M52.3 438.6h.9M36.9 448.8h.9M54.2 446.5h.9M53.1 438.2h.9M46.0 443.6h.9M44.6 449.1h.9M54.5 444.5h.9M40.8 448.1h.9M39.4 451.0h.9M43.1 453.7h.9M50.1 439.8h.9M47.0 445.7h.9M51.6 438.7h.9M53.5 441.2h.9M36.1 445.2h.9M42.9 446.6h.9M57.8 445.6h.9M60.7 447.6h.9M56.6 453.6h.9M56.2 446.4h.9M56.5 451.9h.9M49.9 441.6h.9M52.1 448.9h.9M39.0 440.3h.9M55.9 445.2h.9M53.1 444.8h.9M39.7 442.7h.9M42.7 447.4h.9M41.3 438.3h.9M47.6 442.5h.9M63.0 445.0h.9M42.2 443.7h.9M42.8 441.1h.9M37.1 447.6h.9M48.0 446.0h.9M45.6 455.1h.9M43.3 443.6h.9M58.5 448.1h.9M44.3 441.9h.9M44.8 444.7h.9M47.3 454.6h.9M39.0 447.0h.9M52.3 450.2h.9M46.3 442.3h.9M50.3 450.0h.9M47.2 444.2h.9M56.7 445.1h.9M47.3 454.0h.9M48.0 446.5h.9M46.5 454.9h.9M47.7 454.2h.9M53.2 446.8h.9M54.4 443.3h.9M60.7 442.3h.9M50.3 451.7h.9M50.2 453.3h.9M57.5 440.3h.9M46.0 449.4h.9M49.2 445.4h.9M50.8 442.1h.9M44.5 453.0h.9M50.0 454.3h.9M33.9 440.2h.9M39.7 447.9h.9M58.4 438.7h.9M47.3 453.8h.9M40.4 441.7h.9M36.4 449.2h.9M36.9 446.7h.9M48.1 443.1h.9M45.0 444.1h.9M50.3 442.3h.9M42.5 440.0h.9M54.6 453.9h.9M51.3 437.7h.9M48.1 449.2h.9M54.1 446.2h.9M48.0 442.1h.9M50.7 452.7h.9M45.7 449.4h.9M49.4 445.3h.9M45.9 448.1h.9M39.9 440.3h.9M50.2 444.3h.9M45.9 445.8h.9M35.3 437.3h.9M57.2 440.7h.9M45.2 449.1h.9M45.9 445.7h.9M35.1 439.7h.9M49.3 447.2h.9M54.7 450.1h.9M44.6 446.8h.9M43.5 449.7h.9M43.1 448.8h.9M50.5 453.9h.9M41.9 446.2h.9M38.8 451.6h.9M46.4 442.7h.9M40.8 442.0h.9M45.8 444.5h.9M56.9 444.9h.9M47.9 435.2h.9M59.0 434.0h.9M58.2 445.1h.9M39.3 449.6h.9M52.8 450.3h.9M50.8 454.8h.9M47.3 449.6h.9M64.5 447.1h.9M38.0 454.5h.9M48.9 440.1h.9M59.1 452.5h.9M47.2 447.9h.9M36.3 447.2h.9M58.0 447.5h.9M36.0 442.6h.9M53.1 445.0h.9M48.4 445.2h.9M39.8 453.4h.9M36.3 444.5h.9M38.6 444.9h.9M47.5 445.0h.9M48.9 450.1h.9M34.8 446.4h.9M55.7 455.0h.9M53.6 438.8h.9M43.0 450.9h.9M55.3 443.8h.9M45.8 450.2h.9M54.8 443.7h.9M41.0 436.8h.9M43.1 437.4h.9M42.5 452.4h.9M50.3 443.3h.9M54.1 438.2h.9M50.8 443.0h.9M50.4 452.6h.9M40.2 449.6h.9M46.8 444.7h.9M37.0 445.6h.9M46.8 446.5h.9M46.3 440.0h.9M57.1 445.0h.9M55.1 444.3h.9M42.2 452.9h.9M55.0 443.8h.9M48.6 448.6h.9M38.5 443.3h.9M34.3 451.3h.9M35.0 444.9h.9M38.9 445.5h.9M45.9 443.2h.9M50.6 444.1h.9M53.0 447.5h.9M40.3 444.2h.9M47.7 450.4h.9M55.4 444.8h.9M49.4 445.9h.9M49.5 440.5h.9M43.4 450.4h.9M55.6 447.5h.9M45.8 448.6h.9M43.3 455.4h.9M38.7 447.4h.9M55.2 444.1h.9M41.6 443.2h.9M48.9 452.1h.9M47.4 448.6h.9M52.4 447.8h.9M51.6 449.0h.9M51.9 441.8h.9M43.8 442.3h.9M59.9 445.2h.9M45.0 452.5h.9M51.0 444.2h.9M54.9 441.4h.9M40.8 441.7h.9M56.3 446.2h.9M55.3 440.1h.9M36.2 447.7h.9M45.7 435.9h.9M49.3 438.8h.9M43.2 441.9h.9M35.1 440.7h.9M40.6 443.6h.9M44.4 446.8h.9M50.7 448.5h.9M47.7 441.3h.9M48.4 447.3h.9M69.5 444.3h.9M49.7 450.0h.9M52.6 435.2h.9M46.3 438.1h.9M53.3 437.9h.9M35.2 441.1h.9M59.5 451.4h.9M54.2 442.8h.9M49.9 441.0h.9M46.3 452.2h.9M54.6 445.6h.9M42.1 443.5h.9M37.2 436.9h.9M45.0 448.5h.9M55.3 455.3h.9M47.2 450.0h.9M35.5 449.3h.9M63.5 450.0h.9M57.7 450.8h.9M53.5 452.7h.9M40.3 443.9h.9M56.9 442.6h.9M56.0 442.4h.9M46.1 442.1h.9M54.2 448.2h.9M34.0 439.9h.9M40.5 449.1h.9M50.2 436.2h.9M51.2 452.7h.9M48.7 449.6h.9M72.1 446.1h.9M45.3 449.2h.9M47.3 440.1h.9M45.7 439.9h.9M58.8 439.9h.9M59.4 442.6h.9M38.8 444.7h.9M58.5 447.1h.9M58.3 451.0h.9M50.1 442.9h.9M53.5 447.1h.9M44.6 445.8h.9M52.4 448.1h.9M52.2 450.9h.9M52.7 449.5h.9M47.2 443.0h.9M45.0 441.3h.9M52.6 439.2h.9M47.3 441.7h.9M42.7 450.3h.9M49.1 451.6h.9M42.2 443.5h.9M48.7 450.2h.9M51.6 453.8h.9M39.8 445.5h.9M38.0 441.4h.9M54.7 441.3h.9M36.2 454.2h.9M53.0 443.1h.9M41.5 445.2h.9M42.8 442.6h.9M52.7 441.9h.9M46.3 442.4h.9M52.7 445.5h.9M55.1 439.4h.9M43.6 444.8h.9M48.4 443.8h.9M61.2 443.1h.9M45.4 438.9h.9M49.6 441.3h.9M54.2 444.4h.9M51.4 439.8h.9M43.9 454.3h.9M48.2 447.5h.9M50.7 451.4h.9M43.9 440.4h.9M46.8 451.4h.9M45.4 452.1h.9M37.2 442.5h.9M41.0 435.3h.9M61.5 445.7h.9M61.3 449.1h.9M40.7 453.6h.9M53.0 445.2h.9M51.0 445.1h.9M40.8 444.2h.9M54.7 440.7h.9M54.4 453.4h.9M48.8 444.3h.9M53.1 443.4h.9M53.1 449.7h.9M47.3 443.6h.9M41.7 445.5h.9M40.5 445.6h.9M49.0 444.4h.9M50.9 451.8h.9M39.1 446.0h.9M42.1 442.5h.9M46.1 452.0h.9M55.5 442.8h.9M47.4 445.0h.9M46.2 455.3h.9M53.8 436.1h.9M50.4 450.0h.9M40.2 454.5h.9M53.4 455.4h.9M39.3 444.6h.9M42.8 442.3h.9M43.3 438.8h.9M48.2 437.7h.9M54.3 450.2h.9M45.4 454.0h.9M61.7 446.9h.9M40.0 439.4h.9M36.2 447.2h.9M48.9 442.1h.9M57.5 442.9h.9M48.7 451.6h.9M53.6 449.6h.9M51.5 448.1h.9M55.7 452.1h.9M41.8 449.1h.9M48.1 444.8h.9M57.5 447.3h.9M50.0 452.8h.9M41.6 443.3h.9M46.0 440.7h.9M49.6 441.1h.9M49.7 446.7h.9M48.2 449.2h.9M45.8 450.4h.9M45.7 446.5h.9M47.5 450.8h.9M49.4 441.6h.9M60.5 453.2h.9M48.7 450.2h.9M42.4 451.0h.9M44.4 450.3h.9M48.8 440.6h.9M50.9 446.2h.9M45.1 445.9h.9M53.6 447.7h.9M45.1 444.0h.9M46.9 437.8h.9M42.8 443.8h.9M47.2 454.1h.9M46.5 446.3h.9M47.5 437.1h.9M40.6 449.1h.9M45.4 448.2h.9M49.6 439.0h.9M40.4 441.0h.9M36.6 439.7h.9M47.7 452.2h.9M56.3 449.7h.9M43.7 440.9h.9M58.1 447.7h.9M42.6 440.6h.9M62.3 450.0h.9M49.5 447.1h.9M46.5 451.4h.9M52.4 454.4h.9M36.6 450.2h.9M49.4 451.2h.9M51.6 435.5h.9M47.8 454.6h.9M52.7 441.4h.9M36.1 453.0h.9M48.6 449.0h.9M42.5 452.2h.9M46.4 445.2h.9M40.0 447.1h.9M50.1 441.0h.9M44.3 449.0h.9M39.7 448.3h.9M53.7 446.3h.9M38.8 445.9h.9M55.2 446.6h.9M39.3 450.8h.9M50.2 454.0h.9M57.3 450.4h.9M46.3 435.1h.9M34.7 445.4h.9M43.6 446.2h.9M41.2 440.8h.9M54.3 447.7h.9M48.1 455.2h.9M43.1 448.7h.9M41.6 443.8h.9M48.3 445.0h.9M43.0 444.4h.9M53.8 441.6h.9M39.3 454.6h.9M38.9 444.5h.9M39.4 441.0h.9M54.3 450.1h.9M45.6 454.4h.9M44.5 452.1h.9M50.2 451.9h.9M47.7 448.4h.9M47.1 432.3h.9M62.1 449.3h.9M48.2 445.6h.9M43.4 442.8h.9M47.9 451.1h.9M49.5 447.3h.9M52.8 442.3h.9M54.3 444.0h.9M51.6 442.8h.9M53.8 440.0h.9M59.6 443.7h.9M44.8 442.0h.9M40.9 444.7h.9M38.1 451.6h.9M46.8 434.7h.9M47.8 449.0h.9M48.9 443.0h.9M46.5 432.2h.9M38.9 433.9h.9M38.5 449.7h.9M55.3 454.1h.9M43.4 448.3h.9M45.3 448.0h.9M48.6 441.5h.9M54.8 443.4h.9M43.5 444.5h.9M43.3 436.6h.9M46.7 448.2h.9M52.2 444.3h.9M58.2 442.7h.9M43.9 433.1h.9M58.3 452.3h.9M56.3 437.6h.9M52.2 437.1h.9M55.3 445.4h.9M45.0 446.4h.9M46.1 454.7h.9M55.0 438.1h.9M53.4 432.8h.9M59.7 443.3h.9M45.8 445.9h.9M62.5 450.1h.9M47.4 449.4h.9M45.2 451.5h.9M43.8 444.0h.9M45.6 452.6h.9M48.7 444.8h.9M37.8 451.3h.9M45.2 447.7h.9M45.9 447.8h.9M49.2 437.0h.9M36.4 444.8h.9M36.7 449.8h.9M47.8 452.2h.9M52.2 449.6h.9M43.4 447.7h.9M53.4 451.6h.9M49.3 445.4h.9M43.1 444.3h.9M44.4 452.1h.9M55.2 445.1h.9M43.8 450.3h.9M55.8 449.6h.9M39.7 437.4h.9M58.0 451.1h.9M44.6 445.9h.9M47.0 446.4h.9M41.4 451.0h.9M43.3 440.0h.9M55.1 446.6h.9M55.4 447.8h.9M53.7 455.2h.9M49.5 452.0h.9M44.0 448.5h.9M42.2 436.8h.9M51.8 446.3h.9M50.6 438.4h.9M51.8 439.2h.9M52.1 447.1h.9M43.4 441.7h.9M48.9 434.6h.9M54.4 450.2h.9M51.1 450.2h.9M55.8 438.4h.9M48.9 449.3h.9M52.3 444.0h.9M47.3 450.1h.9M36.4 446.5h.9M46.1 447.8h.9M48.2 442.7h.9M49.4 439.2h.9M40.9 440.6h.9M49.1 450.4h.9M55.5 438.9h.9M46.0 452.4h.9M47.8 453.7h.9M57.3 443.5h.9M44.8 446.7h.9M43.1 446.1h.9M47.8 443.0h.9M47.8 447.5h.9M34.1 440.2h.9M38.6 445.1h.9M50.8 441.4h.9M37.3 449.9h.9M44.7 445.8h.9M51.0 451.3h.9M44.4 440.7h.9M40.0 441.0h.9M50.7 442.9h.9M46.6 444.1h.9M38.4 446.0h.9M50.0 447.0h.9M42.6 446.1h.9M43.2 444.3h.9M36.1 450.2h.9M45.7 431.8h.9M46.1 449.8h.9M66.8 441.3h.9M57.8 440.9h.9M54.2 450.2h.9M46.4 440.2h.9M41.1 452.1h.9M57.4 444.9h.9M46.4 442.6h.9M48.4 443.6h.9M54.6 451.0h.9M50.8 441.0h.9M38.5 443.4h.9M56.5 450.4h.9M46.9 451.3h.9M51.6 441.4h.9M57.6 452.3h.9M40.2 444.6h.9M53.2 455.3h.9M56.4 441.1h.9M44.6 453.2h.9M43.3 447.9h.9M45.8 449.5h.9M39.1 439.2h.9M44.0 441.2h.9M50.5 444.6h.9M40.5 449.2h.9M41.1 452.6h.9M49.5 444.4h.9M39.2 446.0h.9M47.8 449.8h.9M48.4 446.1h.9M39.2 442.9h.9M48.0 448.7h.9M46.0 438.2h.9M40.6 443.6h.9M51.5 444.5h.9M40.6 445.5h.9M46.6 453.7h.9M47.6 443.1h.9M47.4 448.8h.9M35.5 444.0h.9M40.8 442.7h.9M45.1 453.7h.9M52.4 447.7h.9M40.8 447.8h.9M51.2 437.5h.9M36.7 453.2h.9M54.4 446.5h.9M54.3 451.3h.9M63.1 431.1h.9M49.9 452.6h.9M49.8 442.5h.9M39.1 453.5h.9M61.0 435.4h.9M40.6 449.7h.9M53.1 443.1h.9M38.4 452.2h.9M56.4 435.9h.9M47.9 448.8h.9M47.2 453.6h.9M49.7 449.1h.9M49.4 438.4h.9M62.3 443.1h.9M47.7 453.4h.9M52.3 445.3h.9M55.1 445.4h.9M38.3 453.0h.9M62.1 451.8h.9M54.9 436.8h.9M44.2 433.4h.9M54.4 449.5h.9M54.6 441.7h.9M46.2 454.6h.9M38.6 448.7h.9M54.4 447.8h.9M45.5 447.5h.9M51.1 450.8h.9M58.5 438.2h.9M47.5 445.7h.9M58.3 439.9h.9M59.2 441.8h.9M42.7 438.7h.9M46.7 443.8h.9M48.6 445.4h.9M52.3 448.7h.9M47.9 446.0h.9M44.5 451.3h.9M45.5 452.4h.9M40.3 455.3h.9M56.3 439.6h.9M53.0 443.3h.9M39.9 443.5h.9M48.6 442.6h.9M51.1 452.9h.9M38.5 435.4h.9M47.3 447.3h.9M48.3 450.3h.9M51.5 435.5h.9M47.6 441.5h.9M46.5 438.4h.9M50.9 445.4h.9M43.6 438.3h.9M58.1 451.1h.9M51.6 442.2h.9M41.7 454.4h.9M44.4 450.8h.9M60.7 437.0h.9M39.0 448.5h.9M37.1 444.3h.9M44.3 451.1h.9M39.0 447.2h.9M51.9 440.1h.9M41.1 451.6h.9M53.0 437.6h.9M38.0 455.6h.9M48.8 442.9h.9M48.3 445.7h.9M50.9 454.9h.9M57.1 442.5h.9M44.5 444.4h.9M58.6 452.5h.9M35.4 444.0h.9M44.7 452.8h.9M55.8 443.5h.9M41.4 447.2h.9M51.2 447.7h.9M40.4 444.9h.9M51.6 448.3h.9M51.7 441.6h.9M45.1 446.9h.9M51.3 448.7h.9M44.9 445.4h.9M52.5 445.7h.9M38.1 448.9h.9M36.8 441.6h.9M61.5 448.1h.9M53.4 449.6h.9M53.1 447.0h.9M53.1 447.0h.9M42.3 448.4h.9M48.8 451.5h.9M55.6 454.3h.9M42.2 448.2h.9M59.3 443.5h.9M43.6 443.9h.9M44.2 442.1h.9M58.5 443.6h.9M48.8 440.8h.9M61.8 440.9h.9M39.5 451.7h.9M43.8 447.1h.9M58.4 439.7h.9M59.1 443.6h.9M44.6 438.8h.9M63.9 443.9h.9M35.8 446.1h.9M54.7 451.1h.9M46.3 444.1h.9M46.0 439.7h.9M50.7 448.2h.9M57.0 440.9h.9M58.9 452.9h.9M53.9 445.2h.9M52.5 444.7h.9M54.6 446.3h.9M42.9 445.3h.9M41.8 450.5h.9M46.4 441.8h.9M64.0 446.7h.9M56.4 443.1h.9M51.1 443.5h.9M52.5 448.5h.9M63.1 434.0h.9M48.5 455.4h.9M35.9 451.4h.9M48.4 448.7h.9M44.0 443.9h.9M36.0 443.8h.9M46.2 442.1h.9M58.2 447.1h.9M55.9 448.5h.9M41.2 445.5h.9M46.9 443.9h.9M54.0 450.1h.9M45.9 449.2h.9M42.4 443.8h.9M56.5 452.6h.9M54.1 455.3h.9M48.4 445.1h.9M50.0 452.2h.9M57.4 446.7h.9M47.9 453.0h.9M51.9 447.8h.9M43.5 445.8h.9M49.0 447.9h.9M48.4 452.5h.9M49.0 445.4h.9M46.1 448.6h.9M51.6 449.7h.9M51.7 443.8h.9M56.2 440.6h.9M34.5 450.5h.9M52.6 442.3h.9M45.1 451.7h.9M54.3 443.3h.9M43.9 449.5h.9M48.8 448.8h.9M42.5 445.4h.9M55.7 448.3h.9M43.5 452.5h.9M46.9 443.6h.9M42.8 445.5h.9M58.2 443.9h.9M61.0 450.0h.9M55.6 446.6h.9M39.8 451.9h.9M41.1 452.6h.9M53.9 445.9h.9M42.7 442.6h.9M52.1 441.8h.9M54.6 448.8h.9M42.1 444.2h.9M40.2 441.2h.9M47.8 448.6h.9M44.8 451.0h.9M48.2 443.0h.9M43.9 445.4h.9M47.3 448.6h.9M56.0 445.2h.9M53.2 451.0h.9M44.5 434.5h.9M48.5 447.9h.9M56.4 435.0h.9M52.0 445.4h.9M50.5 453.0h.9M50.3 449.9h.9M50.2 440.2h.9M50.0 444.4h.9M50.4 436.8h.9M52.8 447.9h.9M47.2 444.5h.9M54.5 448.5h.9M52.9 449.1h.9M45.0 448.3h.9M53.6 444.1h.9M51.3 447.4h.9M56.5 446.6h.9M47.5 442.7h.9M44.4 448.9h.9M55.7 437.5h.9M44.8 448.2h.9M51.5 442.3h.9M42.0 445.4h.9M51.6 449.2h.9M45.1 448.8h.9M46.1 444.9h.9M53.6 446.5h.9M52.5 449.4h.9M45.5 443.3h.9M49.4 446.3h.9M57.8 448.7h.9M49.0 440.8h.9M45.8 449.9h.9M39.2 439.5h.9M51.8 449.1h.9M44.7 446.3h.9M45.0 446.0h.9M54.3 450.9h.9M62.7 454.7h.9M50.9 445.7h.9M54.9 448.5h.9M50.3 450.9h.9M48.6 443.5h.9M51.9 445.0h.9M44.2 450.1h.9M42.2 439.7h.9M60.8 451.0h.9M46.7 448.3h.9M48.6 443.1h.9M44.0 440.3h.9M51.3 453.8h.9M57.7 447.8h.9M57.9 447.8h.9M55.7 454.9h.9M46.0 448.1h.9M47.6 443.7h.9M49.7 453.4h.9M57.8 444.3h.9M45.3 446.6h.9M61.7 446.1h.9M53.9 446.8h.9M39.1 450.3h.9M37.6 439.0h.9M56.9 450.8h.9M48.0 452.3h.9M56.7 449.3h.9M40.6 441.3h.9M55.6 446.7h.9M56.5 442.0h.9M52.7 437.2h.9M53.0 449.0h.9M55.9 436.5h.9M40.5 443.1h.9M56.1 439.5h.9M45.4 454.5h.9M53.0 439.7h.9M52.5 450.3h.9M54.1 447.3h.9M51.2 452.4h.9M50.9 452.9h.9M54.2 451.0h.9M46.5 450.9h.9M54.8 444.1h.9M43.0 449.6h.9M53.0 442.9h.9M36.0 449.3h.9M50.3 447.5h.9M48.3 449.4h.9M47.9 444.4h.9M47.8 451.2h.9M56.4 441.2h.9M46.3 442.9h.9M47.3 452.7h.9M44.1 454.1h.9M62.1 442.8h.9M50.0 451.2h.9M41.4 436.3h.9M48.8 442.1h.9M48.9 442.7h.9M45.3 443.5h.9M49.2 451.8h.9M49.3 449.4h.9M41.0 455.6h.9M48.4 442.9h.9M51.8 440.9h.9M48.2 445.7h.9M47.1 438.4h.9M53.7 439.3h.9M48.9 445.7h.9M35.9 450.4h.9M59.8 442.1h.9M34.9 446.5h.9M54.0 445.6h.9M59.7 447.3h.9M43.5 445.3h.9M49.4 452.6h.9M44.7 446.9h.9M52.6 444.8h.9M48.9 451.6h.9M51.5 450.8h.9M44.6 438.8h.9M42.4 444.4h.9M51.3 444.3h.9M43.1 444.1h.9M50.1 444.2h.9M55.2 449.7h.9M50.1 443.1h.9M59.2 448.6h.9M54.4 449.5h.9M45.6 444.5h.9M45.9 451.1h.9M51.3 437.6h.9M51.9 437.9h.9M44.3 453.5h.9M48.3 445.1h.9M46.2 445.9h.9M39.5 441.0h.9M47.4 435.7h.9M52.5 450.2h.9M41.1 441.3h.9M48.5 446.3h.9M42.4 445.7h.9M40.9 437.5h.9M52.8 448.7h.9M39.3 446.4h.9M48.8 454.8h.9M56.3 454.4h.9M45.7 452.3h.9M43.4 440.9h.9M62.0 441.3h.9M56.6 443.6h.9M35.2 446.6h.9M51.0 442.1h.9M40.9 441.0h.9M62.0 436.0h.9M40.3 444.2h.9M38.8 450.4h.9M41.6 443.6h.9M47.0 441.5h.9M49.9 438.1h.9M46.7 450.6h.9M54.1 438.8h.9M53.5 435.2h.9M53.8 447.7h.9M50.9 454.7h.9M46.7 449.7h.9M44.6 454.7h.9M51.9 453.3h.9M50.8 438.9h.9M47.5 445.8h.9M49.7 441.5h.9M43.8 442.8h.9M39.7 447.5h.9M42.9 453.6h.9M43.9 436.0h.9M48.3 452.6h.9M55.3 441.8h.9M44.8 444.2h.9M50.5 443.2h.9M51.3 439.6h.9M46.2 443.2h.9M40.9 447.0h.9M39.8 445.0h.9M51.7 450.6h.9M59.6 446.7h.9M51.0 449.2h.9M43.5 435.3h.9M40.9 435.9h.9M48.0 454.4h.9M60.0 450.3h.9M59.7 443.8h.9M40.1 449.0h.9M58.1 450.2h.9M52.9 446.8h.9M44.2 450.1h.9M52.9 443.9h.9M34.8 448.7h.9M39.2 444.1h.9M48.5 450.3h.9M51.7 450.4h.9M49.7 442.4h.9M50.4 444.5h.9M52.0 445.9h.9M48.6 437.1h.9M50.1 443.6h.9M49.4 444.3h.9M60.0 453.6h.9M61.8 443.3h.9M51.3 445.6h.9M43.3 449.5h.9M47.2 450.4h.9M45.4 445.6h.9M45.3 454.1h.9M55.2 449.2h.9M44.5 447.0h.9M52.1 441.7h.9M50.8 436.7h.9M44.2 443.6h.9M38.7 447.5h.9M44.7 440.6h.9M43.6 438.5h.9M49.9 448.5h.9M40.1 447.6h.9M47.6 431.3h.9M46.5 442.3h.9M41.3 439.6h.9M40.9 450.4h.9M45.1 447.1h.9M43.4 443.6h.9M48.2 443.9h.9M51.0 439.3h.9M42.4 438.2h.9M57.6 454.5h.9M47.7 448.2h.9M45.0 444.8h.9M60.6 448.0h.9M47.5 444.0h.9M50.4 449.5h.9M44.1 445.0h.9M52.2 446.9h.9M44.6 447.6h.9M48.3 445.2h.9M44.6 448.4h.9M44.5 439.9h.9M42.5 445.6h.9M42.7 439.3h.9M54.0 438.1h.9M42.3 451.7h.9M43.1 443.7h.9M37.9 446.0h.9M35.6 450.4h.9M44.3 449.2h.9M44.2 438.8h.9M42.8 453.5h.9M49.0 445.0h.9M55.4 436.8h.9M45.2 451.3h.9M41.6 448.2h.9M45.2 453.7h.9M51.5 447.4h.9M45.9 442.8h.9M38.8 440.8h.9M34.5 445.0h.9M50.1 454.7h.9M40.9 442.5h.9M50.1 442.3h.9M53.2 451.0h.9M46.7 443.7h.9M46.0 441.6h.9M58.3 446.4h.9M57.7 441.0h.9M60.2 443.8h.9M47.0 449.6h.9M55.0 454.4h.9M48.6 440.9h.9M57.9 445.5h.9M40.3 439.3h.9M45.2 434.0h.9M45.9 443.3h.9M57.3 450.6h.9M46.6 433.4h.9M40.3 443.6h.9M51.8 436.7h.9M45.4 438.1h.9M56.7 443.7h.9M41.2 446.8h.9M42.7 443.3h.9M48.0 442.9h.9M43.6 455.0h.9M47.8 442.7h.9M57.7 448.9h.9M56.5 442.9h.9M46.8 448.9h.9M52.3 444.1h.9M60.6 440.2h.9M51.6 445.0h.9M46.2 445.5h.9M62.9 442.6h.9M35.8 452.4h.9M49.9 448.7h.9M43.0 444.5h.9M52.9 444.8h.9M49.2 439.3h.9M44.1 450.7h.9M55.6 455.1h.9M58.4 441.5h.9M48.2 441.3h.9M51.4 444.8h.9M51.1 443.6h.9M48.8 441.6h.9M44.2 442.1h.9M46.2 448.8h.9M55.0 441.5h.9M53.0 441.6h.9M57.3 446.2h.9M42.3 445.5h.9M53.0 446.4h.9M51.1 446.1h.9M62.3 452.0h.9M49.7 448.7h.9M62.7 448.4h.9M49.4 441.1h.9M54.3 443.1h.9M42.4 452.1h.9M44.9 438.2h.9M43.6 442.9h.9M47.0 444.3h.9M45.0 445.0h.9M54.9 450.6h.9M42.6 446.5h.9M44.9 452.5h.9M38.3 449.3h.9M52.4 444.2h.9M44.7 448.2h.9M37.9 442.3h.9M38.5 448.7h.9M41.1 444.3h.9M34.1 442.9h.9M54.3 448.4h.9M56.3 430.8h.9M50.5 438.7h.9M53.3 448.9h.9M50.5 449.1h.9M53.6 449.8h.9M49.7 449.2h.9M49.7 446.9h.9M48.2 444.8h.9M49.2 450.3h.9M47.2 445.8h.9M48.8 442.4h.9M57.4 437.9h.9M58.0 453.4h.9M44.8 445.7h.9M41.1 447.4h.9M40.7 438.6h.9M49.0 442.8h.9M47.1 444.7h.9M42.8 447.3h.9M41.7 448.8h.9M44.1 452.8h.9M44.6 449.8h.9M53.4 445.6h.9M39.5 450.2h.9M39.2 448.3h.9M37.8 443.8h.9M46.7 442.8h.9M49.0 449.2h.9M48.4 447.2h.9M56.3 450.2h.9M50.0 443.1h.9M40.2 442.7h.9M53.5 446.7h.9M52.2 438.5h.9M35.4 446.8h.9M36.9 446.4h.9M50.2 438.9h.9M54.6 447.7h.9M46.3 440.5h.9M41.4 444.2h.9M53.1 445.3h.9M36.4 436.4h.9M48.9 444.4h.9M52.9 448.8h.9M53.0 452.5h.9M53.2 447.9h.9M34.7 449.9h.9M53.3 449.1h.9M39.8 448.7h.9M54.5 448.7h.9M45.4 434.9h.9M48.2 451.7h.9M46.5 439.9h.9M56.4 449.1h.9M55.7 446.8h.9M40.3 454.4h.9M45.8 448.2h.9M50.0 451.2h.9M51.0 453.9h.9M47.1 452.2h.9M58.2 444.9h.9M40.7 445.8h.9M56.2 448.1h.9M54.5 446.4h.9M35.6 441.4h.9M38.7 435.8h.9M46.0 452.3h.9M51.5 448.6h.9M51.0 444.5h.9M58.4 450.7h.9M51.9 434.4h.9M54.4 452.6h.9M47.4 437.0h.9M53.9 443.8h.9M45.9 444.3h.9M46.1 440.5h.9M50.2 453.3h.9M47.4 439.9h.9M45.3 445.1h.9M46.2 448.0h.9M47.0 446.1h.9M47.9 439.6h.9M50.3 451.5h.9M49.7 447.0h.9M66.0 448.3h.9M61.5 442.0h.9M42.2 438.1h.9M40.8 441.0h.9M47.1 447.4h.9M45.4 446.3h.9M43.0 441.0h.9M40.9 443.8h.9M56.0 432.9h.9M52.0 450.0h.9M44.9 449.3h.9M56.9 442.2h.9M49.4 443.5h.9M45.9 445.9h.9M47.3 442.6h.9M44.3 452.6h.9M57.8 448.2h.9M53.4 444.4h.9M44.7 447.4h.9M55.2 447.6h.9M39.1 451.5h.9M61.9 448.4h.9M37.0 447.5h.9M60.6 444.9h.9M50.5 444.8h.9M50.8 434.6h.9M42.8 444.2h.9M50.9 446.9h.9M42.3 444.5h.9M39.9 441.3h.9M44.1 447.9h.9M58.8 444.5h.9M44.2 446.6h.9M54.0 441.1h.9M48.1 443.5h.9M43.3 455.3h.9M47.0 441.9h.9M41.1 436.2h.9M58.1 446.4h.9M55.3 450.9h.9M39.6 437.6h.9M55.9 443.0h.9M50.1 440.3h.9M52.9 441.9h.9M41.1 452.3h.9M52.3 445.5h.9M54.9 439.1h.9M54.5 454.3h.9M52.2 444.8h.9M42.0 447.0h.9M40.7 447.4h.9M45.9 445.3h.9M49.4 441.0h.9M47.9 446.9h.9M37.6 454.6h.9M46.3 445.3h.9M54.1 450.5h.9M58.4 443.6h.9M51.4 449.2h.9M41.4 447.4h.9M49.9 454.9h.9M41.1 453.8h.9M41.4 440.7h.9M42.2 447.0h.9M49.6 448.4h.9M45.3 445.7h.9M42.4 442.2h.9M43.4 440.2h.9M61.1 446.2h.9M47.8 444.2h.9M46.1 455.2h.9M59.5 443.7h.9M40.4 446.7h.9M52.5 442.8h.9M54.1 438.4h.9M52.5 454.7h.9M40.4 449.2h.9M58.3 443.9h.9M48.2 445.8h.9M38.8 446.1h.9M59.1 445.7h.9M56.6 429.8h.9M46.8 433.1h.9M40.2 447.7h.9M57.1 443.9h.9M57.6 445.9h.9M46.2 438.1h.9M39.8 442.3h.9M59.3 452.3h.9M48.5 448.9h.9M56.3 438.5h.9M47.0 450.9h.9M41.1 455.3h.9M51.0 448.3h.9M49.6 443.9h.9M50.9 444.0h.9M44.3 445.8h.9M56.5 440.6h.9M53.0 452.1h.9M46.8 444.1h.9M51.4 442.8h.9M37.0 454.3h.9M38.7 442.9h.9M42.9 445.3h.9M53.5 443.6h.9M45.7 447.9h.9M43.7 449.0h.9M56.0 448.9h.9M60.0 449.9h.9M51.9 431.5h.9M44.2 451.6h.9M39.7 445.0h.9M53.2 452.5h.9M49.0 446.2h.9M50.4 435.0h.9M49.2 441.5h.9M45.8 438.4h.9M35.0 444.9h.9M50.7 448.3h.9M38.4 441.7h.9M40.8 448.2h.9M53.7 449.0h.9M51.1 455.3h.9M47.1 445.5h.9M54.0 438.6h.9M39.8 446.5h.9M60.0 441.1h.9M48.3 442.2h.9M52.3 448.5h.9M48.3 442.9h.9M45.3 436.8h.9M40.6 449.1h.9M41.4 448.7h.9M57.9 431.0h.9M38.0 441.4h.9M47.7 452.4h.9M60.1 443.9h.9M56.8 445.1h.9M45.5 451.6h.9M42.1 439.0h.9M55.4 447.9h.9M48.1 447.7h.9M34.5 449.6h.9M60.1 446.3h.9M51.8 447.6h.9M56.0 449.9h.9M54.5 435.5h.9M46.4 451.5h.9M57.3 443.0h.9M64.8 449.3h.9M48.8 449.2h.9M51.8 451.4h.9M41.7 450.1h.9M51.1 445.6h.9M44.0 447.7h.9M46.7 438.8h.9M39.9 445.2h.9M45.6 455.0h.9M54.3 447.0h.9M54.6 445.0h.9M41.1 437.0h.9M48.6 449.3h.9M54.8 432.2h.9M42.2 446.5h.9M46.6 434.8h.9M47.5 444.2h.9M54.1 440.2h.9M58.3 440.5h.9M59.1 446.3h.9M54.1 444.9h.9M40.2 453.6h.9M45.5 452.4h.9M42.2 441.4h.9M47.2 453.7h.9M48.5 455.3h.9M38.7 444.8h.9M54.3 453.6h.9M41.9 448.4h.9M58.2 452.1h.9M50.7 453.1h.9M44.1 451.9h.9M39.3 441.5h.9M55.3 451.8h.9M47.1 440.9h.9M47.1 443.2h.9M42.8 449.0h.9M51.2 450.0h.9M50.9 451.7h.9M34.0 444.0h.9M44.3 444.6h.9M40.0 443.7h.9M45.5 449.4h.9M50.5 440.7h.9M40.3 437.7h.9M44.4 443.3h.9M44.5 450.7h.9M49.3 451.3h.9M50.1 448.9h.9M54.6 452.2h.9M64.8 446.5h.9M44.9 436.9h.9M48.6 444.9h.9M42.2 446.7h.9M43.0 449.4h.9M59.7 437.1h.9M45.7 441.3h.9M41.6 451.8h.9M54.1 449.8h.9M51.4 444.4h.9M49.6 451.2h.9M53.8 444.6h.9M51.2 443.1h.9M48.6 446.6h.9M43.5 447.3h.9M44.9 450.7h.9M57.8 443.8h.9M42.8 446.3h.9M49.2 444.4h.9M39.0 448.4h.9M48.9 446.3h.9M44.2 446.7h.9M46.8 441.9h.9M48.8 445.5h.9M50.5 445.4h.9M51.1 438.0h.9M48.0 437.7h.9M58.6 446.2h.9M51.4 445.0h.9M49.8 447.8h.9M46.1 438.1h.9M42.6 448.0h.9M52.3 444.3h.9M43.3 446.0h.9M44.0 449.0h.9M34.8 439.7h.9M53.8 447.4h.9M63.2 440.8h.9M56.3 447.9h.9M59.2 455.0h.9M41.9 442.7h.9M52.4 440.2h.9M36.9 449.2h.9M50.1 444.2h.9M50.0 437.3h.9M49.2 448.7h.9M50.8 443.0h.9M49.5 444.3h.9M53.6 440.7h.9M52.7 441.8h.9M51.5 454.3h.9M63.3 445.3h.9M59.3 449.1h.9M52.0 453.6h.9M46.5 446.2h.9M43.5 442.3h.9M55.8 445.4h.9M44.1 449.7h.9M43.9 448.3h.9M45.2 448.6h.9M46.6 437.0h.9M54.7 451.1h.9M48.5 443.8h.9M56.3 441.5h.9M50.5 449.5h.9M52.2 445.4h.9M42.7 436.6h.9M38.2 446.6h.9M42.7 450.7h.9M55.2 436.3h.9M36.2 444.7h.9M49.1 439.3h.9M44.5 436.0h.9M52.0 453.9h.9M49.3 448.6h.9M51.9 453.3h.9M55.0 450.4h.9M54.0 439.3h.9M51.7 442.7h.9M51.6 447.1h.9M49.0 450.1h.9M50.0 445.2h.9M60.9 447.6h.9M51.8 445.5h.9M44.8 442.7h.9M49.1 447.0h.9M52.7 444.6h.9M56.6 452.1h.9M45.3 447.3h.9M51.5 448.7h.9M39.8 444.1h.9M43.6 447.3h.9M50.4 446.6h.9M51.1 446.4h.9M56.2 443.4h.9M44.7 449.5h.9M50.3 448.8h.9M48.1 439.2h.9M50.0 442.5h.9M52.7 448.4h.9M48.6 444.1h.9M54.3 446.2h.9M38.8 451.9h.9M60.3 451.7h.9M50.4 442.2h.9M46.1 450.7h.9M53.7 447.2h.9M48.7 450.3h.9M51.8 450.3h.9M56.7 443.5h.9M41.5 444.2h.9M44.5 443.0h.9M53.0 451.5h.9M42.5 434.5h.9M35.5 446.0h.9M47.3 440.2h.9M48.4 451.5h.9M48.1 449.5h.9M35.1 449.2h.9M44.2 447.0h.9M37.9 442.3h.9M42.3 440.8h.9M48.7 445.1h.9M47.2 452.6h.9M51.0 448.4h.9M52.1 447.5h.9M55.0 449.3h.9M45.7 445.1h.9M52.2 442.4h.9M48.1 446.4h.9M46.6 445.8h.9M50.9 452.1h.9M59.6 449.0h.9M52.6 451.6h.9M38.0 439.8h.9M53.0 448.7h.9M44.9 450.5h.9M43.7 440.3h.9M50.3 448.6h.9M45.2 451.1h.9M44.5 445.9h.9M48.0 455.0h.9M46.7 437.4h.9M48.9 452.6h.9M46.1 440.2h.9M42.9 452.6h.9M42.7 449.5h.9M55.2 437.1h.9M57.1 448.1h.9M49.8 446.8h.9M54.3 444.3h.9M54.0 447.7h.9M51.5 443.9h.9M56.3 450.3h.9M44.1 447.0h.9M46.5 448.9h.9M53.4 437.0h.9M51.3 452.3h.9M51.2 446.2h.9M53.1 441.6h.9M44.7 443.0h.9M41.2 448.3h.9M49.9 448.7h.9M53.7 444.4h.9M48.4 440.1h.9M41.8 438.9h.9M54.2 448.3h.9M41.5 444.2h.9M40.9 435.6h.9M54.2 448.4h.9M57.9 446.0h.9M47.4 443.2h.9M43.4 443.8h.9M42.9 444.5h.9M49.6 443.5h.9M59.4 444.7h.9M45.2 453.4h.9M51.6 441.0h.9M45.8 431.0h.9M43.5 448.3h.9M43.8 446.1h.9M46.0 444.3h.9M47.1 444.2h.9M45.8 449.9h.9M61.8 443.1h.9M48.1 444.6h.9M44.5 448.5h.9M48.9 454.0h.9M55.2 443.6h.9M38.6 448.1h.9M53.6 450.0h.9M48.8 446.2h.9M47.8 445.2h.9M49.1 449.2h.9M45.9 439.5h.9M50.3 442.8h.9M49.4 444.2h.9M37.2 445.3h.9M47.7 450.6h.9M51.6 448.2h.9M50.0 453.0h.9M41.9 455.5h.9M58.3 447.9h.9M43.5 454.3h.9M46.4 447.8h.9M48.2 448.1h.9M45.8 449.4h.9M49.7 445.0h.9M52.9 449.4h.9M45.7 445.0h.9M52.5 439.0h.9M49.9 447.6h.9M40.0 444.3h.9M57.6 450.5h.9M42.5 445.5h.9M46.0 443.2h.9M43.7 446.2h.9M45.9 455.2h.9M59.9 447.9h.9M47.1 439.2h.9M44.2 443.3h.9M45.7 454.7h.9M49.8 448.6h.9M48.1 433.3h.9M43.4 445.4h.9M51.7 441.9h.9M45.9 440.6h.9M46.6 442.6h.9M53.2 442.1h.9M42.0 446.1h.9M55.4 446.7h.9M47.7 450.0h.9M48.5 450.8h.9M53.1 446.9h.9M37.7 448.3h.9M52.3 452.7h.9M43.7 442.0h.9M49.8 446.5h.9M49.0 443.7h.9M47.8 446.3h.9M45.1 437.0h.9M37.6 446.1h.9M37.5 444.3h.9M40.9 444.1h.9M50.2 453.4h.9M39.6 444.9h.9M41.0 449.3h.9M57.5 446.8h.9M37.1 445.4h.9M54.4 454.4h.9M45.4 446.0h.9M40.9 437.1h.9M45.0 453.1h.9M42.9 448.9h.9M49.3 443.7h.9M43.3 437.3h.9M45.7 448.9h.9M52.4 447.0h.9M48.4 437.8h.9M39.6 442.6h.9M44.9 438.5h.9M43.5 444.6h.9M48.5 446.2h.9M39.2 441.3h.9M53.7 441.0h.9M49.3 454.0h.9M57.4 438.7h.9M47.3 443.7h.9M42.7 450.8h.9M48.7 453.1h.9M39.6 433.3h.9M46.4 446.0h.9M55.9 444.1h.9M50.8 452.8h.9M44.1 440.1h.9M44.0 444.9h.9M61.0 440.8h.9M45.0 451.7h.9M63.6 438.9h.9M51.4 442.4h.9M57.7 450.2h.9M50.0 452.4h.9M49.0 445.9h.9M50.6 437.7h.9M47.5 452.0h.9M51.8 449.5h.9M48.0 449.6h.9M46.5 453.5h.9M40.7 454.8h.9M47.0 442.0h.9M52.3 444.0h.9M59.3 443.9h.9M39.8 435.2h.9M52.8 446.1h.9M50.6 443.3h.9M47.6 446.1h.9M51.6 442.8h.9M51.9 452.4h.9M46.9 449.5h.9M46.6 443.3h.9M49.1 444.6h.9M42.8 445.3h.9M46.0 451.2h.9M55.8 437.0h.9M35.6 442.0h.9M54.9 439.4h.9M40.1 435.5h.9M42.2 444.5h.9M48.0 448.6h.9M51.5 447.0h.9M50.7 437.0h.9M51.6 450.7h.9M37.6 440.8h.9M49.4 448.5h.9M51.6 454.7h.9M45.4 441.2h.9M38.8 450.6h.9M56.6 442.1h.9M47.8 439.0h.9M58.2 447.5h.9M54.2 441.4h.9M49.6 453.1h.9M49.7 437.7h.9M42.6 444.6h.9M51.5 448.3h.9M54.2 445.8h.9M39.7 452.2h.9M50.6 437.7h.9M47.2 439.7h.9M63.5 445.2h.9M48.2 451.9h.9M77.4 441.6h.9M82.0 441.7h.9M77.5 440.1h.9M78.7 437.2h.9M83.2 443.4h.9M92.1 429.2h.9M90.0 440.6h.9M80.8 446.0h.9M92.3 436.4h.9M83.2 440.5h.9M87.0 443.8h.9M88.5 447.9h.9M83.9 434.1h.9M83.4 438.8h.9M80.8 439.9h.9M87.9 438.5h.9M84.9 445.6h.9M80.3 449.8h.9M92.3 433.7h.9M82.8 443.5h.9M85.2 427.1h.9M86.5 432.5h.9M87.2 430.4h.9M89.8 432.5h.9M80.2 434.8h.9M87.5 432.0h.9M88.8 431.7h.9M88.1 444.6h.9M85.0 440.5h.9M89.2 428.7h.9M82.6 444.2h.9M80.4 439.0h.9M77.2 443.4h.9M78.8 449.9h.9M88.3 437.0h.9M78.4 452.3h.9M89.8 438.0h.9M82.5 433.5h.9M82.6 434.4h.9M91.8 446.9h.9M92.0 434.7h.9M82.4 446.0h.9M80.5 431.6h.9M83.2 426.9h.9M78.6 442.8h.9M88.6 437.1h.9M75.5 447.8h.9M84.5 437.3h.9M90.4 440.3h.9M76.2 444.1h.9M87.1 428.0h.9M90.0 434.4h.9M79.8 442.3h.9M94.3 427.1h.9M81.8 446.1h.9M88.4 440.7h.9M79.7 440.8h.9M74.3 446.1h.9M87.0 428.6h.9M81.1 447.2h.9M89.7 431.8h.9M87.2 444.5h.9M84.2 438.1h.9M85.8 443.9h.9M83.3 440.5h.9M84.2 440.0h.9M83.1 440.3h.9M91.9 434.1h.9M80.7 430.8h.9M86.5 436.7h.9M81.6 443.6h.9M83.4 442.7h.9M84.7 443.7h.9M83.7 435.3h.9M86.9 431.5h.9M85.9 431.1h.9M87.3 425.9h.9M75.1 445.2h.9M77.7 439.0h.9M82.3 446.3h.9M81.7 439.8h.9M82.5 440.0h.9M82.0 445.1h.9M85.4 435.0h.9M84.9 430.3h.9M81.8 442.9h.9M81.0 441.5h.9M90.0 435.8h.9M86.6 442.1h.9M83.5 431.6h.9M85.0 438.5h.9M92.1 427.0h.9M83.8 448.2h.9M82.4 432.4h.9M87.5 447.2h.9M84.3 436.3h.9M81.4 444.0h.9M81.3 441.5h.9M88.5 424.4h.9M86.0 435.3h.9M86.7 442.7h.9M90.2 431.2h.9M92.0 428.3h.9M86.2 441.7h.9M81.8 450.9h.9M90.6 434.3h.9M79.4 439.1h.9M83.5 441.6h.9M84.4 429.7h.9M78.9 449.3h.9M79.4 439.9h.9M86.3 437.3h.9M73.0 438.4h.9M77.7 434.6h.9M81.5 431.0h.9M93.7 426.2h.9M81.8 431.7h.9M80.8 437.4h.9M82.7 439.3h.9M83.7 438.9h.9M92.5 434.5h.9M85.0 438.2h.9M95.6 420.4h.9M79.8 440.0h.9M79.5 446.9h.9M70.8 451.9h.9M86.4 436.9h.9M84.4 430.7h.9M81.5 437.9h.9M79.6 439.9h.9M80.3 441.9h.9M80.6 438.2h.9M77.5 445.0h.9M82.8 440.5h.9M88.7 442.8h.9M81.9 436.4h.9M80.1 442.6h.9M84.0 453.7h.9M83.3 438.9h.9M85.1 445.6h.9M79.0 429.4h.9M84.6 433.5h.9M82.4 442.4h.9M77.1 442.8h.9M81.6 443.6h.9M91.4 438.5h.9M79.2 432.7h.9M85.1 435.7h.9M86.4 431.6h.9M80.8 449.4h.9M89.4 433.7h.9M82.5 442.0h.9M80.9 436.7h.9M75.7 448.7h.9M86.0 441.7h.9M75.1 440.3h.9M77.0 443.5h.9M83.8 449.1h.9M86.9 432.9h.9M83.6 442.0h.9M75.9 429.1h.9M87.2 437.6h.9M87.7 441.6h.9M83.9 443.2h.9M81.1 448.8h.9M86.1 431.9h.9M78.7 437.7h.9M83.3 429.8h.9M85.7 437.0h.9M77.5 450.5h.9M86.8 435.9h.9M87.3 431.6h.9M82.5 442.7h.9M87.0 444.1h.9M83.1 441.5h.9M85.9 436.7h.9M79.2 432.6h.9M83.2 443.8h.9M85.0 438.0h.9M83.1 435.8h.9M72.9 450.7h.9M82.3 439.4h.9M88.3 433.3h.9M82.6 432.6h.9M81.4 443.8h.9M83.4 434.1h.9M80.3 439.0h.9M81.7 444.5h.9M86.2 444.1h.9M84.7 435.0h.9M85.2 438.1h.9M82.3 445.2h.9M79.8 441.9h.9M88.9 429.1h.9M86.9 439.8h.9M79.6 442.1h.9M90.2 433.6h.9M87.5 429.6h.9M82.1 439.8h.9M84.4 438.9h.9M85.9 446.7h.9M83.9 441.3h.9M85.7 435.0h.9M81.6 436.5h.9M87.7 435.8h.9M75.3 440.2h.9M80.6 443.4h.9M88.1 432.0h.9M82.0 434.0h.9M70.1 449.1h.9M83.4 435.4h.9M79.1 437.5h.9M81.1 450.8h.9M77.3 448.5h.9M89.5 430.2h.9M89.5 437.2h.9M84.2 443.1h.9M84.2 436.2h.9M88.4 435.7h.9M76.8 445.8h.9M78.1 449.7h.9M79.4 436.5h.9M86.9 433.0h.9M88.4 440.9h.9M76.1 440.1h.9M78.6 437.7h.9M82.0 438.9h.9M84.1 434.0h.9M82.4 447.8h.9M94.8 423.0h.9M87.0 439.3h.9M82.8 431.5h.9M75.1 439.1h.9M82.8 439.8h.9M84.3 431.5h.9M83.2 445.2h.9M84.0 438.0h.9M79.9 452.6h.9M85.0 439.2h.9M81.2 442.1h.9M82.3 440.4h.9M87.7 435.8h.9M80.9 455.4h.9M78.8 443.9h.9M75.7 442.0h.9M73.5 445.7h.9M92.5 429.2h.9M88.3 425.3h.9M84.9 452.9h.9M88.2 432.1h.9M83.8 440.9h.9M80.6 455.4h.9M83.7 448.4h.9M84.5 438.1h.9M86.8 441.0h.9M86.1 431.2h.9M82.2 432.9h.9M84.2 429.0h.9M86.8 431.4h.9M83.9 439.9h.9M88.9 430.6h.9M89.8 432.1h.9M80.9 440.4h.9M73.6 453.1h.9M84.3 441.0h.9M94.4 427.4h.9M90.7 434.4h.9M87.9 423.7h.9M87.3 440.2h.9M79.1 435.7h.9M90.5 435.0h.9M87.8 432.6h.9M76.8 451.9h.9M85.9 434.7h.9M93.6 428.9h.9M81.3 444.6h.9M76.5 440.8h.9M86.0 453.3h.9M78.7 441.5h.9M83.6 435.2h.9M88.6 443.0h.9M83.7 439.2h.9M84.5 428.5h.9M82.0 440.3h.9M78.4 449.8h.9M87.6 437.1h.9M76.8 452.0h.9M86.8 446.8h.9M82.6 432.1h.9M81.2 441.4h.9M82.8 443.9h.9M77.0 436.9h.9M85.4 444.3h.9M85.1 436.7h.9M86.1 431.6h.9M79.6 447.1h.9M78.9 449.1h.9M84.4 435.2h.9M91.2 433.4h.9M86.9 429.1h.9M86.9 432.6h.9M83.7 432.7h.9M79.5 442.9h.9M81.0 447.5h.9M80.1 439.3h.9M82.5 439.8h.9M85.9 437.5h.9M84.6 433.6h.9M80.8 441.3h.9M73.3 448.0h.9M89.8 435.0h.9M85.6 444.2h.9M83.2 431.9h.9M87.6 434.5h.9M85.8 436.4h.9M92.8 432.6h.9M90.6 436.9h.9M77.9 453.1h.9M84.4 429.0h.9M87.3 422.4h.9M73.7 454.6h.9M82.6 435.9h.9M84.5 444.4h.9M75.4 439.0h.9M84.3 452.3h.9M77.4 438.3h.9M85.0 446.8h.9M80.7 440.4h.9M86.6 436.6h.9M83.8 440.4h.9M82.7 435.9h.9M76.7 448.6h.9M81.5 446.2h.9M81.7 446.6h.9M81.4 440.2h.9M78.9 439.4h.9M90.3 427.9h.9M81.4 428.9h.9M88.0 434.5h.9M89.2 424.1h.9M95.3 441.9h.9M84.6 426.3h.9M87.9 439.7h.9M83.6 441.3h.9M81.2 442.8h.9M92.8 439.0h.9M81.7 443.6h.9M80.6 448.8h.9M86.2 436.8h.9M91.4 430.0h.9M83.0 441.4h.9M92.1 437.7h.9M83.3 438.6h.9M80.1 435.8h.9M84.2 435.4h.9M78.7 451.4h.9M80.1 443.1h.9M85.6 437.1h.9M81.6 449.2h.9M85.3 442.1h.9M87.0 436.9h.9M85.9 442.8h.9M84.9 435.2h.9M89.0 431.1h.9M86.8 428.9h.9M83.4 452.1h.9M88.4 433.1h.9M77.7 450.8h.9M82.4 448.2h.9M86.1 443.6h.9M82.6 439.2h.9M82.7 448.3h.9M84.8 440.6h.9M79.5 453.7h.9M90.6 430.6h.9M83.1 441.6h.9M90.7 434.7h.9M85.4 431.5h.9M88.0 443.5h.9M83.4 446.9h.9M89.4 427.0h.9M95.4 430.2h.9M82.9 443.3h.9M82.0 441.3h.9M83.5 441.6h.9M91.0 428.3h.9M74.9 444.3h.9M79.0 439.1h.9M87.8 443.9h.9M79.7 438.2h.9M84.0 438.4h.9M87.6 435.8h.9M80.7 448.6h.9M80.9 442.4h.9M86.8 445.3h.9M89.5 423.8h.9M78.0 440.1h.9M83.1 439.5h.9M92.8 449.1h.9M77.2 449.1h.9M88.3 442.4h.9M84.4 442.7h.9M86.4 433.0h.9M84.6 448.1h.9M80.0 440.8h.9M85.2 431.2h.9M85.7 440.1h.9M82.9 441.0h.9M83.5 444.7h.9M81.0 439.0h.9M90.2 432.1h.9M88.5 431.6h.9M81.2 444.5h.9M84.7 439.9h.9M87.2 433.0h.9M91.1 433.8h.9M79.2 433.6h.9M79.6 441.0h.9M86.1 431.5h.9M84.1 429.5h.9M78.9 436.0h.9M92.0 435.4h.9M81.9 435.7h.9M83.3 438.0h.9M88.4 440.2h.9M83.8 438.7h.9M83.5 430.2h.9M78.8 430.8h.9M81.6 436.9h.9M94.0 426.0h.9M80.6 451.5h.9M83.3 439.3h.9M86.8 446.4h.9M87.9 433.9h.9M79.5 443.3h.9M86.5 441.4h.9M83.0 451.8h.9M78.8 434.3h.9M81.0 440.9h.9M94.8 437.6h.9M78.9 443.0h.9M81.9 435.3h.9M82.7 450.7h.9M85.5 449.6h.9M83.1 438.6h.9M89.3 438.4h.9M88.0 436.7h.9M84.6 445.9h.9M81.1 434.3h.9M79.5 444.2h.9M89.9 424.2h.9M82.9 440.6h.9M75.6 446.1h.9M92.1 431.6h.9M92.1 422.7h.9M85.1 429.0h.9M82.7 439.9h.9M86.2 435.7h.9M80.5 441.5h.9M77.1 448.3h.9M83.9 437.9h.9M87.0 437.8h.9M84.3 446.5h.9M88.6 431.7h.9M84.2 437.3h.9M84.0 441.1h.9M83.4 438.2h.9M86.2 433.2h.9M85.2 434.3h.9M88.0 430.3h.9M86.2 449.3h.9M86.6 436.1h.9M86.6 437.6h.9M86.8 441.4h.9M90.3 425.3h.9M80.3 439.6h.9M80.6 435.7h.9M81.9 450.3h.9M92.1 417.5h.9M81.9 443.0h.9M74.6 445.0h.9M78.3 449.6h.9M83.0 440.1h.9M78.0 442.2h.9M86.9 434.8h.9M87.3 436.9h.9M87.2 445.3h.9M84.4 437.8h.9M89.4 442.6h.9M88.7 432.9h.9M85.9 440.9h.9M84.5 431.3h.9M87.2 440.8h.9M83.4 445.0h.9M84.4 450.6h.9M83.2 436.7h.9M77.1 435.9h.9M89.9 428.6h.9M83.7 439.1h.9M83.0 439.7h.9M80.0 437.1h.9M90.9 441.6h.9M83.0 436.1h.9M93.2 431.8h.9M91.8 438.0h.9M83.0 444.8h.9M82.1 435.3h.9M86.8 439.2h.9M77.1 439.5h.9M78.4 440.4h.9M88.7 428.4h.9M86.1 441.2h.9M87.2 441.3h.9M87.9 424.6h.9M87.4 430.8h.9M89.5 422.7h.9M77.5 435.8h.9M78.0 452.8h.9M91.5 433.5h.9M87.5 438.4h.9M76.1 439.5h.9M84.8 429.8h.9M80.7 436.5h.9M83.9 435.3h.9M81.6 442.8h.9M83.4 433.8h.9M83.0 441.1h.9M81.1 449.4h.9M72.0 442.2h.9M81.4 446.6h.9M80.2 438.4h.9M83.5 451.5h.9M86.9 442.6h.9M81.2 436.6h.9M78.4 433.0h.9M80.7 434.5h.9M81.1 441.6h.9M84.6 442.5h.9M84.2 441.3h.9M89.8 439.9h.9M85.4 431.5h.9M81.5 444.3h.9M90.5 439.8h.9M87.3 438.6h.9M90.5 432.0h.9M83.2 443.9h.9M78.6 434.4h.9M80.2 438.1h.9M84.8 440.1h.9M85.0 441.8h.9M86.6 438.2h.9M90.1 431.6h.9M88.2 435.6h.9M82.2 439.9h.9M81.3 446.4h.9M81.4 440.3h.9M84.7 427.7h.9M89.6 440.4h.9M85.9 440.5h.9M76.5 442.8h.9M83.6 446.1h.9M89.6 440.2h.9M86.4 434.7h.9M85.0 433.3h.9M82.9 434.0h.9M86.8 433.7h.9M84.4 432.6h.9M81.8 431.2h.9M81.9 441.0h.9M84.5 445.9h.9M84.6 435.7h.9M83.2 437.8h.9M78.1 440.6h.9M84.5 437.2h.9M76.6 446.0h.9M92.5 434.0h.9M90.5 439.5h.9M91.8 428.4h.9M80.8 445.9h.9M80.1 446.0h.9M81.0 446.5h.9M93.4 436.0h.9M87.4 432.7h.9M80.7 429.0h.9M82.3 445.3h.9M85.1 441.5h.9M85.9 433.2h.9M84.8 436.8h.9M73.2 442.3h.9M86.9 428.2h.9M84.4 442.1h.9M91.5 437.9h.9M77.4 444.5h.9M78.8 445.7h.9M90.8 428.5h.9M84.2 428.3h.9M85.6 445.7h.9M89.9 430.7h.9M96.8 414.4h.9M84.3 438.2h.9M85.8 443.8h.9M80.7 436.4h.9M81.3 433.8h.9M83.1 433.6h.9M77.7 451.9h.9M76.2 445.5h.9M89.8 434.0h.9M76.0 451.2h.9M81.9 425.2h.9M79.8 428.8h.9M87.5 430.8h.9M84.3 440.4h.9M86.6 438.0h.9M85.5 433.5h.9M87.2 441.2h.9M90.3 434.2h.9M84.3 438.1h.9M81.9 433.3h.9M81.1 429.4h.9M90.7 442.4h.9M76.8 441.1h.9M81.0 454.0h.9M82.7 446.0h.9M87.2 433.0h.9M85.5 437.1h.9M73.6 448.9h.9M86.3 431.6h.9M79.2 444.8h.9M85.5 433.3h.9M90.9 435.3h.9M86.2 440.3h.9M78.3 445.1h.9M83.6 445.4h.9M84.4 437.7h.9M73.9 431.1h.9M79.7 444.8h.9M91.7 443.0h.9M92.4 442.1h.9M83.5 449.0h.9M71.9 448.2h.9M80.5 436.0h.9M83.1 432.5h.9M81.1 434.1h.9M92.8 432.8h.9M85.8 443.7h.9M84.7 443.4h.9M84.2 445.4h.9M85.4 426.6h.9M85.5 444.0h.9M89.1 441.9h.9M86.3 432.0h.9M76.3 437.8h.9M89.4 440.1h.9M83.7 445.9h.9M77.4 438.2h.9M79.4 438.3h.9M86.7 437.8h.9M79.9 446.4h.9M94.1 435.2h.9M85.0 432.9h.9M78.5 440.5h.9M77.9 445.7h.9M88.1 439.8h.9M80.0 437.6h.9M85.9 434.0h.9M88.6 439.7h.9M78.1 441.2h.9M75.1 444.0h.9M78.2 448.4h.9M89.2 428.3h.9M80.6 439.6h.9M82.8 436.2h.9M90.6 429.0h.9M85.9 430.0h.9M81.6 443.2h.9M86.8 431.0h.9M83.8 433.9h.9M83.3 442.6h.9M82.7 443.5h.9M84.5 429.0h.9M76.1 441.4h.9M87.6 431.8h.9M87.5 436.3h.9M85.2 430.7h.9M83.2 440.7h.9M85.3 436.8h.9M83.5 437.1h.9M91.5 419.3h.9M83.8 434.0h.9M86.0 435.7h.9M84.4 434.6h.9M86.4 425.2h.9M81.4 437.5h.9M80.7 446.3h.9M88.7 440.7h.9M85.9 435.3h.9M87.2 431.5h.9M82.0 437.9h.9M88.1 434.7h.9M79.1 443.7h.9M82.1 439.8h.9M86.5 440.4h.9M78.3 446.5h.9M81.6 439.9h.9M75.2 448.6h.9M76.9 448.6h.9M83.5 435.9h.9M83.1 428.3h.9M81.1 444.4h.9M81.8 436.8h.9M86.9 439.1h.9M81.3 438.1h.9M84.6 435.6h.9M92.6 426.4h.9M88.2 442.4h.9M78.6 439.6h.9M80.4 446.0h.9M87.0 438.9h.9M80.9 449.4h.9M87.1 444.1h.9M86.4 433.7h.9M82.9 443.9h.9M91.0 425.4h.9M84.5 434.1h.9M84.8 437.4h.9M84.2 437.0h.9M89.2 433.9h.9M87.0 433.5h.9M84.8 441.9h.9M81.5 444.9h.9M81.8 447.6h.9M79.3 436.8h.9M77.1 446.8h.9M86.3 437.6h.9M87.2 439.3h.9M85.1 437.2h.9M87.2 440.9h.9M90.5 435.6h.9M87.1 432.9h.9M87.0 439.3h.9M78.0 442.5h.9M86.7 440.1h.9M80.7 439.8h.9M91.9 435.2h.9M78.5 436.0h.9M84.8 425.7h.9M83.2 442.1h.9M85.2 442.6h.9M85.5 440.5h.9M89.7 439.0h.9M76.8 448.1h.9M86.2 439.5h.9M86.0 435.5h.9M86.9 425.8h.9M76.7 439.4h.9M84.8 433.3h.9M80.1 442.1h.9M88.5 440.8h.9M82.6 433.6h.9M80.8 442.9h.9M81.8 444.0h.9M78.5 439.1h.9M88.0 444.3h.9M81.8 440.6h.9M85.9 442.6h.9M92.2 430.3h.9M83.9 441.1h.9M85.2 439.4h.9M82.3 441.2h.9M81.7 433.4h.9M81.9 440.9h.9M85.9 434.2h.9M85.8 442.2h.9M82.7 442.2h.9M80.4 447.4h.9M86.5 432.1h.9M83.4 443.1h.9M84.5 444.2h.9M78.5 449.1h.9M84.0 433.7h.9M88.2 435.5h.9M90.4 435.0h.9M83.8 440.5h.9M88.0 426.5h.9M83.8 441.2h.9M85.3 435.8h.9M81.8 432.7h.9M72.6 447.6h.9M78.8 446.5h.9M78.6 448.7h.9M84.2 433.4h.9M81.0 438.4h.9M85.5 428.4h.9M84.3 450.1h.9M78.8 444.0h.9M75.7 436.9h.9M83.8 455.2h.9M82.6 447.8h.9M79.8 449.6h.9M90.1 423.1h.9M86.9 441.8h.9M81.9 443.4h.9M90.2 431.5h.9M86.4 434.9h.9M79.3 446.4h.9M85.5 435.2h.9M84.6 438.5h.9M81.3 445.0h.9M85.2 436.6h.9M86.4 432.2h.9M86.3 445.7h.9M78.3 435.7h.9M92.9 430.5h.9M76.9 450.5h.9M82.6 445.1h.9M75.7 448.1h.9M81.2 449.2h.9M82.5 434.3h.9M79.7 440.3h.9M80.5 438.4h.9M85.9 447.1h.9M80.2 441.7h.9M78.2 443.1h.9M77.8 442.3h.9M91.1 432.2h.9M82.5 449.7h.9M84.1 451.4h.9M83.7 445.3h.9M75.7 451.3h.9M80.9 446.6h.9M85.7 441.1h.9M78.2 442.5h.9M87.3 434.0h.9M87.5 444.9h.9M84.1 435.9h.9M89.3 439.5h.9M88.8 426.7h.9M85.0 435.7h.9M82.5 450.4h.9M92.1 431.7h.9M80.2 450.2h.9M83.6 438.6h.9M88.2 430.5h.9M83.1 438.4h.9M84.2 441.1h.9M85.1 437.6h.9M85.9 451.6h.9M85.4 443.0h.9M91.0 437.3h.9M83.9 446.6h.9M89.0 428.7h.9M74.9 446.5h.9M78.0 443.3h.9M84.6 437.2h.9M80.6 449.5h.9M82.1 450.0h.9M82.4 434.8h.9M87.6 442.1h.9M87.6 430.0h.9M84.0 436.1h.9M85.8 440.3h.9M84.5 424.6h.9M91.7 432.6h.9M83.2 429.0h.9M80.9 441.2h.9M85.8 435.4h.9M84.9 433.7h.9M85.2 434.7h.9M87.5 432.9h.9M81.7 440.7h.9M82.4 435.0h.9M86.2 438.7h.9M83.5 437.6h.9M92.6 422.2h.9M85.4 438.4h.9M94.5 432.1h.9M88.2 440.2h.9M82.4 439.4h.9M87.8 430.6h.9M83.2 443.2h.9M78.1 442.1h.9M82.3 443.3h.9M85.1 440.5h.9M89.5 441.7h.9M76.6 442.1h.9M78.4 436.8h.9M90.0 423.7h.9M71.7 450.4h.9M88.7 422.3h.9M82.0 434.0h.9M91.8 428.9h.9M83.9 437.8h.9M79.6 444.8h.9M89.8 423.9h.9M85.8 433.0h.9M81.5 440.7h.9M76.4 434.3h.9M88.1 430.8h.9M73.4 443.6h.9M91.6 429.1h.9M84.2 431.6h.9M86.8 429.7h.9M85.3 440.1h.9M86.9 439.4h.9M92.3 433.8h.9M84.0 443.9h.9M82.2 441.2h.9M87.2 429.0h.9M80.3 444.1h.9M71.4 446.0h.9M77.1 441.0h.9M77.8 441.2h.9M80.6 438.8h.9M83.9 439.2h.9M85.5 438.6h.9M78.7 446.6h.9M82.7 437.6h.9M88.2 434.2h.9M82.3 438.7h.9M84.4 437.8h.9M81.5 439.7h.9M90.3 430.3h.9M81.5 436.8h.9M81.9 444.1h.9M86.8 436.1h.9M79.5 439.4h.9M84.8 430.8h.9M88.5 435.4h.9M81.9 439.2h.9M68.1 452.2h.9M82.1 453.6h.9M83.1 439.2h.9M86.5 440.8h.9M86.2 436.2h.9M76.9 445.7h.9M85.2 440.4h.9M74.7 452.6h.9M89.0 424.8h.9M92.7 424.1h.9M89.9 436.6h.9M83.7 438.8h.9M87.3 429.1h.9M84.5 441.2h.9M78.8 442.2h.9M88.9 433.2h.9M89.1 427.7h.9M72.5 440.2h.9M79.9 446.7h.9M83.4 441.1h.9M83.2 443.2h.9M89.4 432.3h.9M92.0 425.4h.9M77.7 453.6h.9M85.5 452.2h.9M79.6 442.1h.9M77.8 444.1h.9M85.2 434.5h.9M81.6 446.6h.9M79.9 434.8h.9M83.7 441.0h.9M81.5 437.2h.9M78.6 443.9h.9M79.9 450.0h.9M84.1 432.8h.9M80.8 447.1h.9M85.5 437.5h.9M79.6 433.9h.9M81.0 446.8h.9M77.5 440.3h.9M77.9 454.1h.9M92.5 430.5h.9M82.7 436.7h.9M83.3 434.5h.9M80.8 433.8h.9M81.9 435.7h.9M81.6 439.3h.9M83.9 439.0h.9M87.5 429.6h.9M79.1 446.9h.9M83.6 439.1h.9M85.2 439.9h.9M82.8 435.9h.9M84.1 430.5h.9M85.3 435.5h.9M79.7 438.3h.9M86.2 438.7h.9M76.0 450.3h.9M85.9 435.6h.9M82.0 450.4h.9M83.3 429.3h.9M80.8 442.7h.9M75.9 445.6h.9M79.0 450.7h.9M82.6 442.4h.9M87.9 437.4h.9M81.1 435.1h.9M83.0 427.7h.9M82.3 441.3h.9M82.2 449.3h.9M86.1 428.3h.9M88.0 441.9h.9M88.8 429.4h.9M78.0 441.9h.9M77.6 446.0h.9M76.2 446.2h.9M84.6 426.5h.9M85.1 433.8h.9M79.6 441.3h.9M90.2 431.9h.9M82.0 449.4h.9M88.3 439.9h.9M82.5 438.0h.9M87.6 433.6h.9M78.3 437.8h.9M84.5 439.9h.9M85.2 425.5h.9M81.3 440.8h.9M88.5 436.8h.9M82.6 428.8h.9M79.9 442.2h.9M80.1 431.9h.9M81.7 437.0h.9M85.9 431.6h.9M82.6 448.2h.9M85.1 443.6h.9M84.8 443.3h.9M89.6 427.9h.9M82.7 442.5h.9M79.2 444.1h.9M87.5 431.5h.9M89.9 434.8h.9M88.6 432.2h.9M78.2 440.2h.9M83.1 435.0h.9M81.8 440.1h.9M89.9 439.2h.9M85.5 437.1h.9M88.5 442.9h.9M83.0 434.1h.9M88.7 442.3h.9M93.0 436.1h.9M87.0 438.8h.9M83.2 440.6h.9M87.1 439.4h.9M87.2 435.7h.9M80.4 442.3h.9M86.2 441.1h.9M91.9 436.8h.9M76.1 444.6h.9M87.3 435.7h.9M89.2 440.9h.9M97.1 432.3h.9M79.2 443.3h.9M82.9 452.2h.9M82.1 439.1h.9M82.5 446.4h.9M82.8 438.3h.9M75.0 444.5h.9M79.0 442.0h.9M83.5 442.5h.9M80.6 443.9h.9M89.0 434.2h.9M82.9 441.1h.9M79.7 440.4h.9M83.4 449.8h.9M92.8 418.8h.9M83.8 446.1h.9M83.2 440.4h.9M84.8 433.1h.9M82.0 449.6h.9M87.6 433.5h.9M76.5 441.8h.9M81.7 449.5h.9M84.7 435.6h.9M78.5 445.8h.9M92.5 437.0h.9M83.4 437.1h.9M88.5 435.9h.9M85.0 444.8h.9M81.4 446.7h.9M83.4 433.4h.9M88.8 441.6h.9M82.5 436.9h.9M77.8 444.1h.9M78.5 444.6h.9M86.7 440.6h.9M89.8 443.5h.9M82.3 446.7h.9M85.4 430.8h.9M87.5 435.3h.9M83.1 431.5h.9M80.4 454.1h.9M84.1 439.7h.9M82.4 445.9h.9M85.6 436.6h.9M87.8 438.1h.9M83.9 433.7h.9M82.5 437.4h.9M81.7 443.6h.9M82.4 438.8h.9M82.3 439.5h.9M88.9 438.9h.9M75.6 443.4h.9M83.7 443.8h.9M79.9 428.9h.9M85.5 439.2h.9M79.5 446.4h.9M82.0 434.6h.9M87.4 434.3h.9M82.1 437.1h.9M82.4 437.0h.9M91.4 432.8h.9M83.9 434.3h.9M81.3 442.1h.9M84.7 451.3h.9M97.3 433.2h.9M73.4 455.4h.9M83.4 442.1h.9M84.6 436.9h.9M88.0 443.2h.9M81.6 439.9h.9M81.8 444.3h.9M84.5 443.3h.9M82.3 442.1h.9M87.1 432.8h.9M88.9 430.5h.9M86.4 435.2h.9M87.1 446.7h.9M83.9 437.3h.9M89.8 435.6h.9M84.0 452.1h.9M87.3 438.8h.9M86.8 439.8h.9M81.0 431.5h.9M88.0 441.2h.9M77.8 448.7h.9M83.2 446.3h.9M89.1 432.5h.9M88.5 430.0h.9M90.0 436.4h.9M95.1 434.8h.9M76.9 445.1h.9M78.3 435.8h.9M83.6 443.0h.9M84.1 438.3h.9M80.0 441.5h.9M83.5 437.2h.9M76.1 441.0h.9M84.8 437.9h.9M79.7 449.0h.9M72.4 441.5h.9M83.8 436.1h.9M82.9 445.7h.9M75.4 445.8h.9M76.8 448.4h.9M79.1 439.2h.9M91.1 437.2h.9M92.5 424.8h.9M82.8 427.0h.9M87.8 428.2h.9M86.1 437.2h.9M72.5 438.4h.9M85.1 445.8h.9M87.8 437.0h.9M82.3 438.8h.9M81.7 444.7h.9M86.1 450.2h.9M91.2 421.4h.9M77.4 437.9h.9M73.6 449.8h.9M83.3 436.1h.9M87.2 434.9h.9M78.8 447.3h.9M81.6 453.2h.9M84.3 450.5h.9M78.5 435.4h.9M81.7 436.9h.9M83.0 443.5h.9M82.0 447.7h.9M81.8 449.6h.9M82.9 430.2h.9M82.3 443.9h.9M85.2 423.0h.9M87.7 438.3h.9M83.1 445.8h.9M87.9 434.1h.9M87.9 437.8h.9M91.3 430.3h.9M85.5 439.3h.9M80.5 442.8h.9M84.6 440.2h.9M87.8 433.6h.9M88.3 432.2h.9M79.9 437.6h.9M87.4 433.8h.9M84.2 429.3h.9M84.3 433.4h.9M93.4 432.7h.9M79.6 445.5h.9M84.6 439.2h.9M84.6 449.1h.9M89.2 437.7h.9M84.0 444.6h.9M78.8 444.0h.9M86.3 435.9h.9M83.4 441.3h.9M84.5 438.2h.9M78.7 434.4h.9M90.0 425.5h.9M86.2 439.0h.9M84.9 442.0h.9M89.0 425.7h.9M86.8 429.6h.9M83.2 433.5h.9M80.7 441.0h.9M85.3 440.3h.9M82.3 433.1h.9M79.5 451.2h.9M83.9 432.9h.9M82.1 436.6h.9M88.3 434.9h.9M83.7 434.3h.9M88.9 441.0h.9M83.8 448.0h.9M82.6 440.8h.9M84.0 436.4h.9M82.0 431.3h.9M79.6 442.5h.9M85.6 431.5h.9M87.0 435.1h.9M85.6 431.7h.9M87.8 437.1h.9M88.2 431.8h.9M92.1 416.8h.9M78.7 454.0h.9M72.1 447.0h.9M84.9 447.0h.9M84.3 435.4h.9M89.4 437.7h.9M81.8 432.3h.9M85.0 438.2h.9M82.9 438.9h.9M88.9 444.6h.9M88.6 432.7h.9M78.8 445.2h.9M83.5 443.6h.9M87.8 428.8h.9M84.1 435.9h.9M92.9 434.4h.9M75.7 450.4h.9M84.7 434.7h.9M88.7 435.8h.9M84.6 436.7h.9M86.9 437.7h.9M88.1 431.9h.9M82.2 438.6h.9M79.6 441.8h.9M90.6 424.3h.9M90.9 438.8h.9M84.6 444.3h.9M82.5 442.1h.9M88.2 433.7h.9M89.8 433.1h.9M89.7 436.4h.9M85.5 438.4h.9M87.0 437.5h.9M83.5 436.3h.9M80.8 447.4h.9M89.7 418.0h.9M84.8 435.2h.9M84.4 439.4h.9M83.1 436.5h.9M86.2 432.6h.9M83.7 429.8h.9M79.5 435.5h.9M82.7 448.3h.9M80.5 440.3h.9M80.7 436.6h.9M77.4 449.4h.9M84.3 433.8h.9M84.0 429.8h.9M81.6 449.7h.9M85.6 429.0h.9M86.4 427.2h.9M78.4 447.7h.9M80.8 436.6h.9M89.8 429.0h.9M87.4 429.1h.9M84.7 440.3h.9M91.1 421.9h.9M81.1 438.0h.9M79.6 441.4h.9M83.1 442.2h.9M81.5 443.2h.9M83.5 434.9h.9M89.7 431.7h.9M76.3 440.0h.9M85.1 444.1h.9M90.5 442.4h.9M79.8 432.1h.9M77.9 433.3h.9M79.5 448.9h.9M89.0 442.5h.9M85.7 446.0h.9M84.0 433.6h.9M79.3 433.9h.9M85.7 432.4h.9M85.7 434.2h.9M94.8 431.4h.9M89.1 435.8h.9M81.5 440.3h.9M78.9 431.4h.9M90.6 429.5h.9M87.5 418.6h.9M87.1 426.9h.9M84.7 433.0h.9M80.6 447.4h.9M81.0 430.4h.9M76.0 447.5h.9M85.7 430.9h.9M77.3 437.5h.9M82.3 430.3h.9M85.7 439.8h.9M82.9 441.3h.9M85.0 428.8h.9M85.5 430.7h.9M85.0 443.0h.9M82.8 440.1h.9M83.3 435.9h.9M91.7 429.1h.9M80.9 446.3h.9M81.3 436.2h.9M84.7 436.6h.9M85.3 441.7h.9M85.0 436.4h.9M78.1 440.8h.9M85.3 433.4h.9M77.0 450.0h.9M78.5 443.4h.9M83.7 429.7h.9M92.6 433.3h.9M78.9 449.1h.9M78.6 434.1h.9M86.4 434.5h.9M85.0 441.3h.9M81.6 441.1h.9M88.8 425.8h.9M79.5 450.5h.9M85.7 441.3h.9M81.7 431.4h.9M85.3 441.1h.9M88.9 437.8h.9M83.2 425.7h.9M82.5 443.7h.9M82.2 440.6h.9M82.0 444.1h.9M84.0 430.9h.9M80.9 437.5h.9M88.9 428.9h.9M82.5 442.2h.9M80.5 439.1h.9M79.8 438.1h.9M79.7 437.5h.9M84.3 425.2h.9M86.5 439.7h.9M78.2 443.8h.9M74.5 440.1h.9M86.5 435.8h.9M80.5 446.4h.9M85.5 439.7h.9M80.9 447.4h.9M79.1 441.8h.9M74.5 446.5h.9M87.7 435.4h.9M87.0 436.4h.9M88.2 431.8h.9M85.1 441.7h.9M82.8 441.6h.9M81.7 439.4h.9M87.8 434.5h.9M76.2 449.7h.9M81.5 438.6h.9M85.1 427.9h.9M84.1 447.7h.9M87.3 422.2h.9M73.7 452.4h.9M85.3 439.9h.9M82.7 438.5h.9M80.0 445.4h.9M80.9 447.1h.9M77.6 448.8h.9M85.9 436.2h.9M82.9 432.3h.9M82.4 445.2h.9M83.8 433.4h.9M89.6 442.3h.9M86.5 439.5h.9M81.9 433.9h.9M80.7 432.1h.9M83.2 433.0h.9M85.9 426.4h.9M82.8 441.2h.9M79.9 447.7h.9M88.0 439.2h.9M83.7 441.9h.9M88.4 436.9h.9M89.5 442.2h.9M90.6 435.2h.9M86.6 430.5h.9M85.2 435.8h.9M79.3 443.2h.9M81.4 440.0h.9M85.1 427.2h.9M88.4 446.3h.9M88.3 433.2h.9M85.1 439.9h.9M80.2 446.6h.9M86.5 446.1h.9M83.6 432.7h.9M88.2 431.0h.9M84.9 431.8h.9M81.9 447.1h.9M81.3 445.8h.9M82.7 439.4h.9M86.6 436.3h.9M87.6 435.9h.9M79.0 439.6h.9M81.6 450.4h.9M76.4 440.0h.9M86.4 445.9h.9M88.9 425.6h.9M91.6 428.6h.9M90.6 432.5h.9M88.7 427.6h.9M79.3 448.5h.9M84.6 439.0h.9M85.6 433.5h.9M91.9 429.5h.9M81.2 436.3h.9M84.8 424.5h.9M88.7 426.8h.9M86.2 447.1h.9M83.9 450.6h.9M89.8 434.5h.9M83.9 444.4h.9M86.8 434.8h.9M73.7 438.8h.9M80.6 444.1h.9M82.4 429.6h.9M79.6 436.1h.9M86.0 439.1h.9M85.0 449.1h.9M82.2 447.5h.9M81.0 439.6h.9M90.6 436.5h.9M81.2 452.1h.9M82.5 438.5h.9M77.1 446.2h.9M84.4 440.0h.9M90.8 436.6h.9M81.4 447.3h.9M76.2 439.9h.9M91.1 430.8h.9M87.4 444.4h.9M82.1 438.8h.9M79.9 444.0h.9M87.2 443.0h.9M83.5 435.3h.9M83.7 439.8h.9M77.1 448.2h.9M75.5 439.3h.9M91.0 437.5h.9M91.2 439.7h.9M84.8 443.3h.9M79.5 440.2h.9M80.7 447.0h.9M86.2 438.4h.9M79.2 455.5h.9M86.6 439.8h.9M84.0 440.6h.9M87.3 428.3h.9M76.1 449.4h.9M86.2 444.9h.9M79.5 452.2h.9M88.8 440.6h.9M81.8 444.5h.9M80.5 441.6h.9M84.2 442.4h.9M83.6 442.9h.9M84.0 441.0h.9M84.8 438.5h.9M86.1 437.3h.9M84.3 438.4h.9M84.3 440.8h.9M77.1 446.6h.9M80.0 435.9h.9M84.8 439.1h.9M85.2 443.4h.9M93.8 430.7h.9M82.5 445.1h.9M90.1 428.2h.9M84.5 445.7h.9M77.8 441.4h.9M76.2 440.9h.9M84.3 438.8h.9M85.7 435.0h.9M79.9 442.6h.9M76.0 440.5h.9M79.9 448.4h.9M78.6 454.4h.9M90.6 440.5h.9M88.5 435.8h.9M84.3 442.8h.9M79.2 446.6h.9M81.1 441.2h.9M87.7 439.0h.9M81.8 437.9h.9M76.8 447.8h.9M82.5 445.8h.9M85.9 432.5h.9M87.6 435.5h.9M87.3 433.8h.9M77.7 442.7h.9M84.3 436.5h.9M94.2 426.2h.9M87.3 440.6h.9M83.9 427.9h.9M80.6 440.1h.9M76.3 441.8h.9M82.8 440.1h.9M83.0 436.0h.9M83.8 444.0h.9M83.6 431.4h.9M76.7 449.4h.9M78.0 446.7h.9M78.0 450.7h.9M85.4 442.9h.9M80.8 445.0h.9M89.6 437.9h.9M89.4 430.9h.9M81.8 433.9h.9M87.2 444.0h.9M76.7 451.0h.9M82.6 434.0h.9M83.5 437.1h.9M85.3 436.6h.9M86.1 439.3h.9M85.8 434.6h.9M79.9 442.0h.9M83.1 439.0h.9M87.6 427.0h.9M91.1 420.4h.9M80.9 445.8h.9M85.0 428.2h.9M80.0 438.9h.9M83.8 437.7h.9M77.5 436.8h.9M82.7 438.8h.9M83.2 444.6h.9M87.6 431.4h.9M84.4 442.8h.9M80.6 446.3h.9M79.9 437.1h.9M88.3 436.1h.9M84.5 438.2h.9M87.7 434.0h.9M94.2 432.4h.9M86.2 434.6h.9M91.7 430.5h.9M79.0 439.6h.9M82.2 431.7h.9M81.0 440.0h.9M91.5 427.2h.9M78.8 449.9h.9M86.3 444.4h.9M76.5 443.0h.9M80.8 439.0h.9M85.7 438.6h.9M86.1 441.0h.9M84.9 434.3h.9M85.1 433.5h.9M76.9 443.8h.9M88.1 441.7h.9M81.7 433.1h.9M87.0 431.7h.9M82.5 440.7h.9M84.9 425.9h.9M85.1 442.2h.9M87.9 436.5h.9M76.5 450.3h.9M82.7 447.4h.9M89.0 435.8h.9M91.5 424.6h.9"/>
<path stroke="#ff2515" stroke-opacity="0.55" stroke-width="0.9" d="M74.4 408.4h.9M65.6 414.8h.9M82.7 422.1h.9M69.8 407.9h.9M66.3 412.8h.9M70.7 409.5h.9M76.9 410.8h.9M81.9 410.9h.9M71.6 408.2h.9M79.8 413.1h.9M78.1 408.0h.9M72.6 415.9h.9M64.2 414.2h.9M75.4 405.5h.9M75.2 407.5h.9M70.0 409.3h.9M77.1 408.1h.9M70.7 413.5h.9M69.5 416.5h.9M69.1 410.4h.9M72.7 413.1h.9M73.6 421.0h.9M68.3 417.1h.9M84.8 414.7h.9M73.6 411.3h.9M73.5 415.9h.9M75.9 408.3h.9M77.2 412.2h.9M65.7 402.1h.9M76.0 411.5h.9M75.5 404.6h.9M78.4 409.7h.9M64.8 407.1h.9M77.8 421.1h.9M73.5 409.1h.9M79.8 418.9h.9M60.4 412.5h.9M75.3 411.2h.9M82.2 408.9h.9M77.0 410.7h.9M73.4 414.5h.9M76.9 407.6h.9M78.7 414.9h.9M81.1 404.6h.9M69.2 414.7h.9M71.9 400.9h.9M65.3 400.8h.9M71.7 413.9h.9M55.8 412.2h.9M76.8 408.4h.9M69.4 418.0h.9M60.8 413.8h.9M76.8 412.1h.9M76.1 419.9h.9M71.1 415.6h.9M73.6 412.8h.9M77.2 422.8h.9M69.4 418.5h.9M66.4 416.3h.9M78.6 408.5h.9M63.0 412.9h.9M68.5 418.6h.9M81.0 416.9h.9M75.9 407.0h.9M70.2 414.5h.9M67.7 417.8h.9M67.2 413.5h.9M71.4 414.0h.9M61.8 413.2h.9M68.9 404.8h.9M70.3 405.7h.9M75.7 399.6h.9M75.7 420.3h.9M71.0 411.1h.9M71.1 414.1h.9M73.2 407.0h.9M74.9 412.0h.9M68.0 413.4h.9M74.5 409.3h.9M78.8 406.4h.9M65.7 423.3h.9M61.9 399.1h.9M74.6 410.1h.9M72.0 402.7h.9M65.6 403.3h.9M69.2 407.8h.9M76.1 411.2h.9M76.1 411.5h.9M63.1 413.8h.9M62.7 415.1h.9M77.0 407.3h.9M79.5 415.6h.9M72.0 412.2h.9M71.1 418.9h.9M72.5 418.3h.9M77.1 408.6h.9M74.3 411.5h.9M81.3 409.2h.9M71.7 411.9h.9M65.3 409.5h.9M73.0 401.8h.9M77.2 405.8h.9M81.1 416.3h.9M72.5 413.1h.9M64.1 402.5h.9M79.6 414.3h.9M69.8 410.1h.9M78.7 416.4h.9M70.1 407.2h.9M75.7 412.0h.9M73.9 411.6h.9M70.8 421.3h.9M76.2 409.4h.9M76.3 414.8h.9M62.8 410.7h.9M74.6 416.6h.9M71.8 415.7h.9M66.1 418.0h.9M81.1 408.5h.9M72.0 424.7h.9M69.7 410.1h.9M77.9 400.3h.9M60.3 404.8h.9M84.9 402.6h.9M69.2 413.9h.9M64.0 406.8h.9M71.3 419.8h.9M69.2 418.6h.9M69.9 413.8h.9M76.3 405.8h.9M74.7 416.3h.9M80.6 412.9h.9M79.2 417.3h.9M70.8 416.0h.9M72.3 420.6h.9M66.2 419.1h.9M71.3 415.6h.9M75.4 402.4h.9M68.4 408.5h.9M80.9 407.7h.9M76.0 418.9h.9M75.0 403.0h.9M67.5 413.1h.9M72.0 407.8h.9M75.1 411.8h.9M74.4 420.1h.9M69.9 412.9h.9M65.1 409.4h.9M74.2 425.4h.9M72.6 414.5h.9M69.2 409.6h.9M71.9 412.2h.9M70.9 418.0h.9M72.2 407.9h.9M81.9 404.0h.9M77.2 414.5h.9M72.1 409.7h.9M69.1 404.3h.9M76.6 421.9h.9M65.8 406.9h.9M71.9 412.2h.9M76.5 408.1h.9M63.8 412.1h.9M69.7 411.7h.9M66.6 412.0h.9M78.4 411.8h.9M77.4 404.3h.9M77.4 408.8h.9M73.5 403.3h.9M76.6 410.3h.9M76.6 413.0h.9M67.5 417.8h.9M78.8 412.6h.9M70.6 415.2h.9M73.9 407.4h.9M66.1 416.1h.9M68.6 406.8h.9M72.9 412.1h.9M67.6 408.3h.9M72.6 395.4h.9M69.0 404.5h.9M75.9 410.2h.9M74.9 414.7h.9M67.5 417.6h.9M71.7 412.5h.9M63.8 410.1h.9M74.8 409.0h.9M77.7 406.6h.9M68.2 405.4h.9M66.3 397.6h.9M66.6 420.6h.9M74.7 409.3h.9M79.3 408.5h.9M68.5 407.2h.9M77.1 414.4h.9M70.8 410.1h.9M69.8 414.4h.9M75.6 415.4h.9M75.5 414.2h.9M69.1 405.9h.9M68.0 408.0h.9M82.5 413.8h.9M77.6 408.9h.9M76.9 412.1h.9M77.9 403.9h.9M79.7 413.9h.9M68.7 414.2h.9M67.7 416.5h.9M77.8 409.5h.9M70.2 412.5h.9M71.9 418.3h.9M68.9 409.2h.9M70.9 418.3h.9M79.1 419.6h.9M65.2 423.4h.9M58.5 412.7h.9M72.7 412.4h.9M84.2 418.5h.9M78.3 408.1h.9M83.9 406.5h.9M76.0 420.5h.9M76.3 414.2h.9M76.4 406.8h.9M76.4 412.2h.9M77.7 411.0h.9M77.5 406.7h.9M77.6 418.7h.9M67.3 407.9h.9M66.3 411.0h.9M62.3 411.0h.9M68.9 413.6h.9M72.0 423.8h.9M75.7 413.4h.9M75.0 417.5h.9M74.2 409.2h.9M77.9 415.9h.9M61.9 407.8h.9M74.0 420.6h.9M77.9 413.0h.9M74.0 416.3h.9M62.0 447.8h.9M48.3 444.0h.9M46.4 430.5h.9M62.6 449.5h.9M48.7 437.1h.9M88.3 429.7h.9M60.0 434.4h.9M71.3 424.9h.9M46.7 420.5h.9M61.5 428.2h.9M60.1 441.7h.9M49.8 431.6h.9M66.1 417.6h.9M60.7 444.2h.9M70.9 420.4h.9M52.4 438.0h.9M53.8 453.8h.9M66.7 439.6h.9M41.9 421.0h.9M52.9 450.1h.9M41.7 433.8h.9M68.0 428.7h.9M48.8 430.6h.9M44.2 408.1h.9M37.8 448.0h.9M38.2 446.2h.9M41.3 424.5h.9M69.8 428.0h.9M62.1 406.1h.9M37.3 449.0h.9M70.7 430.1h.9M59.6 437.6h.9M61.3 435.4h.9M62.4 438.9h.9M83.6 431.3h.9M64.4 441.5h.9M101.2 418.9h.9M68.2 440.2h.9M48.0 441.4h.9M62.7 425.7h.9M62.2 432.5h.9M81.9 439.4h.9M71.7 443.2h.9M59.4 444.5h.9M48.8 441.7h.9M78.4 454.1h.9M73.1 450.5h.9M52.7 417.2h.9M85.9 439.3h.9M64.1 409.1h.9M100.4 438.0h.9M66.0 431.2h.9M75.0 438.6h.9M70.5 441.3h.9M39.2 440.9h.9M57.7 405.0h.9M72.5 425.8h.9M47.0 438.7h.9M77.2 430.3h.9M79.9 450.3h.9M36.7 426.9h.9M61.5 439.0h.9M43.1 426.2h.9M60.2 442.6h.9M64.0 448.8h.9M72.9 442.0h.9M58.4 423.7h.9M93.5 425.6h.9M54.0 440.1h.9M47.7 441.1h.9M53.2 437.5h.9M90.2 437.7h.9M63.5 449.4h.9M68.7 443.9h.9M42.4 429.1h.9M78.0 432.1h.9M57.4 449.5h.9M66.1 436.5h.9M66.9 434.7h.9M46.1 447.6h.9M61.5 452.9h.9M66.1 432.5h.9M73.9 433.2h.9M64.6 414.3h.9M69.6 434.1h.9M41.2 452.0h.9M70.0 436.4h.9M59.3 432.4h.9M59.0 442.1h.9M59.1 440.4h.9M84.7 439.9h.9M72.1 448.7h.9M61.9 442.7h.9M66.8 431.2h.9M60.2 444.8h.9M55.8 427.9h.9M90.0 439.1h.9M48.0 444.7h.9M69.4 438.4h.9M42.0 435.1h.9M80.3 436.0h.9M88.4 441.0h.9M58.5 437.5h.9M84.2 418.2h.9M52.5 423.5h.9M65.0 444.0h.9M63.7 427.4h.9M67.7 417.1h.9M77.4 430.9h.9M86.4 430.4h.9M86.0 449.6h.9M67.2 411.7h.9M59.4 443.4h.9M50.5 448.9h.9M50.5 430.2h.9M98.7 436.3h.9M50.3 434.2h.9M78.0 423.5h.9M60.2 440.5h.9M60.6 442.1h.9M44.7 451.6h.9M73.7 453.3h.9M79.0 449.2h.9M57.5 443.8h.9M50.2 442.4h.9M46.9 448.5h.9M80.5 428.0h.9M56.9 430.8h.9M35.9 435.2h.9M36.6 424.9h.9M46.4 439.1h.9M73.5 442.9h.9M51.6 443.8h.9M85.3 420.5h.9M90.5 445.1h.9M60.1 435.9h.9M53.3 439.3h.9M104.6 416.6h.9M62.6 434.4h.9M39.5 436.6h.9M58.3 455.4h.9M60.0 447.2h.9M57.7 430.0h.9M72.5 427.6h.9M61.8 437.7h.9M55.3 437.4h.9M95.4 428.5h.9M46.2 452.2h.9M45.9 420.3h.9M49.0 441.0h.9M73.9 431.3h.9M67.6 422.0h.9M75.5 441.0h.9M58.7 434.7h.9M81.3 436.9h.9M53.6 448.1h.9M43.1 425.8h.9M75.1 427.8h.9M39.6 419.8h.9M61.9 434.5h.9M46.0 439.3h.9M41.1 415.0h.9M62.1 411.4h.9M55.0 442.1h.9M37.9 411.2h.9M65.8 441.4h.9M91.1 432.3h.9M59.1 423.6h.9M76.1 450.6h.9M55.9 439.1h.9M81.9 436.3h.9M85.8 451.1h.9M59.7 430.6h.9M52.1 424.9h.9M89.9 432.2h.9M50.0 423.0h.9M52.3 444.4h.9M67.3 409.2h.9M65.6 442.3h.9M72.1 450.5h.9M51.1 449.2h.9M50.0 430.6h.9M88.4 447.0h.9M51.7 442.1h.9M35.7 427.9h.9M50.2 417.8h.9M70.5 421.6h.9M59.6 451.3h.9M70.6 428.1h.9M55.0 440.5h.9M41.0 441.9h.9M69.2 451.8h.9M63.7 437.8h.9M35.4 439.2h.9M76.7 437.8h.9M59.7 431.0h.9M51.7 437.4h.9M40.4 443.8h.9M57.4 441.7h.9M57.8 435.7h.9M77.9 438.4h.9M69.4 434.2h.9M51.7 435.2h.9M81.8 426.9h.9M60.2 435.8h.9M70.7 448.7h.9M63.2 440.5h.9M67.3 428.1h.9M61.1 422.9h.9M65.0 436.4h.9M64.4 429.1h.9M97.6 448.6h.9M57.9 426.6h.9M61.5 433.6h.9M61.7 440.4h.9M44.8 427.8h.9M62.7 414.8h.9M97.0 446.1h.9M66.4 446.9h.9M64.8 435.9h.9M68.5 437.7h.9M78.4 436.5h.9M72.2 438.0h.9M43.6 430.1h.9M45.6 435.2h.9M76.7 418.0h.9M67.6 417.1h.9M55.0 444.2h.9M53.5 450.9h.9M64.6 433.9h.9M61.8 435.1h.9M66.8 422.1h.9M59.9 428.1h.9M63.6 427.8h.9M92.4 432.6h.9M63.5 444.6h.9M54.6 437.1h.9M52.9 444.8h.9M47.2 436.5h.9M84.6 441.5h.9M63.1 442.7h.9M37.6 451.2h.9M44.1 423.1h.9M75.4 429.2h.9M94.0 453.1h.9M69.5 431.2h.9M55.9 441.6h.9M67.9 431.7h.9M63.2 439.1h.9M78.0 428.9h.9M61.6 446.5h.9M70.9 406.5h.9M72.9 430.9h.9M78.7 432.3h.9M47.3 420.7h.9M63.3 446.1h.9M70.2 438.7h.9M36.2 439.8h.9M38.9 439.4h.9M62.3 442.0h.9M46.3 426.9h.9M44.9 432.0h.9M45.9 439.6h.9M62.5 445.4h.9M76.5 431.4h.9M76.5 443.7h.9M38.3 452.3h.9M47.7 435.6h.9M83.5 431.2h.9M77.6 429.6h.9M53.7 449.6h.9M57.8 448.7h.9M85.4 444.3h.9M71.4 429.8h.9M52.6 438.5h.9M70.2 420.9h.9M55.4 437.1h.9M76.0 435.3h.9M46.8 437.8h.9M49.5 429.4h.9M95.0 421.8h.9M99.1 419.3h.9M55.3 429.6h.9M82.4 431.4h.9M77.2 431.4h.9M59.5 429.4h.9M59.3 429.3h.9M95.7 454.4h.9M60.0 428.0h.9M49.7 419.4h.9M57.5 439.7h.9M46.3 439.1h.9M64.3 429.2h.9M43.8 438.5h.9M60.0 426.9h.9M37.7 455.0h.9M75.2 431.7h.9M50.5 444.6h.9M53.7 439.7h.9M75.5 449.4h.9M69.8 445.8h.9M67.4 437.7h.9M57.7 415.5h.9M46.5 440.3h.9M75.2 422.4h.9M75.3 432.7h.9M86.5 429.1h.9M80.1 421.7h.9M44.5 411.5h.9M64.9 422.9h.9M84.0 418.7h.9M72.8 443.9h.9M50.6 435.6h.9M96.4 431.3h.9M77.8 446.5h.9M67.2 414.9h.9M53.7 439.8h.9M78.1 427.7h.9M61.8 426.4h.9M71.9 441.7h.9M56.1 419.1h.9M61.8 440.3h.9M61.8 443.9h.9M51.6 444.0h.9M72.4 435.2h.9M60.4 428.7h.9M55.0 426.9h.9M79.9 437.8h.9M42.4 433.9h.9M82.3 454.1h.9M81.0 421.8h.9M73.1 421.3h.9M42.2 439.3h.9M41.2 438.5h.9M51.6 424.3h.9M76.9 438.0h.9M77.0 442.0h.9M44.9 428.4h.9M78.0 449.0h.9M71.1 452.1h.9M53.7 435.9h.9M36.8 439.0h.9M42.3 440.1h.9M54.3 424.7h.9M55.7 430.0h.9M43.8 454.3h.9M46.4 449.7h.9M83.0 446.7h.9M54.6 427.2h.9M41.3 421.8h.9M41.5 429.6h.9M64.2 446.2h.9M41.8 446.2h.9M67.4 426.1h.9M37.8 437.9h.9M37.4 443.7h.9M72.1 426.5h.9M79.2 437.5h.9M66.7 443.4h.9M48.7 435.4h.9M45.6 442.0h.9M49.0 451.2h.9M77.7 428.5h.9M60.1 435.0h.9M82.8 441.9h.9M63.8 438.9h.9M61.8 441.0h.9M44.6 452.7h.9M46.1 419.2h.9M76.7 450.7h.9M63.3 428.3h.9M47.6 440.4h.9M53.5 446.2h.9M51.0 440.4h.9M54.7 432.8h.9M47.6 449.9h.9M46.2 431.5h.9M77.3 420.6h.9M77.2 430.7h.9M75.0 445.8h.9M77.9 432.1h.9M66.8 428.8h.9M63.7 431.9h.9M76.7 424.5h.9M61.2 434.5h.9M39.4 423.9h.9M69.5 420.4h.9M95.5 416.6h.9M59.2 455.4h.9M68.8 446.6h.9M38.6 427.9h.9M64.3 425.5h.9M75.6 424.2h.9M62.8 430.2h.9M45.5 422.2h.9M51.9 451.6h.9M41.2 440.6h.9M48.1 430.9h.9M67.0 434.6h.9M66.9 433.9h.9M63.7 419.4h.9M53.6 431.3h.9M37.0 439.4h.9M64.3 422.6h.9M58.6 439.7h.9M52.1 441.0h.9M70.2 421.9h.9M73.4 451.2h.9M48.3 442.5h.9M59.7 422.6h.9M73.1 454.9h.9M55.2 427.5h.9M69.5 442.5h.9M69.2 424.6h.9M68.2 436.8h.9M37.4 428.8h.9M74.2 428.6h.9M72.5 428.8h.9M57.2 437.8h.9M44.2 436.9h.9M80.6 443.2h.9M60.9 429.7h.9M95.0 414.3h.9M57.3 426.2h.9M45.2 431.9h.9M54.7 450.8h.9M85.2 448.7h.9M69.1 429.7h.9M51.8 453.1h.9M69.0 413.3h.9M51.8 418.3h.9M61.5 446.1h.9M80.1 433.7h.9M60.0 432.3h.9M34.5 428.5h.9M57.1 437.9h.9M67.3 433.0h.9M67.1 416.3h.9M61.6 433.8h.9M88.0 427.6h.9M77.9 433.3h.9M62.2 438.3h.9M73.2 417.2h.9M72.2 448.7h.9M54.7 450.0h.9M62.2 440.4h.9M51.8 423.5h.9M67.1 422.5h.9M56.5 434.5h.9M84.8 447.5h.9M65.1 438.2h.9M66.6 441.6h.9M57.5 433.2h.9M70.9 432.3h.9M48.4 436.2h.9M60.3 428.0h.9M36.5 447.5h.9M61.0 434.7h.9M55.8 431.0h.9M46.5 431.5h.9M49.0 443.4h.9M49.5 454.4h.9M68.4 438.4h.9M79.9 427.8h.9M44.8 443.5h.9M55.7 446.1h.9M95.0 438.4h.9M76.2 434.2h.9M57.5 438.5h.9M85.5 438.5h.9M83.2 434.1h.9M51.0 429.6h.9M65.9 432.8h.9M49.5 438.2h.9M57.7 448.6h.9M50.0 453.3h.9M76.6 449.3h.9M73.0 455.2h.9M64.5 429.6h.9M35.7 446.7h.9M77.0 441.0h.9M60.4 443.3h.9M67.6 425.0h.9M82.3 435.4h.9M58.6 440.5h.9M88.2 430.0h.9M59.2 431.2h.9M47.2 415.6h.9M72.0 428.9h.9M68.2 455.0h.9M64.2 436.6h.9M50.6 437.4h.9M43.0 418.2h.9M48.0 436.2h.9M54.7 433.3h.9M49.6 425.7h.9M70.2 446.0h.9M77.5 444.5h.9M59.9 405.3h.9M58.3 446.2h.9M37.0 414.7h.9M62.8 429.1h.9M51.1 446.5h.9M63.3 430.8h.9M50.3 428.0h.9M73.6 435.5h.9M79.4 414.2h.9M71.0 435.5h.9M60.7 444.0h.9M44.7 433.0h.9M59.5 442.7h.9M61.8 435.6h.9M34.9 432.5h.9M58.8 440.6h.9M75.9 442.3h.9M65.8 438.7h.9M56.4 417.4h.9M52.4 437.1h.9M50.5 442.7h.9M70.6 417.8h.9M69.4 455.4h.9M47.9 441.5h.9M75.5 422.2h.9M65.7 445.6h.9M52.3 441.1h.9M65.9 445.9h.9M48.3 442.3h.9M90.1 418.4h.9M70.6 444.0h.9M71.2 427.5h.9M38.4 425.5h.9M60.7 440.5h.9M52.4 446.8h.9M78.4 430.4h.9M57.8 409.1h.9M59.1 437.3h.9M93.8 429.4h.9M82.2 445.5h.9M70.3 445.6h.9M76.7 437.4h.9M77.4 413.5h.9M64.1 438.8h.9M86.3 443.9h.9M57.6 430.4h.9M51.6 448.1h.9M52.4 436.4h.9M34.0 426.5h.9M50.9 454.7h.9M63.0 428.2h.9M59.5 448.3h.9M48.5 432.6h.9M52.4 429.9h.9M89.4 430.6h.9M72.1 425.8h.9M53.3 433.1h.9M70.2 435.9h.9M43.1 428.4h.9M62.7 425.7h.9M73.3 422.2h.9M40.9 439.3h.9M83.3 429.0h.9M71.7 413.2h.9M72.9 439.6h.9M62.6 440.8h.9M64.4 418.1h.9M98.5 437.1h.9M57.3 428.5h.9M48.6 437.2h.9M67.6 423.0h.9M61.0 423.2h.9M92.0 450.8h.9M53.5 437.8h.9M67.1 424.3h.9M83.1 442.0h.9M44.8 431.0h.9M59.5 427.7h.9M45.8 426.1h.9M39.2 449.7h.9M63.6 415.6h.9M48.4 436.0h.9M66.8 447.7h.9M65.7 451.7h.9M74.6 440.5h.9M70.7 436.7h.9M65.7 442.0h.9M74.1 438.7h.9M35.0 441.7h.9M41.3 444.1h.9M77.4 440.9h.9M64.2 430.2h.9M48.4 417.8h.9M71.7 446.8h.9M53.7 444.8h.9M71.3 437.0h.9M36.9 442.2h.9M67.3 430.7h.9M87.0 436.9h.9M56.4 432.0h.9M61.7 440.5h.9M55.5 434.2h.9M48.8 426.5h.9M62.9 431.5h.9M66.3 432.5h.9M45.0 430.7h.9M64.0 451.5h.9M62.9 424.0h.9M63.0 416.3h.9M69.5 413.9h.9M84.8 441.7h.9M70.8 442.4h.9M52.6 441.3h.9M79.4 439.9h.9M52.5 450.0h.9M75.9 433.5h.9M85.9 447.7h.9M65.2 421.1h.9M78.0 423.9h.9M65.7 419.6h.9M42.1 441.0h.9M92.1 441.1h.9M56.9 425.4h.9M50.8 447.2h.9M64.6 434.2h.9M82.7 436.2h.9M57.2 422.5h.9M74.7 422.4h.9M63.9 434.2h.9M77.2 454.1h.9M89.8 436.6h.9M47.8 415.0h.9M95.2 446.2h.9M58.0 449.3h.9M51.0 443.9h.9M51.6 423.3h.9M58.6 436.3h.9M78.3 433.7h.9M90.6 436.9h.9M62.2 422.2h.9M62.5 446.4h.9M51.8 433.4h.9M56.5 446.2h.9M87.1 430.6h.9M67.2 438.8h.9M38.4 446.8h.9M57.2 439.4h.9M46.8 444.5h.9M37.9 447.0h.9M84.3 436.0h.9M44.0 451.8h.9M56.6 429.8h.9M96.8 426.2h.9M54.1 435.2h.9M63.0 423.5h.9M90.6 418.3h.9M51.7 438.8h.9M66.2 427.4h.9M46.1 433.8h.9M47.8 437.8h.9M43.5 431.2h.9M77.8 439.7h.9M78.9 449.4h.9M74.4 436.3h.9M62.0 425.7h.9M49.6 423.9h.9M56.2 428.8h.9M51.8 422.3h.9M92.5 444.8h.9M85.8 438.2h.9M55.8 438.0h.9M35.1 430.0h.9M92.7 440.6h.9M74.1 448.3h.9M63.4 432.2h.9M51.4 432.5h.9M72.1 427.3h.9M72.4 441.4h.9M73.4 429.1h.9M96.3 437.6h.9M55.8 455.0h.9M82.2 442.6h.9M63.1 434.4h.9M64.2 446.7h.9M56.1 450.5h.9M54.4 442.5h.9M74.1 434.9h.9M73.5 442.8h.9M51.1 428.4h.9M63.6 453.1h.9M90.3 427.0h.9M66.3 450.6h.9M65.0 451.6h.9M57.1 428.9h.9M56.9 433.7h.9M63.8 405.8h.9M44.8 435.1h.9M55.6 455.6h.9M62.5 431.6h.9M69.9 455.4h.9M36.9 433.4h.9M56.9 435.7h.9M79.1 440.1h.9M72.2 446.3h.9M54.5 422.2h.9M58.3 435.0h.9M54.7 431.3h.9M58.4 438.5h.9M68.3 448.3h.9M65.9 433.5h.9M59.3 436.5h.9M62.0 440.0h.9M76.6 429.5h.9M73.9 419.8h.9M71.0 447.6h.9M48.2 447.9h.9M65.4 438.0h.9M64.3 442.7h.9M45.3 437.8h.9M43.7 429.7h.9M69.6 418.3h.9M73.7 442.7h.9M48.7 429.0h.9M52.4 435.0h.9M56.8 428.7h.9M52.2 436.9h.9M60.7 442.9h.9M87.8 424.2h.9M64.3 411.6h.9M53.2 429.8h.9M40.2 445.3h.9M49.5 436.4h.9M61.7 441.0h.9M51.6 416.9h.9M82.4 435.2h.9M53.7 452.7h.9M35.3 439.3h.9M68.2 424.4h.9M46.2 435.8h.9M64.2 439.4h.9M58.7 434.5h.9M64.3 444.0h.9M94.3 434.9h.9M72.5 432.7h.9M74.1 450.5h.9M45.5 420.6h.9M90.7 433.0h.9M55.3 435.5h.9M62.5 418.1h.9M84.3 435.2h.9M70.0 426.0h.9M72.5 432.7h.9M64.7 438.3h.9M63.6 424.6h.9M35.2 442.5h.9M50.3 441.6h.9M52.5 432.3h.9M79.0 419.4h.9M53.7 439.0h.9M65.5 428.7h.9M58.1 418.2h.9M87.1 426.3h.9M69.9 422.5h.9M52.8 427.8h.9M48.3 425.9h.9M70.8 431.3h.9M39.8 447.6h.9M73.6 438.1h.9M67.2 438.2h.9M47.1 445.2h.9M66.4 437.1h.9M69.8 437.9h.9M49.1 444.9h.9M48.9 420.0h.9M77.4 428.1h.9M61.1 449.8h.9M62.4 440.5h.9M47.9 425.1h.9M43.6 439.8h.9M54.2 428.9h.9M66.6 421.7h.9M68.4 447.2h.9M74.2 450.9h.9M61.3 427.0h.9M61.2 430.1h.9M41.9 444.8h.9M56.8 443.1h.9M77.1 405.6h.9M44.8 428.6h.9M63.9 426.1h.9M67.0 437.4h.9M55.1 436.4h.9M40.1 423.5h.9M67.7 421.6h.9M63.5 439.2h.9M47.2 420.1h.9M74.8 450.0h.9M92.1 441.2h.9M74.0 422.3h.9M51.6 441.2h.9M50.3 437.5h.9M81.5 432.0h.9M58.4 431.9h.9M67.9 443.1h.9M67.2 426.3h.9M45.6 447.4h.9M94.8 447.9h.9M97.9 429.2h.9M68.0 415.9h.9M78.3 440.6h.9M49.2 423.9h.9M51.5 440.0h.9M56.7 431.6h.9M48.2 437.9h.9M62.1 434.6h.9M38.8 449.2h.9M43.8 437.1h.9M64.5 432.8h.9M54.7 447.1h.9M43.6 448.9h.9M35.7 427.6h.9M66.7 452.6h.9M105.3 416.1h.9M47.6 441.6h.9M77.7 438.2h.9M91.7 441.5h.9M51.4 420.6h.9M49.5 441.9h.9M66.8 403.2h.9M59.5 435.3h.9M55.4 434.7h.9M34.4 440.1h.9M91.3 425.6h.9M43.3 440.6h.9M51.0 441.2h.9M40.5 441.0h.9M66.7 429.8h.9M80.7 440.5h.9M74.8 437.9h.9M64.5 435.2h.9M67.0 447.9h.9M44.5 438.1h.9M64.4 426.6h.9M62.6 433.1h.9M64.7 448.8h.9M57.8 444.3h.9M65.2 432.8h.9M51.9 427.5h.9M70.2 420.1h.9M62.1 451.3h.9M47.4 431.7h.9M41.9 436.6h.9M58.3 444.4h.9M48.2 428.5h.9M67.7 427.8h.9M50.0 447.5h.9M54.4 446.0h.9M40.9 440.1h.9M71.5 421.4h.9M58.1 414.3h.9M85.5 432.6h.9M49.3 425.2h.9M84.6 439.8h.9M76.6 440.1h.9M59.6 439.6h.9M58.6 439.5h.9M35.8 436.6h.9M69.8 433.1h.9M66.6 440.8h.9M44.3 431.2h.9M76.2 403.0h.9M70.3 449.6h.9M66.0 455.3h.9M68.6 445.3h.9M79.3 435.4h.9M33.9 434.5h.9M78.0 428.6h.9M45.9 424.2h.9M87.3 431.4h.9M47.6 428.8h.9M65.7 431.6h.9M69.4 431.9h.9M57.8 438.9h.9M85.5 427.0h.9M37.0 453.7h.9M82.2 432.3h.9M73.1 437.7h.9M72.1 419.9h.9M55.9 425.8h.9M65.9 427.2h.9M79.7 423.7h.9M69.6 450.5h.9M50.1 429.0h.9M56.4 453.1h.9M51.2 436.9h.9M69.3 431.7h.9M74.0 447.9h.9M62.9 439.5h.9M83.1 433.9h.9M79.8 450.3h.9M53.7 451.0h.9M82.1 432.8h.9M71.6 443.2h.9M62.5 427.5h.9M73.8 424.2h.9M59.1 427.2h.9M72.5 444.2h.9M59.8 441.0h.9M82.2 435.4h.9M74.5 449.4h.9M48.1 424.2h.9M39.9 440.8h.9M56.7 444.5h.9M63.5 425.8h.9M57.7 452.9h.9M57.4 436.4h.9M53.3 441.4h.9M65.5 436.8h.9M57.8 402.3h.9M63.7 436.4h.9M69.4 449.6h.9M61.4 442.9h.9M69.9 446.3h.9M83.8 450.6h.9M68.8 428.8h.9M87.7 446.8h.9M85.3 426.7h.9M48.4 420.9h.9M69.9 433.0h.9M87.1 430.7h.9M70.7 446.2h.9M62.7 443.6h.9M67.8 436.7h.9M71.8 427.1h.9M79.1 442.8h.9M81.2 418.6h.9M65.5 433.4h.9M61.0 420.0h.9M51.7 434.4h.9M70.3 431.0h.9M42.7 434.8h.9M54.4 432.1h.9M64.4 443.7h.9M49.5 442.6h.9M79.2 435.3h.9M73.5 430.9h.9M54.8 435.1h.9M45.8 430.1h.9M48.1 433.8h.9M62.9 447.8h.9M58.2 433.0h.9M75.9 445.3h.9M52.1 428.0h.9M55.0 438.6h.9M66.1 416.7h.9M61.9 432.5h.9M75.3 430.7h.9M40.6 444.6h.9M57.0 437.8h.9M58.5 422.9h.9M75.3 428.5h.9M72.9 438.3h.9M76.5 428.8h.9M46.4 426.8h.9M69.3 414.4h.9M65.0 441.9h.9M56.3 426.7h.9M73.5 436.3h.9M37.8 436.6h.9M49.5 422.1h.9M62.9 445.1h.9M36.1 432.4h.9M65.6 454.3h.9M47.2 439.2h.9M57.4 454.0h.9M77.7 446.3h.9M65.9 426.6h.9M38.1 437.8h.9M54.2 444.1h.9M72.4 445.8h.9M86.5 428.5h.9M54.7 421.6h.9M46.6 429.0h.9M38.8 454.3h.9M47.9 440.7h.9M54.9 425.1h.9M79.7 433.3h.9M66.6 442.8h.9M56.1 446.7h.9M51.1 440.7h.9M54.2 442.7h.9M55.3 438.6h.9M59.0 446.5h.9M50.4 442.1h.9M51.7 433.5h.9M61.9 427.0h.9M70.9 418.4h.9M71.8 443.6h.9M102.1 430.7h.9M50.0 440.7h.9M63.1 438.6h.9M52.3 444.0h.9M78.6 444.6h.9M63.1 436.7h.9M81.7 438.0h.9M74.6 434.8h.9M85.1 426.8h.9M64.7 422.0h.9M70.4 436.0h.9M73.1 432.9h.9M62.1 434.6h.9M45.9 447.7h.9M65.4 450.7h.9M60.3 447.2h.9M77.8 430.2h.9M59.6 451.9h.9M34.1 440.2h.9M55.0 430.6h.9M103.1 411.5h.9M105.6 405.4h.9M94.1 419.7h.9M116.5 398.2h.9M118.7 391.6h.9M90.2 417.5h.9M111.9 398.7h.9M93.3 417.4h.9M116.5 395.2h.9M113.9 399.6h.9M122.9 387.3h.9M96.4 415.7h.9M97.3 414.3h.9M106.5 409.6h.9M102.1 409.8h.9M110.6 402.4h.9M108.2 404.8h.9M102.3 409.8h.9M110.0 402.8h.9M96.7 416.1h.9M120.4 385.8h.9M106.6 406.2h.9M114.4 399.9h.9M102.1 413.1h.9M118.1 392.3h.9M119.0 399.9h.9M125.7 390.6h.9M114.0 398.9h.9M118.2 394.1h.9M90.4 415.4h.9M97.1 415.0h.9M91.0 419.5h.9M113.5 399.7h.9M123.9 387.9h.9M88.2 420.3h.9M110.0 406.3h.9M113.6 404.0h.9M105.1 410.3h.9M100.9 416.1h.9M111.1 406.0h.9M117.8 395.4h.9M106.6 405.3h.9M104.5 409.2h.9M101.4 407.2h.9M123.0 393.3h.9M115.5 402.7h.9M108.6 406.1h.9M120.3 385.5h.9M119.7 387.4h.9M105.2 404.4h.9M113.5 396.7h.9M93.9 413.4h.9M120.6 386.6h.9M108.1 402.2h.9M118.0 392.1h.9M114.7 398.1h.9M117.0 395.1h.9M115.7 394.6h.9M119.7 394.9h.9M103.6 403.3h.9M112.0 401.1h.9M121.2 384.5h.9M101.9 407.5h.9M120.4 392.2h.9M121.0 389.2h.9M125.0 390.1h.9M123.7 385.9h.9M118.0 395.4h.9M98.7 411.6h.9M108.4 403.2h.9M116.4 392.6h.9M119.4 397.5h.9M102.1 417.4h.9M122.1 391.1h.9M107.4 400.7h.9M105.4 403.8h.9M122.0 387.3h.9M114.3 393.4h.9M114.2 399.9h.9M125.9 382.7h.9M102.0 414.3h.9M118.6 395.3h.9M94.0 414.8h.9M119.8 391.7h.9M96.4 414.3h.9M117.0 398.0h.9M123.7 385.5h.9M105.4 403.7h.9M110.2 401.5h.9M109.8 403.3h.9M95.6 412.1h.9M95.8 417.1h.9M107.0 407.0h.9M100.4 406.4h.9M123.2 394.1h.9M101.9 409.4h.9M91.6 419.0h.9M93.2 415.8h.9M124.3 389.4h.9M102.8 408.8h.9M106.7 409.0h.9M99.7 411.4h.9M106.8 401.8h.9M91.6 418.6h.9M109.1 404.6h.9M125.2 388.0h.9M121.5 391.3h.9M125.5 387.7h.9"/>
<defs><radialGradient id="core"><stop offset="0" stop-color="#ffa000" stop-opacity="0.9"/><stop offset="0.6" stop-color="#ff5000" stop-opacity="0.6"/><stop offset="1" stop-color="#ff2000" stop-opacity="0"/></radialGradient></defs>
<ellipse cx="46.5" cy="399.8" rx="4.5" ry="2.8" fill="url(#core)" opacity="0.5"/>
<ellipse cx="48" cy="446.5" rx="9" ry="8" fill="url(#core)"/>
<ellipse cx="84" cy="437.5" rx="5.5" ry="10" fill="url(#core)" transform="rotate(25 84 437.5)"/>
<path stroke="#ff1a0a" stroke-opacity="0.65" stroke-width="0.9" d="M180.2 398.0h.9M178.3 398.5h.9M179.2 401.0h.9M169.2 400.8h.9M170.0 398.4h.9M176.6 398.7h.9M170.5 397.9h.9M178.2 403.3h.9M172.6 401.7h.9M177.2 397.4h.9M173.5 397.1h.9M180.7 392.7h.9M175.7 399.7h.9M173.4 399.4h.9M175.8 403.4h.9M179.8 400.2h.9M180.4 397.0h.9M182.9 402.2h.9M174.0 395.9h.9M180.1 399.5h.9M186.5 404.2h.9M172.0 400.8h.9M174.7 402.3h.9M176.1 400.2h.9M177.7 406.2h.9M177.8 404.8h.9M175.7 401.6h.9M174.7 400.7h.9M175.2 401.3h.9M169.9 401.3h.9M181.5 397.7h.9M176.1 402.3h.9M177.1 402.9h.9M178.5 400.1h.9M179.0 407.3h.9M178.3 403.2h.9M179.0 400.7h.9M176.0 394.7h.9M182.5 399.6h.9M179.6 397.8h.9M175.3 401.7h.9M178.4 404.4h.9M171.6 398.6h.9M180.4 395.8h.9M181.1 402.4h.9M175.2 398.8h.9M177.6 398.7h.9M179.3 398.4h.9M177.0 402.1h.9M177.8 403.1h.9M176.9 404.3h.9M174.0 403.1h.9M176.7 394.5h.9M185.7 397.6h.9M177.9 399.3h.9M175.1 398.3h.9M180.4 396.0h.9M173.2 400.3h.9M175.5 393.1h.9M175.4 400.2h.9M177.4 396.2h.9M178.0 397.2h.9M177.1 400.8h.9M168.9 397.5h.9M173.0 394.8h.9M181.3 397.8h.9M177.7 398.9h.9M171.4 402.7h.9M177.4 397.0h.9M175.3 402.2h.9M172.2 402.5h.9M176.3 403.9h.9M183.2 397.3h.9M180.1 401.5h.9M172.8 403.8h.9M172.5 401.2h.9M176.1 393.9h.9M176.9 401.1h.9M178.4 397.8h.9M175.2 402.6h.9M179.6 402.3h.9M181.4 398.1h.9M175.2 400.2h.9M178.6 402.3h.9M180.8 401.6h.9M177.4 397.8h.9M177.2 397.7h.9M173.0 399.2h.9M178.5 404.8h.9M172.9 397.9h.9M183.8 408.2h.9M177.2 403.4h.9M181.0 402.9h.9M174.9 402.4h.9M176.1 399.3h.9M182.3 400.1h.9M176.4 399.4h.9M179.8 399.6h.9M176.7 400.9h.9M177.5 401.0h.9M177.8 400.9h.9M172.7 403.6h.9M175.5 400.2h.9M172.9 399.2h.9M174.7 400.8h.9M174.1 400.4h.9M169.0 403.5h.9M182.3 398.1h.9M171.9 403.8h.9M176.2 393.2h.9M182.0 396.5h.9M180.2 406.3h.9M178.1 399.7h.9M174.0 396.4h.9M177.7 399.4h.9M172.5 402.1h.9M176.8 398.9h.9M179.2 396.2h.9M177.4 398.7h.9M175.3 398.7h.9M180.2 404.4h.9M172.0 402.4h.9M178.6 400.6h.9M181.5 405.8h.9M169.9 401.0h.9M179.2 400.1h.9M171.9 400.1h.9M171.0 400.7h.9M179.9 405.5h.9M174.6 401.8h.9M177.7 400.3h.9M181.7 398.8h.9M178.7 404.8h.9M179.3 396.5h.9M176.1 402.7h.9M177.0 399.2h.9M175.1 398.4h.9M180.8 399.1h.9M179.6 402.4h.9M181.8 406.1h.9M175.4 397.3h.9M177.1 405.4h.9M179.4 400.3h.9M184.0 401.3h.9M177.1 407.1h.9M174.3 400.6h.9M181.4 400.5h.9M177.3 401.4h.9M175.1 399.3h.9M183.1 401.5h.9M170.0 401.3h.9M173.6 398.5h.9M183.6 403.2h.9M178.5 400.9h.9M172.5 399.9h.9M179.0 402.5h.9M169.4 399.3h.9M175.4 402.2h.9M173.4 400.4h.9M170.1 397.5h.9M177.5 401.7h.9M177.5 400.0h.9M171.2 398.9h.9M175.9 399.8h.9M175.1 402.7h.9M174.8 400.2h.9M178.0 402.9h.9M181.0 396.9h.9M181.1 401.8h.9M179.2 402.7h.9M174.0 400.8h.9M184.8 407.1h.9M167.0 393.4h.9M184.0 398.7h.9M175.5 402.8h.9M179.1 397.4h.9M179.7 401.7h.9M169.1 398.9h.9M179.0 403.6h.9M173.9 401.7h.9M176.8 397.5h.9M179.2 400.0h.9M176.8 396.7h.9M172.0 401.5h.9M175.4 404.8h.9M180.5 402.6h.9M177.8 402.2h.9M176.7 401.4h.9M183.4 406.5h.9M184.6 399.0h.9M172.8 400.2h.9M180.4 402.0h.9M178.3 405.5h.9M173.3 403.3h.9M176.7 400.0h.9M180.0 398.4h.9M177.7 398.5h.9M173.0 404.3h.9M175.7 405.3h.9M173.4 399.6h.9M175.8 402.1h.9M170.2 399.2h.9M170.6 397.2h.9M177.3 401.0h.9M183.0 405.9h.9M178.5 400.6h.9M182.1 401.1h.9M180.7 399.6h.9M168.4 401.9h.9M173.2 401.9h.9M178.5 402.4h.9M178.5 402.1h.9M175.8 403.7h.9M177.7 397.7h.9M176.7 404.8h.9M179.2 403.2h.9M179.2 398.9h.9M185.7 402.8h.9M184.5 396.8h.9M170.8 400.1h.9M182.7 405.1h.9M181.2 403.7h.9M178.6 399.5h.9M178.8 400.9h.9M179.9 403.2h.9M174.7 399.4h.9M184.3 397.7h.9M178.7 398.2h.9M178.1 402.8h.9M173.6 401.6h.9M178.5 398.3h.9M184.2 400.8h.9M184.6 396.8h.9M171.2 399.7h.9M181.1 402.0h.9M178.4 398.6h.9M177.1 402.9h.9M181.1 400.5h.9M175.5 401.2h.9M184.3 404.0h.9M177.8 398.1h.9M177.8 400.0h.9M175.0 389.6h.9M183.7 397.8h.9M177.7 400.5h.9M178.3 397.4h.9M175.0 398.7h.9M182.6 398.6h.9M171.4 396.9h.9M180.4 402.3h.9M168.3 398.4h.9M176.2 397.3h.9M179.0 401.6h.9M184.1 398.7h.9M179.0 408.3h.9M179.8 401.6h.9M182.7 405.8h.9M176.9 403.7h.9M185.2 400.5h.9M175.8 403.6h.9M179.6 403.1h.9M178.0 400.2h.9M176.8 401.4h.9M170.2 402.8h.9M185.7 399.5h.9M172.8 405.4h.9M180.5 402.6h.9M173.7 397.6h.9M180.9 404.2h.9M175.7 403.5h.9M180.9 401.7h.9M174.6 399.9h.9M173.1 394.9h.9M168.8 401.9h.9M180.0 399.3h.9M176.8 406.2h.9M178.5 404.2h.9M183.5 397.9h.9M181.2 396.9h.9M179.8 398.2h.9M181.4 397.9h.9M174.7 403.8h.9M175.8 400.2h.9M181.9 403.2h.9M175.8 402.9h.9M180.7 400.8h.9M179.5 402.4h.9M179.1 403.7h.9M183.7 401.1h.9M184.6 403.2h.9M175.8 400.9h.9M181.7 404.1h.9M185.5 400.6h.9M176.3 397.4h.9M173.4 399.0h.9M180.2 399.2h.9M180.2 399.5h.9M175.9 404.8h.9M180.5 400.5h.9M182.9 398.2h.9M178.5 397.7h.9M181.5 402.8h.9M176.3 400.1h.9M182.7 401.5h.9M174.5 396.7h.9M182.7 405.6h.9M182.0 403.3h.9M178.3 400.6h.9M174.3 403.1h.9M177.2 402.9h.9M177.8 401.5h.9M181.3 401.7h.9M188.5 405.1h.9M176.6 401.6h.9M183.0 407.9h.9M172.1 401.0h.9M170.8 402.2h.9M176.8 401.9h.9M181.7 397.8h.9M175.2 401.9h.9M175.6 399.7h.9M172.4 395.6h.9M177.2 406.0h.9M184.4 408.6h.9M181.7 400.6h.9M171.2 402.3h.9M175.3 400.0h.9M172.3 397.7h.9M180.9 399.6h.9M176.7 402.5h.9M182.4 397.9h.9M185.2 401.0h.9M176.1 402.3h.9M170.4 399.7h.9M177.9 400.0h.9M174.7 402.5h.9M177.8 399.7h.9M175.2 400.6h.9M174.9 404.7h.9M180.2 398.0h.9M175.9 397.7h.9M179.7 402.6h.9M177.0 401.3h.9M179.3 401.6h.9M182.9 401.0h.9M181.6 406.6h.9M172.7 398.8h.9M172.2 399.6h.9M177.3 402.2h.9M170.9 401.0h.9M176.2 404.3h.9M173.5 402.1h.9M183.2 402.6h.9M179.0 397.5h.9M173.5 396.3h.9M183.6 401.5h.9M179.2 402.4h.9M183.9 400.3h.9M179.6 398.3h.9M183.2 400.1h.9M172.6 399.6h.9M168.6 398.1h.9M176.6 399.7h.9M177.0 400.0h.9M173.5 403.9h.9M171.8 398.5h.9M174.8 402.6h.9M178.0 399.3h.9M175.3 404.1h.9M183.1 400.8h.9M174.3 401.9h.9M184.2 399.4h.9M179.0 398.1h.9M177.1 403.4h.9M178.7 398.6h.9M176.1 399.9h.9M179.5 397.8h.9M176.9 404.2h.9M182.2 402.1h.9M182.5 402.5h.9M180.1 406.4h.9M174.2 403.4h.9M170.2 398.9h.9M177.7 401.3h.9M183.1 401.6h.9M184.3 399.1h.9M177.6 399.5h.9M168.9 399.9h.9M178.0 399.3h.9M174.6 399.1h.9M173.6 399.5h.9M171.3 401.5h.9M167.2 395.5h.9M176.1 402.1h.9M176.0 396.7h.9M176.2 396.7h.9M178.8 405.6h.9M178.6 398.0h.9M179.5 404.7h.9M173.1 403.2h.9M175.7 402.1h.9M180.0 398.3h.9M171.9 407.9h.9M183.9 405.2h.9M179.2 401.9h.9M179.8 400.1h.9M177.2 402.5h.9M179.6 400.5h.9M175.6 405.5h.9M176.3 399.0h.9M177.9 399.7h.9M170.4 397.2h.9M166.8 396.0h.9M181.6 400.2h.9M182.4 396.5h.9M181.0 397.5h.9M175.0 399.5h.9M180.1 398.6h.9M175.8 398.0h.9M180.6 401.3h.9M171.5 398.1h.9M175.1 399.8h.9M176.1 401.5h.9M176.8 403.9h.9M173.5 401.7h.9M182.3 402.8h.9M179.7 400.1h.9M173.0 396.0h.9M174.3 398.5h.9M182.4 397.5h.9M179.1 401.4h.9M184.7 398.0h.9M182.7 396.8h.9M179.7 405.0h.9M174.9 401.8h.9M181.2 398.5h.9M173.1 396.5h.9M177.0 397.8h.9M184.1 400.9h.9M181.7 401.0h.9M185.9 404.8h.9M176.2 401.0h.9M168.9 401.8h.9M173.2 403.3h.9M180.4 398.6h.9M181.1 397.5h.9M173.6 395.3h.9M174.6 398.8h.9M179.4 403.3h.9M175.9 403.8h.9M182.2 394.4h.9M175.6 400.1h.9M184.2 403.0h.9M178.4 399.0h.9M179.2 404.7h.9M176.7 397.9h.9M181.1 396.4h.9M175.9 403.6h.9M173.5 400.4h.9M171.8 405.7h.9M177.0 402.5h.9M174.9 406.5h.9M182.9 401.2h.9M179.3 396.0h.9M178.3 404.6h.9M175.2 400.1h.9M175.7 402.2h.9M178.1 396.0h.9M180.1 399.7h.9M177.0 399.7h.9M174.8 401.4h.9M172.3 396.8h.9M176.4 404.2h.9M175.7 400.1h.9M176.4 401.1h.9M175.4 405.2h.9M178.4 401.1h.9M178.7 403.0h.9M181.8 400.5h.9M177.8 401.8h.9M174.9 399.1h.9M176.7 402.1h.9M177.0 393.9h.9M172.5 401.3h.9M175.5 400.8h.9M175.2 403.9h.9M179.0 403.1h.9M172.4 404.1h.9M174.5 406.4h.9M175.6 400.4h.9M169.8 401.6h.9M173.6 399.0h.9M180.4 407.3h.9M175.0 397.3h.9M168.5 399.0h.9M178.6 396.9h.9M173.2 404.9h.9M181.7 404.3h.9M173.0 398.6h.9M172.8 399.9h.9M176.0 402.2h.9M179.9 402.5h.9M180.5 403.7h.9M176.0 400.0h.9M174.5 407.0h.9M176.8 398.4h.9M174.0 399.8h.9M177.2 400.6h.9M177.5 405.7h.9M174.5 401.2h.9M182.7 397.1h.9M173.1 404.2h.9M172.9 402.2h.9M173.7 403.1h.9M184.6 399.0h.9M173.5 401.1h.9M173.1 397.4h.9M174.0 400.2h.9M183.7 403.3h.9M181.7 403.7h.9M176.2 397.7h.9M180.1 398.4h.9M182.7 400.0h.9M174.3 402.4h.9M178.7 402.5h.9M175.3 401.9h.9M171.7 402.3h.9M171.3 401.8h.9M178.8 404.1h.9M179.2 398.2h.9M176.2 403.4h.9M180.7 399.4h.9M179.3 405.2h.9M174.5 402.5h.9M179.4 400.7h.9M178.7 405.3h.9M179.2 401.6h.9M177.0 400.0h.9M172.6 398.0h.9M171.5 400.3h.9M173.5 396.2h.9M181.9 400.4h.9M181.2 404.9h.9M183.5 400.9h.9M167.9 402.4h.9M177.1 396.6h.9M167.3 404.1h.9M181.7 404.8h.9M183.2 404.6h.9M179.5 402.2h.9M181.5 402.7h.9M178.1 402.9h.9M175.5 398.8h.9M185.5 407.6h.9M182.6 398.9h.9M176.0 404.0h.9M179.6 400.7h.9M184.7 401.4h.9M177.7 401.2h.9M175.0 404.0h.9M170.8 401.3h.9M180.5 405.8h.9M180.2 397.8h.9M180.9 403.4h.9M178.0 399.5h.9M172.6 400.2h.9M178.5 409.3h.9M179.7 401.7h.9M170.8 397.7h.9M175.2 400.7h.9M177.1 404.3h.9M183.7 404.8h.9M174.9 399.9h.9M174.2 396.8h.9M172.3 402.3h.9M174.3 403.0h.9M176.5 399.7h.9M177.8 401.4h.9M189.1 399.1h.9M178.8 397.1h.9M176.0 405.4h.9M180.0 406.6h.9M170.7 398.6h.9M178.1 398.0h.9M174.8 397.1h.9M180.3 400.0h.9M177.2 397.3h.9M175.9 406.1h.9M180.5 401.1h.9M174.0 400.3h.9M177.8 406.8h.9M178.3 400.4h.9M176.8 398.0h.9M178.5 398.1h.9M174.5 399.8h.9M186.2 406.2h.9M176.7 403.5h.9M178.3 403.0h.9M177.3 403.4h.9M184.5 401.0h.9M182.8 401.2h.9M181.1 398.1h.9M180.1 398.8h.9M174.7 401.5h.9M186.8 402.2h.9M182.5 403.0h.9M176.5 397.7h.9M173.6 395.9h.9M179.3 401.0h.9M178.2 402.6h.9M185.7 400.2h.9M178.8 402.8h.9M180.7 400.5h.9M183.0 399.4h.9M177.9 396.0h.9M178.4 400.7h.9M176.1 399.1h.9M179.7 403.6h.9M187.9 399.5h.9M180.2 402.9h.9M183.1 399.7h.9M175.1 401.2h.9M175.3 401.3h.9M174.8 401.5h.9M182.1 401.5h.9M179.5 403.5h.9M181.0 402.3h.9M171.2 397.9h.9M183.5 398.9h.9M177.0 404.3h.9M174.0 395.1h.9M174.0 403.5h.9M181.5 403.0h.9M186.8 404.8h.9M169.8 395.7h.9M176.8 395.7h.9M181.3 395.1h.9M177.5 398.0h.9M179.8 407.0h.9M177.7 393.6h.9M174.6 398.6h.9M177.6 405.4h.9M175.6 398.9h.9M171.6 396.2h.9M172.1 400.5h.9M179.8 401.5h.9M175.1 402.0h.9M174.5 404.0h.9M172.0 396.1h.9M177.8 399.1h.9M182.8 399.2h.9M178.7 402.0h.9M182.3 404.8h.9M172.0 395.2h.9M174.2 402.8h.9M180.8 399.2h.9M185.1 400.7h.9M183.0 400.8h.9M171.8 399.5h.9M181.1 404.2h.9M178.1 407.4h.9M178.8 403.2h.9M180.0 400.5h.9M173.1 401.7h.9M177.4 400.1h.9M179.1 400.5h.9M182.2 404.0h.9M176.0 405.8h.9M177.8 396.9h.9M172.8 400.1h.9M180.3 399.7h.9M182.6 407.9h.9M174.3 401.9h.9M174.6 405.3h.9M170.8 404.0h.9M176.4 401.8h.9M179.1 399.6h.9M174.5 406.9h.9M180.4 402.6h.9M184.1 399.5h.9M181.7 401.0h.9M171.5 399.4h.9M178.6 398.9h.9M174.0 403.4h.9M178.5 400.0h.9M171.5 403.2h.9M182.5 401.8h.9M180.5 400.9h.9M182.7 404.5h.9M179.2 404.3h.9M177.7 405.9h.9M182.5 401.1h.9M183.0 402.3h.9M177.4 402.2h.9M176.1 403.2h.9M177.7 401.7h.9M186.2 394.4h.9M176.5 405.4h.9M174.9 397.7h.9M183.4 406.5h.9M176.5 402.3h.9M176.5 398.8h.9M180.3 403.4h.9M178.2 398.4h.9M178.7 399.7h.9M175.8 402.1h.9M178.1 397.4h.9M181.0 400.1h.9M176.6 398.1h.9M174.9 397.0h.9M177.3 399.0h.9M176.0 404.6h.9M174.9 403.8h.9M174.2 401.1h.9M171.1 401.5h.9M180.0 392.1h.9M174.0 402.3h.9M178.3 399.3h.9M176.7 402.7h.9M178.8 396.3h.9M180.4 398.9h.9M177.9 401.5h.9M176.3 404.6h.9M180.3 402.4h.9M184.5 399.9h.9M177.1 403.9h.9M177.3 398.5h.9M179.5 403.1h.9M172.3 402.9h.9M175.1 401.1h.9M178.3 405.2h.9M178.8 404.3h.9M176.6 402.1h.9M175.2 405.0h.9M177.8 399.6h.9M181.7 403.5h.9M179.6 402.2h.9M179.0 402.2h.9M177.6 400.2h.9M179.2 400.1h.9M183.5 401.4h.9M177.5 396.2h.9M176.2 400.9h.9M170.6 399.3h.9M174.5 400.8h.9M180.7 396.0h.9M179.3 404.3h.9M181.8 400.9h.9M171.4 402.9h.9M178.1 403.0h.9M180.4 400.6h.9M172.0 399.1h.9M171.7 402.1h.9M176.0 395.2h.9M169.3 402.5h.9M171.7 395.9h.9M181.4 400.3h.9M174.4 400.8h.9M182.8 400.7h.9M182.5 402.8h.9M176.9 403.3h.9M173.0 397.1h.9M174.6 404.1h.9M174.5 400.0h.9M173.6 401.1h.9M175.0 402.8h.9M174.1 400.8h.9M180.7 398.2h.9M172.8 397.8h.9M170.1 403.7h.9M177.5 403.4h.9M175.3 401.1h.9M181.2 401.9h.9M182.6 400.4h.9M169.3 397.4h.9M173.4 400.3h.9M173.8 397.6h.9M174.9 396.7h.9M177.2 400.5h.9M179.4 404.9h.9M176.6 405.8h.9M175.1 399.2h.9M175.1 398.1h.9M181.9 395.0h.9M178.6 401.9h.9M177.9 400.5h.9M179.7 404.6h.9M175.9 401.3h.9M181.7 395.1h.9M180.8 398.3h.9M175.7 403.7h.9M180.0 401.1h.9M175.7 399.1h.9M177.6 402.9h.9M181.4 401.7h.9M177.9 404.0h.9M175.5 400.7h.9M178.2 400.2h.9M180.5 400.3h.9M176.1 408.0h.9M174.4 403.3h.9M178.5 398.8h.9M178.8 397.6h.9M172.7 401.9h.9M168.7 395.4h.9M174.4 398.8h.9M178.1 395.3h.9M178.5 399.1h.9M176.4 397.7h.9M173.1 408.6h.9M178.3 400.5h.9M184.3 404.4h.9M180.1 398.9h.9M175.0 402.8h.9M175.6 399.9h.9M172.3 400.0h.9M175.7 400.9h.9M180.7 399.7h.9M167.8 396.8h.9M180.2 398.4h.9M175.4 403.2h.9M186.3 395.3h.9M183.0 401.9h.9M176.6 395.4h.9M171.8 403.7h.9M169.1 407.0h.9M178.4 400.4h.9M168.1 400.7h.9M181.0 402.0h.9M178.9 401.5h.9M178.9 403.3h.9M185.1 398.6h.9M176.4 403.4h.9M175.0 395.8h.9M177.5 398.9h.9M181.9 404.8h.9M181.9 405.1h.9M182.0 400.3h.9M172.7 402.6h.9M185.9 402.4h.9M183.2 403.6h.9M179.1 397.4h.9M177.9 404.4h.9M176.7 400.7h.9M173.1 396.8h.9M174.2 396.7h.9M181.3 405.3h.9M171.5 403.1h.9M178.5 399.3h.9M177.4 406.0h.9M176.6 402.5h.9M174.8 400.5h.9M167.7 400.4h.9M179.3 395.6h.9M176.2 394.6h.9M179.7 399.9h.9M178.7 395.6h.9M177.7 401.3h.9M171.9 403.4h.9M183.8 399.8h.9M173.9 402.2h.9M185.7 399.9h.9M172.9 400.8h.9M172.8 400.5h.9M172.0 397.3h.9M184.2 402.1h.9M174.5 399.1h.9M183.5 399.3h.9M180.9 402.1h.9M181.0 402.4h.9M173.8 397.8h.9M177.2 400.0h.9M180.9 399.6h.9M170.5 400.0h.9M184.8 396.4h.9M176.3 403.2h.9M183.7 401.7h.9M183.5 399.7h.9M178.6 399.9h.9M170.3 401.6h.9M168.5 406.1h.9M186.1 404.4h.9M173.7 399.9h.9M179.1 404.3h.9M176.0 399.6h.9M178.1 405.0h.9M175.2 405.4h.9M177.7 399.3h.9M176.4 399.1h.9M178.3 400.0h.9M173.8 401.6h.9M174.6 400.6h.9M181.1 403.5h.9M177.4 401.2h.9M177.0 391.6h.9M175.0 399.9h.9M180.4 404.5h.9M175.4 398.4h.9M171.8 402.1h.9M179.6 399.0h.9M181.5 403.8h.9M176.5 399.9h.9M175.4 401.2h.9M168.3 395.7h.9M176.2 401.7h.9M181.3 394.0h.9M182.8 395.4h.9M178.9 401.5h.9M171.6 401.7h.9M176.1 400.2h.9M177.8 397.1h.9M172.5 395.6h.9M179.4 402.2h.9M173.1 397.6h.9M177.1 398.1h.9M178.5 402.8h.9M172.0 401.1h.9M174.9 403.3h.9M169.5 404.1h.9M176.2 401.0h.9M175.0 394.8h.9M178.0 403.7h.9M180.5 400.6h.9M171.7 396.4h.9M180.2 400.5h.9M178.1 399.5h.9M173.9 402.0h.9M171.9 403.5h.9M178.5 403.0h.9M179.3 404.6h.9M176.8 402.9h.9M179.1 402.1h.9M177.2 397.0h.9M181.3 405.8h.9M178.8 404.0h.9M176.0 396.8h.9M185.0 401.0h.9M173.5 402.3h.9M173.4 403.2h.9M180.1 400.3h.9M179.4 397.1h.9M180.5 400.7h.9M173.7 401.5h.9M176.3 401.6h.9M180.5 402.1h.9M176.8 400.5h.9M177.0 403.7h.9M171.0 402.6h.9M178.5 395.6h.9M175.1 400.9h.9M182.9 401.5h.9M174.9 402.0h.9M179.3 402.2h.9M187.5 401.8h.9M172.0 404.2h.9M174.0 406.4h.9M179.7 400.5h.9M177.5 401.6h.9M182.2 403.3h.9M178.2 398.0h.9M178.2 403.4h.9M178.2 400.3h.9M172.9 406.7h.9M177.6 401.2h.9M177.5 399.7h.9M174.6 407.9h.9M173.5 399.7h.9M171.8 400.2h.9M178.8 399.9h.9M183.8 403.8h.9M175.1 398.3h.9M184.9 400.0h.9M176.7 404.7h.9M181.6 401.1h.9M178.4 401.2h.9M177.8 399.7h.9M181.1 401.6h.9M178.8 400.2h.9M173.2 404.1h.9M178.6 399.3h.9M178.0 395.9h.9M177.1 404.0h.9M179.2 400.1h.9M176.8 400.0h.9M176.6 400.6h.9M171.8 398.3h.9M177.4 401.2h.9M180.6 402.1h.9M178.0 397.5h.9M180.3 396.5h.9M175.3 401.4h.9M173.9 404.0h.9M181.9 398.0h.9M173.4 401.8h.9M177.3 407.1h.9M180.4 407.6h.9M171.9 397.8h.9M174.0 397.3h.9M172.5 405.9h.9M179.0 403.8h.9M180.1 401.1h.9M175.0 403.8h.9M184.1 396.2h.9M182.6 402.8h.9M174.2 397.5h.9M177.4 400.1h.9M179.7 400.7h.9M172.5 401.3h.9M175.4 404.2h.9M181.8 402.2h.9M181.6 401.1h.9M176.8 407.1h.9M170.4 403.9h.9M185.5 404.9h.9M174.8 404.2h.9M178.0 402.6h.9M175.6 400.1h.9M182.3 399.0h.9M173.0 398.4h.9M172.3 402.5h.9M183.6 406.3h.9M169.4 399.1h.9M180.1 402.7h.9M177.2 404.5h.9M181.2 400.3h.9M170.1 400.5h.9M180.4 402.8h.9M181.1 402.7h.9M169.2 397.6h.9M183.9 403.9h.9M181.8 404.4h.9M176.8 404.1h.9M174.6 403.0h.9M177.5 397.3h.9M170.4 397.7h.9M179.5 401.7h.9M176.9 400.8h.9M177.9 406.1h.9M176.1 398.3h.9M176.7 398.3h.9M180.7 402.0h.9M178.6 403.7h.9M172.8 398.7h.9M176.2 397.9h.9M177.9 397.8h.9M172.9 398.1h.9M181.7 404.0h.9M182.0 402.8h.9M179.4 400.2h.9M176.5 401.3h.9M181.4 395.4h.9M181.7 404.0h.9M177.5 406.3h.9M180.4 401.8h.9M178.3 403.5h.9M174.1 405.5h.9M169.8 399.2h.9M177.7 399.2h.9M170.5 404.1h.9M167.1 403.5h.9M176.7 402.0h.9M179.7 397.2h.9M174.7 393.8h.9M168.9 401.7h.9M185.8 401.9h.9M174.9 403.5h.9M179.5 404.4h.9M183.1 403.3h.9M178.3 396.4h.9M175.6 399.9h.9M175.7 402.4h.9M178.1 399.2h.9M180.6 401.5h.9M174.7 402.2h.9M176.0 402.8h.9M183.1 396.7h.9M178.3 400.3h.9M179.1 404.9h.9M185.6 401.2h.9M174.6 406.8h.9M181.3 402.2h.9M182.3 398.2h.9M181.0 402.7h.9M178.3 398.2h.9M179.7 408.5h.9M171.7 405.7h.9M179.2 403.2h.9M176.1 408.0h.9M178.3 399.8h.9M175.6 404.3h.9M182.6 395.9h.9M172.2 399.6h.9M167.4 398.8h.9M174.7 403.4h.9M182.5 400.5h.9M181.4 393.2h.9M175.0 398.9h.9M179.4 400.7h.9M183.1 400.1h.9M177.1 396.8h.9M182.9 397.5h.9M184.5 401.4h.9M185.5 403.9h.9M172.0 400.2h.9M174.7 398.9h.9M177.8 401.6h.9M175.0 398.9h.9M180.4 400.6h.9M176.4 407.2h.9M178.2 399.9h.9M179.1 403.6h.9M180.9 401.5h.9M172.3 401.7h.9M185.4 401.2h.9M177.7 397.9h.9M175.0 400.3h.9M173.6 402.8h.9M175.2 397.2h.9M172.6 400.5h.9M166.4 405.9h.9M181.1 401.7h.9M173.7 398.3h.9M175.5 405.9h.9M179.4 403.7h.9M182.1 397.9h.9M170.6 400.3h.9M172.3 402.2h.9M177.1 401.4h.9M175.9 398.2h.9M179.5 398.4h.9M178.3 396.7h.9M173.6 399.2h.9M181.7 406.0h.9M178.4 404.2h.9M178.4 405.9h.9M171.4 400.6h.9M179.6 404.6h.9M175.2 398.4h.9M177.0 398.7h.9M172.2 396.8h.9M174.6 403.1h.9M179.2 401.8h.9M179.2 399.5h.9M182.5 397.6h.9M174.7 400.9h.9M169.5 401.2h.9M184.2 401.1h.9M180.8 399.0h.9M176.8 398.4h.9M174.8 394.5h.9M182.0 404.3h.9M178.5 402.1h.9M178.3 402.6h.9M181.0 404.6h.9M176.5 400.9h.9M181.6 401.8h.9M180.6 402.4h.9M180.6 399.5h.9M176.5 400.4h.9M177.1 404.5h.9M177.9 403.1h.9M179.7 403.6h.9M186.8 400.9h.9M173.9 398.9h.9M177.2 404.1h.9M174.9 401.8h.9M176.6 397.4h.9M171.7 397.5h.9M176.0 402.4h.9M175.6 406.0h.9M176.4 399.9h.9M173.1 401.2h.9M178.9 403.6h.9M178.1 401.1h.9M177.2 404.3h.9M173.7 397.4h.9M172.7 399.2h.9M182.1 402.3h.9M180.8 403.1h.9M177.0 405.4h.9M173.3 401.1h.9M176.2 398.5h.9M176.0 401.9h.9M179.5 404.9h.9M173.0 399.7h.9M180.2 401.0h.9M180.8 396.4h.9M179.6 400.8h.9M177.6 403.3h.9M176.3 397.0h.9M175.3 397.8h.9M185.4 395.6h.9M179.1 397.2h.9M179.5 398.8h.9M170.8 399.5h.9M180.5 405.6h.9M184.6 407.3h.9M178.3 402.7h.9M178.7 401.1h.9M174.9 400.5h.9M178.1 398.2h.9M174.9 398.4h.9M178.6 401.2h.9M178.7 401.8h.9M180.1 397.3h.9M175.6 401.1h.9M185.0 396.6h.9M177.0 396.0h.9M182.3 399.8h.9M177.7 401.5h.9M177.8 403.1h.9M181.4 404.1h.9M172.0 397.4h.9M177.8 401.5h.9M180.0 398.1h.9M176.8 399.3h.9M179.1 399.6h.9M184.9 401.6h.9M176.3 401.7h.9M182.9 399.7h.9M172.8 402.1h.9M178.6 400.1h.9M179.8 403.9h.9M178.0 408.2h.9M175.7 400.4h.9M171.3 405.7h.9M181.3 403.5h.9M174.0 407.0h.9M187.0 401.0h.9M170.4 402.5h.9M173.4 400.3h.9M182.7 400.0h.9M180.5 402.5h.9M180.6 403.2h.9M177.8 400.5h.9M177.0 396.1h.9M181.0 398.9h.9M175.2 397.1h.9M176.7 398.5h.9M179.0 399.0h.9M179.4 400.5h.9M178.4 397.5h.9M178.0 397.0h.9M177.5 395.8h.9M177.2 401.0h.9M180.3 401.4h.9M179.9 402.8h.9M173.9 399.7h.9M167.1 403.1h.9M183.3 397.0h.9M176.9 400.8h.9M173.9 399.0h.9M181.1 399.8h.9M178.7 399.1h.9M174.3 404.5h.9M173.0 401.1h.9M178.5 400.8h.9M187.7 398.8h.9M178.0 397.8h.9M177.9 394.3h.9M173.1 397.3h.9M179.6 399.4h.9M181.9 392.5h.9M177.5 398.0h.9M175.9 403.0h.9M178.1 402.0h.9M174.0 399.1h.9M178.8 398.1h.9M176.6 402.2h.9M178.5 398.5h.9M177.0 399.4h.9M174.1 402.6h.9M177.3 403.0h.9M184.6 401.0h.9M183.1 401.3h.9M175.9 403.3h.9M177.6 400.0h.9M180.9 399.7h.9M178.1 403.2h.9M174.6 400.4h.9M175.4 396.6h.9M176.1 397.5h.9M170.6 400.8h.9M174.9 400.6h.9M176.7 403.4h.9M182.5 403.0h.9M178.0 402.5h.9M170.7 402.5h.9M178.8 401.6h.9M174.9 402.6h.9M182.0 397.4h.9M178.1 397.8h.9M169.6 400.5h.9M178.1 401.2h.9M176.7 401.9h.9M180.1 397.5h.9M171.8 400.8h.9M181.0 404.3h.9M174.3 399.0h.9M183.1 403.6h.9M178.1 400.6h.9M177.6 398.8h.9M188.3 399.6h.9M173.5 400.5h.9M181.1 400.3h.9M170.8 403.6h.9M176.3 403.5h.9M174.7 401.8h.9M182.7 403.0h.9M181.9 400.4h.9M179.4 401.4h.9M175.0 404.1h.9M178.5 396.8h.9M172.6 403.9h.9M178.8 399.2h.9M180.3 399.7h.9M176.3 402.4h.9M180.4 406.6h.9M183.4 401.9h.9M174.9 402.3h.9M177.9 406.3h.9M181.1 399.4h.9M173.8 403.9h.9M182.8 401.3h.9M172.9 399.8h.9M177.6 399.2h.9M172.2 397.7h.9M181.6 397.3h.9M179.5 397.4h.9M170.1 397.7h.9M179.7 405.2h.9M174.4 395.1h.9M185.1 403.1h.9M182.7 397.4h.9M180.4 398.0h.9M182.7 400.1h.9M174.4 397.8h.9M181.0 398.4h.9M173.1 400.1h.9M176.2 398.3h.9M183.5 404.1h.9M181.4 395.2h.9M170.2 396.4h.9M176.8 400.8h.9M181.5 400.4h.9M186.0 400.6h.9M183.3 399.0h.9M172.2 401.5h.9M179.1 401.4h.9M179.6 403.0h.9M178.1 400.1h.9M182.1 399.6h.9M176.9 400.5h.9M170.8 401.1h.9M173.8 400.1h.9M176.0 401.7h.9M183.0 403.7h.9M178.4 404.5h.9M171.9 403.4h.9M183.7 398.1h.9M180.3 398.4h.9M175.8 401.2h.9M177.6 400.5h.9M171.4 399.5h.9M180.2 400.9h.9M178.4 395.3h.9M174.3 405.5h.9M183.4 401.0h.9M171.8 400.3h.9M182.0 401.0h.9M180.5 397.1h.9M178.5 402.6h.9M175.3 399.0h.9M182.5 400.5h.9M176.2 400.0h.9M177.5 397.4h.9M175.5 405.6h.9M176.0 403.6h.9M178.6 400.8h.9M180.3 403.3h.9M180.5 399.5h.9M177.5 403.2h.9M175.6 407.1h.9M171.1 398.0h.9M173.2 402.5h.9M175.6 403.6h.9M176.0 399.3h.9M175.0 401.6h.9M183.2 400.1h.9M178.7 399.2h.9M176.0 402.6h.9M180.5 398.7h.9M174.9 405.2h.9M171.9 402.4h.9M174.1 402.9h.9M184.2 398.9h.9M179.5 397.9h.9M179.2 402.4h.9M177.8 403.0h.9M178.3 402.3h.9M177.2 393.4h.9M171.6 401.7h.9M179.1 401.1h.9M182.8 400.3h.9M175.3 399.8h.9M182.1 403.1h.9M186.1 403.6h.9M183.3 399.0h.9M182.8 400.1h.9M178.8 401.5h.9M178.6 401.0h.9M176.8 398.8h.9M177.6 404.8h.9M180.7 399.1h.9M184.4 400.7h.9M171.2 398.0h.9M169.4 403.2h.9M177.7 399.9h.9M178.2 401.3h.9M184.3 398.7h.9M177.6 400.5h.9M183.4 398.1h.9M178.4 402.8h.9M174.7 400.9h.9M175.3 405.1h.9M174.7 404.7h.9M176.4 397.4h.9M178.0 397.8h.9M173.3 403.2h.9M180.0 406.3h.9M177.2 400.3h.9M174.7 404.0h.9M175.3 400.7h.9M178.2 395.8h.9M176.7 401.6h.9M179.4 398.7h.9M179.1 393.8h.9M175.6 401.8h.9M180.9 405.7h.9M180.1 400.8h.9M180.2 405.8h.9M178.7 403.7h.9M182.1 397.9h.9M176.0 401.3h.9M173.0 400.3h.9M182.8 401.7h.9M177.1 400.0h.9M179.1 400.8h.9M173.4 402.3h.9M171.9 398.4h.9M182.2 401.0h.9M180.1 400.6h.9M172.0 401.1h.9M170.5 407.9h.9M171.7 402.5h.9M176.6 397.4h.9M180.9 400.3h.9M173.7 394.0h.9M176.2 406.3h.9M182.9 396.7h.9M182.1 401.7h.9M179.3 404.3h.9M172.6 399.1h.9M184.7 400.0h.9M176.2 397.3h.9M177.1 403.4h.9M184.7 403.3h.9M177.4 400.3h.9M181.2 401.0h.9M176.4 395.5h.9M174.4 400.5h.9M176.6 400.8h.9M182.0 394.7h.9M179.0 400.7h.9M170.5 402.0h.9M177.2 395.9h.9M177.8 402.3h.9M176.2 402.7h.9M174.8 401.4h.9M177.4 402.7h.9M173.0 408.0h.9M171.7 405.3h.9M178.1 401.3h.9M182.0 399.0h.9M172.0 404.3h.9M185.6 408.7h.9M180.2 393.9h.9M179.7 403.8h.9M179.1 403.4h.9M181.6 403.2h.9M177.1 397.3h.9M175.1 403.2h.9M182.6 405.4h.9M179.6 398.5h.9M180.2 398.1h.9M180.2 398.4h.9M180.9 403.3h.9M175.5 402.7h.9M180.1 400.3h.9M178.5 401.2h.9M171.0 400.0h.9M187.5 402.8h.9M170.7 402.5h.9M180.2 402.0h.9M180.7 404.5h.9M186.0 405.5h.9M178.8 396.4h.9M171.1 403.6h.9M179.0 401.3h.9M183.5 398.0h.9M173.0 399.1h.9M178.5 398.2h.9M177.9 400.4h.9M177.2 400.6h.9M171.6 403.1h.9M181.4 396.1h.9M175.5 402.5h.9M178.6 396.7h.9M177.7 399.1h.9M182.9 403.3h.9M183.6 399.1h.9M180.2 399.2h.9M180.4 400.9h.9M173.6 399.3h.9M177.0 403.6h.9M172.2 408.4h.9M179.3 401.8h.9M179.0 400.1h.9M177.4 405.2h.9M172.1 402.3h.9M181.6 405.0h.9M171.3 402.3h.9M170.6 399.7h.9M178.2 401.4h.9M176.6 403.0h.9M181.3 401.9h.9M174.6 400.2h.9M179.3 403.2h.9M178.3 397.6h.9M175.7 401.9h.9M172.2 400.4h.9M175.9 403.7h.9M182.0 398.3h.9M183.4 405.8h.9M175.8 400.7h.9M175.4 399.1h.9M171.7 393.4h.9M178.2 405.9h.9M172.9 402.9h.9M175.0 401.6h.9M176.8 402.6h.9M179.7 403.0h.9M180.9 405.1h.9M173.4 399.6h.9M182.2 398.6h.9M181.8 401.7h.9M182.4 401.9h.9M177.4 401.5h.9M171.2 402.7h.9M178.2 404.2h.9M179.8 398.5h.9M177.8 402.7h.9M178.0 404.1h.9M178.1 401.8h.9M172.0 403.5h.9M182.6 399.6h.9M174.0 400.5h.9M185.3 406.6h.9M178.4 398.5h.9M175.1 397.8h.9M174.1 402.9h.9M178.9 400.0h.9M179.4 402.7h.9M184.8 399.1h.9M184.6 404.8h.9M175.3 403.2h.9M176.1 404.9h.9M179.7 400.2h.9M182.7 402.3h.9M174.7 401.3h.9M182.1 402.2h.9M175.9 400.9h.9M180.9 405.7h.9M176.0 403.2h.9M181.2 404.6h.9M184.1 398.6h.9M178.1 402.3h.9M180.6 404.4h.9M181.4 399.1h.9M173.5 401.5h.9M180.3 397.3h.9M176.7 402.2h.9M178.3 404.3h.9M174.0 402.4h.9M177.2 407.2h.9M171.3 404.7h.9M171.7 402.8h.9M178.6 397.8h.9M174.6 402.0h.9M181.4 402.3h.9M173.0 400.0h.9M184.2 400.7h.9M169.3 399.0h.9M172.1 397.5h.9M182.3 399.5h.9M175.4 401.5h.9M176.2 399.6h.9M171.2 398.9h.9M179.8 402.5h.9M175.4 397.6h.9M174.0 402.5h.9M175.6 400.7h.9M181.0 397.4h.9M174.1 398.7h.9M183.2 400.0h.9M176.2 396.6h.9M180.6 401.6h.9M178.0 400.6h.9M170.3 402.2h.9M182.0 399.8h.9M177.8 403.0h.9M174.7 401.4h.9M183.1 397.6h.9M185.0 404.0h.9M171.7 397.3h.9M179.4 401.7h.9M174.7 405.1h.9M181.8 403.9h.9M171.0 400.1h.9M186.2 397.0h.9M178.8 402.8h.9M180.9 400.0h.9M171.0 399.9h.9M182.0 403.7h.9M175.6 402.9h.9M181.1 399.1h.9M174.6 400.8h.9M178.4 406.6h.9M179.2 400.6h.9M183.0 399.7h.9M173.7 401.2h.9M173.3 394.3h.9M179.0 398.0h.9M173.8 401.5h.9M182.5 401.4h.9M176.3 397.0h.9M175.6 401.3h.9M181.5 404.0h.9M181.1 400.2h.9M174.1 398.4h.9M178.9 397.5h.9M176.6 403.1h.9M178.9 401.3h.9M173.3 402.3h.9M179.2 403.1h.9M176.5 400.0h.9M173.0 397.0h.9M178.0 401.1h.9M176.6 398.6h.9M183.4 397.3h.9M179.7 399.9h.9M177.9 401.3h.9M174.5 403.4h.9M177.8 401.4h.9M177.4 398.7h.9M187.7 400.0h.9M175.4 407.9h.9M173.2 403.1h.9M186.7 402.3h.9M179.2 402.2h.9M171.4 403.5h.9M182.2 401.4h.9M174.2 402.8h.9M183.1 401.9h.9M174.6 401.9h.9M174.5 396.3h.9M179.9 398.9h.9M170.5 402.1h.9M177.3 401.5h.9M180.6 400.0h.9M178.4 402.4h.9M180.7 398.6h.9M174.6 404.0h.9M184.9 401.9h.9M178.4 396.2h.9M182.5 402.0h.9M174.9 402.8h.9M175.7 400.5h.9M177.7 402.8h.9M185.2 401.5h.9M174.2 402.1h.9M175.0 398.2h.9M173.4 399.5h.9M168.9 401.4h.9M174.7 404.0h.9M172.4 400.2h.9M172.4 400.6h.9M175.8 403.3h.9M178.5 402.2h.9M174.3 400.5h.9M174.2 398.8h.9M173.6 399.3h.9M176.3 396.1h.9M178.3 399.9h.9M176.7 405.3h.9M190.0 395.3h.9M174.7 400.1h.9M173.5 401.8h.9M176.9 401.7h.9M179.1 403.1h.9M178.9 401.6h.9M175.5 401.9h.9M180.7 400.2h.9M177.6 401.5h.9M178.4 396.9h.9M177.4 401.6h.9M171.7 401.0h.9M178.1 396.0h.9M185.1 402.0h.9M182.3 400.3h.9M178.2 398.3h.9M176.3 400.5h.9M179.6 405.4h.9M170.5 400.3h.9M182.1 400.4h.9M172.1 405.1h.9M184.0 403.6h.9M178.6 401.3h.9M176.4 403.2h.9M181.4 397.6h.9M182.5 400.0h.9M178.6 400.7h.9M179.0 401.5h.9M183.6 399.8h.9M179.1 404.1h.9M182.6 396.5h.9M183.6 404.4h.9M180.8 399.5h.9M170.2 401.4h.9M179.0 396.2h.9M176.5 400.3h.9M177.2 404.8h.9M170.6 400.3h.9M174.6 403.3h.9M183.5 405.7h.9M176.6 407.7h.9M178.7 408.0h.9M172.9 398.4h.9M176.9 399.8h.9M169.5 401.3h.9M168.6 399.0h.9M178.8 397.2h.9M177.1 399.7h.9M174.9 402.9h.9M173.2 404.0h.9M171.8 402.4h.9M175.6 401.2h.9M173.3 399.7h.9M175.9 400.8h.9M176.8 406.0h.9M178.0 397.2h.9M181.7 403.4h.9M170.9 405.8h.9M177.5 401.7h.9M175.9 400.2h.9M177.2 402.0h.9M182.8 403.3h.9M179.5 400.9h.9M173.3 399.4h.9M181.1 402.3h.9M174.7 401.0h.9M183.8 402.9h.9M179.3 405.1h.9M178.1 397.6h.9M176.9 400.2h.9M180.2 400.4h.9M176.4 401.0h.9M174.7 398.4h.9M171.4 402.7h.9M177.7 400.4h.9M179.3 402.1h.9M168.6 400.1h.9M169.5 405.8h.9M173.0 404.8h.9M174.6 399.6h.9M173.4 395.5h.9M182.7 396.2h.9M175.7 399.5h.9M177.0 404.5h.9M170.2 401.2h.9M174.7 401.7h.9M176.6 398.9h.9M182.4 401.3h.9M176.3 400.6h.9M175.7 402.4h.9M177.9 400.0h.9M175.0 395.3h.9M173.2 401.4h.9"/>
<path stroke="#ff3020" stroke-opacity="0.45" stroke-width="0.85" d="M184.2 437.7h.85M195.3 451.7h.85M177.8 450.2h.85M173.7 446.9h.85M182.1 429.4h.85M192.6 429.3h.85M185.8 442.4h.85M190.9 450.9h.85M185.0 419.1h.85M188.9 436.2h.85M192.5 454.1h.85M182.3 447.4h.85M176.9 446.0h.85M171.6 449.9h.85M180.2 425.2h.85M189.9 451.4h.85M198.6 446.1h.85M169.7 432.0h.85M193.7 444.3h.85M173.7 441.7h.85M179.0 453.6h.85M190.0 435.0h.85M186.2 452.3h.85M178.9 442.5h.85M174.7 448.6h.85M171.1 440.8h.85M182.5 440.8h.85M187.2 444.4h.85M188.2 452.4h.85M179.0 453.6h.85M177.2 438.6h.85M177.9 448.2h.85M178.3 439.9h.85M181.3 442.8h.85M199.3 443.5h.85M180.5 444.0h.85M176.8 436.7h.85M183.7 448.3h.85M179.6 439.2h.85M190.7 430.3h.85M172.8 443.5h.85M199.2 440.3h.85M195.6 442.5h.85M165.9 456.2h.85M189.8 438.6h.85M179.4 454.1h.85M183.5 452.1h.85M189.7 441.4h.85M181.0 450.5h.85M200.4 445.5h.85M172.2 445.9h.85M172.8 443.6h.85M186.2 440.2h.85M178.7 439.1h.85M186.7 448.3h.85M182.6 440.7h.85M170.1 426.8h.85M180.7 449.6h.85M168.6 445.1h.85M185.0 449.7h.85M190.5 443.8h.85M196.1 445.1h.85M172.7 441.4h.85M183.6 451.7h.85M184.6 445.6h.85M173.9 440.9h.85M187.3 429.4h.85M188.7 448.5h.85M178.6 447.3h.85M189.9 450.0h.85M191.5 438.0h.85M179.7 435.3h.85M168.0 449.1h.85M185.6 432.8h.85M188.5 447.5h.85M180.1 415.1h.85M181.4 440.1h.85M190.1 442.7h.85M177.9 448.8h.85M189.7 453.8h.85M190.1 431.6h.85M181.2 447.6h.85M171.1 436.4h.85M175.2 446.9h.85M174.2 452.2h.85M187.4 453.3h.85M182.6 448.8h.85M174.7 437.9h.85M185.8 444.4h.85M188.7 447.5h.85M185.7 425.6h.85M196.0 437.1h.85M191.2 435.4h.85M189.6 451.1h.85M179.6 440.1h.85M173.1 439.6h.85M181.6 437.4h.85M173.7 425.4h.85M178.6 443.8h.85M195.6 435.6h.85M171.6 442.6h.85M182.4 455.1h.85M191.1 445.5h.85M185.4 443.4h.85M187.9 453.5h.85M189.7 434.1h.85M169.9 448.3h.85M174.0 438.0h.85M185.3 454.1h.85M172.9 449.8h.85M182.6 436.7h.85M186.1 439.4h.85M186.0 445.7h.85M191.9 428.2h.85M194.9 446.5h.85M184.0 437.0h.85M190.1 439.7h.85M176.9 431.4h.85M192.8 437.4h.85M179.0 446.5h.85M187.5 455.8h.85M178.4 433.7h.85M179.8 436.4h.85M176.7 435.2h.85M185.9 450.7h.85M187.5 426.6h.85M167.6 451.8h.85M171.3 450.3h.85M175.4 440.5h.85M202.9 448.1h.85M179.5 438.0h.85M186.9 454.6h.85M188.4 457.0h.85M193.5 453.9h.85M185.4 441.0h.85M177.4 442.7h.85M178.2 441.4h.85M169.2 428.5h.85M204.0 456.1h.85M183.8 451.1h.85M189.2 442.9h.85M173.5 452.5h.85M187.3 434.5h.85M188.4 441.8h.85M200.5 424.5h.85M186.9 436.0h.85M183.1 428.9h.85M184.7 442.0h.85M169.8 446.3h.85M184.2 434.8h.85M191.6 441.6h.85M183.2 452.5h.85M172.0 444.1h.85M188.8 432.1h.85M196.2 448.7h.85M176.0 455.4h.85M180.6 438.6h.85M175.0 448.2h.85M181.9 445.4h.85M185.3 441.3h.85M182.8 441.5h.85M187.7 446.3h.85M175.1 439.2h.85M174.8 444.6h.85M193.9 443.1h.85M195.5 430.4h.85M184.2 452.0h.85M174.9 441.5h.85M181.8 441.2h.85M170.7 445.7h.85M176.3 444.8h.85M183.1 445.5h.85M179.8 443.8h.85M179.7 443.1h.85M180.2 443.1h.85M193.4 450.6h.85M166.3 440.4h.85M170.4 454.9h.85M182.3 436.3h.85M190.9 421.9h.85M191.9 450.9h.85M182.3 431.7h.85M177.7 435.1h.85M203.7 422.2h.85M177.9 453.2h.85M192.3 432.2h.85M198.4 418.4h.85M193.8 441.8h.85M215.5 443.7h.85M172.3 449.7h.85M182.1 434.8h.85M208.1 446.9h.85M185.4 419.0h.85M210.0 438.3h.85M198.8 443.2h.85M195.5 451.1h.85M205.7 428.5h.85M199.0 434.5h.85M193.1 444.7h.85M194.8 426.4h.85M214.3 434.2h.85M216.9 441.5h.85M207.4 437.5h.85M176.4 436.6h.85M194.1 433.9h.85M168.1 441.0h.85M188.6 430.2h.85M205.6 447.9h.85M182.7 427.3h.85M202.7 444.9h.85M202.8 435.9h.85M218.6 438.6h.85M188.7 424.6h.85M205.7 432.1h.85M201.2 447.9h.85M189.9 448.6h.85M211.1 437.1h.85M180.4 419.5h.85M180.0 425.1h.85M188.3 444.4h.85M198.8 432.9h.85M208.4 435.6h.85M222.1 434.4h.85M201.1 425.7h.85M203.3 444.0h.85M200.9 444.1h.85M216.0 453.5h.85M190.8 426.1h.85M190.3 434.8h.85M211.9 425.2h.85M182.1 442.2h.85M186.3 434.3h.85M185.2 455.4h.85M198.0 427.8h.85M204.0 443.4h.85M209.4 435.4h.85M197.4 426.3h.85M202.4 422.5h.85M198.5 451.3h.85M208.1 419.0h.85M196.5 438.9h.85M195.4 444.6h.85M217.3 444.6h.85M214.1 424.6h.85M211.7 452.5h.85M181.6 431.0h.85M170.9 436.5h.85M185.9 431.1h.85M191.6 450.4h.85M193.7 437.6h.85M181.3 444.4h.85M190.1 429.1h.85M192.1 434.3h.85M196.5 447.8h.85M198.6 445.3h.85M214.0 429.2h.85M197.7 439.4h.85M223.5 447.8h.85M181.0 410.7h.85M198.7 421.6h.85M181.8 422.9h.85M191.9 429.8h.85M219.4 435.6h.85M206.1 414.8h.85M211.4 425.1h.85M194.4 435.1h.85M208.4 433.1h.85M205.1 435.9h.85M199.2 455.1h.85M219.9 429.3h.85M196.7 442.8h.85M188.7 435.8h.85M200.5 448.0h.85M183.6 422.7h.85M197.4 449.3h.85M180.4 434.0h.85M183.3 425.7h.85M193.5 423.7h.85M195.7 448.0h.85M195.4 447.5h.85M204.7 432.9h.85M186.2 439.1h.85M191.1 430.9h.85M175.9 456.8h.85M197.0 444.7h.85M204.0 408.7h.85M189.7 454.7h.85M199.2 448.9h.85M199.2 443.3h.85M190.3 432.3h.85M172.6 416.6h.85M211.7 428.9h.85M186.5 443.2h.85M207.0 440.7h.85M204.7 442.9h.85M209.9 426.0h.85M187.0 422.4h.85M200.1 431.9h.85M204.4 437.6h.85M211.2 436.5h.85M206.1 429.6h.85M209.1 422.4h.85M223.6 442.3h.85M206.0 448.3h.85M195.1 437.4h.85M188.1 435.4h.85M198.0 443.0h.85M188.9 429.5h.85M208.0 417.9h.85M220.2 431.4h.85M200.1 449.5h.85M227.2 429.9h.85M173.8 432.1h.85M168.8 421.9h.85M166.9 444.5h.85M192.8 436.0h.85M204.2 442.8h.85M175.3 445.4h.85M186.4 421.5h.85M188.9 421.8h.85M182.9 416.1h.85M183.7 434.3h.85M187.1 447.2h.85M188.3 431.4h.85M218.8 443.0h.85M215.2 437.4h.85M209.1 427.9h.85M215.6 445.6h.85M220.8 454.6h.85M214.2 440.0h.85M215.0 441.2h.85M206.3 433.0h.85M214.3 434.4h.85M219.0 429.5h.85M223.7 428.5h.85M213.2 424.6h.85M215.6 442.5h.85M214.8 431.1h.85M219.7 436.1h.85M207.2 440.6h.85M217.3 445.7h.85M213.4 433.3h.85M212.0 430.6h.85M216.5 434.5h.85M212.2 439.0h.85M217.7 447.5h.85M217.0 430.1h.85M221.3 453.5h.85M214.7 437.2h.85M206.5 435.9h.85M207.0 446.3h.85M203.2 433.9h.85M217.2 430.0h.85M208.7 449.6h.85M201.4 433.7h.85M226.4 444.3h.85M204.2 432.6h.85M204.1 442.1h.85M209.5 434.3h.85M206.2 444.4h.85M195.8 425.9h.85M216.1 428.1h.85M220.3 436.9h.85M218.9 438.2h.85M214.7 436.6h.85M216.0 425.9h.85M204.4 442.8h.85M220.3 438.7h.85M207.1 435.0h.85M219.1 441.6h.85M206.7 448.4h.85M203.3 432.9h.85M200.6 440.1h.85M226.3 437.2h.85M211.0 435.1h.85M212.5 441.4h.85M217.9 439.3h.85M221.9 425.9h.85M211.8 439.5h.85M212.4 449.9h.85M213.6 429.3h.85M213.0 445.0h.85M223.4 439.3h.85M218.7 440.2h.85M201.0 398.5h.85M206.3 402.9h.85M206.1 411.1h.85M202.5 416.1h.85M202.9 414.9h.85M197.5 407.7h.85M216.9 412.5h.85M193.6 412.2h.85M200.5 412.5h.85M194.1 411.7h.85M204.0 408.9h.85M195.8 407.7h.85M210.7 415.3h.85M197.6 408.0h.85M210.7 413.2h.85M198.3 413.3h.85M201.3 408.1h.85M197.1 411.5h.85M204.7 413.0h.85M204.8 407.5h.85M196.6 404.6h.85M204.7 406.0h.85M204.2 400.5h.85M201.6 408.1h.85M199.1 406.2h.85M197.1 399.9h.85M212.8 406.9h.85M205.7 417.7h.85M200.5 412.4h.85M214.3 413.0h.85M200.1 404.1h.85M200.3 414.1h.85M221.6 404.5h.85M201.6 415.0h.85M199.0 415.3h.85M210.3 406.6h.85M204.5 412.9h.85M194.0 406.8h.85M197.8 403.4h.85M209.4 406.6h.85M201.4 411.6h.85M207.7 408.2h.85M202.7 414.3h.85M200.8 411.5h.85M200.9 411.4h.85M203.5 414.3h.85M203.0 408.9h.85M193.7 399.9h.85M214.5 413.5h.85M192.0 417.1h.85M168.5 402.2h.85M185.3 412.9h.85M189.7 403.1h.85M176.9 398.8h.85M170.8 395.9h.85M167.4 403.9h.85M177.3 394.9h.85M188.1 387.2h.85M179.2 400.0h.85M173.4 387.1h.85M180.8 403.8h.85M170.6 407.4h.85M174.4 404.9h.85M173.8 398.5h.85M175.1 403.5h.85M175.1 410.0h.85M179.4 398.0h.85M170.3 390.7h.85M187.1 411.3h.85M180.8 402.3h.85M170.4 404.7h.85M174.6 405.3h.85M173.1 417.6h.85M180.0 399.0h.85M183.1 398.0h.85M170.5 400.7h.85M174.4 408.7h.85M186.3 409.3h.85M181.6 413.5h.85M187.2 406.2h.85M186.5 405.1h.85M186.3 393.2h.85M173.6 416.1h.85M176.1 397.4h.85M176.0 400.9h.85M182.2 403.4h.85M167.8 407.1h.85M188.5 410.6h.85M184.6 408.6h.85M178.6 399.9h.85M177.9 394.2h.85M173.6 399.1h.85M179.5 401.1h.85M185.3 405.6h.85M170.9 398.1h.85M183.5 406.5h.85M176.0 395.3h.85M174.3 405.6h.85M182.2 408.0h.85M174.7 405.5h.85M191.8 389.0h.85M174.9 401.0h.85M182.3 397.7h.85M184.7 392.3h.85M180.6 401.6h.85M170.0 402.6h.85M185.8 398.9h.85M170.5 402.2h.85M173.6 398.5h.85"/>
<ellipse cx="178" cy="400.3" rx="7" ry="5" fill="url(#core)"/>
<rect x="35" y="388.1" width="22.5" height="22.099999999999966" fill="none" stroke="#555" stroke-width="1.1"/>
<text x="35.3" y="385.8" font-size="7.4" text-anchor="start" font-weight="normal" fill="#333" font-family='"Liberation Sans", sans-serif' ></text>
<rect x="166.2" y="388.3" width="23.100000000000023" height="24.5" fill="none" stroke="#555" stroke-width="1.1"/>
<text x="166.5" y="386.0" font-size="7.4" text-anchor="start" font-weight="normal" fill="#333" font-family='"Liberation Sans", sans-serif' ></text>
<text x="37.8" y="387" font-size="9.9" text-anchor="start" font-weight="normal" fill="#222" font-family='"Liberation Sans", sans-serif' textLength="20.4" lengthAdjust="spacingAndGlyphs" >8.9%</text>
<text x="168.1" y="387" font-size="9.9" text-anchor="start" font-weight="normal" fill="#222" font-family='"Liberation Sans", sans-serif' textLength="25.4" lengthAdjust="spacingAndGlyphs" >91.2%</text>
<line x1="25.7" y1="396" x2="25.7" y2="464.4" stroke="#666" stroke-width="1.2" />
<line x1="25.1" y1="464.4" x2="119.9" y2="464.4" stroke="#666" stroke-width="1.2" />
<text x="0" y="0" font-size="9.7" text-anchor="start" font-weight="normal" fill="#000" font-family='"Liberation Sans", sans-serif' textLength="27" lengthAdjust="spacingAndGlyphs" transform="translate(21.6,437) rotate(-90)">NK1.1</text>
<text x="53.7" y="475.5" font-size="9.3" text-anchor="start" font-weight="normal" fill="#000" font-family='"Liberation Sans", sans-serif' textLength="17.5" lengthAdjust="spacingAndGlyphs" >CD3</text>
<text x="403.6" y="361.2" font-size="12.4" text-anchor="start" font-weight="bold" fill="#000" font-family='"Liberation Sans", sans-serif' textLength="36.2" lengthAdjust="spacingAndGlyphs" >YAC-1</text>
<line x1="344.6" y1="374" x2="344.6" y2="455" stroke="#000" stroke-width="1.6" />
<line x1="344" y1="454.4" x2="486" y2="454.4" stroke="#000" stroke-width="1.6" />
<line x1="341.8" y1="454.4" x2="344.6" y2="454.4" stroke="#000" stroke-width="1" />
<text x="340.6" y="457.79999999999995" font-size="9.6" text-anchor="end" font-weight="normal" fill="#000" font-family='"Liberation Sans", sans-serif' >0</text>
<line x1="341.8" y1="437.05" x2="344.6" y2="437.05" stroke="#000" stroke-width="1" />
<text x="340.6" y="440.44999999999993" font-size="9.6" text-anchor="end" font-weight="normal" fill="#000" font-family='"Liberation Sans", sans-serif' >10</text>
<line x1="341.8" y1="419.7" x2="344.6" y2="419.7" stroke="#000" stroke-width="1" />
<text x="340.6" y="423.09999999999997" font-size="9.6" text-anchor="end" font-weight="normal" fill="#000" font-family='"Liberation Sans", sans-serif' >20</text>
<line x1="341.8" y1="402.35" x2="344.6" y2="402.35" stroke="#000" stroke-width="1" />
<text x="340.6" y="405.74999999999994" font-size="9.6" text-anchor="end" font-weight="normal" fill="#000" font-family='"Liberation Sans", sans-serif' >30</text>
<line x1="341.8" y1="385" x2="344.6" y2="385" stroke="#000" stroke-width="1" />
<text x="340.6" y="388.4" font-size="9.6" text-anchor="end" font-weight="normal" fill="#000" font-family='"Liberation Sans", sans-serif' >40</text>
<line x1="343.9" y1="454.4" x2="343.9" y2="456.8" stroke="#000" stroke-width="1" />
<line x1="357.1" y1="454.4" x2="357.1" y2="456.8" stroke="#000" stroke-width="1" />
<line x1="420.6" y1="454.4" x2="420.6" y2="456.8" stroke="#000" stroke-width="1" />
<line x1="470.7" y1="454.4" x2="470.7" y2="456.8" stroke="#000" stroke-width="1" />
<text x="343.9" y="466.4" font-size="9.6" text-anchor="middle" font-weight="normal" fill="#000" font-family='"Liberation Sans", sans-serif' >1:1</text>
<text x="357.1" y="466.4" font-size="9.6" text-anchor="middle" font-weight="normal" fill="#000" font-family='"Liberation Sans", sans-serif' >5:1</text>
<text x="420.6" y="466.4" font-size="9.6" text-anchor="middle" font-weight="normal" fill="#000" font-family='"Liberation Sans", sans-serif' >30:1</text>
<text x="470.7" y="466.4" font-size="9.6" text-anchor="middle" font-weight="normal" fill="#000" font-family='"Liberation Sans", sans-serif' >50:1</text>
<text x="370.3" y="473.8" font-size="9.5" text-anchor="start" font-weight="normal" fill="#000" font-family='"Liberation Sans", sans-serif' textLength="82.7" lengthAdjust="spacingAndGlyphs" >Effector:Target ratio</text>
<text x="0" y="0" font-size="9.9" text-anchor="start" font-weight="normal" fill="#000" font-family='"Liberation Sans", sans-serif' textLength="72" lengthAdjust="spacingAndGlyphs" transform="translate(325.9,457.5) rotate(-90)">Specific lysis(%)</text>
<polyline points="343.9,452.7 357.1,432.2 420.6,409.6 470.7,397.1" fill="none" stroke="#1c1cd8" stroke-width="1.5"/>
<circle cx="343.9" cy="452.7" r="1.5" fill="#1c1cd8"/>
<line x1="357.1" y1="430.11" x2="357.1" y2="434.27" stroke="#1c1cd8" stroke-width="0.9" />
<line x1="355.1" y1="430.11" x2="359.1" y2="430.11" stroke="#1c1cd8" stroke-width="0.9" />
<line x1="355.1" y1="434.27" x2="359.1" y2="434.27" stroke="#1c1cd8" stroke-width="0.9" />
<circle cx="357.1" cy="432.2" r="1.5" fill="#1c1cd8"/>
<line x1="420.6" y1="407.55" x2="420.6" y2="411.72" stroke="#1c1cd8" stroke-width="0.9" />
<line x1="418.6" y1="407.55" x2="422.6" y2="407.55" stroke="#1c1cd8" stroke-width="0.9" />
<line x1="418.6" y1="411.72" x2="422.6" y2="411.72" stroke="#1c1cd8" stroke-width="0.9" />
<circle cx="420.6" cy="409.6" r="1.5" fill="#1c1cd8"/>
<line x1="470.7" y1="394.54" x2="470.7" y2="399.75" stroke="#1c1cd8" stroke-width="0.9" />
<line x1="468.7" y1="394.54" x2="472.7" y2="394.54" stroke="#1c1cd8" stroke-width="0.9" />
<line x1="468.7" y1="399.75" x2="472.7" y2="399.75" stroke="#1c1cd8" stroke-width="0.9" />
<circle cx="470.7" cy="397.1" r="1.5" fill="#1c1cd8"/>
<polyline points="343.9,451.8 357.1,429.8 420.6,401.1 470.7,387.6" fill="none" stroke="#ee1111" stroke-width="1.5"/>
<circle cx="343.9" cy="451.8" r="1.5" fill="#ee1111"/>
<line x1="357.1" y1="426.64" x2="357.1" y2="432.89" stroke="#ee1111" stroke-width="0.9" />
<line x1="355.1" y1="426.64" x2="359.1" y2="426.64" stroke="#ee1111" stroke-width="0.9" />
<line x1="355.1" y1="432.89" x2="359.1" y2="432.89" stroke="#ee1111" stroke-width="0.9" />
<circle cx="357.1" cy="429.8" r="1.5" fill="#ee1111"/>
<line x1="420.6" y1="398.36" x2="420.6" y2="403.91" stroke="#ee1111" stroke-width="0.9" />
<line x1="418.6" y1="398.36" x2="422.6" y2="398.36" stroke="#ee1111" stroke-width="0.9" />
<line x1="418.6" y1="403.91" x2="422.6" y2="403.91" stroke="#ee1111" stroke-width="0.9" />
<circle cx="420.6" cy="401.1" r="1.5" fill="#ee1111"/>
<line x1="470.7" y1="379.27" x2="470.7" y2="395.93" stroke="#ee1111" stroke-width="0.9" />
<line x1="468.7" y1="379.27" x2="472.7" y2="379.27" stroke="#ee1111" stroke-width="0.9" />
<line x1="468.7" y1="395.93" x2="472.7" y2="395.93" stroke="#ee1111" stroke-width="0.9" />
<circle cx="470.7" cy="387.6" r="1.5" fill="#ee1111"/>
<polyline points="343.9,453.0 357.1,443.6 420.6,425.1 470.7,415.2" fill="none" stroke="#ff44dd" stroke-width="1.5"/>
<circle cx="343.9" cy="453.0" r="1.5" fill="#ff44dd"/>
<circle cx="357.1" cy="443.6" r="1.5" fill="#ff44dd"/>
<line x1="420.6" y1="419.35" x2="420.6" y2="430.8" stroke="#ff44dd" stroke-width="0.9" />
<line x1="418.6" y1="419.35" x2="422.6" y2="419.35" stroke="#ff44dd" stroke-width="0.9" />
<line x1="418.6" y1="430.8" x2="422.6" y2="430.8" stroke="#ff44dd" stroke-width="0.9" />
<circle cx="420.6" cy="425.1" r="1.5" fill="#ff44dd"/>
<line x1="470.7" y1="411.37" x2="470.7" y2="419.01" stroke="#ff44dd" stroke-width="0.9" />
<line x1="468.7" y1="411.37" x2="472.7" y2="411.37" stroke="#ff44dd" stroke-width="0.9" />
<line x1="468.7" y1="419.01" x2="472.7" y2="419.01" stroke="#ff44dd" stroke-width="0.9" />
<circle cx="470.7" cy="415.2" r="1.5" fill="#ff44dd"/>
<polyline points="343.9,452.7 357.1,437.2 420.6,414.1 470.7,407.6" fill="none" stroke="#11bb11" stroke-width="1.5"/>
<circle cx="343.9" cy="452.7" r="1.5" fill="#11bb11"/>
<line x1="357.1" y1="435.49" x2="357.1" y2="438.96" stroke="#11bb11" stroke-width="0.9" />
<line x1="355.1" y1="435.49" x2="359.1" y2="435.49" stroke="#11bb11" stroke-width="0.9" />
<line x1="355.1" y1="438.96" x2="359.1" y2="438.96" stroke="#11bb11" stroke-width="0.9" />
<circle cx="357.1" cy="437.2" r="1.5" fill="#11bb11"/>
<line x1="420.6" y1="409.29" x2="420.6" y2="419.01" stroke="#11bb11" stroke-width="0.9" />
<line x1="418.6" y1="409.29" x2="422.6" y2="409.29" stroke="#11bb11" stroke-width="0.9" />
<line x1="418.6" y1="419.01" x2="422.6" y2="419.01" stroke="#11bb11" stroke-width="0.9" />
<circle cx="420.6" cy="414.1" r="1.5" fill="#11bb11"/>
<line x1="470.7" y1="399.4" x2="470.7" y2="415.71" stroke="#11bb11" stroke-width="0.9" />
<line x1="468.7" y1="399.4" x2="472.7" y2="399.4" stroke="#11bb11" stroke-width="0.9" />
<line x1="468.7" y1="415.71" x2="472.7" y2="415.71" stroke="#11bb11" stroke-width="0.9" />
<circle cx="470.7" cy="407.6" r="1.5" fill="#11bb11"/>
<line x1="348" y1="367.9" x2="359" y2="367.9" stroke="#1c1cd8" stroke-width="1.4" />
<circle cx="353.5" cy="367.9" r="1.3" fill="#1c1cd8"/>
<text x="361.9" y="370.2" font-size="7.1" text-anchor="start" font-weight="normal" fill="#111" font-family='"Liberation Sans", sans-serif' >Control</text>
<line x1="348" y1="376.2" x2="359" y2="376.2" stroke="#ee1111" stroke-width="1.4" />
<circle cx="353.5" cy="376.2" r="1.3" fill="#ee1111"/>
<text x="361.9" y="378.5" font-size="7.1" text-anchor="start" font-weight="normal" fill="#111" font-family='"Liberation Sans", sans-serif' >Poly(I:C)</text>
<line x1="348" y1="384.6" x2="359" y2="384.6" stroke="#ff44dd" stroke-width="1.4" />
<circle cx="353.5" cy="384.6" r="1.3" fill="#ff44dd"/>
<text x="361.9" y="386.90000000000003" font-size="7.1" text-anchor="start" font-weight="normal" fill="#111" font-family='"Liberation Sans", sans-serif' >Sorafenib</text>
<line x1="348" y1="392.7" x2="359" y2="392.7" stroke="#11bb11" stroke-width="1.4" />
<circle cx="353.5" cy="392.7" r="1.3" fill="#11bb11"/>
<text x="361.9" y="395.0" font-size="7.1" text-anchor="start" font-weight="normal" fill="#111" font-family='"Liberation Sans", sans-serif' >Sorafenib+Poly(I:C)</text>
<text x="559.9" y="343.3" font-size="12.6" text-anchor="start" font-weight="bold" fill="#000" font-family='"Liberation Sans", sans-serif' textLength="48.2" lengthAdjust="spacingAndGlyphs" >Hepa1-6</text>
<text x="554" y="351.6" font-size="7.6" text-anchor="start" font-weight="normal" fill="#222" font-family='"Liberation Sans", sans-serif' textLength="76" lengthAdjust="spacingAndGlyphs" >Effector:Target=(30:1)</text>
<line x1="526.4" y1="350.5" x2="526.4" y2="457.8" stroke="#000" stroke-width="1.6" />
<line x1="522.5" y1="457.2" x2="685" y2="457.2" stroke="#000" stroke-width="1.6" />
<line x1="522.8" y1="457.2" x2="526.4" y2="457.2" stroke="#000" stroke-width="1.1" />
<text x="522.3" y="460.7" font-size="9.8" text-anchor="end" font-weight="normal" fill="#000" font-family='"Liberation Sans", sans-serif' >0</text>
<line x1="522.8" y1="419.15" x2="526.4" y2="419.15" stroke="#000" stroke-width="1.1" />
<text x="522.3" y="422.65" font-size="9.8" text-anchor="end" font-weight="normal" fill="#000" font-family='"Liberation Sans", sans-serif' >10</text>
<line x1="522.8" y1="381.1" x2="526.4" y2="381.1" stroke="#000" stroke-width="1.1" />
<text x="522.3" y="384.59999999999997" font-size="9.8" text-anchor="end" font-weight="normal" fill="#000" font-family='"Liberation Sans", sans-serif' >20</text>
<text x="0" y="0" font-size="9.6" text-anchor="start" font-weight="normal" fill="#000" font-family='"Liberation Sans", sans-serif' textLength="68.4" lengthAdjust="spacingAndGlyphs" transform="translate(506.6,443.9) rotate(-90)">Specific lysis(%)</text>
<rect x="554.6" y="396.5" width="12.3" height="60.7" fill="url(#hatch)" stroke="#000" stroke-width="1.2"/>
<line x1="560.75" y1="395.94" x2="560.75" y2="388.71" stroke="#000" stroke-width="1.1" />
<line x1="557.75" y1="388.71" x2="563.75" y2="388.71" stroke="#000" stroke-width="1.1" />
<rect x="588.8000000000001" y="393.5" width="12.3" height="63.7" fill="url(#hatch)" stroke="#000" stroke-width="1.2"/>
<line x1="594.95" y1="392.9" x2="594.95" y2="382.24" stroke="#000" stroke-width="1.1" />
<line x1="591.95" y1="382.24" x2="597.95" y2="382.24" stroke="#000" stroke-width="1.1" />
<rect x="623.0" y="428.9" width="12.3" height="28.3" fill="url(#hatch)" stroke="#000" stroke-width="1.2"/>
<line x1="629.15" y1="428.28" x2="629.15" y2="423.34" stroke="#000" stroke-width="1.1" />
<line x1="626.15" y1="423.34" x2="632.15" y2="423.34" stroke="#000" stroke-width="1.1" />
<rect x="657.1" y="408.0" width="12.3" height="49.2" fill="url(#hatch)" stroke="#000" stroke-width="1.2"/>
<line x1="663.25" y1="407.35" x2="663.25" y2="402.03" stroke="#000" stroke-width="1.1" />
<line x1="660.25" y1="402.03" x2="666.25" y2="402.03" stroke="#000" stroke-width="1.1" />
<polyline points="594.2,375 594.2,369.5 663.4,369.5 663.4,397.5" fill="none" stroke="#666" stroke-width="0.9"/>
<polyline points="628.9,418 628.9,380.2 663.4,380.2" fill="none" stroke="#666" stroke-width="0.9"/>
<text x="624.4" y="368.4" font-size="5.5" text-anchor="middle" font-weight="normal" fill="#333" font-family='"Liberation Sans", sans-serif' >#</text>
<text x="645" y="380" font-size="5.5" text-anchor="middle" font-weight="normal" fill="#333" font-family='"Liberation Sans", sans-serif' >*</text>
<text x="594.5" y="380.5" font-size="5.5" text-anchor="middle" font-weight="normal" fill="#333" font-family='"Liberation Sans", sans-serif' >#</text>
<text x="629" y="421.5" font-size="5.5" text-anchor="middle" font-weight="normal" fill="#333" font-family='"Liberation Sans", sans-serif' >++</text>
<text x="0" y="0" font-size="6.8" text-anchor="end" font-weight="normal" fill="#222" font-family='"Liberation Sans", sans-serif' transform="translate(562.5,464.8) rotate(-22)">Control</text>
<text x="0" y="0" font-size="6.8" text-anchor="end" font-weight="normal" fill="#222" font-family='"Liberation Sans", sans-serif' transform="translate(597.4,464.8) rotate(-22)">Poly(I:C)</text>
<text x="0" y="0" font-size="6.8" text-anchor="end" font-weight="normal" fill="#222" font-family='"Liberation Sans", sans-serif' transform="translate(632.4,464.8) rotate(-22)">Sorafenib</text>
<text x="0" y="0" font-size="6.8" text-anchor="end" font-weight="normal" fill="#222" font-family='"Liberation Sans", sans-serif' transform="translate(668.6,464.8) rotate(-25)">Sorafenib+Poly(I:C)</text>
</svg>
</body></html>
